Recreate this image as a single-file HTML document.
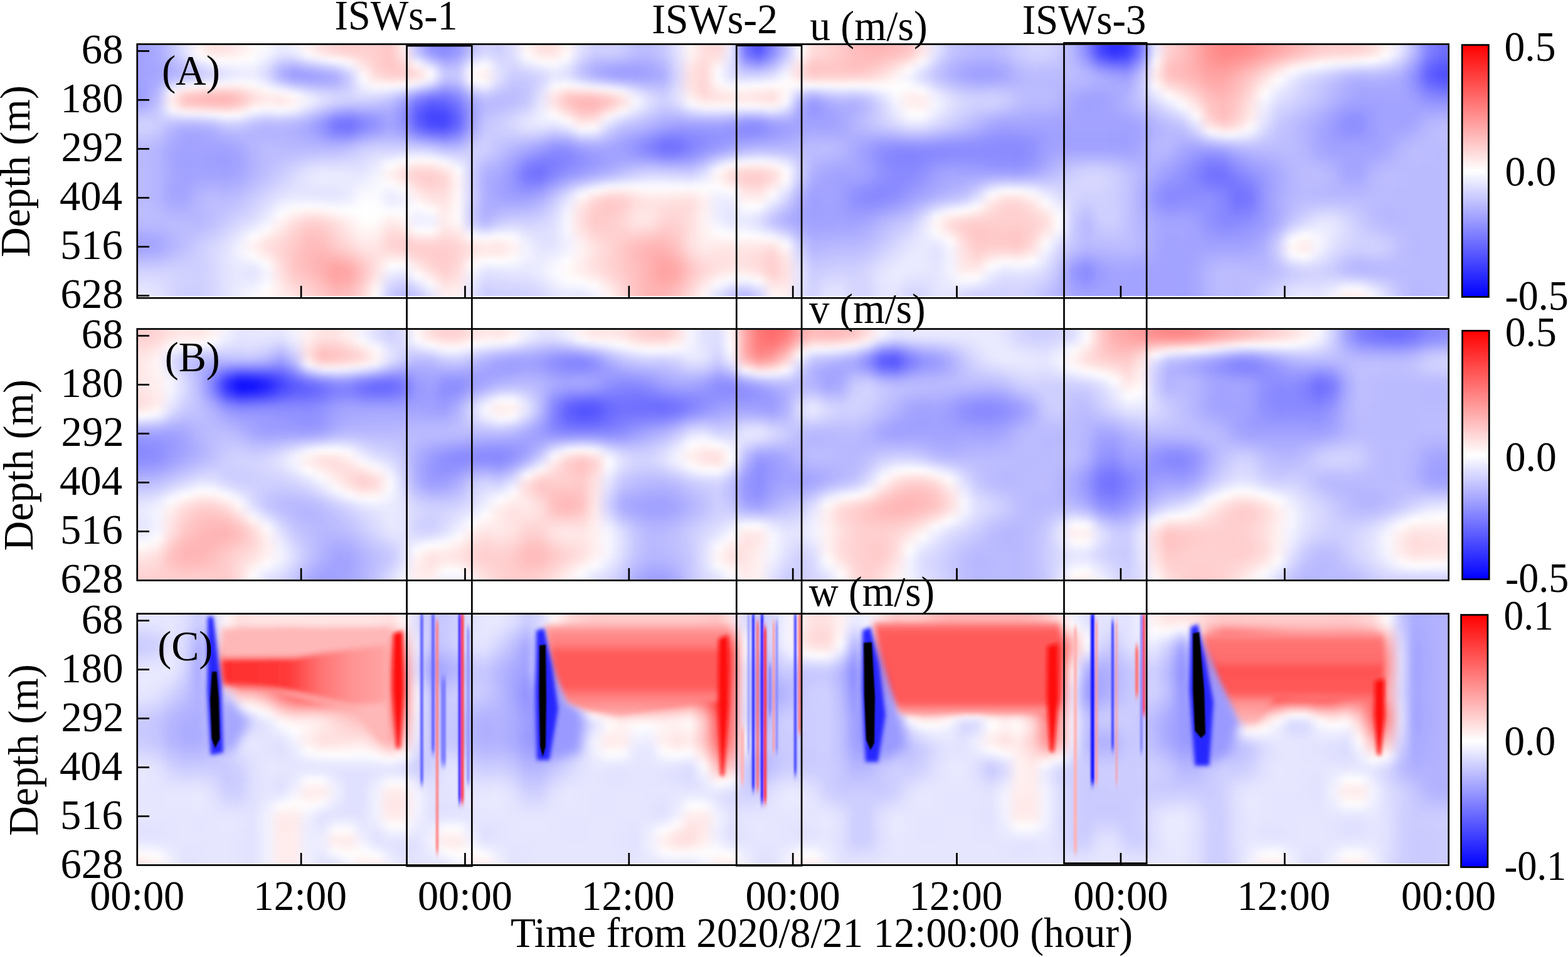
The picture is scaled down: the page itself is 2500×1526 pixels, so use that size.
<!DOCTYPE html><html><head><meta charset="utf-8"><title>ISWs u v w</title><style>html,body{margin:0;padding:0;background:#fff;}#c{position:relative;width:2500px;height:1526px;overflow:hidden}.hp{position:absolute;overflow:hidden}.hb{position:absolute}.hb div{position:absolute;left:0;width:100%;height:9px}svg{position:absolute;left:0;top:0;display:block}</style></head><body><div id="c"><div class="hp" style="left:220.10px;top:71.80px;width:2088.20px;height:399.80px"><div class="hb" style="left:-13.35px;top:-12.00px;width:2114.90px;height:423.80px;filter:blur(4px)"><div style="top:0px;background:linear-gradient(90deg,#a3a3ff 1px,#a3a3ff 23px,#ababff 45px,#c3c3ff 66px,#e2e2ff 88px,#fff5f5 110px,#ffe2e2 132px,#ffe4e4 154px,#ffecec 175px,#fff9f9 197px,#f8f8ff 219px,#e9e9ff 241px,#efefff 262px,#fff3f3 284px,#ffe0e0 306px,#ffd4d4 328px,#ffcece 350px,#ffd0d0 371px,#ffcdcd 393px,#ffc6c6 415px,#ffecec 437px,#c1c1ff 458px,#9393ff 480px,#8989ff 502px,#99f 524px,#c3c3ff 546px,#d4d4ff 567px,#ceceff 589px,#dfdfff 611px,#fff6f6 633px,#ffe1e1 655px,#ffe1e1 676px,#fff6f6 698px,#dfdfff 720px,#cdcdff 742px,#d1d1ff 763px,#ccf 785px,#bdbdff 807px,#bcbcff 829px,#c7c7ff 851px,#e1e1ff 872px,#fff5f5 894px,#ffdede 916px,#ffd8d8 938px,#ededff 959px,#7575ff 981px,#5252ff 1003px,#8686ff 1025px,#c0c0ff 1047px,#fff 1068px,#ffdbdb 1090px,#ffd4d4 1112px,#ffcaca 1134px,#ffbdbd 1155px,#ffb6b6 1177px,#ffb6b6 1199px,#fbb 1221px,#ffc5c5 1243px,#ffe4e4 1264px,#e5e5ff 1286px,#c6c6ff 1308px,#bdbdff 1330px,#b8b8ff 1351px,#b8b8ff 1373px,#bfbfff 1395px,#ccf 1417px,#d4d4ff 1439px,#d5d5ff 1460px,#cacaff 1482px,#b4b4ff 1504px,#88f 1526px,#4747ff 1547px,#2d2dff 1569px,#3c3cff 1591px,#7b7bff 1613px,#ececff 1635px,#ffd1d1 1656px,#ffc1c1 1678px,#ffacac 1700px,#ff9292 1722px,#ff8686 1744px,#ff8787 1765px,#ff8e8e 1787px,#ff9b9b 1809px,#ffa7a7 1831px,#ffb3b3 1852px,#ffbfbf 1874px,#fcc 1896px,#ffd1d1 1918px,#ffcfcf 1940px,#ffd3d3 1961px,#ffdede 1983px,#fff5f5 2005px,#e5e5ff 2027px,#b9b9ff 2048px,#8282ff 2070px,#7070ff 2092px,#7070ff 2114px)"></div><div style="top:8px;background:linear-gradient(90deg,#a3a3ff 1px,#a3a3ff 23px,#ababff 45px,#c3c3ff 66px,#e2e2ff 88px,#fff5f5 110px,#ffe2e2 132px,#ffe4e4 154px,#ffecec 175px,#fff9f9 197px,#f8f8ff 219px,#e9e9ff 241px,#efefff 262px,#fff3f3 284px,#ffe0e0 306px,#ffd4d4 328px,#ffcece 350px,#ffd0d0 371px,#ffcdcd 393px,#ffc6c6 415px,#ffecec 437px,#c1c1ff 458px,#9393ff 480px,#8989ff 502px,#99f 524px,#c3c3ff 546px,#d4d4ff 567px,#ceceff 589px,#dfdfff 611px,#fff6f6 633px,#ffe1e1 655px,#ffe1e1 676px,#fff6f6 698px,#dfdfff 720px,#cdcdff 742px,#d1d1ff 763px,#ccf 785px,#bdbdff 807px,#bcbcff 829px,#c7c7ff 851px,#e1e1ff 872px,#fff5f5 894px,#ffdede 916px,#ffd8d8 938px,#ededff 959px,#7575ff 981px,#5252ff 1003px,#8686ff 1025px,#c0c0ff 1047px,#fff 1068px,#ffdbdb 1090px,#ffd4d4 1112px,#ffcaca 1134px,#ffbdbd 1155px,#ffb6b6 1177px,#ffb6b6 1199px,#fbb 1221px,#ffc5c5 1243px,#ffe4e4 1264px,#e5e5ff 1286px,#c6c6ff 1308px,#bdbdff 1330px,#b8b8ff 1351px,#b8b8ff 1373px,#bfbfff 1395px,#ccf 1417px,#d4d4ff 1439px,#d5d5ff 1460px,#cacaff 1482px,#b4b4ff 1504px,#88f 1526px,#4747ff 1547px,#2d2dff 1569px,#3c3cff 1591px,#7b7bff 1613px,#ececff 1635px,#ffd1d1 1656px,#ffc1c1 1678px,#ffacac 1700px,#ff9292 1722px,#ff8686 1744px,#ff8787 1765px,#ff8e8e 1787px,#ff9b9b 1809px,#ffa7a7 1831px,#ffb3b3 1852px,#ffbfbf 1874px,#fcc 1896px,#ffd1d1 1918px,#ffcfcf 1940px,#ffd3d3 1961px,#ffdede 1983px,#fff5f5 2005px,#e5e5ff 2027px,#b9b9ff 2048px,#8282ff 2070px,#7070ff 2092px,#7070ff 2114px)"></div><div style="top:16px;background:linear-gradient(90deg,#a3a3ff 1px,#a3a3ff 23px,#ababff 45px,#c3c3ff 66px,#e2e2ff 88px,#fff5f5 110px,#ffe2e2 132px,#ffe4e4 154px,#ffecec 175px,#fff9f9 197px,#f8f8ff 219px,#e9e9ff 241px,#efefff 262px,#fff3f3 284px,#ffe0e0 306px,#ffd4d4 328px,#ffcece 350px,#ffd0d0 371px,#ffcdcd 393px,#ffc6c6 415px,#ffecec 437px,#c1c1ff 458px,#9393ff 480px,#8989ff 502px,#99f 524px,#c3c3ff 546px,#d4d4ff 567px,#ceceff 589px,#dfdfff 611px,#fff6f6 633px,#ffe1e1 655px,#ffe1e1 676px,#fff6f6 698px,#dfdfff 720px,#cdcdff 742px,#d1d1ff 763px,#ccf 785px,#bdbdff 807px,#bcbcff 829px,#c7c7ff 851px,#e1e1ff 872px,#fff5f5 894px,#ffdede 916px,#ffd8d8 938px,#ededff 959px,#7575ff 981px,#5252ff 1003px,#8686ff 1025px,#c0c0ff 1047px,#fff 1068px,#ffdbdb 1090px,#ffd4d4 1112px,#ffcaca 1134px,#ffbdbd 1155px,#ffb6b6 1177px,#ffb6b6 1199px,#fbb 1221px,#ffc5c5 1243px,#ffe4e4 1264px,#e5e5ff 1286px,#c6c6ff 1308px,#bdbdff 1330px,#b8b8ff 1351px,#b8b8ff 1373px,#bfbfff 1395px,#ccf 1417px,#d4d4ff 1439px,#d5d5ff 1460px,#cacaff 1482px,#b4b4ff 1504px,#88f 1526px,#4747ff 1547px,#2d2dff 1569px,#3c3cff 1591px,#7b7bff 1613px,#ececff 1635px,#ffd1d1 1656px,#ffc1c1 1678px,#ffacac 1700px,#ff9292 1722px,#ff8686 1744px,#ff8787 1765px,#ff8e8e 1787px,#ff9b9b 1809px,#ffa7a7 1831px,#ffb3b3 1852px,#ffbfbf 1874px,#fcc 1896px,#ffd1d1 1918px,#ffcfcf 1940px,#ffd3d3 1961px,#ffdede 1983px,#fff5f5 2005px,#e5e5ff 2027px,#b9b9ff 2048px,#8282ff 2070px,#7070ff 2092px,#7070ff 2114px)"></div><div style="top:24px;background:linear-gradient(90deg,#a3a3ff 1px,#a3a3ff 23px,#aaf 45px,#c0c0ff 66px,#ddf 88px,#fffdfd 110px,#ffebeb 132px,#ffecec 154px,#fff1f1 175px,#fffcfc 197px,#f3f3ff 219px,#e1e1ff 241px,#e4e4ff 262px,#fdfdff 284px,#fee 306px,#ffe3e3 328px,#ffdada 350px,#ffd4d4 371px,#ffcece 393px,#ffc6c6 415px,#ffe7e7 437px,#ceceff 458px,#a2a2ff 480px,#9191ff 502px,#9f9fff 524px,#ccf 546px,#dcdcff 567px,#d1d1ff 589px,#ddf 611px,#fffcfc 633px,#ffe9e9 655px,#ffe8e8 676px,#fffbfb 698px,#dbdbff 720px,#c8c8ff 742px,#cacaff 763px,#c5c5ff 785px,#b9b9ff 807px,#b8b8ff 829px,#c4c4ff 851px,#dfdfff 872px,#fff3f3 894px,#fdd 916px,#ffdede 938px,#eaeaff 959px,#7f7fff 981px,#6161ff 1003px,#9090ff 1025px,#c6c6ff 1047px,#fffafa 1068px,#ffd8d8 1090px,#ffd2d2 1112px,#ffc9c9 1134px,#ffbebe 1155px,#ffb9b9 1177px,#fbb 1199px,#ffc1c1 1221px,#ffcdcd 1243px,#ffecec 1264px,#e1e1ff 1286px,#c3c3ff 1308px,#babaff 1330px,#b5b5ff 1351px,#b5b5ff 1373px,#bcbcff 1395px,#cacaff 1417px,#d1d1ff 1439px,#d2d2ff 1460px,#c9c9ff 1482px,#b6b6ff 1504px,#8e8eff 1526px,#5252ff 1547px,#3a3aff 1569px,#4646ff 1591px,#8383ff 1613px,#f1f1ff 1635px,#ffcfcf 1656px,#ffc0c0 1678px,#ffacac 1700px,#ff9494 1722px,#ff8989 1744px,#ff8c8c 1765px,#ff9494 1787px,#ffa2a2 1809px,#ffb0b0 1831px,#ffbdbd 1852px,#ffcaca 1874px,#ffd6d6 1896px,#ffdcdc 1918px,#ffdcdc 1940px,#ffe0e0 1961px,#ffeaea 1983px,#fffefe 2005px,#dfdfff 2027px,#b4b4ff 2048px,#7e7eff 2070px,#6c6cff 2092px,#6c6cff 2114px)"></div><div style="top:32px;background:linear-gradient(90deg,#a3a3ff 1px,#a3a3ff 23px,#a9a9ff 45px,#babaff 66px,#d1d1ff 88px,#efefff 110px,#fffefe 132px,#fffbfb 154px,#fffcfc 175px,#fbfbff 197px,#ebebff 219px,#d2d2ff 241px,#cfcfff 262px,#e3e3ff 284px,#f3f3ff 306px,#fff 328px,#fff0f0 350px,#ffdcdc 371px,#ffcece 393px,#ffc5c5 415px,#fdd 437px,#e9e9ff 458px,#bebeff 480px,#a1a1ff 502px,#acacff 524px,#ddf 546px,#ececff 567px,#d6d6ff 589px,#d9d9ff 611px,#f5f5ff 633px,#fff9f9 655px,#fff6f6 676px,#f7f7ff 698px,#d1d1ff 720px,#bebeff 742px,#bdbdff 763px,#b8b8ff 785px,#b0b0ff 807px,#b2b2ff 829px,#bdbdff 851px,#dcdcff 872px,#fee 894px,#ffdbdb 916px,#ffe8e8 938px,#e5e5ff 959px,#9191ff 981px,#7b7bff 1003px,#a1a1ff 1025px,#d2d2ff 1047px,#ffefef 1068px,#ffcfcf 1090px,#ffcdcd 1112px,#ffc7c7 1134px,#ffbebe 1155px,#ffbcbc 1177px,#ffc1c1 1199px,#ffcdcd 1221px,#fdd 1243px,#fffbfb 1264px,#d8d8ff 1286px,#bdbdff 1308px,#b3b3ff 1330px,#aeaeff 1351px,#aeaeff 1373px,#b5b5ff 1395px,#c4c4ff 1417px,#ccf 1439px,#ccf 1460px,#c5c5ff 1482px,#b8b8ff 1504px,#99f 1526px,#6868ff 1547px,#5353ff 1569px,#5a5aff 1591px,#9292ff 1613px,#fbfbff 1635px,#ffc9c9 1656px,#ffbdbd 1678px,#ffacac 1700px,#ff9797 1722px,#ff8f8f 1744px,#ff9494 1765px,#ff9f9f 1787px,#ffafaf 1809px,#ffbfbf 1831px,#ffd0d0 1852px,#ffdede 1874px,#ffeaea 1896px,#fff1f1 1918px,#fff4f4 1940px,#fff9f9 1961px,#fff 1983px,#eef 2005px,#d3d3ff 2027px,#ababff 2048px,#7575ff 2070px,#6464ff 2092px,#6464ff 2114px)"></div><div style="top:40px;background:linear-gradient(90deg,#a3a3ff 1px,#a3a3ff 23px,#a7a7ff 45px,#b4b4ff 66px,#c5c5ff 88px,#dcdcff 110px,#ebebff 132px,#f3f3ff 154px,#f5f5ff 175px,#f4f4ff 197px,#e2e2ff 219px,#c1c1ff 241px,#b7b7ff 262px,#c6c6ff 284px,#d3d3ff 306px,#dfdfff 328px,#f6f6ff 350px,#ffe6e6 371px,#ffd0d0 393px,#ffc5c5 415px,#ffd3d3 437px,#fff8f8 458px,#dedeff 480px,#b3b3ff 502px,#babaff 524px,#f1f1ff 546px,#fdfdff 567px,#dcdcff 589px,#d5d5ff 611px,#e6e6ff 633px,#f2f2ff 655px,#f9f9ff 676px,#ebebff 698px,#c7c7ff 720px,#b3b3ff 742px,#aeaeff 763px,#aaf 785px,#a6a6ff 807px,#aaf 829px,#b5b5ff 851px,#d9d9ff 872px,#ffe8e8 894px,#ffd8d8 916px,#fff4f4 938px,#e0e0ff 959px,#a7a7ff 981px,#99f 1003px,#b6b6ff 1025px,#e1e1ff 1047px,#ffe4e4 1068px,#ffc7c7 1090px,#ffc8c8 1112px,#ffc5c5 1134px,#ffbfbf 1155px,#ffc1c1 1177px,#ffcaca 1199px,#ffdada 1221px,#fff0f0 1243px,#f2f2ff 1264px,#ceceff 1286px,#b7b7ff 1308px,#acacff 1330px,#a7a7ff 1351px,#a7a7ff 1373px,#afafff 1395px,#bebeff 1417px,#c6c6ff 1439px,#c5c5ff 1460px,#c1c1ff 1482px,#babaff 1504px,#a5a5ff 1526px,#8181ff 1547px,#7070ff 1569px,#7171ff 1591px,#a3a3ff 1613px,#fff9f9 1635px,#ffc3c3 1656px,#ffbaba 1678px,#ffacac 1700px,#ff9b9b 1722px,#ff9696 1744px,#ff9e9e 1765px,#ffabab 1787px,#ffbebe 1809px,#ffd1d1 1831px,#ffe6e6 1852px,#fff5f5 1874px,#fdfdff 1896px,#f4f4ff 1918px,#eef 1940px,#e9e9ff 1961px,#e6e6ff 1983px,#dadaff 2005px,#c5c5ff 2027px,#a0a0ff 2048px,#6c6cff 2070px,#5b5bff 2092px,#5b5bff 2114px)"></div><div style="top:48px;background:linear-gradient(90deg,#a3a3ff 1px,#a3a3ff 23px,#a6a6ff 45px,#b0b0ff 66px,#bdbdff 88px,#ceceff 110px,#dcdcff 132px,#e6e6ff 154px,#ededff 175px,#eef 197px,#dbdbff 219px,#b4b4ff 241px,#a4a4ff 262px,#adadff 284px,#b7b7ff 306px,#c2c2ff 328px,#dfdfff 350px,#fff1f1 371px,#ffd4d4 393px,#ffc8c8 415px,#ffcdcd 437px,#ffe2e2 458px,#f7f7ff 480px,#c2c2ff 502px,#c5c5ff 524px,#fffdfd 546px,#fff4f4 567px,#e1e1ff 589px,#d0d0ff 611px,#d8d8ff 633px,#e2e2ff 655px,#ededff 676px,#e2e2ff 698px,#c2c2ff 720px,#adadff 742px,#a4a4ff 763px,#a0a0ff 785px,#a0a0ff 807px,#a5a5ff 829px,#b0b0ff 851px,#d6d6ff 872px,#ffe4e4 894px,#ffd6d6 916px,#fffefe 938px,#ddf 959px,#bebeff 981px,#b8b8ff 1003px,#cacaff 1025px,#eef 1047px,#fdd 1068px,#ffc4c4 1090px,#ffc7c7 1112px,#ffc7c7 1134px,#ffc3c3 1155px,#ffc8c8 1177px,#ffd4d4 1199px,#ffe7e7 1221px,#fefeff 1243px,#e3e3ff 1264px,#c6c6ff 1286px,#b3b3ff 1308px,#a7a7ff 1330px,#a2a2ff 1351px,#a2a2ff 1373px,#a9a9ff 1395px,#b9b9ff 1417px,#c0c0ff 1439px,#bfbfff 1460px,#bebeff 1482px,#bcbcff 1504px,#afafff 1526px,#9898ff 1547px,#8a8aff 1569px,#8787ff 1591px,#b3b3ff 1613px,#fff1f1 1635px,#ffc0c0 1656px,#ffb9b9 1678px,#ffaeae 1700px,#ff9f9f 1722px,#ff9d9d 1744px,#ffa7a7 1765px,#ffb8b8 1787px,#ffcdcd 1809px,#ffe4e4 1831px,#fffbfb 1852px,#f2f2ff 1874px,#e8e8ff 1896px,#ddf 1918px,#d3d3ff 1940px,#ceceff 1961px,#ceceff 1983px,#c7c7ff 2005px,#b8b8ff 2027px,#9797ff 2048px,#6565ff 2070px,#5454ff 2092px,#5454ff 2114px)"></div><div style="top:56px;background:linear-gradient(90deg,#a3a3ff 1px,#a3a3ff 23px,#a7a7ff 45px,#b3b3ff 66px,#bfbfff 88px,#cbcbff 110px,#d7d7ff 132px,#e4e4ff 154px,#ebebff 175px,#ededff 197px,#dadaff 219px,#b1b1ff 241px,#9e9eff 262px,#a0a0ff 284px,#a6a6ff 306px,#b0b0ff 328px,#cfcfff 350px,#fffbfb 371px,#ffdbdb 393px,#ffd0d0 415px,#ffd0d0 437px,#ffdbdb 458px,#fffefe 480px,#c6c6ff 502px,#c8c8ff 524px,#fff7f7 546px,#ffefef 567px,#e1e1ff 589px,#ccf 611px,#ceceff 633px,#d7d7ff 655px,#e7e7ff 676px,#e1e1ff 698px,#c5c5ff 720px,#b1b1ff 742px,#a6a6ff 763px,#a0a0ff 785px,#a1a1ff 807px,#a5a5ff 829px,#adadff 851px,#d5d5ff 872px,#ffe2e2 894px,#ffd6d6 916px,#fbfbff 938px,#dedeff 959px,#d1d1ff 981px,#d1d1ff 1003px,#ddf 1025px,#f7f7ff 1047px,#fdd 1068px,#ffcaca 1090px,#ffcece 1112px,#ffcfcf 1134px,#ffcdcd 1155px,#ffd3d3 1177px,#ffdfdf 1199px,#fff1f1 1221px,#f4f4ff 1243px,#dcdcff 1264px,#c4c4ff 1286px,#b2b2ff 1308px,#a7a7ff 1330px,#a1a1ff 1351px,#a1a1ff 1373px,#a8a8ff 1395px,#b6b6ff 1417px,#bcbcff 1439px,#bbf 1460px,#bbf 1482px,#bcbcff 1504px,#b5b5ff 1526px,#a7a7ff 1547px,#9d9dff 1569px,#9898ff 1591px,#bebeff 1613px,#fee 1635px,#ffc2c2 1656px,#fbb 1678px,#ffb1b1 1700px,#ffa3a3 1722px,#ffa3a3 1744px,#ffb0b0 1765px,#ffc2c2 1787px,#ffdada 1809px,#fff3f3 1831px,#f3f3ff 1852px,#e2e2ff 1874px,#d7d7ff 1896px,#ccf 1918px,#bfbfff 1940px,#babaff 1961px,#bcbcff 1983px,#b8b8ff 2005px,#aeaeff 2027px,#9191ff 2048px,#6262ff 2070px,#5252ff 2092px,#5252ff 2114px)"></div><div style="top:64px;background:linear-gradient(90deg,#a3a3ff 1px,#a3a3ff 23px,#aaf 45px,#c1c1ff 66px,#d1d1ff 88px,#dbdbff 110px,#e5e5ff 132px,#f1f1ff 154px,#f6f6ff 175px,#f5f5ff 197px,#e2e2ff 219px,#bebeff 241px,#aaf 262px,#a6a6ff 284px,#a8a8ff 306px,#aeaeff 328px,#cacaff 350px,#fafaff 371px,#ffe8e8 393px,#ffe0e0 415px,#ffe2e2 437px,#ffeded 458px,#f2f2ff 480px,#bdbdff 502px,#c1c1ff 524px,#fefeff 546px,#fff7f7 567px,#ddf 589px,#c8c8ff 611px,#c9c9ff 633px,#d4d4ff 655px,#ebebff 676px,#ececff 698px,#d7d7ff 720px,#c6c6ff 742px,#babaff 763px,#b1b1ff 785px,#acacff 807px,#acacff 829px,#b1b1ff 851px,#d6d6ff 872px,#ffe2e2 894px,#ffd5d5 916px,#fefeff 938px,#e7e7ff 959px,#e4e4ff 981px,#e7e7ff 1003px,#eef 1025px,#fefeff 1047px,#ffeaea 1068px,#ffdfdf 1090px,#ffe0e0 1112px,#ffe0e0 1134px,#ffe1e1 1155px,#ffe4e4 1177px,#ffebeb 1199px,#fff8f8 1221px,#f5f5ff 1243px,#e0e0ff 1264px,#c9c9ff 1286px,#b8b8ff 1308px,#acacff 1330px,#a7a7ff 1351px,#a7a7ff 1373px,#acacff 1395px,#b6b6ff 1417px,#babaff 1439px,#b9b9ff 1460px,#b9b9ff 1482px,#b9b9ff 1504px,#b5b5ff 1526px,#adadff 1547px,#a7a7ff 1569px,#a3a3ff 1591px,#c4c4ff 1613px,#fff2f2 1635px,#ffcbcb 1656px,#ffc2c2 1678px,#ffb7b7 1700px,#ffa8a8 1722px,#ffa8a8 1744px,#ffb5b5 1765px,#ffcaca 1787px,#ffe5e5 1809px,#fffefe 1831px,#e9e9ff 1852px,#d8d8ff 1874px,#ceceff 1896px,#c2c2ff 1918px,#b4b4ff 1940px,#afafff 1961px,#b2b2ff 1983px,#afafff 2005px,#a9a9ff 2027px,#9090ff 2048px,#66f 2070px,#5858ff 2092px,#5858ff 2114px)"></div><div style="top:72px;background:linear-gradient(90deg,#a1a1ff 1px,#a1a1ff 23px,#afafff 45px,#d9d9ff 66px,#f2f2ff 88px,#fafaff 110px,#fffbfb 132px,#fff3f3 154px,#fff3f3 175px,#fffbfb 197px,#f2f2ff 219px,#d8d8ff 241px,#c5c5ff 262px,#babaff 284px,#b6b6ff 306px,#b8b8ff 328px,#ccf 350px,#f1f1ff 371px,#fff9f9 393px,#fff7f7 415px,#fff 437px,#eef 458px,#d2d2ff 480px,#aaf 502px,#b2b2ff 524px,#eaeaff 546px,#f5f5ff 567px,#d3d3ff 589px,#c3c3ff 611px,#c5c5ff 633px,#d7d7ff 655px,#f8f8ff 676px,#fffcfc 698px,#f5f5ff 720px,#e9e9ff 742px,#dedeff 763px,#d0d0ff 785px,#c2c2ff 807px,#babaff 829px,#babaff 851px,#dadaff 872px,#ffe3e3 894px,#ffd4d4 916px,#fff6f6 938px,#f7f7ff 959px,#f9f9ff 981px,#fcfcff 1003px,#fffcfc 1025px,#fffbfb 1047px,#fdfdff 1068px,#fdfdff 1090px,#fffbfb 1112px,#fffafa 1134px,#fffcfc 1155px,#fffcfc 1177px,#fffbfb 1199px,#fffcfc 1221px,#fcfcff 1243px,#ededff 1264px,#d5d5ff 1286px,#c3c3ff 1308px,#b7b7ff 1330px,#b2b2ff 1351px,#b4b4ff 1373px,#b6b6ff 1395px,#b9b9ff 1417px,#babaff 1439px,#babaff 1460px,#b8b8ff 1482px,#b5b5ff 1504px,#b1b1ff 1526px,#acacff 1547px,#aaf 1569px,#aaf 1591px,#c7c7ff 1613px,#fffdfd 1635px,#ffd9d9 1656px,#ffcdcd 1678px,#ffbebe 1700px,#ffaeae 1722px,#ffacac 1744px,#ffbaba 1765px,#ffd0d0 1787px,#ffefef 1809px,#f6f6ff 1831px,#e2e2ff 1852px,#d3d3ff 1874px,#c8c8ff 1896px,#bcbcff 1918px,#afafff 1940px,#a9a9ff 1961px,#ababff 1983px,#aaf 2005px,#a6a6ff 2027px,#9393ff 2048px,#7070ff 2070px,#6464ff 2092px,#6464ff 2114px)"></div><div style="top:80px;background:linear-gradient(90deg,#a0a0ff 1px,#a0a0ff 23px,#b5b5ff 45px,#f3f3ff 66px,#ffe9e9 88px,#ffe0e0 110px,#ffdada 132px,#ffd5d5 154px,#ffdada 175px,#ffebeb 197px,#fffafa 219px,#f6f6ff 241px,#e6e6ff 262px,#d4d4ff 284px,#cacaff 306px,#c7c7ff 328px,#d1d1ff 350px,#e8e8ff 371px,#f1f1ff 393px,#ededff 415px,#dedeff 437px,#c3c3ff 458px,#a9a9ff 480px,#9191ff 502px,#9f9fff 524px,#d1d1ff 546px,#dfdfff 567px,#c9c9ff 589px,#bfbfff 611px,#c4c4ff 633px,#dcdcff 655px,#fff6f6 676px,#ffe2e2 698px,#ffe7e7 720px,#fee 742px,#fff8f8 763px,#f4f4ff 785px,#dadaff 807px,#cacaff 829px,#c4c4ff 851px,#dedeff 872px,#ffe6e6 894px,#ffd5d5 916px,#ffebeb 938px,#fff5f5 959px,#fff3f3 981px,#ffefef 1003px,#ffeaea 1025px,#fff9f9 1047px,#e3e3ff 1068px,#d8d8ff 1090px,#e3e3ff 1112px,#e7e7ff 1134px,#e4e4ff 1155px,#e8e8ff 1177px,#f4f4ff 1199px,#fefeff 1221px,#fff8f8 1243px,#fdfdff 1264px,#e3e3ff 1286px,#cfcfff 1308px,#c4c4ff 1330px,#bfbfff 1351px,#c2c2ff 1373px,#c1c1ff 1395px,#bcbcff 1417px,#bbf 1439px,#bbf 1460px,#b8b8ff 1482px,#b0b0ff 1504px,#ababff 1526px,#a8a8ff 1547px,#a9a9ff 1569px,#aeaeff 1591px,#c7c7ff 1613px,#f4f4ff 1635px,#ffebeb 1656px,#ffd9d9 1678px,#ffc7c7 1700px,#ffb3b3 1722px,#ffb0b0 1744px,#ffbebe 1765px,#ffd5d5 1787px,#fff8f8 1809px,#ededff 1831px,#dedeff 1852px,#d0d0ff 1874px,#c6c6ff 1896px,#b9b9ff 1918px,#acacff 1940px,#a6a6ff 1961px,#a7a7ff 1983px,#a7a7ff 2005px,#a6a6ff 2027px,#9797ff 2048px,#7b7bff 2070px,#7272ff 2092px,#7272ff 2114px)"></div><div style="top:88px;background:linear-gradient(90deg,#a0a0ff 1px,#a0a0ff 23px,#babaff 45px,#fff7f7 66px,#fcc 88px,#ffc4c4 110px,#ffbfbf 132px,#ffbdbd 154px,#ffc8c8 175px,#ffe0e0 197px,#ffeded 219px,#fff0f0 241px,#fffdfd 262px,#eaeaff 284px,#dadaff 306px,#d3d3ff 328px,#d4d4ff 350px,#dedeff 371px,#dedeff 393px,#d5d5ff 415px,#bfbfff 437px,#9a9aff 458px,#8383ff 480px,#7a7aff 502px,#8c8cff 524px,#babaff 546px,#cbcbff 567px,#bfbfff 589px,#bdbdff 611px,#c4c4ff 633px,#e2e2ff 655px,#ffe9e9 676px,#ffcdcd 698px,#ffc9c9 720px,#fcc 742px,#ffd6d6 763px,#ffeded 785px,#eef 807px,#d7d7ff 829px,#ccf 851px,#e0e0ff 872px,#ffeded 894px,#ffd9d9 916px,#ffe4e4 938px,#ffe8e8 959px,#ffe8e8 981px,#ffe5e5 1003px,#ffdfdf 1025px,#fffafa 1047px,#cacaff 1068px,#b5b5ff 1090px,#c6c6ff 1112px,#cdcdff 1134px,#c9c9ff 1155px,#d1d1ff 1177px,#e6e6ff 1199px,#fafaff 1221px,#ffefef 1243px,#fff3f3 1264px,#eef 1286px,#dadaff 1308px,#cfcfff 1330px,#cbcbff 1351px,#cdcdff 1373px,#c9c9ff 1395px,#bfbfff 1417px,#babaff 1439px,#bcbcff 1460px,#b7b7ff 1482px,#ababff 1504px,#a5a5ff 1526px,#a3a3ff 1547px,#a8a8ff 1569px,#b1b1ff 1591px,#c6c6ff 1613px,#e7e7ff 1635px,#fffcfc 1656px,#ffe7e7 1678px,#ffd0d0 1700px,#ffbaba 1722px,#ffb4b4 1744px,#ffc1c1 1765px,#ffdbdb 1787px,#fefeff 1809px,#e6e6ff 1831px,#dadaff 1852px,#cfcfff 1874px,#c3c3ff 1896px,#b7b7ff 1918px,#ababff 1940px,#a4a4ff 1961px,#a5a5ff 1983px,#a5a5ff 2005px,#a5a5ff 2027px,#9b9bff 2048px,#8787ff 2070px,#8080ff 2092px,#8080ff 2114px)"></div><div style="top:96px;background:linear-gradient(90deg,#a3a3ff 1px,#a3a3ff 23px,#bfbfff 45px,#fee 66px,#ffc2c2 88px,#ffbaba 110px,#ffb6b6 132px,#ffb5b5 154px,#ffc2c2 175px,#ffdede 197px,#ffeaea 219px,#ffe5e5 241px,#fff0f0 262px,#f3f3ff 284px,#e0e0ff 306px,#d4d4ff 328px,#d0d0ff 350px,#d2d2ff 371px,#cdcdff 393px,#c3c3ff 415px,#a9a9ff 437px,#7e7eff 458px,#6868ff 480px,#6969ff 502px,#7f7fff 524px,#ababff 546px,#bebeff 567px,#babaff 589px,#bdbdff 611px,#c6c6ff 633px,#e5e5ff 655px,#ffe4e4 676px,#ffc4c4 698px,#ffb9b9 720px,#ffbaba 742px,#ffc6c6 763px,#ffdfdf 785px,#f7f7ff 807px,#ddf 829px,#cfcfff 851px,#ddf 872px,#fff7f7 894px,#ffe3e3 916px,#ffe6e6 938px,#ffe8e8 959px,#ffe8e8 981px,#ffe5e5 1003px,#ffe0e0 1025px,#fefeff 1047px,#b8b8ff 1068px,#9f9fff 1090px,#b2b2ff 1112px,#babaff 1134px,#b7b7ff 1155px,#c2c2ff 1177px,#dbdbff 1199px,#f6f6ff 1221px,#ffeded 1243px,#ffeded 1264px,#f4f4ff 1286px,#e0e0ff 1308px,#d5d5ff 1330px,#d0d0ff 1351px,#d2d2ff 1373px,#ccf 1395px,#bfbfff 1417px,#b9b9ff 1439px,#bbf 1460px,#b5b5ff 1482px,#a8a8ff 1504px,#a1a1ff 1526px,#a1a1ff 1547px,#a7a7ff 1569px,#b2b2ff 1591px,#c4c4ff 1613px,#dcdcff 1635px,#f3f3ff 1656px,#fff4f4 1678px,#ffdbdb 1700px,#ffc0c0 1722px,#ffb9b9 1744px,#ffc6c6 1765px,#ffe0e0 1787px,#f7f7ff 1809px,#dfdfff 1831px,#d5d5ff 1852px,#cbcbff 1874px,#c0c0ff 1896px,#b4b4ff 1918px,#a7a7ff 1940px,#a1a1ff 1961px,#a3a3ff 1983px,#a4a4ff 2005px,#a5a5ff 2027px,#9f9fff 2048px,#9191ff 2070px,#8d8dff 2092px,#8d8dff 2114px)"></div><div style="top:104px;background:linear-gradient(90deg,#ababff 1px,#ababff 23px,#c3c3ff 45px,#fff5f5 66px,#ffcfcf 88px,#ffc9c9 110px,#ffc5c5 132px,#ffc2c2 154px,#ffcece 175px,#ffebeb 197px,#fff5f5 219px,#fee 241px,#fff8f8 262px,#ececff 284px,#d7d7ff 306px,#c7c7ff 328px,#bfbfff 350px,#c1c1ff 371px,#bebeff 393px,#b7b7ff 415px,#9c9cff 437px,#6d6dff 458px,#5858ff 480px,#5c5cff 502px,#7575ff 524px,#a3a3ff 546px,#babaff 567px,#bbf 589px,#c1c1ff 611px,#cbcbff 633px,#e8e8ff 655px,#ffe8e8 676px,#ffc8c8 698px,#ffb7b7 720px,#ffb8b8 742px,#ffcaca 763px,#ffe5e5 785px,#f4f4ff 807px,#dbdbff 829px,#ccf 851px,#d5d5ff 872px,#f6f6ff 894px,#fff7f7 916px,#fff7f7 938px,#fff8f8 959px,#fffafa 981px,#fff8f8 1003px,#fff1f1 1025px,#f0f0ff 1047px,#aeaeff 1068px,#9696ff 1090px,#a7a7ff 1112px,#b0b0ff 1134px,#afafff 1155px,#bcbcff 1177px,#d5d5ff 1199px,#f1f1ff 1221px,#fff0f0 1243px,#ffefef 1264px,#f4f4ff 1286px,#e1e1ff 1308px,#d5d5ff 1330px,#cfcfff 1351px,#cfcfff 1373px,#c8c8ff 1395px,#bbf 1417px,#b6b6ff 1439px,#b7b7ff 1460px,#b2b2ff 1482px,#a6a6ff 1504px,#a0a0ff 1526px,#a1a1ff 1547px,#a7a7ff 1569px,#b1b1ff 1591px,#c0c0ff 1613px,#d2d2ff 1635px,#e6e6ff 1656px,#fcfcff 1678px,#ffe6e6 1700px,#ffc5c5 1722px,#fbb 1744px,#ffc8c8 1765px,#ffe4e4 1787px,#f1f1ff 1809px,#d9d9ff 1831px,#d0d0ff 1852px,#c6c6ff 1874px,#bbf 1896px,#aeaeff 1918px,#a1a1ff 1940px,#9d9dff 1961px,#a0a0ff 1983px,#a2a2ff 2005px,#a3a3ff 2027px,#a1a1ff 2048px,#9a9aff 2070px,#9898ff 2092px,#9898ff 2114px)"></div><div style="top:112px;background:linear-gradient(90deg,#b7b7ff 1px,#b7b7ff 23px,#c7c7ff 45px,#f7f7ff 66px,#ffeded 88px,#ffe9e9 110px,#ffe3e3 132px,#fdd 154px,#ffe7e7 175px,#fdfdff 197px,#f4f4ff 219px,#fafaff 241px,#f2f2ff 262px,#dbdbff 284px,#c5c5ff 306px,#afafff 328px,#a6a6ff 350px,#acacff 371px,#aeaeff 393px,#aeaeff 415px,#9595ff 437px,#6262ff 458px,#4c4cff 480px,#5050ff 502px,#6c6cff 524px,#9f9fff 546px,#bbf 567px,#c0c0ff 589px,#c8c8ff 611px,#d4d4ff 633px,#ebebff 655px,#fff1f1 676px,#ffd5d5 698px,#ffbfbf 720px,#ffc1c1 742px,#ffdbdb 763px,#fff7f7 785px,#e9e9ff 807px,#d3d3ff 829px,#c4c4ff 851px,#c8c8ff 872px,#dfdfff 894px,#ebebff 916px,#ececff 938px,#eaeaff 959px,#e3e3ff 981px,#e5e5ff 1003px,#eef 1025px,#dadaff 1047px,#a8a8ff 1068px,#9595ff 1090px,#a2a2ff 1112px,#aaf 1134px,#aeaeff 1155px,#bcbcff 1177px,#d3d3ff 1199px,#ececff 1221px,#fff8f8 1243px,#fff6f6 1264px,#f0f0ff 1286px,#dedeff 1308px,#d2d2ff 1330px,#cacaff 1351px,#c6c6ff 1373px,#bfbfff 1395px,#b5b5ff 1417px,#b1b1ff 1439px,#b2b2ff 1460px,#aeaeff 1482px,#a5a5ff 1504px,#a0a0ff 1526px,#a1a1ff 1547px,#a6a6ff 1569px,#adadff 1591px,#b9b9ff 1613px,#c8c8ff 1635px,#d9d9ff 1656px,#ededff 1678px,#fff2f2 1700px,#ffc8c8 1722px,#fbb 1744px,#ffcaca 1765px,#ffe7e7 1787px,#ededff 1809px,#d3d3ff 1831px,#cbcbff 1852px,#c1c1ff 1874px,#b5b5ff 1896px,#a9a9ff 1918px,#9b9bff 1940px,#9898ff 1961px,#9f9fff 1983px,#a2a2ff 2005px,#a2a2ff 2027px,#a2a2ff 2048px,#a3a3ff 2070px,#a3a3ff 2092px,#a3a3ff 2114px)"></div><div style="top:120px;background:linear-gradient(90deg,#c3c3ff 1px,#c3c3ff 23px,#cacaff 45px,#e1e1ff 66px,#ededff 88px,#efefff 110px,#f6f6ff 132px,#fffefe 154px,#fafaff 175px,#e4e4ff 197px,#dbdbff 219px,#e0e0ff 241px,#d9d9ff 262px,#c7c7ff 284px,#b0b0ff 306px,#9595ff 328px,#8d8dff 350px,#9797ff 371px,#a0a0ff 393px,#a8a8ff 415px,#9191ff 437px,#5d5dff 458px,#4545ff 480px,#4848ff 502px,#66f 524px,#9f9fff 546px,#bfbfff 567px,#c6c6ff 589px,#d0d0ff 611px,#dedeff 633px,#eef 655px,#fffefe 676px,#ffe7e7 698px,#ffcdcd 720px,#ffd1d1 742px,#fff4f4 763px,#eef 785px,#d9d9ff 807px,#c8c8ff 829px,#babaff 851px,#babaff 872px,#c7c7ff 894px,#ceceff 916px,#ceceff 938px,#c9c9ff 959px,#bebeff 981px,#bfbfff 1003px,#cbcbff 1025px,#c2c2ff 1047px,#a5a5ff 1068px,#99f 1090px,#a0a0ff 1112px,#a8a8ff 1134px,#b1b1ff 1155px,#bfbfff 1177px,#d2d2ff 1199px,#e7e7ff 1221px,#fdfdff 1243px,#fdfdff 1264px,#e9e9ff 1286px,#d9d9ff 1308px,#cdcdff 1330px,#c3c3ff 1351px,#babaff 1373px,#b4b4ff 1395px,#afafff 1417px,#acacff 1439px,#acacff 1460px,#a9a9ff 1482px,#a4a4ff 1504px,#a2a2ff 1526px,#a2a2ff 1547px,#a4a4ff 1569px,#a8a8ff 1591px,#b1b1ff 1613px,#bfbfff 1635px,#ceceff 1656px,#dedeff 1678px,#fff 1700px,#ffcdcd 1722px,#ffbdbd 1744px,#ffcdcd 1765px,#ffeaea 1787px,#e9e9ff 1809px,#cfcfff 1831px,#c6c6ff 1852px,#bbf 1874px,#b0b0ff 1896px,#a3a3ff 1918px,#9595ff 1940px,#9393ff 1961px,#9e9eff 1983px,#a3a3ff 2005px,#a1a1ff 2027px,#a4a4ff 2048px,#ababff 2070px,#adadff 2092px,#adadff 2114px)"></div><div style="top:128px;background:linear-gradient(90deg,#cdcdff 1px,#cdcdff 23px,#ccf 45px,#cbcbff 66px,#cbcbff 88px,#ccf 110px,#d3d3ff 132px,#e1e1ff 154px,#dfdfff 175px,#ccf 197px,#c5c5ff 219px,#c8c8ff 241px,#c2c2ff 262px,#b4b4ff 284px,#9e9eff 306px,#8080ff 328px,#7979ff 350px,#8989ff 371px,#9797ff 393px,#a5a5ff 415px,#9292ff 437px,#5e5eff 458px,#4545ff 480px,#4545ff 502px,#6464ff 524px,#a1a1ff 546px,#c3c3ff 567px,#cbcbff 589px,#d6d6ff 611px,#e4e4ff 633px,#ededff 655px,#f1f1ff 676px,#fffbfb 698px,#ffdede 720px,#ffe3e3 742px,#f2f2ff 763px,#d7d7ff 785px,#c9c9ff 807px,#bcbcff 829px,#b0b0ff 851px,#acacff 872px,#b1b1ff 894px,#b3b3ff 916px,#b4b4ff 938px,#adadff 959px,#9e9eff 981px,#9e9eff 1003px,#adadff 1025px,#afafff 1047px,#a4a4ff 1068px,#9f9fff 1090px,#a1a1ff 1112px,#a7a7ff 1134px,#b3b3ff 1155px,#c1c1ff 1177px,#d0d0ff 1199px,#e0e0ff 1221px,#f1f1ff 1243px,#f1f1ff 1264px,#e0e0ff 1286px,#d2d2ff 1308px,#c6c6ff 1330px,#babaff 1351px,#afafff 1373px,#a9a9ff 1395px,#a8a8ff 1417px,#a7a7ff 1439px,#a6a6ff 1460px,#a5a5ff 1482px,#a4a4ff 1504px,#a3a3ff 1526px,#a3a3ff 1547px,#a3a3ff 1569px,#a4a4ff 1591px,#ababff 1613px,#b8b8ff 1635px,#c4c4ff 1656px,#d0d0ff 1678px,#f1f1ff 1700px,#ffd6d6 1722px,#ffc2c2 1744px,#ffd3d3 1765px,#fff0f0 1787px,#e5e5ff 1809px,#cbcbff 1831px,#c1c1ff 1852px,#b7b7ff 1874px,#acacff 1896px,#9f9fff 1918px,#9090ff 1940px,#9090ff 1961px,#9e9eff 1983px,#a4a4ff 2005px,#a1a1ff 2027px,#a6a6ff 2048px,#b1b1ff 2070px,#b5b5ff 2092px,#b5b5ff 2114px)"></div><div style="top:136px;background:linear-gradient(90deg,#d1d1ff 1px,#d1d1ff 23px,#ccf 45px,#bdbdff 66px,#b5b5ff 88px,#b5b5ff 110px,#bcbcff 132px,#cbcbff 154px,#cbcbff 175px,#bebeff 197px,#b8b8ff 219px,#babaff 241px,#b5b5ff 262px,#ababff 284px,#9696ff 306px,#7878ff 328px,#7272ff 350px,#8484ff 371px,#9595ff 393px,#a5a5ff 415px,#9595ff 437px,#6565ff 458px,#4c4cff 480px,#4b4bff 502px,#6868ff 524px,#a4a4ff 546px,#c6c6ff 567px,#cdcdff 589px,#d7d7ff 611px,#e3e3ff 633px,#e7e7ff 655px,#e3e3ff 676px,#f0f0ff 698px,#ffefef 720px,#fff5f5 742px,#dfdfff 763px,#c6c6ff 785px,#bdbdff 807px,#b2b2ff 829px,#a6a6ff 851px,#a0a0ff 872px,#a0a0ff 894px,#a1a1ff 916px,#a3a3ff 938px,#9c9cff 959px,#8e8eff 981px,#8e8eff 1003px,#9c9cff 1025px,#a4a4ff 1047px,#a4a4ff 1068px,#a3a3ff 1090px,#a2a2ff 1112px,#a7a7ff 1134px,#b4b4ff 1155px,#bfbfff 1177px,#cacaff 1199px,#d6d6ff 1221px,#e3e3ff 1243px,#e3e3ff 1264px,#d6d6ff 1286px,#cacaff 1308px,#bfbfff 1330px,#b3b3ff 1351px,#a6a6ff 1373px,#a0a0ff 1395px,#a2a2ff 1417px,#a2a2ff 1439px,#a3a3ff 1460px,#a3a3ff 1482px,#a3a3ff 1504px,#a3a3ff 1526px,#a3a3ff 1547px,#a3a3ff 1569px,#a1a1ff 1591px,#a7a7ff 1613px,#b3b3ff 1635px,#bdbdff 1656px,#c5c5ff 1678px,#e4e4ff 1700px,#ffe4e4 1722px,#ffd0d0 1744px,#ffdede 1765px,#fff9f9 1787px,#dfdfff 1809px,#c7c7ff 1831px,#bebeff 1852px,#b4b4ff 1874px,#a9a9ff 1896px,#9c9cff 1918px,#8f8fff 1940px,#8f8fff 1961px,#9e9eff 1983px,#a4a4ff 2005px,#a2a2ff 2027px,#a8a8ff 2048px,#b6b6ff 2070px,#bbf 2092px,#bbf 2114px)"></div><div style="top:144px;background:linear-gradient(90deg,#d0d0ff 1px,#d0d0ff 23px,#c9c9ff 45px,#b5b5ff 66px,#aaf 88px,#aaf 110px,#b0b0ff 132px,#bdbdff 154px,#bfbfff 175px,#b7b7ff 197px,#b3b3ff 219px,#b4b4ff 241px,#b1b1ff 262px,#a8a8ff 284px,#9797ff 306px,#7d7dff 328px,#7979ff 350px,#8c8cff 371px,#9c9cff 393px,#aaf 415px,#9d9dff 437px,#7575ff 458px,#5f5fff 480px,#5b5bff 502px,#7575ff 524px,#ababff 546px,#c8c8ff 567px,#cdcdff 589px,#d3d3ff 611px,#dcdcff 633px,#dbdbff 655px,#d1d1ff 676px,#dbdbff 698px,#f8f8ff 720px,#f4f4ff 742px,#d0d0ff 763px,#b9b9ff 785px,#b1b1ff 807px,#a6a6ff 829px,#9898ff 851px,#9292ff 872px,#9494ff 894px,#9696ff 916px,#99f 938px,#9595ff 959px,#8b8bff 981px,#8c8cff 1003px,#9898ff 1025px,#a1a1ff 1047px,#a6a6ff 1068px,#a8a8ff 1090px,#a6a6ff 1112px,#a9a9ff 1134px,#b2b2ff 1155px,#b9b9ff 1177px,#bfbfff 1199px,#c7c7ff 1221px,#d1d1ff 1243px,#d1d1ff 1264px,#c7c7ff 1286px,#bdbdff 1308px,#b4b4ff 1330px,#aaf 1351px,#9f9fff 1373px,#9a9aff 1395px,#9c9cff 1417px,#9e9eff 1439px,#a0a0ff 1460px,#a2a2ff 1482px,#a2a2ff 1504px,#a2a2ff 1526px,#a2a2ff 1547px,#a1a1ff 1569px,#a0a0ff 1591px,#a5a5ff 1613px,#b2b2ff 1635px,#babaff 1656px,#bcbcff 1678px,#d5d5ff 1700px,#fffafa 1722px,#ffe8e8 1744px,#fff1f1 1765px,#f8f8ff 1787px,#d8d8ff 1809px,#c4c4ff 1831px,#bdbdff 1852px,#b3b3ff 1874px,#a7a7ff 1896px,#9b9bff 1918px,#9191ff 1940px,#9292ff 1961px,#9e9eff 1983px,#a5a5ff 2005px,#a6a6ff 2027px,#acacff 2048px,#b9b9ff 2070px,#bdbdff 2092px,#bdbdff 2114px)"></div><div style="top:152px;background:linear-gradient(90deg,#cacaff 1px,#cacaff 23px,#c3c3ff 45px,#afafff 66px,#a5a5ff 88px,#a5a5ff 110px,#aaf 132px,#b2b2ff 154px,#b6b6ff 175px,#b5b5ff 197px,#b4b4ff 219px,#b4b4ff 241px,#b1b1ff 262px,#ababff 284px,#9e9eff 306px,#8b8bff 328px,#8a8aff 350px,#9d9dff 371px,#aaf 393px,#b3b3ff 415px,#a9a9ff 437px,#8d8dff 458px,#7b7bff 480px,#7474ff 502px,#8787ff 524px,#b5b5ff 546px,#ccf 567px,#cbcbff 589px,#ccf 611px,#cfcfff 633px,#cacaff 655px,#bdbdff 676px,#c3c3ff 698px,#dcdcff 720px,#dcdcff 742px,#c1c1ff 763px,#afafff 785px,#a5a5ff 807px,#9898ff 829px,#8989ff 851px,#8484ff 872px,#8b8bff 894px,#9090ff 916px,#9494ff 938px,#9494ff 959px,#9090ff 981px,#9393ff 1003px,#9c9cff 1025px,#a4a4ff 1047px,#ababff 1068px,#aeaeff 1090px,#adadff 1112px,#adadff 1134px,#afafff 1155px,#b0b0ff 1177px,#b1b1ff 1199px,#b4b4ff 1221px,#bcbcff 1243px,#bcbcff 1264px,#b4b4ff 1286px,#adadff 1308px,#a7a7ff 1330px,#a0a0ff 1351px,#9797ff 1373px,#9494ff 1395px,#9595ff 1417px,#99f 1439px,#9e9eff 1460px,#a1a1ff 1482px,#a1a1ff 1504px,#a1a1ff 1526px,#a1a1ff 1547px,#a0a0ff 1569px,#9f9fff 1591px,#a5a5ff 1613px,#b3b3ff 1635px,#b9b9ff 1656px,#b6b6ff 1678px,#c6c6ff 1700px,#e8e8ff 1722px,#f7f7ff 1744px,#f4f4ff 1765px,#e7e7ff 1787px,#d0d0ff 1809px,#c2c2ff 1831px,#bcbcff 1852px,#b3b3ff 1874px,#a6a6ff 1896px,#9c9cff 1918px,#9595ff 1940px,#9696ff 1961px,#9e9eff 1983px,#a5a5ff 2005px,#aaf 2027px,#b1b1ff 2048px,#babaff 2070px,#bdbdff 2092px,#bdbdff 2114px)"></div><div style="top:160px;background:linear-gradient(90deg,#c3c3ff 1px,#c3c3ff 23px,#bdbdff 45px,#acacff 66px,#a3a3ff 88px,#a4a4ff 110px,#a6a6ff 132px,#ababff 154px,#b0b0ff 175px,#b5b5ff 197px,#b7b7ff 219px,#b6b6ff 241px,#b3b3ff 262px,#b0b0ff 284px,#a8a8ff 306px,#9d9dff 328px,#a0a0ff 350px,#b1b1ff 371px,#bbf 393px,#bebeff 415px,#b8b8ff 437px,#a8a8ff 458px,#9b9bff 480px,#9090ff 502px,#9c9cff 524px,#c0c0ff 546px,#ceceff 567px,#c7c7ff 589px,#c3c3ff 611px,#c0c0ff 633px,#b8b8ff 655px,#a9a9ff 676px,#acacff 698px,#c0c0ff 720px,#c3c3ff 742px,#b4b4ff 763px,#a6a6ff 785px,#9a9aff 807px,#8c8cff 829px,#7b7bff 851px,#7979ff 872px,#8585ff 894px,#8d8dff 916px,#9494ff 938px,#9898ff 959px,#9c9cff 981px,#a0a0ff 1003px,#a5a5ff 1025px,#ababff 1047px,#b1b1ff 1068px,#b4b4ff 1090px,#b4b4ff 1112px,#b2b2ff 1134px,#adadff 1155px,#a8a8ff 1177px,#a2a2ff 1199px,#a2a2ff 1221px,#a6a6ff 1243px,#a6a6ff 1264px,#a2a2ff 1286px,#9d9dff 1308px,#9a9aff 1330px,#9696ff 1351px,#9191ff 1373px,#8f8fff 1395px,#8f8fff 1417px,#9494ff 1439px,#9d9dff 1460px,#a2a2ff 1482px,#a0a0ff 1504px,#a0a0ff 1526px,#a0a0ff 1547px,#9f9fff 1569px,#9f9fff 1591px,#a6a6ff 1613px,#b6b6ff 1635px,#b9b9ff 1656px,#b1b1ff 1678px,#b6b6ff 1700px,#cacaff 1722px,#d6d6ff 1744px,#dadaff 1765px,#d6d6ff 1787px,#c8c8ff 1809px,#bfbfff 1831px,#bcbcff 1852px,#b4b4ff 1874px,#a6a6ff 1896px,#9e9eff 1918px,#9b9bff 1940px,#9c9cff 1961px,#9f9fff 1983px,#a5a5ff 2005px,#afafff 2027px,#b6b6ff 2048px,#bbf 2070px,#bcbcff 2092px,#bcbcff 2114px)"></div><div style="top:168px;background:linear-gradient(90deg,#bdbdff 1px,#bdbdff 23px,#b8b8ff 45px,#a9a9ff 66px,#a3a3ff 88px,#a4a4ff 110px,#a4a4ff 132px,#a5a5ff 154px,#ababff 175px,#b6b6ff 197px,#babaff 219px,#b9b9ff 241px,#b7b7ff 262px,#b6b6ff 284px,#b3b3ff 306px,#afafff 328px,#b4b4ff 350px,#c3c3ff 371px,#cacaff 393px,#cacaff 415px,#c7c7ff 437px,#c3c3ff 458px,#babaff 480px,#acacff 502px,#b1b1ff 524px,#c9c9ff 546px,#cfcfff 567px,#c4c4ff 589px,#babaff 611px,#b2b2ff 633px,#a6a6ff 655px,#9898ff 676px,#9898ff 698px,#a9a9ff 720px,#afafff 742px,#aaf 763px,#a1a1ff 785px,#9494ff 807px,#8585ff 829px,#7373ff 851px,#7373ff 872px,#8383ff 894px,#8f8fff 916px,#9898ff 938px,#a1a1ff 959px,#ababff 981px,#b0b0ff 1003px,#b1b1ff 1025px,#b3b3ff 1047px,#b7b7ff 1068px,#b9b9ff 1090px,#babaff 1112px,#b5b5ff 1134px,#ababff 1155px,#a0a0ff 1177px,#9696ff 1199px,#9292ff 1221px,#9494ff 1243px,#9595ff 1264px,#9393ff 1286px,#9191ff 1308px,#9090ff 1330px,#8f8fff 1351px,#8d8dff 1373px,#8c8cff 1395px,#8c8cff 1417px,#9191ff 1439px,#9e9eff 1460px,#a3a3ff 1482px,#a1a1ff 1504px,#a1a1ff 1526px,#a1a1ff 1547px,#a0a0ff 1569px,#a0a0ff 1591px,#a7a7ff 1613px,#b7b7ff 1635px,#b9b9ff 1656px,#acacff 1678px,#a9a9ff 1700px,#b0b0ff 1722px,#b8b8ff 1744px,#c3c3ff 1765px,#c5c5ff 1787px,#c0c0ff 1809px,#bdbdff 1831px,#bcbcff 1852px,#b5b5ff 1874px,#a7a7ff 1896px,#a0a0ff 1918px,#a0a0ff 1940px,#a0a0ff 1961px,#a0a0ff 1983px,#a6a6ff 2005px,#b3b3ff 2027px,#babaff 2048px,#bbf 2070px,#bbf 2092px,#bbf 2114px)"></div><div style="top:176px;background:linear-gradient(90deg,#babaff 1px,#babaff 23px,#b5b5ff 45px,#a7a7ff 66px,#a1a1ff 88px,#a2a2ff 110px,#a2a2ff 132px,#a0a0ff 154px,#a7a7ff 175px,#b5b5ff 197px,#bcbcff 219px,#bbf 241px,#bbf 262px,#bcbcff 284px,#bcbcff 306px,#bcbcff 328px,#c2c2ff 350px,#cfcfff 371px,#d5d5ff 393px,#d5d5ff 415px,#d6d6ff 437px,#d9d9ff 458px,#d3d3ff 480px,#c4c4ff 502px,#c3c3ff 524px,#cfcfff 546px,#ceceff 567px,#c0c0ff 589px,#b2b2ff 611px,#a5a5ff 633px,#99f 655px,#8c8cff 676px,#8d8dff 698px,#9b9bff 720px,#a2a2ff 742px,#a4a4ff 763px,#9f9fff 785px,#9494ff 807px,#8686ff 829px,#7575ff 851px,#7575ff 872px,#8686ff 894px,#9595ff 916px,#a1a1ff 938px,#aeaeff 959px,#bbf 981px,#c1c1ff 1003px,#bfbfff 1025px,#bdbdff 1047px,#bcbcff 1068px,#bbf 1090px,#bcbcff 1112px,#b6b6ff 1134px,#a9a9ff 1155px,#9c9cff 1177px,#8f8fff 1199px,#8989ff 1221px,#8989ff 1243px,#8a8aff 1264px,#8b8bff 1286px,#8b8bff 1308px,#8c8cff 1330px,#8c8cff 1351px,#8c8cff 1373px,#8c8cff 1395px,#8b8bff 1417px,#9191ff 1439px,#9f9fff 1460px,#a6a6ff 1482px,#a5a5ff 1504px,#a5a5ff 1526px,#a5a5ff 1547px,#a4a4ff 1569px,#a3a3ff 1591px,#a9a9ff 1613px,#b7b7ff 1635px,#b6b6ff 1656px,#a7a7ff 1678px,#9e9eff 1700px,#9c9cff 1722px,#a2a2ff 1744px,#b1b1ff 1765px,#b8b8ff 1787px,#b9b9ff 1809px,#babaff 1831px,#bbf 1852px,#b6b6ff 1874px,#a9a9ff 1896px,#a2a2ff 1918px,#a3a3ff 1940px,#a3a3ff 1961px,#a2a2ff 1983px,#a9a9ff 2005px,#b6b6ff 2027px,#bcbcff 2048px,#bbf 2070px,#babaff 2092px,#babaff 2114px)"></div><div style="top:184px;background:linear-gradient(90deg,#b9b9ff 1px,#b9b9ff 23px,#b4b4ff 45px,#a6a6ff 66px,#a0a0ff 88px,#a1a1ff 110px,#a0a0ff 132px,#9e9eff 154px,#a4a4ff 175px,#b4b4ff 197px,#bcbcff 219px,#bebeff 241px,#c0c0ff 262px,#c4c4ff 284px,#c7c7ff 306px,#c8c8ff 328px,#cdcdff 350px,#d6d6ff 371px,#dedeff 393px,#e2e2ff 415px,#e8e8ff 437px,#efefff 458px,#ebebff 480px,#dcdcff 502px,#d3d3ff 524px,#d1d1ff 546px,#c9c9ff 567px,#bbf 589px,#ababff 611px,#99f 633px,#8c8cff 655px,#8484ff 676px,#8787ff 698px,#9393ff 720px,#9c9cff 742px,#a1a1ff 763px,#a1a1ff 785px,#9b9bff 807px,#9090ff 829px,#8383ff 851px,#8383ff 872px,#9090ff 894px,#a1a1ff 916px,#b5b5ff 938px,#c6c6ff 959px,#d4d4ff 981px,#d9d9ff 1003px,#d5d5ff 1025px,#cdcdff 1047px,#c1c1ff 1068px,#babaff 1090px,#b9b9ff 1112px,#b3b3ff 1134px,#a8a8ff 1155px,#9b9bff 1177px,#8c8cff 1199px,#8585ff 1221px,#8484ff 1243px,#8686ff 1264px,#8a8aff 1286px,#8c8cff 1308px,#8d8dff 1330px,#8d8dff 1351px,#8d8dff 1373px,#8c8cff 1395px,#8b8bff 1417px,#9292ff 1439px,#a1a1ff 1460px,#aaf 1482px,#adadff 1504px,#aeaeff 1526px,#aeaeff 1547px,#acacff 1569px,#a8a8ff 1591px,#ababff 1613px,#b5b5ff 1635px,#b1b1ff 1656px,#a2a2ff 1678px,#9696ff 1700px,#8d8dff 1722px,#9292ff 1744px,#a3a3ff 1765px,#aeaeff 1787px,#b2b2ff 1809px,#b6b6ff 1831px,#babaff 1852px,#b7b7ff 1874px,#acacff 1896px,#a6a6ff 1918px,#a4a4ff 1940px,#a4a4ff 1961px,#a6a6ff 1983px,#adadff 2005px,#b8b8ff 2027px,#bdbdff 2048px,#bbf 2070px,#babaff 2092px,#babaff 2114px)"></div><div style="top:192px;background:linear-gradient(90deg,#b9b9ff 1px,#b9b9ff 23px,#b4b4ff 45px,#a6a6ff 66px,#a0a0ff 88px,#a0a0ff 110px,#9f9fff 132px,#9d9dff 154px,#a4a4ff 175px,#b3b3ff 197px,#bcbcff 219px,#c1c1ff 241px,#c7c7ff 262px,#ceceff 284px,#d2d2ff 306px,#d3d3ff 328px,#d6d6ff 350px,#dbdbff 371px,#e4e4ff 393px,#f1f1ff 415px,#fcfcff 437px,#fff9f9 458px,#fffbfb 480px,#f4f4ff 502px,#e3e3ff 524px,#d0d0ff 546px,#c1c1ff 567px,#b5b5ff 589px,#a4a4ff 611px,#8c8cff 633px,#8080ff 655px,#8080ff 676px,#8585ff 698px,#9090ff 720px,#99f 742px,#a1a1ff 763px,#a6a6ff 785px,#a6a6ff 807px,#a2a2ff 829px,#9898ff 851px,#9797ff 872px,#9f9fff 894px,#b2b2ff 916px,#cfcfff 938px,#e5e5ff 959px,#f1f1ff 981px,#f5f5ff 1003px,#efefff 1025px,#e0e0ff 1047px,#c7c7ff 1068px,#b8b8ff 1090px,#b3b3ff 1112px,#aeaeff 1134px,#a8a8ff 1155px,#9d9dff 1177px,#8d8dff 1199px,#8585ff 1221px,#8484ff 1243px,#8787ff 1264px,#8e8eff 1286px,#9292ff 1308px,#9292ff 1330px,#9191ff 1351px,#8f8fff 1373px,#8e8eff 1395px,#8d8dff 1417px,#9494ff 1439px,#a4a4ff 1460px,#b0b0ff 1482px,#b6b6ff 1504px,#babaff 1526px,#babaff 1547px,#b6b6ff 1569px,#b0b0ff 1591px,#aeaeff 1613px,#b2b2ff 1635px,#acacff 1656px,#9d9dff 1678px,#8f8fff 1700px,#8282ff 1722px,#8585ff 1744px,#99f 1765px,#a5a5ff 1787px,#ababff 1809px,#b2b2ff 1831px,#b9b9ff 1852px,#b9b9ff 1874px,#b1b1ff 1896px,#ababff 1918px,#a4a4ff 1940px,#a4a4ff 1961px,#ababff 1983px,#b1b1ff 2005px,#b9b9ff 2027px,#bcbcff 2048px,#bbf 2070px,#babaff 2092px,#babaff 2114px)"></div><div style="top:200px;background:linear-gradient(90deg,#b9b9ff 1px,#b9b9ff 23px,#b5b5ff 45px,#a7a7ff 66px,#a0a0ff 88px,#a1a1ff 110px,#a0a0ff 132px,#9e9eff 154px,#a4a4ff 175px,#b2b2ff 197px,#bdbdff 219px,#c5c5ff 241px,#ceceff 262px,#d8d8ff 284px,#ddf 306px,#ddf 328px,#dedeff 350px,#dfdfff 371px,#eaeaff 393px,#fff 415px,#ffefef 437px,#ffe5e5 458px,#ffe7e7 480px,#fff4f4 502px,#f2f2ff 524px,#cfcfff 546px,#b9b9ff 567px,#b0b0ff 589px,#9d9dff 611px,#8181ff 633px,#77f 655px,#7f7fff 676px,#88f 698px,#9292ff 720px,#9b9bff 742px,#a5a5ff 763px,#aeaeff 785px,#b5b5ff 807px,#b6b6ff 829px,#b0b0ff 851px,#aeaeff 872px,#b1b1ff 894px,#c5c5ff 916px,#eaeaff 938px,#fffbfb 959px,#fff0f0 981px,#fee 1003px,#fff5f5 1025px,#f2f2ff 1047px,#cbcbff 1068px,#b4b4ff 1090px,#adadff 1112px,#a9a9ff 1134px,#a7a7ff 1155px,#9e9eff 1177px,#8f8fff 1199px,#8787ff 1221px,#8686ff 1243px,#8b8bff 1264px,#9595ff 1286px,#9a9aff 1308px,#99f 1330px,#9797ff 1351px,#9494ff 1373px,#9292ff 1395px,#9191ff 1417px,#99f 1439px,#a9a9ff 1460px,#b6b6ff 1482px,#c1c1ff 1504px,#c6c6ff 1526px,#c6c6ff 1547px,#c1c1ff 1569px,#b8b8ff 1591px,#b1b1ff 1613px,#afafff 1635px,#a6a6ff 1656px,#9898ff 1678px,#8989ff 1700px,#7a7aff 1722px,#7c7cff 1744px,#9090ff 1765px,#9d9dff 1787px,#a5a5ff 1809px,#aeaeff 1831px,#b8b8ff 1852px,#babaff 1874px,#b7b7ff 1896px,#afafff 1918px,#a4a4ff 1940px,#a4a4ff 1961px,#afafff 1983px,#b6b6ff 2005px,#babaff 2027px,#bbf 2048px,#babaff 2070px,#babaff 2092px,#babaff 2114px)"></div><div style="top:208px;background:linear-gradient(90deg,#babaff 1px,#babaff 23px,#b5b5ff 45px,#a8a8ff 66px,#a1a1ff 88px,#a2a2ff 110px,#a1a1ff 132px,#a0a0ff 154px,#a6a6ff 175px,#b3b3ff 197px,#bfbfff 219px,#c9c9ff 241px,#d4d4ff 262px,#e1e1ff 284px,#e6e6ff 306px,#e5e5ff 328px,#e4e4ff 350px,#e2e2ff 371px,#eef 393px,#fff5f5 415px,#ffe2e2 437px,#ffd7d7 458px,#ffd7d7 480px,#ffe3e3 502px,#fefeff 524px,#ceceff 546px,#b3b3ff 567px,#ababff 589px,#9898ff 611px,#7a7aff 633px,#7272ff 655px,#8181ff 676px,#8e8eff 698px,#9898ff 720px,#a3a3ff 742px,#adadff 763px,#b9b9ff 785px,#c5c5ff 807px,#c9c9ff 829px,#c7c7ff 851px,#c5c5ff 872px,#c3c3ff 894px,#d6d6ff 916px,#fffefe 938px,#ffe4e4 959px,#ffd9d9 981px,#ffd8d8 1003px,#ffe2e2 1025px,#fff 1047px,#ceceff 1068px,#b1b1ff 1090px,#a8a8ff 1112px,#a4a4ff 1134px,#a6a6ff 1155px,#9f9fff 1177px,#9191ff 1199px,#8989ff 1221px,#8989ff 1243px,#8f8fff 1264px,#9c9cff 1286px,#a1a1ff 1308px,#a0a0ff 1330px,#9e9eff 1351px,#9d9dff 1373px,#9b9bff 1395px,#9a9aff 1417px,#a1a1ff 1439px,#afafff 1460px,#bdbdff 1482px,#c9c9ff 1504px,#d0d0ff 1526px,#d0d0ff 1547px,#cacaff 1569px,#bebeff 1591px,#b4b4ff 1613px,#ababff 1635px,#a0a0ff 1656px,#9494ff 1678px,#8686ff 1700px,#7575ff 1722px,#7676ff 1744px,#88f 1765px,#9696ff 1787px,#a0a0ff 1809px,#ababff 1831px,#b6b6ff 1852px,#bcbcff 1874px,#bbf 1896px,#b3b3ff 1918px,#a5a5ff 1940px,#a5a5ff 1961px,#b3b3ff 1983px,#babaff 2005px,#babaff 2027px,#babaff 2048px,#babaff 2070px,#babaff 2092px,#babaff 2114px)"></div><div style="top:216px;background:linear-gradient(90deg,#babaff 1px,#babaff 23px,#b5b5ff 45px,#a8a8ff 66px,#a2a2ff 88px,#a4a4ff 110px,#a4a4ff 132px,#a3a3ff 154px,#a8a8ff 175px,#b5b5ff 197px,#c1c1ff 219px,#cdcdff 241px,#d9d9ff 262px,#e5e5ff 284px,#ebebff 306px,#eaeaff 328px,#e9e9ff 350px,#e7e7ff 371px,#f3f3ff 393px,#fff2f2 415px,#ffdfdf 437px,#ffd0d0 458px,#ffcece 480px,#ffd8d8 502px,#fff9f9 524px,#ceceff 546px,#afafff 567px,#a8a8ff 589px,#9696ff 611px,#7878ff 633px,#7373ff 655px,#8787ff 676px,#9797ff 698px,#a3a3ff 720px,#b0b0ff 742px,#bbf 763px,#c7c7ff 785px,#d3d3ff 807px,#d9d9ff 829px,#d9d9ff 851px,#d7d7ff 872px,#d3d3ff 894px,#e4e4ff 916px,#fff5f5 938px,#ffdcdc 959px,#ffcfcf 981px,#ffcece 1003px,#ffdada 1025px,#fffbfb 1047px,#cdcdff 1068px,#aeaeff 1090px,#a5a5ff 1112px,#a1a1ff 1134px,#a3a3ff 1155px,#9d9dff 1177px,#9090ff 1199px,#8a8aff 1221px,#8b8bff 1243px,#9292ff 1264px,#a0a0ff 1286px,#a7a7ff 1308px,#a6a6ff 1330px,#a7a7ff 1351px,#a9a9ff 1373px,#aaf 1395px,#a9a9ff 1417px,#aeaeff 1439px,#b8b8ff 1460px,#c3c3ff 1482px,#cfcfff 1504px,#d5d5ff 1526px,#d5d5ff 1547px,#cfcfff 1569px,#c2c2ff 1591px,#b5b5ff 1613px,#a7a7ff 1635px,#9b9bff 1656px,#9191ff 1678px,#8484ff 1700px,#7373ff 1722px,#7272ff 1744px,#8181ff 1765px,#8f8fff 1787px,#9c9cff 1809px,#a9a9ff 1831px,#b6b6ff 1852px,#bcbcff 1874px,#bdbdff 1896px,#b6b6ff 1918px,#a7a7ff 1940px,#a7a7ff 1961px,#b6b6ff 1983px,#bcbcff 2005px,#bbf 2027px,#babaff 2048px,#babaff 2070px,#babaff 2092px,#babaff 2114px)"></div><div style="top:224px;background:linear-gradient(90deg,#babaff 1px,#babaff 23px,#b5b5ff 45px,#a7a7ff 66px,#a2a2ff 88px,#a7a7ff 110px,#a9a9ff 132px,#a7a7ff 154px,#acacff 175px,#b9b9ff 197px,#c5c5ff 219px,#d1d1ff 241px,#dcdcff 262px,#e6e6ff 284px,#ebebff 306px,#eaeaff 328px,#eaeaff 350px,#ececff 371px,#f5f5ff 393px,#fff8f8 415px,#ffe6e6 437px,#ffd3d3 458px,#ffcdcd 480px,#ffd5d5 502px,#fff6f6 524px,#ceceff 546px,#adadff 567px,#a6a6ff 589px,#9595ff 611px,#7d7dff 633px,#7c7cff 655px,#9292ff 676px,#a6a6ff 698px,#b7b7ff 720px,#c6c6ff 742px,#d3d3ff 763px,#ddf 785px,#e5e5ff 807px,#e9e9ff 829px,#e9e9ff 851px,#e8e8ff 872px,#e5e5ff 894px,#f0f0ff 916px,#fff6f6 938px,#ffe1e1 959px,#ffcfcf 981px,#ffcece 1003px,#fdd 1025px,#fefeff 1047px,#c8c8ff 1068px,#aaf 1090px,#a3a3ff 1112px,#a0a0ff 1134px,#9f9fff 1155px,#99f 1177px,#8e8eff 1199px,#8a8aff 1221px,#8d8dff 1243px,#9696ff 1264px,#a3a3ff 1286px,#aaf 1308px,#acacff 1330px,#b2b2ff 1351px,#bdbdff 1373px,#c2c2ff 1395px,#c1c1ff 1417px,#c2c2ff 1439px,#c4c4ff 1460px,#c9c9ff 1482px,#d2d2ff 1504px,#d7d7ff 1526px,#d7d7ff 1547px,#d0d0ff 1569px,#c3c3ff 1591px,#b4b4ff 1613px,#a2a2ff 1635px,#9696ff 1656px,#8e8eff 1678px,#8484ff 1700px,#77f 1722px,#7474ff 1744px,#7b7bff 1765px,#88f 1787px,#9a9aff 1809px,#a9a9ff 1831px,#b5b5ff 1852px,#bcbcff 1874px,#bcbcff 1896px,#b6b6ff 1918px,#ababff 1940px,#ababff 1961px,#b8b8ff 1983px,#bdbdff 2005px,#bbf 2027px,#babaff 2048px,#babaff 2070px,#babaff 2092px,#babaff 2114px)"></div><div style="top:232px;background:linear-gradient(90deg,#babaff 1px,#babaff 23px,#b5b5ff 45px,#a6a6ff 66px,#a3a3ff 88px,#acacff 110px,#afafff 132px,#acacff 154px,#b1b1ff 175px,#bebeff 197px,#cacaff 219px,#d6d6ff 241px,#dfdfff 262px,#e5e5ff 284px,#e7e7ff 306px,#e7e7ff 328px,#eaeaff 350px,#f1f1ff 371px,#f7f7ff 393px,#fcfcff 415px,#fff3f3 437px,#ffdada 458px,#ffd1d1 480px,#ffd7d7 502px,#fff6f6 524px,#ceceff 546px,#adadff 567px,#a4a4ff 589px,#9797ff 611px,#8686ff 633px,#8989ff 655px,#a1a1ff 676px,#b9b9ff 698px,#d1d1ff 720px,#e3e3ff 742px,#f1f1ff 763px,#f7f7ff 785px,#f8f8ff 807px,#f8f8ff 829px,#f8f8ff 851px,#f8f8ff 872px,#f7f7ff 894px,#fafaff 916px,#fffdfd 938px,#fee 959px,#ffd6d6 981px,#ffd4d4 1003px,#ffe7e7 1025px,#f4f4ff 1047px,#c1c1ff 1068px,#a6a6ff 1090px,#a3a3ff 1112px,#9f9fff 1134px,#99f 1155px,#9393ff 1177px,#8b8bff 1199px,#8a8aff 1221px,#9191ff 1243px,#9a9aff 1264px,#a5a5ff 1286px,#adadff 1308px,#b1b1ff 1330px,#bebeff 1351px,#d5d5ff 1373px,#dfdfff 1395px,#dedeff 1417px,#dadaff 1439px,#d2d2ff 1460px,#d0d0ff 1482px,#d4d4ff 1504px,#d6d6ff 1526px,#d6d6ff 1547px,#d0d0ff 1569px,#c3c3ff 1591px,#b2b2ff 1613px,#9d9dff 1635px,#9090ff 1656px,#8c8cff 1678px,#8686ff 1700px,#7e7eff 1722px,#7979ff 1744px,#77f 1765px,#8181ff 1787px,#9898ff 1809px,#a9a9ff 1831px,#b5b5ff 1852px,#bbf 1874px,#babaff 1896px,#b6b6ff 1918px,#afafff 1940px,#afafff 1961px,#b8b8ff 1983px,#bcbcff 2005px,#bbf 2027px,#babaff 2048px,#babaff 2070px,#babaff 2092px,#babaff 2114px)"></div><div style="top:240px;background:linear-gradient(90deg,#babaff 1px,#babaff 23px,#b5b5ff 45px,#a5a5ff 66px,#a4a4ff 88px,#b0b0ff 110px,#b5b5ff 132px,#b2b2ff 154px,#b7b7ff 175px,#c3c3ff 197px,#d0d0ff 219px,#dbdbff 241px,#e2e2ff 262px,#e4e4ff 284px,#e5e5ff 306px,#e4e4ff 328px,#eaeaff 350px,#f6f6ff 371px,#f9f9ff 393px,#f1f1ff 415px,#fcfcff 437px,#ffe5e5 458px,#ffd8d8 480px,#ffdbdb 502px,#fff8f8 524px,#cfcfff 546px,#aeaeff 567px,#a3a3ff 589px,#99f 611px,#9090ff 633px,#9898ff 655px,#b0b0ff 676px,#ccf 698px,#ebebff 720px,#fffdfd 742px,#fff0f0 763px,#ffeded 785px,#fff4f4 807px,#fff8f8 829px,#fff8f8 851px,#fff7f7 872px,#fff6f6 894px,#fffbfb 916px,#f8f8ff 938px,#fffefe 959px,#ffe1e1 981px,#ffdede 1003px,#fff5f5 1025px,#e7e7ff 1047px,#b9b9ff 1068px,#a2a2ff 1090px,#a3a3ff 1112px,#9f9fff 1134px,#9494ff 1155px,#8d8dff 1177px,#8989ff 1199px,#8b8bff 1221px,#9595ff 1243px,#9f9fff 1264px,#a9a9ff 1286px,#b2b2ff 1308px,#b8b8ff 1330px,#ccf 1351px,#ededff 1373px,#fdfdff 1395px,#fcfcff 1417px,#f2f2ff 1439px,#e0e0ff 1460px,#d6d6ff 1482px,#d5d5ff 1504px,#d4d4ff 1526px,#d4d4ff 1547px,#cfcfff 1569px,#c3c3ff 1591px,#b1b1ff 1613px,#9898ff 1635px,#8c8cff 1656px,#8a8aff 1678px,#8989ff 1700px,#8686ff 1722px,#7f7fff 1744px,#7474ff 1765px,#7c7cff 1787px,#9797ff 1809px,#aaf 1831px,#b5b5ff 1852px,#babaff 1874px,#b9b9ff 1896px,#b6b6ff 1918px,#b3b3ff 1940px,#b4b4ff 1961px,#b9b9ff 1983px,#bbf 2005px,#babaff 2027px,#babaff 2048px,#babaff 2070px,#babaff 2092px,#babaff 2114px)"></div><div style="top:248px;background:linear-gradient(90deg,#babaff 1px,#babaff 23px,#b5b5ff 45px,#a6a6ff 66px,#a5a5ff 88px,#b4b4ff 110px,#babaff 132px,#b7b7ff 154px,#bcbcff 175px,#c9c9ff 197px,#d5d5ff 219px,#e1e1ff 241px,#e7e7ff 262px,#e6e6ff 284px,#e5e5ff 306px,#e5e5ff 328px,#ececff 350px,#fafaff 371px,#fafaff 393px,#ebebff 415px,#f2f2ff 437px,#fee 458px,#ffdfdf 480px,#ffdfdf 502px,#fffafa 524px,#cfcfff 546px,#afafff 567px,#a4a4ff 589px,#9e9eff 611px,#9b9bff 633px,#a6a6ff 655px,#bebeff 676px,#dcdcff 698px,#fffdfd 720px,#ffe5e5 742px,#ffd9d9 763px,#ffd9d9 785px,#ffe6e6 807px,#ffeded 829px,#ffecec 851px,#ffebeb 872px,#ffe9e9 894px,#fff4f4 916px,#f0f0ff 938px,#f3f3ff 959px,#ffebeb 981px,#ffe8e8 1003px,#fcfcff 1025px,#dbdbff 1047px,#b2b2ff 1068px,#a0a0ff 1090px,#a3a3ff 1112px,#9f9fff 1134px,#9191ff 1155px,#8a8aff 1177px,#8989ff 1199px,#8e8eff 1221px,#9a9aff 1243px,#a5a5ff 1264px,#b0b0ff 1286px,#babaff 1308px,#c2c2ff 1330px,#dadaff 1351px,#fffcfc 1373px,#ffe9e9 1395px,#ffeaea 1417px,#fff7f7 1439px,#eef 1460px,#ddf 1482px,#d5d5ff 1504px,#d1d1ff 1526px,#d3d3ff 1547px,#ceceff 1569px,#c2c2ff 1591px,#afafff 1613px,#9595ff 1635px,#8989ff 1656px,#8b8bff 1678px,#8c8cff 1700px,#8c8cff 1722px,#8484ff 1744px,#7272ff 1765px,#7979ff 1787px,#9797ff 1809px,#ababff 1831px,#b6b6ff 1852px,#bbf 1874px,#b9b9ff 1896px,#b8b8ff 1918px,#b8b8ff 1940px,#b8b8ff 1961px,#babaff 1983px,#babaff 2005px,#babaff 2027px,#babaff 2048px,#babaff 2070px,#babaff 2092px,#babaff 2114px)"></div><div style="top:256px;background:linear-gradient(90deg,#babaff 1px,#babaff 23px,#b5b5ff 45px,#a8a8ff 66px,#a8a8ff 88px,#b6b6ff 110px,#bcbcff 132px,#bbf 154px,#c1c1ff 175px,#cdcdff 197px,#dadaff 219px,#e8e8ff 241px,#eef 262px,#eef 284px,#ececff 306px,#eaeaff 328px,#f0f0ff 350px,#fdfdff 371px,#fcfcff 393px,#ececff 415px,#f0f0ff 437px,#fff5f5 458px,#ffe6e6 480px,#ffe1e1 502px,#fffafa 524px,#ceceff 546px,#afafff 567px,#a8a8ff 589px,#a4a4ff 611px,#a5a5ff 633px,#b0b0ff 655px,#c8c8ff 676px,#e7e7ff 698px,#fff0f0 720px,#ffd7d7 742px,#fcc 763px,#ffcfcf 785px,#ffdfdf 807px,#ffe6e6 829px,#ffe4e4 851px,#ffe2e2 872px,#ffe0e0 894px,#fff0f0 916px,#ededff 938px,#ececff 959px,#fff3f3 981px,#fff1f1 1003px,#f1f1ff 1025px,#d2d2ff 1047px,#aeaeff 1068px,#9e9eff 1090px,#a3a3ff 1112px,#9f9fff 1134px,#9191ff 1155px,#8b8bff 1177px,#8d8dff 1199px,#9494ff 1221px,#a1a1ff 1243px,#aeaeff 1264px,#bcbcff 1286px,#c7c7ff 1308px,#d1d1ff 1330px,#e9e9ff 1351px,#fee 1373px,#ffdbdb 1395px,#ffdcdc 1417px,#ffeaea 1439px,#fafaff 1460px,#e4e4ff 1482px,#d4d4ff 1504px,#ceceff 1526px,#d2d2ff 1547px,#ceceff 1569px,#c2c2ff 1591px,#afafff 1613px,#9696ff 1635px,#8a8aff 1656px,#8d8dff 1678px,#8f8fff 1700px,#9090ff 1722px,#8686ff 1744px,#7373ff 1765px,#7979ff 1787px,#9696ff 1809px,#acacff 1831px,#b8b8ff 1852px,#bebeff 1874px,#bebeff 1896px,#bebeff 1918px,#bdbdff 1940px,#bcbcff 1961px,#bbf 1983px,#babaff 2005px,#babaff 2027px,#babaff 2048px,#babaff 2070px,#babaff 2092px,#babaff 2114px)"></div><div style="top:264px;background:linear-gradient(90deg,#bbf 1px,#bbf 23px,#b7b7ff 45px,#acacff 66px,#acacff 88px,#b7b7ff 110px,#bdbdff 132px,#bfbfff 154px,#c6c6ff 175px,#d1d1ff 197px,#dfdfff 219px,#f0f0ff 241px,#f9f9ff 262px,#fbfbff 284px,#f9f9ff 306px,#f5f5ff 328px,#f6f6ff 350px,#fefeff 371px,#fdfdff 393px,#f3f3ff 415px,#f3f3ff 437px,#fffefe 458px,#fff2f2 480px,#ffe5e5 502px,#fffafa 524px,#cbcbff 546px,#aeaeff 567px,#adadff 589px,#adadff 611px,#afafff 633px,#babaff 655px,#cfcfff 676px,#eef 698px,#ffe7e7 720px,#ffcfcf 742px,#ffc7c7 763px,#fcc 785px,#ffdede 807px,#ffe4e4 829px,#ffdede 851px,#ffdcdc 872px,#fdd 894px,#ffefef 916px,#ececff 938px,#e7e7ff 959px,#fffdfd 981px,#fffefe 1003px,#e3e3ff 1025px,#c7c7ff 1047px,#aaf 1068px,#9e9eff 1090px,#a2a2ff 1112px,#9f9fff 1134px,#9393ff 1155px,#9090ff 1177px,#9494ff 1199px,#9d9dff 1221px,#a9a9ff 1243px,#babaff 1264px,#ceceff 1286px,#ddf 1308px,#e7e7ff 1330px,#fbfbff 1351px,#ffe3e3 1373px,#ffd4d4 1395px,#ffd4d4 1417px,#ffe0e0 1439px,#fff8f8 1460px,#ededff 1482px,#d3d3ff 1504px,#c9c9ff 1526px,#d1d1ff 1547px,#cfcfff 1569px,#c2c2ff 1591px,#b0b0ff 1613px,#99f 1635px,#8f8fff 1656px,#9292ff 1678px,#9292ff 1700px,#9090ff 1722px,#8787ff 1744px,#77f 1765px,#7c7cff 1787px,#9797ff 1809px,#ababff 1831px,#b9b9ff 1852px,#c2c2ff 1874px,#c6c6ff 1896px,#c7c7ff 1918px,#c4c4ff 1940px,#c0c0ff 1961px,#bbf 1983px,#b9b9ff 2005px,#babaff 2027px,#babaff 2048px,#babaff 2070px,#babaff 2092px,#babaff 2114px)"></div><div style="top:272px;background:linear-gradient(90deg,#bcbcff 1px,#bcbcff 23px,#b9b9ff 45px,#b1b1ff 66px,#b0b0ff 88px,#b7b7ff 110px,#bdbdff 132px,#c2c2ff 154px,#cacaff 175px,#d5d5ff 197px,#e4e4ff 219px,#f9f9ff 241px,#fff8f8 262px,#fff3f3 284px,#fff4f4 306px,#fffcfc 328px,#fefeff 350px,#fff 371px,#fefeff 393px,#fdfdff 415px,#fbfbff 437px,#f7f7ff 458px,#fffefe 480px,#ffe8e8 502px,#fffbfb 524px,#c8c8ff 546px,#aeaeff 567px,#b4b4ff 589px,#b8b8ff 611px,#b9b9ff 633px,#c3c3ff 655px,#d5d5ff 676px,#f3f3ff 698px,#ffe2e2 720px,#ffcbcb 742px,#ffc7c7 763px,#ffcfcf 785px,#ffe1e1 807px,#ffe5e5 829px,#ffdbdb 851px,#ffd8d8 872px,#fdd 894px,#fff0f0 916px,#ececff 938px,#e4e4ff 959px,#f7f7ff 981px,#f2f2ff 1003px,#d5d5ff 1025px,#bcbcff 1047px,#a7a7ff 1068px,#9e9eff 1090px,#a1a1ff 1112px,#9f9fff 1134px,#9797ff 1155px,#9797ff 1177px,#9e9eff 1199px,#a8a8ff 1221px,#b3b3ff 1243px,#c7c7ff 1264px,#e4e4ff 1286px,#f7f7ff 1308px,#fff 1330px,#fff0f0 1351px,#ffdbdb 1373px,#ffd1d1 1395px,#ffd1d1 1417px,#ffdada 1439px,#ffecec 1460px,#f6f6ff 1482px,#d0d0ff 1504px,#c4c4ff 1526px,#d0d0ff 1547px,#cfcfff 1569px,#c2c2ff 1591px,#b1b1ff 1613px,#9d9dff 1635px,#9595ff 1656px,#9898ff 1678px,#9696ff 1700px,#9090ff 1722px,#8787ff 1744px,#7c7cff 1765px,#8282ff 1787px,#9797ff 1809px,#aaf 1831px,#bbf 1852px,#c8c8ff 1874px,#d1d1ff 1896px,#d2d2ff 1918px,#cbcbff 1940px,#c4c4ff 1961px,#bbf 1983px,#b8b8ff 2005px,#b9b9ff 2027px,#babaff 2048px,#babaff 2070px,#babaff 2092px,#babaff 2114px)"></div><div style="top:280px;background:linear-gradient(90deg,#bcbcff 1px,#bcbcff 23px,#babaff 45px,#b6b6ff 66px,#b5b5ff 88px,#b7b7ff 110px,#bdbdff 132px,#c6c6ff 154px,#cfcfff 175px,#d9d9ff 197px,#eaeaff 219px,#fffdfd 241px,#ffecec 262px,#ffe3e3 284px,#ffe4e4 306px,#ffefef 328px,#fff8f8 350px,#fff 371px,#fffefe 393px,#fff6f6 415px,#fffbfb 437px,#f0f0ff 458px,#f5f5ff 480px,#ffebeb 502px,#fffbfb 524px,#c7c7ff 546px,#afafff 567px,#bcbcff 589px,#c3c3ff 611px,#c4c4ff 633px,#cbcbff 655px,#dadaff 676px,#f6f6ff 698px,#ffdfdf 720px,#ffcaca 742px,#ffcaca 763px,#ffd3d3 785px,#ffe5e5 807px,#ffe7e7 829px,#ffd9d9 851px,#ffd6d6 872px,#ffdede 894px,#fff2f2 916px,#ededff 938px,#e3e3ff 959px,#efefff 981px,#e6e6ff 1003px,#c9c9ff 1025px,#b3b3ff 1047px,#a5a5ff 1068px,#9f9fff 1090px,#a1a1ff 1112px,#a0a0ff 1134px,#9c9cff 1155px,#9e9eff 1177px,#a9a9ff 1199px,#b3b3ff 1221px,#bdbdff 1243px,#d4d4ff 1264px,#f8f8ff 1286px,#fff0f0 1308px,#ffe8e8 1330px,#ffdfdf 1351px,#ffd5d5 1373px,#ffd0d0 1395px,#ffd0d0 1417px,#ffd6d6 1439px,#ffe2e2 1460px,#fefeff 1482px,#ceceff 1504px,#bebeff 1526px,#cfcfff 1547px,#d0d0ff 1569px,#c2c2ff 1591px,#b3b3ff 1613px,#a3a3ff 1635px,#9c9cff 1656px,#9f9fff 1678px,#9a9aff 1700px,#9090ff 1722px,#88f 1744px,#8383ff 1765px,#88f 1787px,#99f 1809px,#ababff 1831px,#bebeff 1852px,#cfcfff 1874px,#dbdbff 1896px,#dcdcff 1918px,#d2d2ff 1940px,#c7c7ff 1961px,#bcbcff 1983px,#b7b7ff 2005px,#b9b9ff 2027px,#babaff 2048px,#babaff 2070px,#babaff 2092px,#babaff 2114px)"></div><div style="top:288px;background:linear-gradient(90deg,#bbf 1px,#bbf 23px,#babaff 45px,#babaff 66px,#b9b9ff 88px,#b8b8ff 110px,#bebeff 132px,#cacaff 154px,#d5d5ff 175px,#dfdfff 197px,#f0f0ff 219px,#fff4f4 241px,#ffe2e2 262px,#ffd5d5 284px,#ffd6d6 306px,#ffe3e3 328px,#fff1f1 350px,#fffdfd 371px,#fffcfc 393px,#ffecec 415px,#fff3f3 437px,#eef 458px,#f0f0ff 480px,#ffecec 502px,#fff9f9 524px,#cacaff 546px,#b5b5ff 567px,#c7c7ff 589px,#cfcfff 611px,#cdcdff 633px,#d2d2ff 655px,#ddf 676px,#f7f7ff 698px,#ffdede 720px,#ffcaca 742px,#fcc 763px,#ffd5d5 785px,#ffe5e5 807px,#ffe5e5 829px,#ffd5d5 851px,#ffd3d3 872px,#ffdfdf 894px,#fff3f3 916px,#f0f0ff 938px,#e5e5ff 959px,#eaeaff 981px,#e0e0ff 1003px,#c4c4ff 1025px,#b1b1ff 1047px,#a6a6ff 1068px,#a1a1ff 1090px,#a2a2ff 1112px,#a2a2ff 1134px,#a0a0ff 1155px,#a5a5ff 1177px,#b2b2ff 1199px,#bcbcff 1221px,#c6c6ff 1243px,#dedeff 1264px,#fff9f9 1286px,#ffe0e0 1308px,#ffd7d7 1330px,#ffd2d2 1351px,#ffd1d1 1373px,#ffd0d0 1395px,#ffcfcf 1417px,#ffd3d3 1439px,#fdd 1460px,#fffdfd 1482px,#cbcbff 1504px,#babaff 1526px,#cdcdff 1547px,#cfcfff 1569px,#c1c1ff 1591px,#b4b4ff 1613px,#a7a7ff 1635px,#a1a1ff 1656px,#a3a3ff 1678px,#9e9eff 1700px,#9090ff 1722px,#8989ff 1744px,#88f 1765px,#8e8eff 1787px,#9b9bff 1809px,#adadff 1831px,#c4c4ff 1852px,#d7d7ff 1874px,#e4e4ff 1896px,#e4e4ff 1918px,#d7d7ff 1940px,#cacaff 1961px,#bebeff 1983px,#b8b8ff 2005px,#b9b9ff 2027px,#babaff 2048px,#babaff 2070px,#babaff 2092px,#babaff 2114px)"></div><div style="top:296px;background:linear-gradient(90deg,#b8b8ff 1px,#b8b8ff 23px,#b8b8ff 45px,#babaff 66px,#bbf 88px,#babaff 110px,#c1c1ff 132px,#ceceff 154px,#dadaff 175px,#e6e6ff 197px,#f8f8ff 219px,#ffeded 241px,#ffdada 262px,#fcc 284px,#ffcdcd 306px,#ffdcdc 328px,#ffebeb 350px,#fffafa 371px,#fff8f8 393px,#ffe5e5 415px,#ffebeb 437px,#f4f4ff 458px,#f4f4ff 480px,#ffe9e9 502px,#fff4f4 524px,#d4d4ff 546px,#c2c2ff 567px,#d4d4ff 589px,#dbdbff 611px,#d6d6ff 633px,#d8d8ff 655px,#e0e0ff 676px,#f8f8ff 698px,#ffdfdf 720px,#fcc 742px,#ffcdcd 763px,#ffd4d4 785px,#ffe1e1 807px,#ffdfdf 829px,#ffd0d0 851px,#ffd0d0 872px,#ffdfdf 894px,#fff2f2 916px,#f5f5ff 938px,#eaeaff 959px,#ededff 981px,#e2e2ff 1003px,#cbcbff 1025px,#b8b8ff 1047px,#aaf 1068px,#a3a3ff 1090px,#a4a4ff 1112px,#a5a5ff 1134px,#a4a4ff 1155px,#ababff 1177px,#b8b8ff 1199px,#c3c3ff 1221px,#cdcdff 1243px,#e4e4ff 1264px,#fff6f6 1286px,#fdd 1308px,#ffcfcf 1330px,#ffcaca 1351px,#ffcdcd 1373px,#ffcece 1395px,#fcc 1417px,#ffd2d2 1439px,#fdd 1460px,#fffefe 1482px,#cacaff 1504px,#b8b8ff 1526px,#cacaff 1547px,#cdcdff 1569px,#c1c1ff 1591px,#b4b4ff 1613px,#a8a8ff 1635px,#a3a3ff 1656px,#a5a5ff 1678px,#a0a0ff 1700px,#9393ff 1722px,#8c8cff 1744px,#8d8dff 1765px,#9393ff 1787px,#9d9dff 1809px,#b1b1ff 1831px,#ceceff 1852px,#e1e1ff 1874px,#eaeaff 1896px,#e7e7ff 1918px,#d9d9ff 1940px,#ccf 1961px,#c1c1ff 1983px,#bbf 2005px,#babaff 2027px,#babaff 2048px,#babaff 2070px,#babaff 2092px,#babaff 2114px)"></div><div style="top:304px;background:linear-gradient(90deg,#b1b1ff 1px,#b1b1ff 23px,#b3b3ff 45px,#b9b9ff 66px,#bcbcff 88px,#bebeff 110px,#c6c6ff 132px,#d3d3ff 154px,#e1e1ff 175px,#f1f1ff 197px,#fffbfb 219px,#ffe6e6 241px,#ffd4d4 262px,#ffc6c6 284px,#ffc7c7 306px,#ffd7d7 328px,#ffe7e7 350px,#fff6f6 371px,#fff3f3 393px,#ffdede 415px,#ffe1e1 437px,#fffcfc 458px,#fffdfd 480px,#ffe3e3 502px,#ffecec 524px,#e6e6ff 546px,#d8d8ff 567px,#e7e7ff 589px,#e9e9ff 611px,#dedeff 633px,#dcdcff 655px,#e1e1ff 676px,#f7f7ff 698px,#ffe3e3 720px,#ffd0d0 742px,#ffcfcf 763px,#ffd2d2 785px,#ffd8d8 807px,#ffd5d5 829px,#ffc9c9 851px,#ffcdcd 872px,#ffdfdf 894px,#fff1f1 916px,#fcfcff 938px,#f4f4ff 959px,#f5f5ff 981px,#ededff 1003px,#dcdcff 1025px,#c8c8ff 1047px,#b1b1ff 1068px,#a6a6ff 1090px,#a8a8ff 1112px,#a9a9ff 1134px,#a9a9ff 1155px,#b0b0ff 1177px,#bdbdff 1199px,#c9c9ff 1221px,#d4d4ff 1243px,#e7e7ff 1264px,#fffcfc 1286px,#ffe3e3 1308px,#ffcfcf 1330px,#ffc6c6 1351px,#ffcaca 1373px,#ffcbcb 1395px,#ffc9c9 1417px,#ffd1d1 1439px,#ffe4e4 1460px,#f9f9ff 1482px,#c9c9ff 1504px,#b8b8ff 1526px,#c7c7ff 1547px,#c9c9ff 1569px,#c0c0ff 1591px,#b5b5ff 1613px,#a9a9ff 1635px,#a4a4ff 1656px,#a6a6ff 1678px,#a1a1ff 1700px,#9696ff 1722px,#9191ff 1744px,#9292ff 1765px,#9898ff 1787px,#a1a1ff 1809px,#b9b9ff 1831px,#dedeff 1852px,#f0f0ff 1874px,#efefff 1896px,#e8e8ff 1918px,#dadaff 1940px,#cfcfff 1961px,#c6c6ff 1983px,#bfbfff 2005px,#bbf 2027px,#babaff 2048px,#babaff 2070px,#babaff 2092px,#babaff 2114px)"></div><div style="top:312px;background:linear-gradient(90deg,#aaf 1px,#aaf 23px,#adadff 45px,#b6b6ff 66px,#bdbdff 88px,#c3c3ff 110px,#ccf 132px,#d8d8ff 154px,#e8e8ff 175px,#fdfdff 197px,#ffefef 219px,#ffdfdf 241px,#ffd0d0 262px,#ffc1c1 284px,#ffc2c2 306px,#ffd3d3 328px,#ffe3e3 350px,#fff1f1 371px,#fee 393px,#ffd8d8 415px,#ffd7d7 437px,#ffebeb 458px,#ffecec 480px,#ffdcdc 502px,#ffe3e3 524px,#fbfbff 546px,#f1f1ff 567px,#fcfcff 589px,#f9f9ff 611px,#e6e6ff 633px,#dfdfff 655px,#e2e2ff 676px,#f4f4ff 698px,#ffe8e8 720px,#ffd5d5 742px,#ffd1d1 763px,#ffcfcf 785px,#ffcece 807px,#ffcaca 829px,#ffc3c3 851px,#ffcaca 872px,#ffe0e0 894px,#fff0f0 916px,#fff9f9 938px,#fffdfd 959px,#fffdfd 981px,#fcfcff 1003px,#f2f2ff 1025px,#dcdcff 1047px,#babaff 1068px,#aaf 1090px,#adadff 1112px,#aeaeff 1134px,#aeaeff 1155px,#b4b4ff 1177px,#c1c1ff 1199px,#ceceff 1221px,#dadaff 1243px,#e8e8ff 1264px,#f8f8ff 1286px,#fff0f0 1308px,#ffd3d3 1330px,#ffc6c6 1351px,#ffc9c9 1373px,#ffc9c9 1395px,#ffc6c6 1417px,#ffd3d3 1439px,#fee 1460px,#efefff 1482px,#c8c8ff 1504px,#b9b9ff 1526px,#c3c3ff 1547px,#c5c5ff 1569px,#c0c0ff 1591px,#b6b6ff 1613px,#a9a9ff 1635px,#a3a3ff 1656px,#a5a5ff 1678px,#a2a2ff 1700px,#9a9aff 1722px,#9696ff 1744px,#9797ff 1765px,#9c9cff 1787px,#a6a6ff 1809px,#c2c2ff 1831px,#f0f0ff 1852px,#fffefe 1874px,#f3f3ff 1896px,#e6e6ff 1918px,#d9d9ff 1940px,#d0d0ff 1961px,#cbcbff 1983px,#c5c5ff 2005px,#bdbdff 2027px,#b9b9ff 2048px,#babaff 2070px,#babaff 2092px,#babaff 2114px)"></div><div style="top:320px;background:linear-gradient(90deg,#a5a5ff 1px,#a5a5ff 23px,#a8a8ff 45px,#b4b4ff 66px,#bebeff 88px,#c7c7ff 110px,#d2d2ff 132px,#ddf 154px,#eef 175px,#fff7f7 197px,#ffe5e5 219px,#ffd9d9 241px,#fcc 262px,#ffbebe 284px,#ffbfbf 306px,#ffcfcf 328px,#ffdede 350px,#ffecec 371px,#ffe9e9 393px,#ffd5d5 415px,#ffd0d0 437px,#ffdada 458px,#ffdcdc 480px,#ffd4d4 502px,#ffdbdb 524px,#fff0f0 546px,#fff7f7 567px,#fff0f0 589px,#fff9f9 611px,#ededff 633px,#e1e1ff 655px,#e2e2ff 676px,#f1f1ff 698px,#fee 720px,#ffdbdb 742px,#ffd4d4 763px,#fcc 785px,#ffc5c5 807px,#ffbfbf 829px,#ffbcbc 851px,#ffc7c7 872px,#ffe0e0 894px,#fee 916px,#fff0f0 938px,#fff1f1 959px,#fff1f1 981px,#fff2f2 1003px,#fff5f5 1025px,#f1f1ff 1047px,#c3c3ff 1068px,#afafff 1090px,#b2b2ff 1112px,#b4b4ff 1134px,#b3b3ff 1155px,#b9b9ff 1177px,#c5c5ff 1199px,#d2d2ff 1221px,#dfdfff 1243px,#e8e8ff 1264px,#ededff 1286px,#fffdfd 1308px,#ffd9d9 1330px,#ffc8c8 1351px,#ffcaca 1373px,#ffc9c9 1395px,#ffc6c6 1417px,#ffd6d6 1439px,#fff9f9 1460px,#e4e4ff 1482px,#c6c6ff 1504px,#babaff 1526px,#bfbfff 1547px,#c0c0ff 1569px,#bebeff 1591px,#b7b7ff 1613px,#a8a8ff 1635px,#a2a2ff 1656px,#a4a4ff 1678px,#a2a2ff 1700px,#9e9eff 1722px,#9c9cff 1744px,#9c9cff 1765px,#a0a0ff 1787px,#ababff 1809px,#cacaff 1831px,#fff 1852px,#fff0f0 1874px,#f6f6ff 1896px,#e4e4ff 1918px,#d8d8ff 1940px,#d1d1ff 1961px,#d0d0ff 1983px,#cacaff 2005px,#bebeff 2027px,#b9b9ff 2048px,#babaff 2070px,#babaff 2092px,#babaff 2114px)"></div><div style="top:328px;background:linear-gradient(90deg,#a3a3ff 1px,#a3a3ff 23px,#a7a7ff 45px,#b3b3ff 66px,#bfbfff 88px,#cbcbff 110px,#d6d6ff 132px,#e0e0ff 154px,#f2f2ff 175px,#fff2f2 197px,#ffe0e0 219px,#ffd6d6 241px,#ffcaca 262px,#ffbcbc 284px,#ffbcbc 306px,#ffcaca 328px,#ffd8d8 350px,#ffe6e6 371px,#ffe5e5 393px,#ffd5d5 415px,#ffcece 437px,#ffd0d0 458px,#ffd1d1 480px,#ffcfcf 502px,#ffd5d5 524px,#ffe4e4 546px,#ffe9e9 567px,#ffe6e6 589px,#fff2f2 611px,#f1f1ff 633px,#e3e3ff 655px,#e3e3ff 676px,#f1f1ff 698px,#fff2f2 720px,#ffe0e0 742px,#ffd5d5 763px,#ffcaca 785px,#ffbebe 807px,#ffb7b7 829px,#ffb6b6 851px,#ffc3c3 872px,#ffdfdf 894px,#ffebeb 916px,#ffeaea 938px,#ffe9e9 959px,#ffe9e9 981px,#ffe7e7 1003px,#ffe3e3 1025px,#fffdfd 1047px,#ccf 1068px,#b3b3ff 1090px,#b7b7ff 1112px,#b9b9ff 1134px,#b8b8ff 1155px,#bdbdff 1177px,#cacaff 1199px,#d7d7ff 1221px,#e3e3ff 1243px,#e8e8ff 1264px,#e5e5ff 1286px,#f7f7ff 1308px,#ffdede 1330px,#ffcbcb 1351px,#ffcdcd 1373px,#ffcdcd 1395px,#ffcaca 1417px,#ffdcdc 1439px,#fbfbff 1460px,#dbdbff 1482px,#c3c3ff 1504px,#b8b8ff 1526px,#babaff 1547px,#bcbcff 1569px,#bcbcff 1591px,#b6b6ff 1613px,#a8a8ff 1635px,#a2a2ff 1656px,#a3a3ff 1678px,#a3a3ff 1700px,#a2a2ff 1722px,#a2a2ff 1744px,#a1a1ff 1765px,#a5a5ff 1787px,#aeaeff 1809px,#cfcfff 1831px,#fff7f7 1852px,#ffeaea 1874px,#f6f6ff 1896px,#e1e1ff 1918px,#d5d5ff 1940px,#d0d0ff 1961px,#d2d2ff 1983px,#ccf 2005px,#bfbfff 2027px,#b9b9ff 2048px,#babaff 2070px,#babaff 2092px,#babaff 2114px)"></div><div style="top:336px;background:linear-gradient(90deg,#a7a7ff 1px,#a7a7ff 23px,#ababff 45px,#b7b7ff 66px,#c2c2ff 88px,#cdcdff 110px,#d8d8ff 132px,#e2e2ff 154px,#f3f3ff 175px,#fff5f5 197px,#ffe2e2 219px,#ffd5d5 241px,#ffc7c7 262px,#ffbaba 284px,#ffb8b8 306px,#ffc3c3 328px,#ffd0d0 350px,#ffdfdf 371px,#ffe3e3 393px,#ffdada 415px,#ffd4d4 437px,#ffcfcf 458px,#ffcdcd 480px,#fcc 502px,#ffd4d4 524px,#ffe2e2 546px,#ffe8e8 567px,#ffe6e6 589px,#fff2f2 611px,#f2f2ff 633px,#e6e6ff 655px,#e7e7ff 676px,#f3f3ff 698px,#fff3f3 720px,#ffe1e1 742px,#ffd6d6 763px,#ffc9c9 785px,#fbb 807px,#ffb3b3 829px,#ffb1b1 851px,#ffbebe 872px,#ffdbdb 894px,#ffe8e8 916px,#ffe5e5 938px,#ffe4e4 959px,#ffe4e4 981px,#ffe1e1 1003px,#ffd9d9 1025px,#fff3f3 1047px,#d2d2ff 1068px,#b7b7ff 1090px,#bcbcff 1112px,#bdbdff 1134px,#bdbdff 1155px,#c2c2ff 1177px,#cfcfff 1199px,#dbdbff 1221px,#e6e6ff 1243px,#e9e9ff 1264px,#e2e2ff 1286px,#f4f4ff 1308px,#ffe0e0 1330px,#ffcece 1351px,#ffd5d5 1373px,#ffd7d7 1395px,#ffd3d3 1417px,#ffe5e5 1439px,#f4f4ff 1460px,#d5d5ff 1482px,#bcbcff 1504px,#b2b2ff 1526px,#b5b5ff 1547px,#b7b7ff 1569px,#b9b9ff 1591px,#b3b3ff 1613px,#a7a7ff 1635px,#a2a2ff 1656px,#a2a2ff 1678px,#a4a4ff 1700px,#a6a6ff 1722px,#a7a7ff 1744px,#a6a6ff 1765px,#a9a9ff 1787px,#b1b1ff 1809px,#cfcfff 1831px,#fffafa 1852px,#fee 1874px,#f2f2ff 1896px,#ddf 1918px,#d1d1ff 1940px,#cdcdff 1961px,#d0d0ff 1983px,#cbcbff 2005px,#bebeff 2027px,#b9b9ff 2048px,#babaff 2070px,#babaff 2092px,#babaff 2114px)"></div><div style="top:344px;background:linear-gradient(90deg,#b0b0ff 1px,#b0b0ff 23px,#b3b3ff 45px,#bdbdff 66px,#c6c6ff 88px,#ceceff 110px,#d8d8ff 132px,#e3e3ff 154px,#f1f1ff 175px,#fffdfd 197px,#ffebeb 219px,#ffd6d6 241px,#ffc6c6 262px,#ffb9b9 284px,#ffb5b5 306px,#ffb9b9 328px,#ffc4c4 350px,#ffd6d6 371px,#ffe1e1 393px,#ffe5e5 415px,#ffe1e1 437px,#ffd4d4 458px,#ffcdcd 480px,#ffcbcb 502px,#ffd4d4 524px,#ffe8e8 546px,#fff1f1 567px,#ffefef 589px,#fff8f8 611px,#f1f1ff 633px,#e9e9ff 655px,#ececff 676px,#f8f8ff 698px,#fff1f1 720px,#ffe0e0 742px,#ffd5d5 763px,#ffc8c8 785px,#ffbaba 807px,#ffb1b1 829px,#ffabab 851px,#ffb7b7 872px,#ffd4d4 894px,#ffe3e3 916px,#ffe2e2 938px,#ffe1e1 959px,#ffe1e1 981px,#ffdcdc 1003px,#ffd3d3 1025px,#ffebeb 1047px,#d8d8ff 1068px,#bcbcff 1090px,#c0c0ff 1112px,#c2c2ff 1134px,#c2c2ff 1155px,#c8c8ff 1177px,#d5d5ff 1199px,#e0e0ff 1221px,#e8e8ff 1243px,#e9e9ff 1264px,#e1e1ff 1286px,#f3f3ff 1308px,#ffe2e2 1330px,#ffd4d4 1351px,#ffe2e2 1373px,#ffe7e7 1395px,#ffe3e3 1417px,#fff1f1 1439px,#ededff 1460px,#cfcfff 1482px,#b2b2ff 1504px,#a7a7ff 1526px,#aeaeff 1547px,#b2b2ff 1569px,#b3b3ff 1591px,#afafff 1613px,#a6a6ff 1635px,#a2a2ff 1656px,#a2a2ff 1678px,#a5a5ff 1700px,#ababff 1722px,#adadff 1744px,#acacff 1765px,#aeaeff 1787px,#b3b3ff 1809px,#cbcbff 1831px,#f7f7ff 1852px,#fffdfd 1874px,#eaeaff 1896px,#d7d7ff 1918px,#cacaff 1940px,#c5c5ff 1961px,#c9c9ff 1983px,#c6c6ff 2005px,#bdbdff 2027px,#b9b9ff 2048px,#babaff 2070px,#babaff 2092px,#babaff 2114px)"></div><div style="top:352px;background:linear-gradient(90deg,#bcbcff 1px,#bcbcff 23px,#bebeff 45px,#c5c5ff 66px,#cacaff 88px,#cfcfff 110px,#d7d7ff 132px,#e4e4ff 154px,#ededff 175px,#f5f5ff 197px,#fff7f7 219px,#ffd9d9 241px,#ffc5c5 262px,#ffbaba 284px,#ffb2b2 306px,#ffafaf 328px,#ffb8b8 350px,#ffcdcd 371px,#ffe0e0 393px,#fff2f2 415px,#fff1f1 437px,#fdd 458px,#ffd0d0 480px,#ffcbcb 502px,#ffd6d6 524px,#fff3f3 546px,#fefeff 567px,#fffdfd 589px,#fbfbff 611px,#eef 633px,#ebebff 655px,#f2f2ff 676px,#fefeff 698px,#fee 720px,#ffdfdf 742px,#ffd4d4 763px,#ffc8c8 785px,#ffbcbc 807px,#ffb0b0 829px,#ffa7a7 851px,#ffb0b0 872px,#ffcdcd 894px,#fdd 916px,#ffe0e0 938px,#ffe1e1 959px,#ffe0e0 981px,#ffdada 1003px,#ffcfcf 1025px,#ffe6e6 1047px,#ddf 1068px,#c2c2ff 1090px,#c5c5ff 1112px,#c7c7ff 1134px,#c7c7ff 1155px,#cdcdff 1177px,#dadaff 1199px,#e4e4ff 1221px,#eaeaff 1243px,#e9e9ff 1264px,#e3e3ff 1286px,#f3f3ff 1308px,#ffe4e4 1330px,#ffdbdb 1351px,#fff0f0 1373px,#fff9f9 1395px,#fff5f5 1417px,#fff 1439px,#e7e7ff 1460px,#cacaff 1482px,#a8a8ff 1504px,#9c9cff 1526px,#a7a7ff 1547px,#adadff 1569px,#adadff 1591px,#ababff 1613px,#a5a5ff 1635px,#a2a2ff 1656px,#a2a2ff 1678px,#a6a6ff 1700px,#afafff 1722px,#b3b3ff 1744px,#b2b2ff 1765px,#b2b2ff 1787px,#b4b4ff 1809px,#c6c6ff 1831px,#e6e6ff 1852px,#efefff 1874px,#e1e1ff 1896px,#d2d2ff 1918px,#c2c2ff 1940px,#bcbcff 1961px,#c0c0ff 1983px,#c0c0ff 2005px,#bcbcff 2027px,#babaff 2048px,#babaff 2070px,#babaff 2092px,#babaff 2114px)"></div><div style="top:360px;background:linear-gradient(90deg,#c7c7ff 1px,#c7c7ff 23px,#c8c8ff 45px,#ccf 66px,#ceceff 88px,#cfcfff 110px,#d6d6ff 132px,#e3e3ff 154px,#eaeaff 175px,#eaeaff 197px,#fcfcff 219px,#fdd 241px,#ffc5c5 262px,#fbb 284px,#ffb1b1 306px,#ffa7a7 328px,#ffaeae 350px,#ffc5c5 371px,#ffe1e1 393px,#fefeff 415px,#fcfcff 437px,#ffe8e8 458px,#ffd6d6 480px,#fcc 502px,#ffd9d9 524px,#fffefe 546px,#efefff 567px,#f2f2ff 589px,#f1f1ff 611px,#ebebff 633px,#ececff 655px,#f7f7ff 676px,#fffbfb 698px,#ffecec 720px,#ffdfdf 742px,#ffd4d4 763px,#ffc9c9 785px,#ffbdbd 807px,#ffb1b1 829px,#ffa3a3 851px,#ffabab 872px,#ffc7c7 894px,#ffd9d9 916px,#ffe0e0 938px,#ffe3e3 959px,#ffe2e2 981px,#ffdbdb 1003px,#ffcdcd 1025px,#ffe3e3 1047px,#e1e1ff 1068px,#c7c7ff 1090px,#cacaff 1112px,#ccf 1134px,#ccf 1155px,#d2d2ff 1177px,#e0e0ff 1199px,#e7e7ff 1221px,#eaeaff 1243px,#e9e9ff 1264px,#e4e4ff 1286px,#f3f3ff 1308px,#ffe7e7 1330px,#ffe3e3 1351px,#fff 1373px,#f3f3ff 1395px,#f7f7ff 1417px,#f1f1ff 1439px,#e1e1ff 1460px,#c5c5ff 1482px,#9e9eff 1504px,#9292ff 1526px,#a1a1ff 1547px,#a8a8ff 1569px,#a8a8ff 1591px,#a6a6ff 1613px,#a4a4ff 1635px,#a2a2ff 1656px,#a2a2ff 1678px,#a7a7ff 1700px,#b3b3ff 1722px,#b8b8ff 1744px,#b7b7ff 1765px,#b6b6ff 1787px,#b6b6ff 1809px,#c1c1ff 1831px,#d6d6ff 1852px,#dedeff 1874px,#d8d8ff 1896px,#cdcdff 1918px,#bdbdff 1940px,#b7b7ff 1961px,#babaff 1983px,#bbf 2005px,#bbf 2027px,#babaff 2048px,#babaff 2070px,#babaff 2092px,#babaff 2114px)"></div><div style="top:368px;background:linear-gradient(90deg,#d1d1ff 1px,#d1d1ff 23px,#d1d1ff 45px,#d1d1ff 66px,#d0d0ff 88px,#cfcfff 110px,#d6d6ff 132px,#e3e3ff 154px,#e8e8ff 175px,#e4e4ff 197px,#f6f6ff 219px,#ffe0e0 241px,#ffc7c7 262px,#ffbdbd 284px,#ffb1b1 306px,#ffa2a2 328px,#ffa8a8 350px,#ffc1c1 371px,#ffe2e2 393px,#f3f3ff 415px,#ededff 437px,#fff3f3 458px,#fdd 480px,#ffcfcf 502px,#ffdcdc 524px,#f7f7ff 546px,#e4e4ff 567px,#e7e7ff 589px,#e8e8ff 611px,#e7e7ff 633px,#ececff 655px,#f9f9ff 676px,#fff9f9 698px,#ffeded 720px,#ffe1e1 742px,#ffd6d6 763px,#ffcaca 785px,#ffbebe 807px,#ffb1b1 829px,#ffa2a2 851px,#ffa9a9 872px,#ffc4c4 894px,#ffd8d8 916px,#ffe3e3 938px,#ffe9e9 959px,#ffe9e9 981px,#ffe0e0 1003px,#ffcece 1025px,#ffe1e1 1047px,#e4e4ff 1068px,#cacaff 1090px,#cfcfff 1112px,#d0d0ff 1134px,#cfcfff 1155px,#d6d6ff 1177px,#e3e3ff 1199px,#eaeaff 1221px,#e9e9ff 1243px,#e7e7ff 1264px,#e5e5ff 1286px,#f3f3ff 1308px,#ffeded 1330px,#ffeded 1351px,#f3f3ff 1373px,#e6e6ff 1395px,#e9e9ff 1417px,#e6e6ff 1439px,#dbdbff 1460px,#c1c1ff 1482px,#9898ff 1504px,#8c8cff 1526px,#9d9dff 1547px,#a5a5ff 1569px,#a4a4ff 1591px,#a3a3ff 1613px,#a3a3ff 1635px,#a3a3ff 1656px,#a2a2ff 1678px,#a8a8ff 1700px,#b5b5ff 1722px,#bcbcff 1744px,#bbf 1765px,#b9b9ff 1787px,#b8b8ff 1809px,#bfbfff 1831px,#cdcdff 1852px,#d4d4ff 1874px,#d3d3ff 1896px,#ccf 1918px,#bebeff 1940px,#b8b8ff 1961px,#b9b9ff 1983px,#babaff 2005px,#babaff 2027px,#babaff 2048px,#babaff 2070px,#babaff 2092px,#babaff 2114px)"></div><div style="top:376px;background:linear-gradient(90deg,#d7d7ff 1px,#d7d7ff 23px,#d6d6ff 45px,#d4d4ff 66px,#d1d1ff 88px,#d0d0ff 110px,#d6d6ff 132px,#e3e3ff 154px,#e8e8ff 175px,#e4e4ff 197px,#f5f5ff 219px,#ffe2e2 241px,#ffcbcb 262px,#ffc1c1 284px,#ffb4b4 306px,#ffa3a3 328px,#ffa8a8 350px,#ffc2c2 371px,#ffe6e6 393px,#e9e9ff 415px,#e0e0ff 437px,#fefeff 458px,#ffe8e8 480px,#ffd4d4 502px,#ffe0e0 524px,#f1f1ff 546px,#ddf 567px,#e0e0ff 589px,#e2e2ff 611px,#e2e2ff 633px,#eaeaff 655px,#f7f7ff 676px,#fffcfc 698px,#fff3f3 720px,#ffe8e8 742px,#ffdada 763px,#ffcdcd 785px,#ffbfbf 807px,#ffb1b1 829px,#ffa3a3 851px,#faa 872px,#ffc6c6 894px,#ffdcdc 916px,#ffecec 938px,#fff5f5 959px,#fff7f7 981px,#ffecec 1003px,#ffd3d3 1025px,#ffe2e2 1047px,#e5e5ff 1068px,#cdcdff 1090px,#d3d3ff 1112px,#d5d5ff 1134px,#d2d2ff 1155px,#d7d7ff 1177px,#e5e5ff 1199px,#eaeaff 1221px,#e6e6ff 1243px,#e4e4ff 1264px,#e5e5ff 1286px,#f0f0ff 1308px,#fff7f7 1330px,#fff9f9 1351px,#eaeaff 1373px,#dedeff 1395px,#e1e1ff 1417px,#dedeff 1439px,#d5d5ff 1460px,#bebeff 1482px,#9898ff 1504px,#8c8cff 1526px,#9c9cff 1547px,#a3a3ff 1569px,#a2a2ff 1591px,#a2a2ff 1613px,#a3a3ff 1635px,#a3a3ff 1656px,#a2a2ff 1678px,#a8a8ff 1700px,#b7b7ff 1722px,#bdbdff 1744px,#bcbcff 1765px,#bcbcff 1787px,#bcbcff 1809px,#c1c1ff 1831px,#ccf 1852px,#d2d2ff 1874px,#d4d4ff 1896px,#d1d1ff 1918px,#c9c9ff 1940px,#c4c4ff 1961px,#c1c1ff 1983px,#bebeff 2005px,#bbf 2027px,#babaff 2048px,#babaff 2070px,#babaff 2092px,#babaff 2114px)"></div><div style="top:384px;background:linear-gradient(90deg,#ddf 1px,#ddf 23px,#dbdbff 45px,#d5d5ff 66px,#d1d1ff 88px,#d0d0ff 110px,#d6d6ff 132px,#e3e3ff 154px,#e9e9ff 175px,#e9e9ff 197px,#f8f8ff 219px,#ffe6e6 241px,#ffd1d1 262px,#ffc7c7 284px,#ffb9b9 306px,#ffa8a8 328px,#ffacac 350px,#ffc7c7 371px,#ffeded 393px,#dfdfff 415px,#d3d3ff 437px,#eef 458px,#fff6f6 480px,#ffdbdb 502px,#ffe5e5 524px,#ececff 546px,#d7d7ff 567px,#dadaff 589px,#dcdcff 611px,#ddf 633px,#e4e4ff 655px,#f2f2ff 676px,#fcfcff 698px,#fffdfd 720px,#fff2f2 742px,#ffe1e1 763px,#ffd0d0 785px,#ffc0c0 807px,#ffb2b2 829px,#ffa7a7 851px,#ffb0b0 872px,#ffcaca 894px,#ffe3e3 916px,#fff9f9 938px,#f7f7ff 959px,#f2f2ff 981px,#fffefe 1003px,#ffdcdc 1025px,#ffe5e5 1047px,#e4e4ff 1068px,#cfcfff 1090px,#d8d8ff 1112px,#dadaff 1134px,#d3d3ff 1155px,#d7d7ff 1177px,#e6e6ff 1199px,#e9e9ff 1221px,#e2e2ff 1243px,#e0e0ff 1264px,#e5e5ff 1286px,#ededff 1308px,#fafaff 1330px,#f6f6ff 1351px,#e2e2ff 1373px,#d9d9ff 1395px,#dbdbff 1417px,#d8d8ff 1439px,#cfcfff 1460px,#babaff 1482px,#9b9bff 1504px,#9191ff 1526px,#9d9dff 1547px,#a3a3ff 1569px,#a2a2ff 1591px,#a2a2ff 1613px,#a3a3ff 1635px,#a3a3ff 1656px,#a2a2ff 1678px,#a8a8ff 1700px,#b7b7ff 1722px,#bdbdff 1744px,#bcbcff 1765px,#bdbdff 1787px,#c0c0ff 1809px,#c7c7ff 1831px,#d1d1ff 1852px,#d6d6ff 1874px,#d7d7ff 1896px,#d9d9ff 1918px,#dbdbff 1940px,#d8d8ff 1961px,#ceceff 1983px,#c5c5ff 2005px,#bdbdff 2027px,#b9b9ff 2048px,#babaff 2070px,#babaff 2092px,#babaff 2114px)"></div><div style="top:392px;background:linear-gradient(90deg,#e2e2ff 1px,#e2e2ff 23px,#dfdfff 45px,#d5d5ff 66px,#d0d0ff 88px,#cfcfff 110px,#d5d5ff 132px,#e3e3ff 154px,#ebebff 175px,#efefff 197px,#fdfdff 219px,#ffe9e9 241px,#ffd8d8 262px,#ffcdcd 284px,#ffbfbf 306px,#ffafaf 328px,#ffb3b3 350px,#ffcdcd 371px,#fff4f4 393px,#d6d6ff 415px,#c8c8ff 437px,#ddf 458px,#f9f9ff 480px,#ffe4e4 502px,#ffeaea 524px,#e7e7ff 546px,#d2d2ff 567px,#d6d6ff 589px,#d7d7ff 611px,#d8d8ff 633px,#dfdfff 655px,#ececff 676px,#f4f4ff 698px,#f6f6ff 720px,#fffdfd 742px,#ffe9e9 763px,#ffd5d5 785px,#ffc0c0 807px,#ffb3b3 829px,#ffadad 851px,#ffb6b6 872px,#ffd0d0 894px,#ffebeb 916px,#f6f6ff 938px,#e3e3ff 959px,#dadaff 981px,#ebebff 1003px,#ffe6e6 1025px,#ffe9e9 1047px,#e3e3ff 1068px,#d0d0ff 1090px,#ddf 1112px,#dedeff 1134px,#d4d4ff 1155px,#d6d6ff 1177px,#e5e5ff 1199px,#e7e7ff 1221px,#dcdcff 1243px,#dcdcff 1264px,#e5e5ff 1286px,#eaeaff 1308px,#ebebff 1330px,#e6e6ff 1351px,#dadaff 1373px,#d5d5ff 1395px,#d7d7ff 1417px,#d3d3ff 1439px,#c9c9ff 1460px,#b8b8ff 1482px,#a0a0ff 1504px,#9797ff 1526px,#9f9fff 1547px,#a3a3ff 1569px,#a2a2ff 1591px,#a2a2ff 1613px,#a3a3ff 1635px,#a3a3ff 1656px,#a2a2ff 1678px,#a8a8ff 1700px,#b6b6ff 1722px,#bdbdff 1744px,#bbf 1765px,#bdbdff 1787px,#c4c4ff 1809px,#cdcdff 1831px,#d8d8ff 1852px,#ddf 1874px,#ddf 1896px,#e3e3ff 1918px,#f1f1ff 1940px,#efefff 1961px,#dedeff 1983px,#ceceff 2005px,#bfbfff 2027px,#b8b8ff 2048px,#babaff 2070px,#babaff 2092px,#babaff 2114px)"></div><div style="top:400px;background:linear-gradient(90deg,#e5e5ff 1px,#e5e5ff 23px,#e1e1ff 45px,#d6d6ff 66px,#cfcfff 88px,#cfcfff 110px,#d5d5ff 132px,#e2e2ff 154px,#ededff 175px,#f5f5ff 197px,#fffcfc 219px,#ffecec 241px,#ffdede 262px,#ffd2d2 284px,#ffc5c5 306px,#ffb5b5 328px,#ffbaba 350px,#ffd3d3 371px,#fffafa 393px,#cfcfff 415px,#bebeff 437px,#cfcfff 458px,#ebebff 480px,#ffebeb 502px,#fee 524px,#e3e3ff 546px,#cfcfff 567px,#d2d2ff 589px,#d3d3ff 611px,#d3d3ff 633px,#d9d9ff 655px,#e7e7ff 676px,#ededff 698px,#ececff 720px,#f7f7ff 742px,#fff0f0 763px,#ffd8d8 785px,#ffc1c1 807px,#ffb4b4 829px,#ffb1b1 851px,#ffbdbd 872px,#ffd6d6 894px,#fff3f3 916px,#e8e8ff 938px,#d1d1ff 959px,#c4c4ff 981px,#d9d9ff 1003px,#fff0f0 1025px,#ffeded 1047px,#e1e1ff 1068px,#d1d1ff 1090px,#e1e1ff 1112px,#e2e2ff 1134px,#d4d4ff 1155px,#d5d5ff 1177px,#e5e5ff 1199px,#e6e6ff 1221px,#d8d8ff 1243px,#d7d7ff 1264px,#e5e5ff 1286px,#e7e7ff 1308px,#dfdfff 1330px,#d8d8ff 1351px,#d5d5ff 1373px,#d3d3ff 1395px,#d5d5ff 1417px,#d0d0ff 1439px,#c4c4ff 1460px,#b5b5ff 1482px,#a4a4ff 1504px,#9e9eff 1526px,#a1a1ff 1547px,#a3a3ff 1569px,#a3a3ff 1591px,#a3a3ff 1613px,#a3a3ff 1635px,#a3a3ff 1656px,#a2a2ff 1678px,#a8a8ff 1700px,#b6b6ff 1722px,#bcbcff 1744px,#babaff 1765px,#bebeff 1787px,#c8c8ff 1809px,#d4d4ff 1831px,#e0e0ff 1852px,#e4e4ff 1874px,#e2e2ff 1896px,#ededff 1918px,#fffafa 1940px,#fffafa 1961px,#ededff 1983px,#d6d6ff 2005px,#c1c1ff 2027px,#b7b7ff 2048px,#b9b9ff 2070px,#babaff 2092px,#babaff 2114px)"></div><div style="top:408px;background:linear-gradient(90deg,#e8e8ff 1px,#e8e8ff 23px,#e3e3ff 45px,#d6d6ff 66px,#cfcfff 88px,#cfcfff 110px,#d5d5ff 132px,#e2e2ff 154px,#eef 175px,#f9f9ff 197px,#fff9f9 219px,#ffeded 241px,#ffe2e2 262px,#ffd6d6 284px,#ffc9c9 306px,#ffbaba 328px,#ffbebe 350px,#ffd7d7 371px,#fffefe 393px,#cacaff 415px,#b7b7ff 437px,#c5c5ff 458px,#e2e2ff 480px,#fff0f0 502px,#fff1f1 524px,#e1e1ff 546px,#ccf 567px,#cfcfff 589px,#d1d1ff 611px,#cfcfff 633px,#d6d6ff 655px,#e3e3ff 676px,#e9e9ff 698px,#e5e5ff 720px,#f0f0ff 742px,#fff4f4 763px,#ffdbdb 785px,#ffc1c1 807px,#ffb4b4 829px,#ffb4b4 851px,#ffc1c1 872px,#ffd9d9 894px,#fff8f8 916px,#e0e0ff 938px,#c5c5ff 959px,#b7b7ff 981px,#cdcdff 1003px,#fff6f6 1025px,#fff0f0 1047px,#e0e0ff 1068px,#d1d1ff 1090px,#e3e3ff 1112px,#e4e4ff 1134px,#d5d5ff 1155px,#d5d5ff 1177px,#e4e4ff 1199px,#e4e4ff 1221px,#d5d5ff 1243px,#d5d5ff 1264px,#e4e4ff 1286px,#e5e5ff 1308px,#d6d6ff 1330px,#cfcfff 1351px,#d1d1ff 1373px,#d2d2ff 1395px,#d3d3ff 1417px,#cdcdff 1439px,#c0c0ff 1460px,#b4b4ff 1482px,#a7a7ff 1504px,#a2a2ff 1526px,#a3a3ff 1547px,#a3a3ff 1569px,#a3a3ff 1591px,#a3a3ff 1613px,#a3a3ff 1635px,#a3a3ff 1656px,#a2a2ff 1678px,#a8a8ff 1700px,#b5b5ff 1722px,#bbf 1744px,#b9b9ff 1765px,#bebeff 1787px,#cbcbff 1809px,#d7d7ff 1831px,#e4e4ff 1852px,#e9e9ff 1874px,#e5e5ff 1896px,#f3f3ff 1918px,#fee 1940px,#ffeded 1961px,#f6f6ff 1983px,#dbdbff 2005px,#c2c2ff 2027px,#b7b7ff 2048px,#b9b9ff 2070px,#babaff 2092px,#babaff 2114px)"></div><div style="top:416px;background:linear-gradient(90deg,#e8e8ff 1px,#e8e8ff 23px,#e3e3ff 45px,#d6d6ff 66px,#cfcfff 88px,#cfcfff 110px,#d5d5ff 132px,#e2e2ff 154px,#eef 175px,#f9f9ff 197px,#fff9f9 219px,#ffeded 241px,#ffe2e2 262px,#ffd6d6 284px,#ffc9c9 306px,#ffbaba 328px,#ffbebe 350px,#ffd7d7 371px,#fffefe 393px,#cacaff 415px,#b7b7ff 437px,#c5c5ff 458px,#e2e2ff 480px,#fff0f0 502px,#fff1f1 524px,#e1e1ff 546px,#ccf 567px,#cfcfff 589px,#d1d1ff 611px,#cfcfff 633px,#d6d6ff 655px,#e3e3ff 676px,#e9e9ff 698px,#e5e5ff 720px,#f0f0ff 742px,#fff4f4 763px,#ffdbdb 785px,#ffc1c1 807px,#ffb4b4 829px,#ffb4b4 851px,#ffc1c1 872px,#ffd9d9 894px,#fff8f8 916px,#e0e0ff 938px,#c5c5ff 959px,#b7b7ff 981px,#cdcdff 1003px,#fff6f6 1025px,#fff0f0 1047px,#e0e0ff 1068px,#d1d1ff 1090px,#e3e3ff 1112px,#e4e4ff 1134px,#d5d5ff 1155px,#d5d5ff 1177px,#e4e4ff 1199px,#e4e4ff 1221px,#d5d5ff 1243px,#d5d5ff 1264px,#e4e4ff 1286px,#e5e5ff 1308px,#d6d6ff 1330px,#cfcfff 1351px,#d1d1ff 1373px,#d2d2ff 1395px,#d3d3ff 1417px,#cdcdff 1439px,#c0c0ff 1460px,#b4b4ff 1482px,#a7a7ff 1504px,#a2a2ff 1526px,#a3a3ff 1547px,#a3a3ff 1569px,#a3a3ff 1591px,#a3a3ff 1613px,#a3a3ff 1635px,#a3a3ff 1656px,#a2a2ff 1678px,#a8a8ff 1700px,#b5b5ff 1722px,#bbf 1744px,#b9b9ff 1765px,#bebeff 1787px,#cbcbff 1809px,#d7d7ff 1831px,#e4e4ff 1852px,#e9e9ff 1874px,#e5e5ff 1896px,#f3f3ff 1918px,#fee 1940px,#ffeded 1961px,#f6f6ff 1983px,#dbdbff 2005px,#c2c2ff 2027px,#b7b7ff 2048px,#b9b9ff 2070px,#babaff 2092px,#babaff 2114px)"></div></div></div>
<div class="hp" style="left:220.10px;top:525.90px;width:2088.20px;height:398.25px"><div class="hb" style="left:-13.35px;top:-12.00px;width:2114.90px;height:422.25px;filter:blur(4px)"><div style="top:0px;background:linear-gradient(90deg,#ffd0d0 1px,#ffd0d0 23px,#ffd5d5 45px,#ffe3e3 66px,#ffe8e8 88px,#ffe5e5 110px,#fff1f1 132px,#f1f1ff 154px,#e5e5ff 175px,#e7e7ff 197px,#e7e7ff 219px,#e5e5ff 241px,#f1f1ff 262px,#fff1f1 284px,#ffe3e3 306px,#ffe3e3 328px,#fff0f0 350px,#f3f3ff 371px,#dedeff 393px,#d0d0ff 415px,#ddf 437px,#fff8f8 458px,#fdd 480px,#ffd2d2 502px,#ffd3d3 524px,#ffe2e2 546px,#ffe8e8 567px,#ffe5e5 589px,#fff1f1 611px,#f1f1ff 633px,#e4e4ff 655px,#e4e4ff 676px,#f1f1ff 698px,#fff1f1 720px,#ffe5e5 742px,#ffe8e8 763px,#ffe3e3 785px,#ffd5d5 807px,#ffcdcd 829px,#ffcbcb 851px,#ffdede 872px,#f6f6ff 894px,#e0e0ff 916px,#ddf 938px,#fffafa 959px,#ffa8a8 981px,#ff7878 1003px,#ff6b6b 1025px,#ff7b7b 1047px,#ffa9a9 1068px,#ffbdbd 1090px,#ffb9b9 1112px,#ffbcbc 1134px,#ffc6c6 1155px,#ffe0e0 1177px,#f6f6ff 1199px,#e3e3ff 1221px,#e6e6ff 1243px,#e8e8ff 1264px,#e8e8ff 1286px,#e8e8ff 1308px,#e8e8ff 1330px,#e9e9ff 1351px,#eaeaff 1373px,#e3e3ff 1395px,#d6d6ff 1417px,#cfcfff 1439px,#cfcfff 1460px,#d4d4ff 1482px,#ddf 1504px,#fcfcff 1526px,#ffcdcd 1547px,#ffaeae 1569px,#ffa5a5 1591px,#ff9b9b 1613px,#ff8e8e 1635px,#f88 1656px,#f88 1678px,#ff8e8e 1700px,#ff9b9b 1722px,#ffa7a7 1744px,#ffb3b3 1765px,#ffbebe 1787px,#ffcaca 1809px,#ffd5d5 1831px,#ffe0e0 1852px,#fff0f0 1874px,#f7f7ff 1896px,#d3d3ff 1918px,#a0a0ff 1940px,#8080ff 1961px,#7474ff 1983px,#6e6eff 2005px,#6e6eff 2027px,#7676ff 2048px,#8787ff 2070px,#8c8cff 2092px,#8c8cff 2114px)"></div><div style="top:8px;background:linear-gradient(90deg,#ffd0d0 1px,#ffd0d0 23px,#ffd5d5 45px,#ffe3e3 66px,#ffe8e8 88px,#ffe5e5 110px,#fff1f1 132px,#f1f1ff 154px,#e5e5ff 175px,#e7e7ff 197px,#e7e7ff 219px,#e5e5ff 241px,#f1f1ff 262px,#fff1f1 284px,#ffe3e3 306px,#ffe3e3 328px,#fff0f0 350px,#f3f3ff 371px,#dedeff 393px,#d0d0ff 415px,#ddf 437px,#fff8f8 458px,#fdd 480px,#ffd2d2 502px,#ffd3d3 524px,#ffe2e2 546px,#ffe8e8 567px,#ffe5e5 589px,#fff1f1 611px,#f1f1ff 633px,#e4e4ff 655px,#e4e4ff 676px,#f1f1ff 698px,#fff1f1 720px,#ffe5e5 742px,#ffe8e8 763px,#ffe3e3 785px,#ffd5d5 807px,#ffcdcd 829px,#ffcbcb 851px,#ffdede 872px,#f6f6ff 894px,#e0e0ff 916px,#ddf 938px,#fffafa 959px,#ffa8a8 981px,#ff7878 1003px,#ff6b6b 1025px,#ff7b7b 1047px,#ffa9a9 1068px,#ffbdbd 1090px,#ffb9b9 1112px,#ffbcbc 1134px,#ffc6c6 1155px,#ffe0e0 1177px,#f6f6ff 1199px,#e3e3ff 1221px,#e6e6ff 1243px,#e8e8ff 1264px,#e8e8ff 1286px,#e8e8ff 1308px,#e8e8ff 1330px,#e9e9ff 1351px,#eaeaff 1373px,#e3e3ff 1395px,#d6d6ff 1417px,#cfcfff 1439px,#cfcfff 1460px,#d4d4ff 1482px,#ddf 1504px,#fcfcff 1526px,#ffcdcd 1547px,#ffaeae 1569px,#ffa5a5 1591px,#ff9b9b 1613px,#ff8e8e 1635px,#f88 1656px,#f88 1678px,#ff8e8e 1700px,#ff9b9b 1722px,#ffa7a7 1744px,#ffb3b3 1765px,#ffbebe 1787px,#ffcaca 1809px,#ffd5d5 1831px,#ffe0e0 1852px,#fff0f0 1874px,#f7f7ff 1896px,#d3d3ff 1918px,#a0a0ff 1940px,#8080ff 1961px,#7474ff 1983px,#6e6eff 2005px,#6e6eff 2027px,#7676ff 2048px,#8787ff 2070px,#8c8cff 2092px,#8c8cff 2114px)"></div><div style="top:16px;background:linear-gradient(90deg,#ffd0d0 1px,#ffd0d0 23px,#ffd5d5 45px,#ffe3e3 66px,#ffe8e8 88px,#ffe5e5 110px,#fff1f1 132px,#f1f1ff 154px,#e5e5ff 175px,#e7e7ff 197px,#e7e7ff 219px,#e5e5ff 241px,#f1f1ff 262px,#fff1f1 284px,#ffe3e3 306px,#ffe3e3 328px,#fff0f0 350px,#f3f3ff 371px,#dedeff 393px,#d0d0ff 415px,#ddf 437px,#fff8f8 458px,#fdd 480px,#ffd2d2 502px,#ffd3d3 524px,#ffe2e2 546px,#ffe8e8 567px,#ffe5e5 589px,#fff1f1 611px,#f1f1ff 633px,#e4e4ff 655px,#e4e4ff 676px,#f1f1ff 698px,#fff1f1 720px,#ffe5e5 742px,#ffe8e8 763px,#ffe3e3 785px,#ffd5d5 807px,#ffcdcd 829px,#ffcbcb 851px,#ffdede 872px,#f6f6ff 894px,#e0e0ff 916px,#ddf 938px,#fffafa 959px,#ffa8a8 981px,#ff7878 1003px,#ff6b6b 1025px,#ff7b7b 1047px,#ffa9a9 1068px,#ffbdbd 1090px,#ffb9b9 1112px,#ffbcbc 1134px,#ffc6c6 1155px,#ffe0e0 1177px,#f6f6ff 1199px,#e3e3ff 1221px,#e6e6ff 1243px,#e8e8ff 1264px,#e8e8ff 1286px,#e8e8ff 1308px,#e8e8ff 1330px,#e9e9ff 1351px,#eaeaff 1373px,#e3e3ff 1395px,#d6d6ff 1417px,#cfcfff 1439px,#cfcfff 1460px,#d4d4ff 1482px,#ddf 1504px,#fcfcff 1526px,#ffcdcd 1547px,#ffaeae 1569px,#ffa5a5 1591px,#ff9b9b 1613px,#ff8e8e 1635px,#f88 1656px,#f88 1678px,#ff8e8e 1700px,#ff9b9b 1722px,#ffa7a7 1744px,#ffb3b3 1765px,#ffbebe 1787px,#ffcaca 1809px,#ffd5d5 1831px,#ffe0e0 1852px,#fff0f0 1874px,#f7f7ff 1896px,#d3d3ff 1918px,#a0a0ff 1940px,#8080ff 1961px,#7474ff 1983px,#6e6eff 2005px,#6e6eff 2027px,#7676ff 2048px,#8787ff 2070px,#8c8cff 2092px,#8c8cff 2114px)"></div><div style="top:24px;background:linear-gradient(90deg,#ffd3d3 1px,#ffd3d3 23px,#ffd9d9 45px,#ffeaea 66px,#fff2f2 88px,#fff0f0 110px,#fffbfb 132px,#ececff 154px,#e2e2ff 175px,#e4e4ff 197px,#e2e2ff 219px,#ddf 241px,#ececff 262px,#fee 284px,#fdd 306px,#ffdede 328px,#ffebeb 350px,#fbfbff 371px,#e5e5ff 393px,#d3d3ff 415px,#dbdbff 437px,#fdfdff 458px,#ffe9e9 480px,#ffdcdc 502px,#ffdede 524px,#ffeded 546px,#fff4f4 567px,#fff3f3 589px,#fffefe 611px,#e8e8ff 633px,#dbdbff 655px,#d9d9ff 676px,#e4e4ff 698px,#fcfcff 720px,#fff5f5 742px,#fff4f4 763px,#ffeded 785px,#ffdfdf 807px,#ffd8d8 829px,#ffd6d6 851px,#ffe7e7 872px,#f5f5ff 894px,#e1e1ff 916px,#dbdbff 938px,#fffcfc 959px,#ffa9a9 981px,#ff7a7a 1003px,#ff7171 1025px,#ff8585 1047px,#ffb5b5 1068px,#fcc 1090px,#ffc9c9 1112px,#ffcdcd 1134px,#ffd8d8 1155px,#fff2f2 1177px,#e2e2ff 1199px,#d1d1ff 1221px,#d9d9ff 1243px,#ddf 1264px,#dedeff 1286px,#e1e1ff 1308px,#e4e4ff 1330px,#e7e7ff 1351px,#eaeaff 1373px,#e5e5ff 1395px,#d8d8ff 1417px,#d2d2ff 1439px,#d2d2ff 1460px,#d8d8ff 1482px,#e3e3ff 1504px,#fffdfd 1526px,#ffcdcd 1547px,#ffb1b1 1569px,#ffa9a9 1591px,#ffa3a3 1613px,#ff9f9f 1635px,#ff9d9d 1656px,#ff9e9e 1678px,#ffa5a5 1700px,#ffb2b2 1722px,#ffbebe 1744px,#ffcaca 1765px,#ffd4d4 1787px,#fdd 1809px,#ffe5e5 1831px,#ffecec 1852px,#fffafa 1874px,#f1f1ff 1896px,#d0d0ff 1918px,#a3a3ff 1940px,#8787ff 1961px,#7c7cff 1983px,#77f 2005px,#77f 2027px,#7f7fff 2048px,#8f8fff 2070px,#9595ff 2092px,#9595ff 2114px)"></div><div style="top:32px;background:linear-gradient(90deg,#ffd8d8 1px,#ffd8d8 23px,#ffe0e0 45px,#fff8f8 66px,#fafaff 88px,#fafaff 110px,#f2f2ff 132px,#e4e4ff 154px,#dedeff 175px,#dfdfff 197px,#dbdbff 219px,#d0d0ff 241px,#e4e4ff 262px,#ffe8e8 284px,#ffd1d1 306px,#ffd3d3 328px,#ffdfdf 350px,#fff4f4 371px,#f3f3ff 393px,#dbdbff 415px,#d9d9ff 437px,#eef 458px,#fffefe 480px,#fff0f0 502px,#fff0f0 524px,#fefeff 546px,#f5f5ff 567px,#f1f1ff 589px,#e7e7ff 611px,#d6d6ff 633px,#cbcbff 655px,#c6c6ff 676px,#cdcdff 698px,#dedeff 720px,#ebebff 742px,#f4f4ff 763px,#fff 785px,#fff1f1 807px,#ffebeb 829px,#ffebeb 851px,#fff5f5 872px,#f3f3ff 894px,#e3e3ff 916px,#dadaff 938px,#fffefe 959px,#ffa8a8 981px,#ff7c7c 1003px,#ff7979 1025px,#ff9494 1047px,#fcc 1068px,#ffe7e7 1090px,#ffe6e6 1112px,#ffecec 1134px,#fff7f7 1155px,#eaeaff 1177px,#bdbdff 1199px,#afafff 1221px,#bfbfff 1243px,#c9c9ff 1264px,#cdcdff 1286px,#d3d3ff 1308px,#ddf 1330px,#e5e5ff 1351px,#eaeaff 1373px,#e7e7ff 1395px,#ddf 1417px,#d8d8ff 1439px,#d7d7ff 1460px,#dfdfff 1482px,#f0f0ff 1504px,#fff3f3 1526px,#fcc 1547px,#ffb6b6 1569px,#ffb0b0 1591px,#ffb3b3 1613px,#ffbdbd 1635px,#ffc3c3 1656px,#ffc7c7 1678px,#ffcfcf 1700px,#ffdbdb 1722px,#ffe8e8 1744px,#fff5f5 1765px,#fffcfc 1787px,#fffefe 1809px,#fefeff 1831px,#fcfcff 1852px,#f4f4ff 1874px,#e6e6ff 1896px,#cdcdff 1918px,#aaf 1940px,#9494ff 1961px,#8c8cff 1983px,#88f 2005px,#8787ff 2027px,#8f8fff 2048px,#9f9fff 2070px,#a5a5ff 2092px,#a5a5ff 2114px)"></div><div style="top:40px;background:linear-gradient(90deg,#ffdede 1px,#ffdede 23px,#ffe9e9 45px,#f7f7ff 66px,#e6e6ff 88px,#e2e2ff 110px,#dedeff 132px,#d9d9ff 154px,#d8d8ff 175px,#d9d9ff 197px,#d1d1ff 219px,#c1c1ff 241px,#d9d9ff 262px,#ffe3e3 284px,#ffc4c4 306px,#ffc9c9 328px,#ffd3d3 350px,#ffe4e4 371px,#fffcfc 393px,#e2e2ff 415px,#d5d5ff 437px,#dcdcff 458px,#e7e7ff 480px,#f8f8ff 502px,#f8f8ff 524px,#e8e8ff 546px,#dcdcff 567px,#d4d4ff 589px,#cbcbff 611px,#c2c2ff 633px,#b9b9ff 655px,#b1b1ff 676px,#b2b2ff 698px,#bcbcff 720px,#c9c9ff 742px,#dbdbff 763px,#eaeaff 785px,#f7f7ff 807px,#fdfdff 829px,#fbfbff 851px,#f7f7ff 872px,#f0f0ff 894px,#e6e6ff 916px,#d7d7ff 938px,#fcfcff 959px,#ffa9a9 981px,#ff7f7f 1003px,#ff8585 1025px,#ffa7a7 1047px,#ffe6e6 1068px,#f8f8ff 1090px,#f6f6ff 1112px,#efefff 1134px,#e3e3ff 1155px,#c4c4ff 1177px,#9494ff 1199px,#8989ff 1221px,#a3a3ff 1243px,#b3b3ff 1264px,#b9b9ff 1286px,#c4c4ff 1308px,#d5d5ff 1330px,#e1e1ff 1351px,#eaeaff 1373px,#eaeaff 1395px,#e3e3ff 1417px,#dfdfff 1439px,#ddf 1460px,#e7e7ff 1482px,#fdfdff 1504px,#ffe8e8 1526px,#fcc 1547px,#ffbcbc 1569px,#ffb8b8 1591px,#ffc4c4 1613px,#ffdfdf 1635px,#fff0f0 1656px,#fff6f6 1678px,#fffefe 1700px,#f4f4ff 1722px,#e7e7ff 1744px,#d9d9ff 1765px,#d5d5ff 1787px,#dadaff 1809px,#dfdfff 1831px,#e3e3ff 1852px,#e0e0ff 1874px,#d8d8ff 1896px,#c8c8ff 1918px,#b1b1ff 1940px,#a2a2ff 1961px,#9e9eff 1983px,#9b9bff 2005px,#9a9aff 2027px,#a2a2ff 2048px,#b2b2ff 2070px,#b7b7ff 2092px,#b7b7ff 2114px)"></div><div style="top:48px;background:linear-gradient(90deg,#ffe4e4 1px,#ffe4e4 23px,#fff0f0 45px,#e9e9ff 66px,#d3d3ff 88px,#cdcdff 110px,#cacaff 132px,#ccf 154px,#cdcdff 175px,#ceceff 197px,#c4c4ff 219px,#b0b0ff 241px,#cdcdff 262px,#ffe2e2 284px,#ffbebe 306px,#ffc4c4 328px,#ffcdcd 350px,#ffdada 371px,#fff3f3 393px,#e5e5ff 415px,#d0d0ff 437px,#cacaff 458px,#d0d0ff 480px,#e1e1ff 502px,#e2e2ff 524px,#d3d3ff 546px,#c5c5ff 567px,#b9b9ff 589px,#b2b2ff 611px,#b0b0ff 633px,#a9a9ff 655px,#9d9dff 676px,#99f 698px,#9d9dff 720px,#ababff 742px,#c2c2ff 763px,#d5d5ff 785px,#e1e1ff 807px,#e6e6ff 829px,#e4e4ff 851px,#e6e6ff 872px,#ececff 894px,#e6e6ff 916px,#d3d3ff 938px,#f7f7ff 959px,#ffaeae 981px,#ff8787 1003px,#ff9494 1025px,#ffbcbc 1047px,#fff 1068px,#dbdbff 1090px,#d6d6ff 1112px,#ceceff 1134px,#c2c2ff 1155px,#a3a3ff 1177px,#7171ff 1199px,#6969ff 1221px,#8b8bff 1243px,#9f9fff 1264px,#a7a7ff 1286px,#b7b7ff 1308px,#cdcdff 1330px,#dedeff 1351px,#e8e8ff 1373px,#ebebff 1395px,#e7e7ff 1417px,#e4e4ff 1439px,#e2e2ff 1460px,#eef 1482px,#fff6f6 1504px,#ffe0e0 1526px,#ffcece 1547px,#ffc3c3 1569px,#ffc1c1 1591px,#ffd5d5 1613px,#fefeff 1635px,#e5e5ff 1656px,#ddf 1678px,#d4d4ff 1700px,#c8c8ff 1722px,#bbf 1744px,#adadff 1765px,#ababff 1787px,#b6b6ff 1809px,#c1c1ff 1831px,#cacaff 1852px,#cdcdff 1874px,#cacaff 1896px,#c2c2ff 1918px,#b7b7ff 1940px,#b0b0ff 1961px,#aeaeff 1983px,#adadff 2005px,#acacff 2027px,#b3b3ff 2048px,#c2c2ff 2070px,#c7c7ff 2092px,#c7c7ff 2114px)"></div><div style="top:56px;background:linear-gradient(90deg,#ffe7e7 1px,#ffe7e7 23px,#fff5f5 45px,#e1e1ff 66px,#c8c8ff 88px,#bebeff 110px,#b9b9ff 132px,#bbf 154px,#bcbcff 175px,#bdbdff 197px,#b3b3ff 219px,#9f9fff 241px,#bfbfff 262px,#ffecec 284px,#ffc5c5 306px,#ffcaca 328px,#ffd3d3 350px,#fdd 371px,#fff6f6 393px,#e1e1ff 415px,#c8c8ff 437px,#bcbcff 458px,#bebeff 480px,#ceceff 502px,#cfcfff 524px,#c2c2ff 546px,#b4b4ff 567px,#a8a8ff 589px,#a3a3ff 611px,#a5a5ff 633px,#9f9fff 655px,#9191ff 676px,#8a8aff 698px,#8989ff 720px,#9696ff 742px,#b0b0ff 763px,#c3c3ff 785px,#ceceff 807px,#d3d3ff 829px,#d1d1ff 851px,#d7d7ff 872px,#e5e5ff 894px,#e2e2ff 916px,#cdcdff 938px,#ededff 959px,#fbb 981px,#ff9898 1003px,#ffa7a7 1025px,#ffd0d0 1047px,#ebebff 1068px,#c6c6ff 1090px,#bfbfff 1112px,#b7b7ff 1134px,#aeaeff 1155px,#9090ff 1177px,#5f5fff 1199px,#5858ff 1221px,#7d7dff 1243px,#9494ff 1264px,#9d9dff 1286px,#aeaeff 1308px,#c7c7ff 1330px,#d9d9ff 1351px,#e5e5ff 1373px,#eaeaff 1395px,#e9e9ff 1417px,#e7e7ff 1439px,#e5e5ff 1460px,#f1f1ff 1482px,#fff3f3 1504px,#ffdfdf 1526px,#ffd3d3 1547px,#fcc 1569px,#ffc9c9 1591px,#ffe2e2 1613px,#e6e6ff 1635px,#c7c7ff 1656px,#bfbfff 1678px,#b5b5ff 1700px,#aaf 1722px,#9d9dff 1744px,#9090ff 1765px,#9090ff 1787px,#9d9dff 1809px,#aaf 1831px,#b7b7ff 1852px,#bcbcff 1874px,#bbf 1896px,#bbf 1918px,#babaff 1940px,#babaff 1961px,#babaff 1983px,#b9b9ff 2005px,#b8b8ff 2027px,#bebeff 2048px,#ccf 2070px,#d1d1ff 2092px,#d1d1ff 2114px)"></div><div style="top:64px;background:linear-gradient(90deg,#ffe9e9 1px,#ffe9e9 23px,#fff6f6 45px,#e1e1ff 66px,#c6c6ff 88px,#b7b7ff 110px,#ababff 132px,#a1a1ff 154px,#9d9dff 175px,#9e9eff 197px,#9898ff 219px,#8b8bff 241px,#ababff 262px,#f8f8ff 284px,#ffe0e0 306px,#ffe3e3 328px,#ffeaea 350px,#fff5f5 371px,#f2f2ff 393px,#cfcfff 415px,#babaff 437px,#b2b2ff 458px,#b3b3ff 480px,#bebeff 502px,#bfbfff 524px,#b5b5ff 546px,#ababff 567px,#a1a1ff 589px,#9e9eff 611px,#a2a2ff 633px,#9d9dff 655px,#9090ff 676px,#88f 698px,#8585ff 720px,#8f8fff 742px,#a5a5ff 763px,#b5b5ff 785px,#bebeff 807px,#c3c3ff 829px,#c3c3ff 851px,#cbcbff 872px,#dbdbff 894px,#d8d8ff 916px,#c2c2ff 938px,#ddf 959px,#ffd6d6 981px,#ffb7b7 1003px,#ffc3c3 1025px,#ffe7e7 1047px,#dcdcff 1068px,#babaff 1090px,#b1b1ff 1112px,#ababff 1134px,#a8a8ff 1155px,#9090ff 1177px,#6363ff 1199px,#5d5dff 1221px,#8080ff 1243px,#9595ff 1264px,#9d9dff 1286px,#acacff 1308px,#c3c3ff 1330px,#d4d4ff 1351px,#dedeff 1373px,#e4e4ff 1395px,#e6e6ff 1417px,#e6e6ff 1439px,#e3e3ff 1460px,#eef 1482px,#fff8f8 1504px,#ffe8e8 1526px,#ffdfdf 1547px,#ffd7d7 1569px,#ffcfcf 1591px,#ffe9e9 1613px,#d9d9ff 1635px,#b8b8ff 1656px,#b2b2ff 1678px,#a9a9ff 1700px,#9d9dff 1722px,#9191ff 1744px,#8686ff 1765px,#8686ff 1787px,#9191ff 1809px,#9d9dff 1831px,#aaf 1852px,#aeaeff 1874px,#acacff 1896px,#afafff 1918px,#b9b9ff 1940px,#bfbfff 1961px,#bfbfff 1983px,#bebeff 2005px,#bebeff 2027px,#c3c3ff 2048px,#ceceff 2070px,#d2d2ff 2092px,#d2d2ff 2114px)"></div><div style="top:72px;background:linear-gradient(90deg,#ffe9e9 1px,#ffe9e9 23px,#fff5f5 45px,#e6e6ff 66px,#cacaff 88px,#b5b5ff 110px,#9c9cff 132px,#7f7fff 154px,#7171ff 175px,#7373ff 197px,#7474ff 219px,#7474ff 241px,#9393ff 262px,#d1d1ff 284px,#f1f1ff 306px,#f4f4ff 328px,#efefff 350px,#e1e1ff 371px,#ceceff 393px,#b3b3ff 415px,#a7a7ff 437px,#a9a9ff 458px,#acacff 480px,#afafff 502px,#aeaeff 524px,#aaf 546px,#a5a5ff 567px,#a0a0ff 589px,#a0a0ff 611px,#a6a6ff 633px,#a2a2ff 655px,#9595ff 676px,#8e8eff 698px,#8d8dff 720px,#9393ff 742px,#9e9eff 763px,#a8a8ff 785px,#afafff 807px,#b4b4ff 829px,#b9b9ff 851px,#c1c1ff 872px,#cdcdff 894px,#c9c9ff 916px,#b4b4ff 938px,#c6c6ff 959px,#fffcfc 981px,#ffe2e2 1003px,#ffe8e8 1025px,#fdfdff 1047px,#cfcfff 1068px,#b3b3ff 1090px,#a8a8ff 1112px,#a6a6ff 1134px,#adadff 1155px,#9e9eff 1177px,#7878ff 1199px,#7272ff 1221px,#8d8dff 1243px,#9d9dff 1264px,#a3a3ff 1286px,#afafff 1308px,#c2c2ff 1330px,#ceceff 1351px,#d6d6ff 1373px,#dcdcff 1395px,#e2e2ff 1417px,#e3e3ff 1439px,#e0e0ff 1460px,#e7e7ff 1482px,#f9f9ff 1504px,#fff8f8 1526px,#ffefef 1547px,#ffe4e4 1569px,#ffd6d6 1591px,#fee 1613px,#d2d2ff 1635px,#b2b2ff 1656px,#afafff 1678px,#a7a7ff 1700px,#9b9bff 1722px,#9191ff 1744px,#8989ff 1765px,#88f 1787px,#8d8dff 1809px,#9595ff 1831px,#9f9fff 1852px,#a1a1ff 1874px,#99f 1896px,#a0a0ff 1918px,#b6b6ff 1940px,#c0c0ff 1961px,#c0c0ff 1983px,#bfbfff 2005px,#bfbfff 2027px,#c2c2ff 2048px,#cbcbff 2070px,#cdcdff 2092px,#cdcdff 2114px)"></div><div style="top:80px;background:linear-gradient(90deg,#ffe9e9 1px,#ffe9e9 23px,#fff3f3 45px,#ededff 66px,#d1d1ff 88px,#b6b6ff 110px,#8f8fff 132px,#5c5cff 154px,#4343ff 175px,#4646ff 197px,#4f4fff 219px,#5d5dff 241px,#7a7aff 262px,#a5a5ff 284px,#bfbfff 306px,#c8c8ff 328px,#c4c4ff 350px,#b4b4ff 371px,#a4a4ff 393px,#9494ff 415px,#9393ff 437px,#a3a3ff 458px,#a7a7ff 480px,#a2a2ff 502px,#a0a0ff 524px,#a1a1ff 546px,#a3a3ff 567px,#a4a4ff 589px,#a8a8ff 611px,#adadff 633px,#a9a9ff 655px,#9e9eff 676px,#99f 698px,#9a9aff 720px,#9a9aff 742px,#9a9aff 763px,#9c9cff 785px,#a1a1ff 807px,#a7a7ff 829px,#b0b0ff 851px,#b7b7ff 872px,#bebeff 894px,#b8b8ff 916px,#a4a4ff 938px,#afafff 959px,#d8d8ff 981px,#eef 1003px,#f0f0ff 1025px,#e3e3ff 1047px,#c6c6ff 1068px,#b1b1ff 1090px,#a4a4ff 1112px,#a6a6ff 1134px,#b7b7ff 1155px,#b2b2ff 1177px,#9595ff 1199px,#8f8fff 1221px,#a0a0ff 1243px,#aaf 1264px,#adadff 1286px,#b5b5ff 1308px,#c0c0ff 1330px,#c8c8ff 1351px,#ccf 1373px,#d2d2ff 1395px,#dbdbff 1417px,#dedeff 1439px,#dadaff 1460px,#dedeff 1482px,#e9e9ff 1504px,#f3f3ff 1526px,#fdfdff 1547px,#fff2f2 1569px,#ffdcdc 1591px,#fff0f0 1613px,#cfcfff 1635px,#b1b1ff 1656px,#b2b2ff 1678px,#acacff 1700px,#a0a0ff 1722px,#9797ff 1744px,#9393ff 1765px,#9090ff 1787px,#8e8eff 1809px,#9191ff 1831px,#9898ff 1852px,#9595ff 1874px,#8787ff 1896px,#9191ff 1918px,#b1b1ff 1940px,#c0c0ff 1961px,#bfbfff 1983px,#bebeff 2005px,#bdbdff 2027px,#bfbfff 2048px,#c4c4ff 2070px,#c6c6ff 2092px,#c6c6ff 2114px)"></div><div style="top:88px;background:linear-gradient(90deg,#ffe8e8 1px,#ffe8e8 23px,#fff0f0 45px,#f4f4ff 66px,#d7d7ff 88px,#b9b9ff 110px,#8686ff 132px,#4040ff 154px,#1f1fff 175px,#22f 197px,#3131ff 219px,#4c4cff 241px,#66f 262px,#7f7fff 284px,#9393ff 306px,#a0a0ff 328px,#9e9eff 350px,#8c8cff 371px,#8080ff 393px,#7979ff 415px,#8383ff 437px,#9e9eff 458px,#a4a4ff 480px,#9797ff 502px,#9494ff 524px,#9d9dff 546px,#a5a5ff 567px,#acacff 589px,#b2b2ff 611px,#b5b5ff 633px,#b1b1ff 655px,#a6a6ff 676px,#a1a1ff 698px,#a3a3ff 720px,#a0a0ff 742px,#9696ff 763px,#9292ff 785px,#9494ff 807px,#9b9bff 829px,#a7a7ff 851px,#aeaeff 872px,#b0b0ff 894px,#a8a8ff 916px,#9797ff 938px,#9a9aff 959px,#b3b3ff 981px,#c4c4ff 1003px,#cdcdff 1025px,#ccf 1047px,#bfbfff 1068px,#b2b2ff 1090px,#a3a3ff 1112px,#a9a9ff 1134px,#c2c2ff 1155px,#c5c5ff 1177px,#b0b0ff 1199px,#a9a9ff 1221px,#b1b1ff 1243px,#b5b5ff 1264px,#b6b6ff 1286px,#b9b9ff 1308px,#bebeff 1330px,#c1c1ff 1351px,#c2c2ff 1373px,#c8c8ff 1395px,#d4d4ff 1417px,#d8d8ff 1439px,#d5d5ff 1460px,#d6d6ff 1482px,#dadaff 1504px,#e1e1ff 1526px,#ececff 1547px,#fff 1569px,#ffe3e3 1591px,#fff3f3 1613px,#cfcfff 1635px,#b3b3ff 1656px,#b7b7ff 1678px,#b3b3ff 1700px,#a5a5ff 1722px,#9f9fff 1744px,#9e9eff 1765px,#9a9aff 1787px,#9090ff 1809px,#8e8eff 1831px,#9292ff 1852px,#8b8bff 1874px,#7979ff 1896px,#8484ff 1918px,#adadff 1940px,#c0c0ff 1961px,#bdbdff 1983px,#bbf 2005px,#bbf 2027px,#bcbcff 2048px,#bebeff 2070px,#bebeff 2092px,#bebeff 2114px)"></div><div style="top:96px;background:linear-gradient(90deg,#ffe8e8 1px,#ffe8e8 23px,#ffefef 45px,#f6f6ff 66px,#dadaff 88px,#babaff 110px,#8282ff 132px,#3434ff 154px,#0e0eff 175px,#1212ff 197px,#2424ff 219px,#4545ff 241px,#5b5bff 262px,#6969ff 284px,#77f 306px,#88f 328px,#88f 350px,#7676ff 371px,#6c6cff 393px,#6c6cff 415px,#7b7bff 437px,#9a9aff 458px,#a1a1ff 480px,#9090ff 502px,#8f8fff 524px,#9d9dff 546px,#aaf 567px,#b7b7ff 589px,#bdbdff 611px,#bdbdff 633px,#b6b6ff 655px,#a8a8ff 676px,#a2a2ff 698px,#a4a4ff 720px,#9e9eff 742px,#9090ff 763px,#8989ff 785px,#8989ff 807px,#9090ff 829px,#9e9eff 851px,#a5a5ff 872px,#a5a5ff 894px,#9d9dff 916px,#8f8fff 938px,#8e8eff 959px,#9b9bff 981px,#a8a8ff 1003px,#b5b5ff 1025px,#bbf 1047px,#bcbcff 1068px,#b5b5ff 1090px,#a5a5ff 1112px,#acacff 1134px,#c9c9ff 1155px,#d0d0ff 1177px,#c1c1ff 1199px,#b9b9ff 1221px,#babaff 1243px,#babaff 1264px,#babaff 1286px,#babaff 1308px,#babaff 1330px,#b9b9ff 1351px,#b8b8ff 1373px,#bebeff 1395px,#ccf 1417px,#d2d2ff 1439px,#d1d1ff 1460px,#d0d0ff 1482px,#cfcfff 1504px,#d4d4ff 1526px,#dfdfff 1547px,#f5f5ff 1569px,#ffebeb 1591px,#fff7f7 1613px,#ceceff 1635px,#b4b4ff 1656px,#babaff 1678px,#b5b5ff 1700px,#a8a8ff 1722px,#a2a2ff 1744px,#a4a4ff 1765px,#9f9fff 1787px,#9191ff 1809px,#8b8bff 1831px,#8d8dff 1852px,#8484ff 1874px,#7070ff 1896px,#7d7dff 1918px,#aaf 1940px,#bfbfff 1961px,#bcbcff 1983px,#babaff 2005px,#babaff 2027px,#babaff 2048px,#babaff 2070px,#babaff 2092px,#babaff 2114px)"></div><div style="top:104px;background:linear-gradient(90deg,#ffe5e5 1px,#ffe5e5 23px,#fee 45px,#f5f5ff 66px,#d9d9ff 88px,#bbf 110px,#8686ff 132px,#3b3bff 154px,#1717ff 175px,#1b1bff 197px,#2c2cff 219px,#4b4bff 241px,#5d5dff 262px,#6464ff 284px,#7070ff 306px,#8181ff 328px,#8282ff 350px,#7373ff 371px,#6c6cff 393px,#6d6dff 415px,#7c7cff 437px,#99f 458px,#9f9fff 480px,#8e8eff 502px,#9090ff 524px,#a5a5ff 546px,#b7b7ff 567px,#c9c9ff 589px,#ceceff 611px,#c6c6ff 633px,#b8b8ff 655px,#a3a3ff 676px,#9898ff 698px,#9797ff 720px,#9292ff 742px,#8787ff 763px,#8282ff 785px,#8080ff 807px,#8686ff 829px,#9292ff 851px,#9898ff 872px,#9a9aff 894px,#9696ff 916px,#8d8dff 938px,#8b8bff 959px,#9191ff 981px,#9a9aff 1003px,#a6a6ff 1025px,#b2b2ff 1047px,#bfbfff 1068px,#bdbdff 1090px,#acacff 1112px,#b1b1ff 1134px,#cdcdff 1155px,#d4d4ff 1177px,#c7c7ff 1199px,#bfbfff 1221px,#bbf 1243px,#b9b9ff 1264px,#b8b8ff 1286px,#b6b6ff 1308px,#b2b2ff 1330px,#afafff 1351px,#adadff 1373px,#b3b3ff 1395px,#c2c2ff 1417px,#cbcbff 1439px,#cfcfff 1460px,#cfcfff 1482px,#c9c9ff 1504px,#ccf 1526px,#d8d8ff 1547px,#ededff 1569px,#fff3f3 1591px,#fffdfd 1613px,#cfcfff 1635px,#b7b7ff 1656px,#babaff 1678px,#b5b5ff 1700px,#a7a7ff 1722px,#a2a2ff 1744px,#a6a6ff 1765px,#a0a0ff 1787px,#9090ff 1809px,#8989ff 1831px,#8a8aff 1852px,#8282ff 1874px,#6f6fff 1896px,#7d7dff 1918px,#aaf 1940px,#bfbfff 1961px,#bcbcff 1983px,#babaff 2005px,#babaff 2027px,#babaff 2048px,#b9b9ff 2070px,#b9b9ff 2092px,#b9b9ff 2114px)"></div><div style="top:112px;background:linear-gradient(90deg,#ffe2e2 1px,#ffe2e2 23px,#ffecec 45px,#f2f2ff 66px,#d6d6ff 88px,#bdbdff 110px,#9090ff 132px,#5050ff 154px,#3232ff 175px,#3636ff 197px,#44f 219px,#5a5aff 241px,#6767ff 262px,#6a6aff 284px,#7474ff 306px,#8585ff 328px,#8787ff 350px,#7c7cff 371px,#77f 393px,#7979ff 415px,#8585ff 437px,#9a9aff 458px,#9e9eff 480px,#9090ff 502px,#9797ff 524px,#b3b3ff 546px,#ccf 567px,#e2e2ff 589px,#e4e4ff 611px,#d3d3ff 633px,#babaff 655px,#9a9aff 676px,#88f 698px,#8383ff 720px,#7f7fff 742px,#7d7dff 763px,#7b7bff 785px,#7979ff 807px,#7c7cff 829px,#8484ff 851px,#8a8aff 872px,#8f8fff 894px,#9090ff 916px,#8f8fff 938px,#8f8fff 959px,#9090ff 981px,#9696ff 1003px,#9e9eff 1025px,#afafff 1047px,#c7c7ff 1068px,#cbcbff 1090px,#b9b9ff 1112px,#bbf 1134px,#d0d0ff 1155px,#d4d4ff 1177px,#c8c8ff 1199px,#bebeff 1221px,#b7b7ff 1243px,#b3b3ff 1264px,#b3b3ff 1286px,#b0b0ff 1308px,#a8a8ff 1330px,#a3a3ff 1351px,#a1a1ff 1373px,#a7a7ff 1395px,#b5b5ff 1417px,#c2c2ff 1439px,#ceceff 1460px,#cfcfff 1482px,#c4c4ff 1504px,#c6c6ff 1526px,#d4d4ff 1547px,#e8e8ff 1569px,#fffdfd 1591px,#fafaff 1613px,#d2d2ff 1635px,#bdbdff 1656px,#bcbcff 1678px,#b5b5ff 1700px,#a7a7ff 1722px,#a2a2ff 1744px,#a6a6ff 1765px,#9f9fff 1787px,#8f8fff 1809px,#88f 1831px,#8989ff 1852px,#8282ff 1874px,#7474ff 1896px,#8282ff 1918px,#acacff 1940px,#bfbfff 1961px,#bcbcff 1983px,#babaff 2005px,#babaff 2027px,#babaff 2048px,#b9b9ff 2070px,#b9b9ff 2092px,#b9b9ff 2114px)"></div><div style="top:120px;background:linear-gradient(90deg,#ffdfdf 1px,#ffdfdf 23px,#ffebeb 45px,#eef 66px,#d2d2ff 88px,#bfbfff 110px,#9d9dff 132px,#6b6bff 154px,#55f 175px,#5959ff 197px,#6161ff 219px,#6f6fff 241px,#7676ff 262px,#77f 284px,#7f7fff 306px,#8e8eff 328px,#9393ff 350px,#8b8bff 371px,#8989ff 393px,#8a8aff 415px,#9191ff 437px,#9d9dff 458px,#9f9fff 480px,#9595ff 502px,#a1a1ff 524px,#c4c4ff 546px,#e1e1ff 567px,#fbfbff 589px,#fafaff 611px,#dedeff 633px,#bbf 655px,#9090ff 676px,#7676ff 698px,#6c6cff 720px,#6b6bff 742px,#7373ff 763px,#7676ff 785px,#7373ff 807px,#7474ff 829px,#77f 851px,#7e7eff 872px,#8686ff 894px,#8e8eff 916px,#9393ff 938px,#9696ff 959px,#9595ff 981px,#9797ff 1003px,#9b9bff 1025px,#afafff 1047px,#d1d1ff 1068px,#d9d9ff 1090px,#c7c7ff 1112px,#c5c5ff 1134px,#d2d2ff 1155px,#d2d2ff 1177px,#c6c6ff 1199px,#bbf 1221px,#b0b0ff 1243px,#acacff 1264px,#adadff 1286px,#a8a8ff 1308px,#9d9dff 1330px,#9797ff 1351px,#9696ff 1373px,#9c9cff 1395px,#a9a9ff 1417px,#b9b9ff 1439px,#cdcdff 1460px,#d0d0ff 1482px,#c2c2ff 1504px,#c2c2ff 1526px,#d1d1ff 1547px,#e3e3ff 1569px,#f7f7ff 1591px,#f3f3ff 1613px,#d6d6ff 1635px,#c4c4ff 1656px,#bebeff 1678px,#b4b4ff 1700px,#a6a6ff 1722px,#a1a1ff 1744px,#a5a5ff 1765px,#9f9fff 1787px,#8f8fff 1809px,#88f 1831px,#8989ff 1852px,#8585ff 1874px,#7c7cff 1896px,#8989ff 1918px,#aeaeff 1940px,#bebeff 1961px,#bcbcff 1983px,#babaff 2005px,#babaff 2027px,#babaff 2048px,#b9b9ff 2070px,#b9b9ff 2092px,#b9b9ff 2114px)"></div><div style="top:128px;background:linear-gradient(90deg,#ffe1e1 1px,#ffe1e1 23px,#fee 45px,#e7e7ff 66px,#cdcdff 88px,#c0c0ff 110px,#a9a9ff 132px,#8686ff 154px,#7676ff 175px,#7979ff 197px,#7d7dff 219px,#8282ff 241px,#8484ff 262px,#8484ff 284px,#8b8bff 306px,#99f 328px,#9e9eff 350px,#9b9bff 371px,#9a9aff 393px,#9a9aff 415px,#9c9cff 437px,#a0a0ff 458px,#a0a0ff 480px,#9a9aff 502px,#ababff 524px,#d1d1ff 546px,#f2f2ff 567px,#fff0f0 589px,#fff4f4 611px,#e6e6ff 633px,#bbf 655px,#88f 676px,#6868ff 698px,#5b5bff 720px,#5c5cff 742px,#6c6cff 763px,#7373ff 785px,#7171ff 807px,#6f6fff 829px,#6f6fff 851px,#7676ff 872px,#8383ff 894px,#8f8fff 916px,#9a9aff 938px,#9e9eff 959px,#9d9dff 981px,#9d9dff 1003px,#9c9cff 1025px,#b0b0ff 1047px,#d9d9ff 1068px,#e5e5ff 1090px,#d3d3ff 1112px,#cdcdff 1134px,#d3d3ff 1155px,#cfcfff 1177px,#c3c3ff 1199px,#b7b7ff 1221px,#aaf 1243px,#a5a5ff 1264px,#a7a7ff 1286px,#a2a2ff 1308px,#9595ff 1330px,#8e8eff 1351px,#8e8eff 1373px,#9494ff 1395px,#9f9fff 1417px,#b2b2ff 1439px,#cbcbff 1460px,#d0d0ff 1482px,#c0c0ff 1504px,#bfbfff 1526px,#ceceff 1547px,#dedeff 1569px,#ededff 1591px,#ececff 1613px,#d8d8ff 1635px,#c9c9ff 1656px,#bfbfff 1678px,#b4b4ff 1700px,#a6a6ff 1722px,#a1a1ff 1744px,#a4a4ff 1765px,#9f9fff 1787px,#9090ff 1809px,#8989ff 1831px,#8a8aff 1852px,#88f 1874px,#8484ff 1896px,#9191ff 1918px,#b0b0ff 1940px,#bebeff 1961px,#bbf 1983px,#babaff 2005px,#babaff 2027px,#babaff 2048px,#babaff 2070px,#babaff 2092px,#babaff 2114px)"></div><div style="top:136px;background:linear-gradient(90deg,#ffeaea 1px,#ffeaea 23px,#fff8f8 45px,#dfdfff 66px,#c8c8ff 88px,#c0c0ff 110px,#b0b0ff 132px,#9898ff 154px,#8c8cff 175px,#8e8eff 197px,#8f8fff 219px,#8e8eff 241px,#8d8dff 262px,#8c8cff 284px,#9292ff 306px,#9f9fff 328px,#a6a6ff 350px,#a5a5ff 371px,#a5a5ff 393px,#a5a5ff 415px,#a4a4ff 437px,#a4a4ff 458px,#a2a2ff 480px,#9f9fff 502px,#b1b1ff 524px,#d7d7ff 546px,#f8f8ff 567px,#ffebeb 589px,#fff1f1 611px,#e6e6ff 633px,#b9b9ff 655px,#8484ff 676px,#6262ff 698px,#5454ff 720px,#5656ff 742px,#6969ff 763px,#7272ff 785px,#7171ff 807px,#7070ff 829px,#6f6fff 851px,#7676ff 872px,#8686ff 894px,#9595ff 916px,#a1a1ff 938px,#a6a6ff 959px,#a5a5ff 981px,#a3a3ff 1003px,#9f9fff 1025px,#b2b2ff 1047px,#dcdcff 1068px,#e8e8ff 1090px,#d8d8ff 1112px,#d0d0ff 1134px,#d2d2ff 1155px,#ccf 1177px,#c0c0ff 1199px,#b3b3ff 1221px,#a7a7ff 1243px,#a2a2ff 1264px,#a4a4ff 1286px,#9e9eff 1308px,#9191ff 1330px,#8a8aff 1351px,#8a8aff 1373px,#8f8fff 1395px,#9b9bff 1417px,#aeaeff 1439px,#c9c9ff 1460px,#cfcfff 1482px,#bebeff 1504px,#bcbcff 1526px,#c9c9ff 1547px,#d6d6ff 1569px,#e4e4ff 1591px,#e4e4ff 1613px,#d7d7ff 1635px,#cbcbff 1656px,#c0c0ff 1678px,#b4b4ff 1700px,#a8a8ff 1722px,#a3a3ff 1744px,#a4a4ff 1765px,#9f9fff 1787px,#9191ff 1809px,#8b8bff 1831px,#8c8cff 1852px,#8c8cff 1874px,#8a8aff 1896px,#9696ff 1918px,#b1b1ff 1940px,#bdbdff 1961px,#bbf 1983px,#babaff 2005px,#babaff 2027px,#babaff 2048px,#babaff 2070px,#babaff 2092px,#babaff 2114px)"></div><div style="top:144px;background:linear-gradient(90deg,#fffefe 1px,#fffefe 23px,#f5f5ff 45px,#d3d3ff 66px,#c1c1ff 88px,#bfbfff 110px,#b5b5ff 132px,#a3a3ff 154px,#9a9aff 175px,#9898ff 197px,#9797ff 219px,#9494ff 241px,#9292ff 262px,#8f8fff 284px,#9595ff 306px,#a2a2ff 328px,#a9a9ff 350px,#aaf 371px,#ababff 393px,#ababff 415px,#aaf 437px,#a9a9ff 458px,#a7a7ff 480px,#a6a6ff 502px,#b6b6ff 524px,#d6d6ff 546px,#f2f2ff 567px,#fff4f4 589px,#fffbfb 611px,#dedeff 633px,#b3b3ff 655px,#8282ff 676px,#6363ff 698px,#5656ff 720px,#5959ff 742px,#6b6bff 763px,#7575ff 785px,#77f 807px,#7878ff 829px,#77f 851px,#8181ff 872px,#9494ff 894px,#a1a1ff 916px,#a9a9ff 938px,#afafff 959px,#b2b2ff 981px,#b0b0ff 1003px,#a9a9ff 1025px,#b7b7ff 1047px,#d8d8ff 1068px,#e2e2ff 1090px,#d5d5ff 1112px,#ceceff 1134px,#ceceff 1155px,#c8c8ff 1177px,#bbf 1199px,#afafff 1221px,#a4a4ff 1243px,#a0a0ff 1264px,#a2a2ff 1286px,#9d9dff 1308px,#9191ff 1330px,#8b8bff 1351px,#8b8bff 1373px,#9191ff 1395px,#9d9dff 1417px,#afafff 1439px,#c6c6ff 1460px,#cbcbff 1482px,#bdbdff 1504px,#babaff 1526px,#c2c2ff 1547px,#cdcdff 1569px,#d9d9ff 1591px,#dcdcff 1613px,#d4d4ff 1635px,#cbcbff 1656px,#c0c0ff 1678px,#b6b6ff 1700px,#acacff 1722px,#a6a6ff 1744px,#a4a4ff 1765px,#9e9eff 1787px,#9494ff 1809px,#8f8fff 1831px,#9090ff 1852px,#9090ff 1874px,#8f8fff 1896px,#9a9aff 1918px,#b2b2ff 1940px,#bdbdff 1961px,#bbf 1983px,#babaff 2005px,#babaff 2027px,#babaff 2048px,#bbf 2070px,#bbf 2092px,#bbf 2114px)"></div><div style="top:152px;background:linear-gradient(90deg,#e5e5ff 1px,#e5e5ff 23px,#ddf 45px,#c4c4ff 66px,#b9b9ff 88px,#bcbcff 110px,#b8b8ff 132px,#acacff 154px,#a3a3ff 175px,#9e9eff 197px,#9a9aff 219px,#9898ff 241px,#9595ff 262px,#9191ff 284px,#9696ff 306px,#a4a4ff 328px,#acacff 350px,#aeaeff 371px,#afafff 393px,#afafff 415px,#afafff 437px,#afafff 458px,#aeaeff 480px,#aeaeff 502px,#b9b9ff 524px,#d1d1ff 546px,#e5e5ff 567px,#f6f6ff 589px,#efefff 611px,#cfcfff 633px,#aaf 655px,#8181ff 676px,#6767ff 698px,#5e5eff 720px,#6161ff 742px,#6f6fff 763px,#7a7aff 785px,#8080ff 807px,#8484ff 829px,#8787ff 851px,#9393ff 872px,#a9a9ff 894px,#b4b4ff 916px,#b4b4ff 938px,#b9b9ff 959px,#c3c3ff 981px,#c3c3ff 1003px,#b9b9ff 1025px,#bebeff 1047px,#d1d1ff 1068px,#d7d7ff 1090px,#ceceff 1112px,#c9c9ff 1134px,#c9c9ff 1155px,#c2c2ff 1177px,#b4b4ff 1199px,#a9a9ff 1221px,#a1a1ff 1243px,#9f9fff 1264px,#a1a1ff 1286px,#9e9eff 1308px,#9595ff 1330px,#9090ff 1351px,#9090ff 1373px,#9696ff 1395px,#a3a3ff 1417px,#b2b2ff 1439px,#c3c3ff 1460px,#c6c6ff 1482px,#bcbcff 1504px,#b8b8ff 1526px,#babaff 1547px,#c1c1ff 1569px,#ceceff 1591px,#d2d2ff 1613px,#ceceff 1635px,#c8c8ff 1656px,#c1c1ff 1678px,#b9b9ff 1700px,#b1b1ff 1722px,#aaf 1744px,#a4a4ff 1765px,#9d9dff 1787px,#9797ff 1809px,#9494ff 1831px,#9595ff 1852px,#9494ff 1874px,#9393ff 1896px,#9d9dff 1918px,#b2b2ff 1940px,#bcbcff 1961px,#bbf 1983px,#babaff 2005px,#babaff 2027px,#babaff 2048px,#bbf 2070px,#bbf 2092px,#bbf 2114px)"></div><div style="top:160px;background:linear-gradient(90deg,#c8c8ff 1px,#c8c8ff 23px,#c3c3ff 45px,#b5b5ff 66px,#b1b1ff 88px,#b9b9ff 110px,#babaff 132px,#b3b3ff 154px,#aaf 175px,#a1a1ff 197px,#9b9bff 219px,#9a9aff 241px,#9797ff 262px,#9494ff 284px,#99f 306px,#a8a8ff 328px,#b0b0ff 350px,#b1b1ff 371px,#b2b2ff 393px,#b3b3ff 415px,#b4b4ff 437px,#b4b4ff 458px,#b5b5ff 480px,#b5b5ff 502px,#bcbcff 524px,#c9c9ff 546px,#d4d4ff 567px,#dedeff 589px,#d7d7ff 611px,#bebeff 633px,#a2a2ff 655px,#8383ff 676px,#7171ff 698px,#6b6bff 720px,#6d6dff 742px,#77f 763px,#8080ff 785px,#8a8aff 807px,#9292ff 829px,#9898ff 851px,#a8a8ff 872px,#c0c0ff 894px,#c8c8ff 916px,#c0c0ff 938px,#c4c4ff 959px,#d4d4ff 981px,#d6d6ff 1003px,#c9c9ff 1025px,#c5c5ff 1047px,#c9c9ff 1068px,#c9c9ff 1090px,#c5c5ff 1112px,#c3c3ff 1134px,#c3c3ff 1155px,#bcbcff 1177px,#adadff 1199px,#a3a3ff 1221px,#a0a0ff 1243px,#9f9fff 1264px,#a1a1ff 1286px,#9f9fff 1308px,#9a9aff 1330px,#9898ff 1351px,#9797ff 1373px,#9d9dff 1395px,#ababff 1417px,#b6b6ff 1439px,#bfbfff 1460px,#c1c1ff 1482px,#bcbcff 1504px,#b7b7ff 1526px,#b2b2ff 1547px,#b6b6ff 1569px,#c4c4ff 1591px,#c9c9ff 1613px,#c7c7ff 1635px,#c4c4ff 1656px,#c0c0ff 1678px,#bbf 1700px,#b6b6ff 1722px,#afafff 1744px,#a4a4ff 1765px,#9d9dff 1787px,#9b9bff 1809px,#9a9aff 1831px,#9a9aff 1852px,#9a9aff 1874px,#9898ff 1896px,#a0a0ff 1918px,#b2b2ff 1940px,#bbf 1961px,#bbf 1983px,#babaff 2005px,#babaff 2027px,#babaff 2048px,#bcbcff 2070px,#bcbcff 2092px,#bcbcff 2114px)"></div><div style="top:168px;background:linear-gradient(90deg,#afafff 1px,#afafff 23px,#adadff 45px,#a8a8ff 66px,#ababff 88px,#b7b7ff 110px,#bbf 132px,#b9b9ff 154px,#b1b1ff 175px,#a4a4ff 197px,#9e9eff 219px,#9e9eff 241px,#9d9dff 262px,#9a9aff 284px,#a0a0ff 306px,#aeaeff 328px,#b6b6ff 350px,#b6b6ff 371px,#b6b6ff 393px,#b7b7ff 415px,#b8b8ff 437px,#b9b9ff 458px,#b9b9ff 480px,#babaff 502px,#bcbcff 524px,#c0c0ff 546px,#c4c4ff 567px,#c8c8ff 589px,#c1c1ff 611px,#b0b0ff 633px,#9d9dff 655px,#8989ff 676px,#7e7eff 698px,#7d7dff 720px,#7e7eff 742px,#8282ff 763px,#8989ff 785px,#9696ff 807px,#a1a1ff 829px,#aaf 851px,#bbf 872px,#d6d6ff 894px,#dbdbff 916px,#ccf 938px,#ceceff 959px,#e1e1ff 981px,#e3e3ff 1003px,#d5d5ff 1025px,#cacaff 1047px,#c2c2ff 1068px,#bdbdff 1090px,#bdbdff 1112px,#bdbdff 1134px,#bebeff 1155px,#b7b7ff 1177px,#a8a8ff 1199px,#a1a1ff 1221px,#a0a0ff 1243px,#a1a1ff 1264px,#a2a2ff 1286px,#a1a1ff 1308px,#a0a0ff 1330px,#9f9fff 1351px,#9e9eff 1373px,#a4a4ff 1395px,#b2b2ff 1417px,#babaff 1439px,#bcbcff 1460px,#bdbdff 1482px,#bcbcff 1504px,#b6b6ff 1526px,#aaf 1547px,#acacff 1569px,#babaff 1591px,#c1c1ff 1613px,#c0c0ff 1635px,#bebeff 1656px,#bdbdff 1678px,#bcbcff 1700px,#babaff 1722px,#b3b3ff 1744px,#a6a6ff 1765px,#9f9fff 1787px,#9f9fff 1809px,#a0a0ff 1831px,#a0a0ff 1852px,#9f9fff 1874px,#9d9dff 1896px,#a4a4ff 1918px,#b4b4ff 1940px,#bbf 1961px,#bbf 1983px,#babaff 2005px,#babaff 2027px,#babaff 2048px,#bbf 2070px,#bbf 2092px,#bbf 2114px)"></div><div style="top:176px;background:linear-gradient(90deg,#9f9fff 1px,#9f9fff 23px,#9f9fff 45px,#9f9fff 66px,#a7a7ff 88px,#b5b5ff 110px,#bdbdff 132px,#bebeff 154px,#b8b8ff 175px,#aaf 197px,#a4a4ff 219px,#a6a6ff 241px,#a7a7ff 262px,#a7a7ff 284px,#adadff 306px,#babaff 328px,#c0c0ff 350px,#bdbdff 371px,#bcbcff 393px,#bcbcff 415px,#bbf 437px,#babaff 458px,#babaff 480px,#b9b9ff 502px,#b8b8ff 524px,#b7b7ff 546px,#b7b7ff 567px,#b7b7ff 589px,#b2b2ff 611px,#a7a7ff 633px,#9e9eff 655px,#9595ff 676px,#9292ff 698px,#9494ff 720px,#9393ff 742px,#9090ff 763px,#9494ff 785px,#a0a0ff 807px,#acacff 829px,#b7b7ff 851px,#cacaff 872px,#e5e5ff 894px,#ebebff 916px,#dadaff 938px,#d8d8ff 959px,#e5e5ff 981px,#e5e5ff 1003px,#d7d7ff 1025px,#cacaff 1047px,#bdbdff 1068px,#b7b7ff 1090px,#b9b9ff 1112px,#babaff 1134px,#bbf 1155px,#b5b5ff 1177px,#a8a8ff 1199px,#a3a3ff 1221px,#a4a4ff 1243px,#a5a5ff 1264px,#a4a4ff 1286px,#a4a4ff 1308px,#a5a5ff 1330px,#a4a4ff 1351px,#a3a3ff 1373px,#a9a9ff 1395px,#b6b6ff 1417px,#bcbcff 1439px,#babaff 1460px,#babaff 1482px,#bcbcff 1504px,#b5b5ff 1526px,#a5a5ff 1547px,#a4a4ff 1569px,#b3b3ff 1591px,#b9b9ff 1613px,#b8b8ff 1635px,#b8b8ff 1656px,#b8b8ff 1678px,#b9b9ff 1700px,#bcbcff 1722px,#b7b7ff 1744px,#a9a9ff 1765px,#a3a3ff 1787px,#a4a4ff 1809px,#a5a5ff 1831px,#a5a5ff 1852px,#a4a4ff 1874px,#a4a4ff 1896px,#aaf 1918px,#b7b7ff 1940px,#bcbcff 1961px,#bbf 1983px,#babaff 2005px,#babaff 2027px,#babaff 2048px,#b9b9ff 2070px,#b9b9ff 2092px,#b9b9ff 2114px)"></div><div style="top:184px;background:linear-gradient(90deg,#9494ff 1px,#9494ff 23px,#9696ff 45px,#9b9bff 66px,#a4a4ff 88px,#b3b3ff 110px,#bdbdff 132px,#c3c3ff 154px,#bfbfff 175px,#b3b3ff 197px,#afafff 219px,#b3b3ff 241px,#b7b7ff 262px,#bdbdff 284px,#c5c5ff 306px,#cfcfff 328px,#cfcfff 350px,#c8c8ff 371px,#c3c3ff 393px,#c2c2ff 415px,#bebeff 437px,#b9b9ff 458px,#b5b5ff 480px,#b2b2ff 502px,#afafff 524px,#acacff 546px,#aaf 567px,#a8a8ff 589px,#a6a6ff 611px,#a2a2ff 633px,#a4a4ff 655px,#aaf 676px,#b0b0ff 698px,#b5b5ff 720px,#b2b2ff 742px,#a6a6ff 763px,#a5a5ff 785px,#adadff 807px,#b7b7ff 829px,#c3c3ff 851px,#d7d7ff 872px,#f3f3ff 894px,#fafaff 916px,#ececff 938px,#e3e3ff 959px,#e1e1ff 981px,#dadaff 1003px,#cfcfff 1025px,#c5c5ff 1047px,#bbf 1068px,#b6b6ff 1090px,#b8b8ff 1112px,#b9b9ff 1134px,#b9b9ff 1155px,#b5b5ff 1177px,#adadff 1199px,#a9a9ff 1221px,#ababff 1243px,#aaf 1264px,#a7a7ff 1286px,#a6a6ff 1308px,#a9a9ff 1330px,#a9a9ff 1351px,#a9a9ff 1373px,#aeaeff 1395px,#b8b8ff 1417px,#bcbcff 1439px,#b9b9ff 1460px,#b9b9ff 1482px,#bcbcff 1504px,#b4b4ff 1526px,#a0a0ff 1547px,#9e9eff 1569px,#adadff 1591px,#b3b3ff 1613px,#afafff 1635px,#adadff 1656px,#aeaeff 1678px,#b2b2ff 1700px,#babaff 1722px,#b9b9ff 1744px,#b0b0ff 1765px,#ababff 1787px,#aaf 1809px,#a9a9ff 1831px,#a9a9ff 1852px,#aaf 1874px,#adadff 1896px,#b4b4ff 1918px,#bdbdff 1940px,#c0c0ff 1961px,#bcbcff 1983px,#babaff 2005px,#babaff 2027px,#b9b9ff 2048px,#b6b6ff 2070px,#b5b5ff 2092px,#b5b5ff 2114px)"></div><div style="top:192px;background:linear-gradient(90deg,#8e8eff 1px,#8e8eff 23px,#9191ff 45px,#99f 66px,#a3a3ff 88px,#b1b1ff 110px,#bdbdff 132px,#c6c6ff 154px,#c6c6ff 175px,#bdbdff 197px,#bbf 219px,#c2c2ff 241px,#ccf 262px,#d9d9ff 284px,#e2e2ff 306px,#e8e8ff 328px,#e3e3ff 350px,#d3d3ff 371px,#cacaff 393px,#c8c8ff 415px,#c1c1ff 437px,#b6b6ff 458px,#adadff 480px,#a7a7ff 502px,#a2a2ff 524px,#9f9fff 546px,#9c9cff 567px,#9a9aff 589px,#9b9bff 611px,#9f9fff 633px,#adadff 655px,#c5c5ff 676px,#d4d4ff 698px,#ddf 720px,#d6d6ff 742px,#c2c2ff 763px,#b8b8ff 785px,#babaff 807px,#c2c2ff 829px,#cfcfff 851px,#e3e3ff 872px,#fffefe 894px,#fff5f5 916px,#fffefe 938px,#efefff 959px,#d7d7ff 981px,#c8c8ff 1003px,#c1c1ff 1025px,#bcbcff 1047px,#b9b9ff 1068px,#b8b8ff 1090px,#b9b9ff 1112px,#b8b8ff 1134px,#b8b8ff 1155px,#b6b6ff 1177px,#b4b4ff 1199px,#b3b3ff 1221px,#b4b4ff 1243px,#b1b1ff 1264px,#aaf 1286px,#a9a9ff 1308px,#adadff 1330px,#afafff 1351px,#afafff 1373px,#b2b2ff 1395px,#b9b9ff 1417px,#bcbcff 1439px,#b9b9ff 1460px,#babaff 1482px,#bdbdff 1504px,#b4b4ff 1526px,#9d9dff 1547px,#99f 1569px,#a9a9ff 1591px,#adadff 1613px,#a5a5ff 1635px,#a1a1ff 1656px,#a1a1ff 1678px,#a8a8ff 1700px,#b6b6ff 1722px,#bcbcff 1744px,#b9b9ff 1765px,#b5b5ff 1787px,#b0b0ff 1809px,#adadff 1831px,#adadff 1852px,#b1b1ff 1874px,#b8b8ff 1896px,#bfbfff 1918px,#c5c5ff 1940px,#c5c5ff 1961px,#bdbdff 1983px,#babaff 2005px,#bbf 2027px,#b8b8ff 2048px,#b2b2ff 2070px,#afafff 2092px,#afafff 2114px)"></div><div style="top:200px;background:linear-gradient(90deg,#8b8bff 1px,#8b8bff 23px,#8f8fff 45px,#99f 66px,#a4a4ff 88px,#b1b1ff 110px,#bdbdff 132px,#c9c9ff 154px,#ccf 175px,#c6c6ff 197px,#c7c7ff 219px,#d1d1ff 241px,#e0e0ff 262px,#f4f4ff 284px,#fff 306px,#fffefe 328px,#f6f6ff 350px,#e0e0ff 371px,#d2d2ff 393px,#ceceff 415px,#c3c3ff 437px,#b2b2ff 458px,#a5a5ff 480px,#9c9cff 502px,#9696ff 524px,#9393ff 546px,#9191ff 567px,#8f8fff 589px,#9494ff 611px,#a0a0ff 633px,#b9b9ff 655px,#e0e0ff 676px,#f9f9ff 698px,#fffafa 720px,#fafaff 742px,#dcdcff 763px,#cbcbff 785px,#c7c7ff 807px,#cbcbff 829px,#d8d8ff 851px,#ededff 872px,#fff5f5 894px,#ffe9e9 916px,#ffecec 938px,#f9f9ff 959px,#cbcbff 981px,#b3b3ff 1003px,#b1b1ff 1025px,#b3b3ff 1047px,#b8b8ff 1068px,#bbf 1090px,#babaff 1112px,#b9b9ff 1134px,#b8b8ff 1155px,#b9b9ff 1177px,#bdbdff 1199px,#bfbfff 1221px,#bfbfff 1243px,#babaff 1264px,#b0b0ff 1286px,#adadff 1308px,#b1b1ff 1330px,#b3b3ff 1351px,#b4b4ff 1373px,#b6b6ff 1395px,#babaff 1417px,#bbf 1439px,#babaff 1460px,#bbf 1482px,#bebeff 1504px,#b3b3ff 1526px,#9a9aff 1547px,#9595ff 1569px,#a6a6ff 1591px,#a7a7ff 1613px,#9b9bff 1635px,#9595ff 1656px,#9494ff 1678px,#9e9eff 1700px,#b2b2ff 1722px,#bebeff 1744px,#c3c3ff 1765px,#c0c0ff 1787px,#b6b6ff 1809px,#b1b1ff 1831px,#b1b1ff 1852px,#b7b7ff 1874px,#c2c2ff 1896px,#cacaff 1918px,#cdcdff 1940px,#c9c9ff 1961px,#bebeff 1983px,#b9b9ff 2005px,#bbf 2027px,#b7b7ff 2048px,#adadff 2070px,#aaf 2092px,#aaf 2114px)"></div><div style="top:208px;background:linear-gradient(90deg,#8b8bff 1px,#8b8bff 23px,#8f8fff 45px,#9b9bff 66px,#a7a7ff 88px,#b2b2ff 110px,#bfbfff 132px,#ccf 154px,#d0d0ff 175px,#cdcdff 197px,#d1d1ff 219px,#dcdcff 241px,#efefff 262px,#fff6f6 284px,#ffeaea 306px,#ffeaea 328px,#fff7f7 350px,#ececff 371px,#dcdcff 393px,#d4d4ff 415px,#c5c5ff 437px,#afafff 458px,#9e9eff 480px,#9292ff 502px,#8d8dff 524px,#8c8cff 546px,#8b8bff 567px,#8989ff 589px,#9292ff 611px,#a5a5ff 633px,#c7c7ff 655px,#f9f9ff 676px,#ffe6e6 698px,#ffdada 720px,#ffe7e7 742px,#f1f1ff 763px,#d9d9ff 785px,#d0d0ff 807px,#d1d1ff 829px,#dedeff 851px,#f2f2ff 872px,#fff0f0 894px,#ffe2e2 916px,#ffe0e0 938px,#fff 959px,#c0c0ff 981px,#a1a1ff 1003px,#a4a4ff 1025px,#ababff 1047px,#b7b7ff 1068px,#bcbcff 1090px,#bbf 1112px,#b9b9ff 1134px,#b8b8ff 1155px,#bdbdff 1177px,#c7c7ff 1199px,#ccf 1221px,#ccf 1243px,#c5c5ff 1264px,#b8b8ff 1286px,#b3b3ff 1308px,#b6b6ff 1330px,#b8b8ff 1351px,#b8b8ff 1373px,#b9b9ff 1395px,#babaff 1417px,#babaff 1439px,#babaff 1460px,#bbf 1482px,#bebeff 1504px,#b2b2ff 1526px,#9696ff 1547px,#9191ff 1569px,#a2a2ff 1591px,#a3a3ff 1613px,#9494ff 1635px,#8c8cff 1656px,#8b8bff 1678px,#9797ff 1700px,#afafff 1722px,#c1c1ff 1744px,#cbcbff 1765px,#cacaff 1787px,#bcbcff 1809px,#b6b6ff 1831px,#b5b5ff 1852px,#bcbcff 1874px,#cacaff 1896px,#d1d1ff 1918px,#d2d2ff 1940px,#ccf 1961px,#bfbfff 1983px,#b9b9ff 2005px,#bbf 2027px,#b6b6ff 2048px,#a9a9ff 2070px,#a5a5ff 2092px,#a5a5ff 2114px)"></div><div style="top:216px;background:linear-gradient(90deg,#8e8eff 1px,#8e8eff 23px,#9292ff 45px,#9f9fff 66px,#ababff 88px,#b7b7ff 110px,#c2c2ff 132px,#ceceff 154px,#d3d3ff 175px,#d2d2ff 197px,#d6d6ff 219px,#e2e2ff 241px,#f4f4ff 262px,#ffefef 284px,#ffe1e1 306px,#ffe0e0 328px,#ffecec 350px,#f9f9ff 371px,#e7e7ff 393px,#dbdbff 415px,#c8c8ff 437px,#adadff 458px,#9a9aff 480px,#8f8fff 502px,#8b8bff 524px,#8d8dff 546px,#8d8dff 567px,#8b8bff 589px,#9797ff 611px,#b1b1ff 633px,#d7d7ff 655px,#fff4f4 676px,#ffd4d4 698px,#ffc7c7 720px,#ffd7d7 742px,#fcfcff 763px,#e0e0ff 785px,#d3d3ff 807px,#d3d3ff 829px,#dfdfff 851px,#f2f2ff 872px,#fff2f2 894px,#ffe4e4 916px,#ffe0e0 938px,#fdfdff 959px,#b7b7ff 981px,#9797ff 1003px,#9d9dff 1025px,#a6a6ff 1047px,#b4b4ff 1068px,#babaff 1090px,#babaff 1112px,#b9b9ff 1134px,#b9b9ff 1155px,#c1c1ff 1177px,#d1d1ff 1199px,#d9d9ff 1221px,#dadaff 1243px,#d4d4ff 1264px,#c5c5ff 1286px,#bebeff 1308px,#bdbdff 1330px,#bcbcff 1351px,#bbf 1373px,#bbf 1395px,#babaff 1417px,#babaff 1439px,#babaff 1460px,#bbf 1482px,#bcbcff 1504px,#afafff 1526px,#9292ff 1547px,#8c8cff 1569px,#9d9dff 1591px,#9e9eff 1613px,#9191ff 1635px,#8989ff 1656px,#88f 1678px,#9595ff 1700px,#b0b0ff 1722px,#c4c4ff 1744px,#d2d2ff 1765px,#d1d1ff 1787px,#c1c1ff 1809px,#babaff 1831px,#babaff 1852px,#c1c1ff 1874px,#cdcdff 1896px,#d3d3ff 1918px,#d3d3ff 1940px,#ccf 1961px,#bfbfff 1983px,#b9b9ff 2005px,#bbf 2027px,#b5b5ff 2048px,#a7a7ff 2070px,#a2a2ff 2092px,#a2a2ff 2114px)"></div><div style="top:224px;background:linear-gradient(90deg,#9595ff 1px,#9595ff 23px,#99f 45px,#a6a6ff 66px,#b3b3ff 88px,#bfbfff 110px,#c8c8ff 132px,#ceceff 154px,#d2d2ff 175px,#d3d3ff 197px,#d8d8ff 219px,#e1e1ff 241px,#f2f2ff 262px,#fff3f3 284px,#ffe3e3 306px,#ffdede 328px,#ffe3e3 350px,#fff5f5 371px,#f7f7ff 393px,#e4e4ff 415px,#cbcbff 437px,#acacff 458px,#9898ff 480px,#8f8fff 502px,#8f8fff 524px,#9797ff 546px,#99f 567px,#9494ff 589px,#a4a4ff 611px,#c7c7ff 633px,#eef 655px,#ffe7e7 676px,#ffcdcd 698px,#ffc1c1 720px,#ffd2d2 742px,#fcfcff 763px,#dedeff 785px,#d2d2ff 807px,#d0d0ff 829px,#d9d9ff 851px,#eaeaff 872px,#fffdfd 894px,#ffefef 916px,#ffebeb 938px,#f3f3ff 959px,#aeaeff 981px,#9191ff 1003px,#9a9aff 1025px,#a4a4ff 1047px,#afafff 1068px,#b5b5ff 1090px,#b6b6ff 1112px,#b8b8ff 1134px,#b9b9ff 1155px,#c5c5ff 1177px,#dcdcff 1199px,#e9e9ff 1221px,#ededff 1243px,#e7e7ff 1264px,#d9d9ff 1286px,#cdcdff 1308px,#c4c4ff 1330px,#bfbfff 1351px,#bcbcff 1373px,#bbf 1395px,#babaff 1417px,#babaff 1439px,#bbf 1460px,#babaff 1482px,#b8b8ff 1504px,#a9a9ff 1526px,#8b8bff 1547px,#8484ff 1569px,#9696ff 1591px,#9a9aff 1613px,#9191ff 1635px,#8b8bff 1656px,#8989ff 1678px,#9696ff 1700px,#b2b2ff 1722px,#c7c7ff 1744px,#d6d6ff 1765px,#d5d5ff 1787px,#c5c5ff 1809px,#bebeff 1831px,#bfbfff 1852px,#c4c4ff 1874px,#cbcbff 1896px,#cfcfff 1918px,#cfcfff 1940px,#c9c9ff 1961px,#bebeff 1983px,#b9b9ff 2005px,#bbf 2027px,#b4b4ff 2048px,#a5a5ff 2070px,#9f9fff 2092px,#9f9fff 2114px)"></div><div style="top:232px;background:linear-gradient(90deg,#9f9fff 1px,#9f9fff 23px,#a3a3ff 45px,#b0b0ff 66px,#bcbcff 88px,#c9c9ff 110px,#cfcfff 132px,#ceceff 154px,#cfcfff 175px,#d2d2ff 197px,#d6d6ff 219px,#ddf 241px,#ebebff 262px,#fffefe 284px,#ffeded 306px,#ffe0e0 328px,#fdd 350px,#ffe4e4 371px,#fff6f6 393px,#ededff 415px,#ceceff 437px,#ababff 458px,#9797ff 480px,#9191ff 502px,#9696ff 524px,#a6a6ff 546px,#aaf 567px,#a3a3ff 589px,#b6b6ff 611px,#e4e4ff 633px,#fff7f7 655px,#ffdede 676px,#fcc 698px,#ffc2c2 720px,#ffd6d6 742px,#f7f7ff 763px,#d8d8ff 785px,#ccf 807px,#cacaff 829px,#d0d0ff 851px,#ddf 872px,#f1f1ff 894px,#fdfdff 916px,#fffefe 938px,#e3e3ff 959px,#a6a6ff 981px,#8d8dff 1003px,#99f 1025px,#a2a2ff 1047px,#a9a9ff 1068px,#aeaeff 1090px,#b2b2ff 1112px,#b6b6ff 1134px,#babaff 1155px,#cbcbff 1177px,#e9e9ff 1199px,#fbfbff 1221px,#fffdfd 1243px,#fefeff 1264px,#f0f0ff 1286px,#e0e0ff 1308px,#cdcdff 1330px,#c1c1ff 1351px,#bcbcff 1373px,#b9b9ff 1395px,#babaff 1417px,#babaff 1439px,#bbf 1460px,#b9b9ff 1482px,#b3b3ff 1504px,#a1a1ff 1526px,#8383ff 1547px,#7d7dff 1569px,#8f8fff 1591px,#9696ff 1613px,#9393ff 1635px,#9090ff 1656px,#8d8dff 1678px,#9a9aff 1700px,#b6b6ff 1722px,#cbcbff 1744px,#d9d9ff 1765px,#d8d8ff 1787px,#c8c8ff 1809px,#c2c2ff 1831px,#c4c4ff 1852px,#c6c6ff 1874px,#c7c7ff 1896px,#c7c7ff 1918px,#c8c8ff 1940px,#c4c4ff 1961px,#bdbdff 1983px,#babaff 2005px,#bbf 2027px,#b3b3ff 2048px,#a3a3ff 2070px,#9d9dff 2092px,#9d9dff 2114px)"></div><div style="top:240px;background:linear-gradient(90deg,#ababff 1px,#ababff 23px,#afafff 45px,#bbf 66px,#c7c7ff 88px,#d4d4ff 110px,#d7d7ff 132px,#cfcfff 154px,#cdcdff 175px,#d0d0ff 197px,#d4d4ff 219px,#d7d7ff 241px,#e1e1ff 262px,#f2f2ff 284px,#fffafa 306px,#ffe7e7 328px,#ffdbdb 350px,#ffd7d7 371px,#ffe6e6 393px,#f5f5ff 415px,#d1d1ff 437px,#acacff 458px,#9898ff 480px,#9696ff 502px,#a0a0ff 524px,#b6b6ff 546px,#bdbdff 567px,#b5b5ff 589px,#cbcbff 611px,#fff 633px,#ffe0e0 655px,#ffd7d7 676px,#ffcece 698px,#ffc6c6 720px,#ffdcdc 742px,#efefff 763px,#d0d0ff 785px,#c5c5ff 807px,#c2c2ff 829px,#c5c5ff 851px,#cfcfff 872px,#e0e0ff 894px,#e9e9ff 916px,#ebebff 938px,#d2d2ff 959px,#9e9eff 981px,#8c8cff 1003px,#9a9aff 1025px,#a2a2ff 1047px,#a4a4ff 1068px,#a8a8ff 1090px,#b0b0ff 1112px,#b6b6ff 1134px,#bdbdff 1155px,#d2d2ff 1177px,#f5f5ff 1199px,#fff2f2 1221px,#ffe8e8 1243px,#ffeaea 1264px,#fff7f7 1286px,#f3f3ff 1308px,#d6d6ff 1330px,#c3c3ff 1351px,#bbf 1373px,#b8b8ff 1395px,#babaff 1417px,#bbf 1439px,#bcbcff 1460px,#b7b7ff 1482px,#afafff 1504px,#9b9bff 1526px,#7c7cff 1547px,#7676ff 1569px,#88f 1591px,#9393ff 1613px,#9898ff 1635px,#9898ff 1656px,#9494ff 1678px,#a0a0ff 1700px,#bbf 1722px,#cfcfff 1744px,#dcdcff 1765px,#dbdbff 1787px,#ccf 1809px,#c6c6ff 1831px,#cacaff 1852px,#c8c8ff 1874px,#c2c2ff 1896px,#bfbfff 1918px,#c1c1ff 1940px,#bfbfff 1961px,#bcbcff 1983px,#babaff 2005px,#bbf 2027px,#b3b3ff 2048px,#a3a3ff 2070px,#9d9dff 2092px,#9d9dff 2114px)"></div><div style="top:248px;background:linear-gradient(90deg,#b6b6ff 1px,#b6b6ff 23px,#babaff 45px,#c6c6ff 66px,#d3d3ff 88px,#e0e0ff 110px,#e0e0ff 132px,#d3d3ff 154px,#ceceff 175px,#d0d0ff 197px,#d1d1ff 219px,#d1d1ff 241px,#d8d8ff 262px,#e4e4ff 284px,#f7f7ff 306px,#ffefef 328px,#ffdcdc 350px,#ffcfcf 371px,#ffdcdc 393px,#fafaff 415px,#d4d4ff 437px,#aeaeff 458px,#9b9bff 480px,#9c9cff 502px,#a9a9ff 524px,#c3c3ff 546px,#cdcdff 567px,#c5c5ff 589px,#dedeff 611px,#ffe9e9 633px,#ffcece 655px,#ffd0d0 676px,#ffcfcf 698px,#ffc9c9 720px,#ffe1e1 742px,#e8e8ff 763px,#c8c8ff 785px,#bfbfff 807px,#babaff 829px,#bbf 851px,#c3c3ff 872px,#d1d1ff 894px,#d9d9ff 916px,#dbdbff 938px,#c6c6ff 959px,#9a9aff 981px,#8c8cff 1003px,#9c9cff 1025px,#a3a3ff 1047px,#a2a2ff 1068px,#a6a6ff 1090px,#b1b1ff 1112px,#bbf 1134px,#c4c4ff 1155px,#dbdbff 1177px,#fffcfc 1199px,#ffe3e3 1221px,#ffd7d7 1243px,#ffd7d7 1264px,#ffe3e3 1286px,#fffcfc 1308px,#ddf 1330px,#c6c6ff 1351px,#bcbcff 1373px,#b8b8ff 1395px,#b9b9ff 1417px,#bbf 1439px,#bcbcff 1460px,#b7b7ff 1482px,#acacff 1504px,#9797ff 1526px,#7878ff 1547px,#7272ff 1569px,#8484ff 1591px,#9393ff 1613px,#9d9dff 1635px,#a0a0ff 1656px,#9d9dff 1678px,#a8a8ff 1700px,#c2c2ff 1722px,#d6d6ff 1744px,#e2e2ff 1765px,#e1e1ff 1787px,#d3d3ff 1809px,#cdcdff 1831px,#d0d0ff 1852px,#cbcbff 1874px,#bfbfff 1896px,#b9b9ff 1918px,#bbf 1940px,#bbf 1961px,#babaff 1983px,#babaff 2005px,#bbf 2027px,#b4b4ff 2048px,#a6a6ff 2070px,#a1a1ff 2092px,#a1a1ff 2114px)"></div><div style="top:256px;background:linear-gradient(90deg,#c0c0ff 1px,#c0c0ff 23px,#c4c4ff 45px,#d2d2ff 66px,#dfdfff 88px,#ededff 110px,#ececff 132px,#dcdcff 154px,#d3d3ff 175px,#d1d1ff 197px,#cfcfff 219px,#cdcdff 241px,#d1d1ff 262px,#dbdbff 284px,#ededff 306px,#fff8f8 328px,#ffe3e3 350px,#ffd2d2 371px,#ffdcdc 393px,#fcfcff 415px,#d7d7ff 437px,#b3b3ff 458px,#a1a1ff 480px,#a3a3ff 502px,#b1b1ff 524px,#ccf 546px,#d8d8ff 567px,#d4d4ff 589px,#ececff 611px,#ffdede 633px,#ffc7c7 655px,#ffcbcb 676px,#ffcbcb 698px,#ffc9c9 720px,#ffe3e3 742px,#e3e3ff 763px,#c3c3ff 785px,#babaff 807px,#b5b5ff 829px,#b4b4ff 851px,#babaff 872px,#c7c7ff 894px,#cfcfff 916px,#d3d3ff 938px,#c0c0ff 959px,#9898ff 981px,#8d8dff 1003px,#9e9eff 1025px,#a6a6ff 1047px,#a4a4ff 1068px,#ababff 1090px,#babaff 1112px,#c7c7ff 1134px,#d0d0ff 1155px,#e8e8ff 1177px,#ffefef 1199px,#ffd7d7 1221px,#ffcbcb 1243px,#ffcbcb 1264px,#ffd7d7 1286px,#fff1f1 1308px,#e4e4ff 1330px,#cacaff 1351px,#bfbfff 1373px,#babaff 1395px,#babaff 1417px,#bbf 1439px,#bcbcff 1460px,#b7b7ff 1482px,#acacff 1504px,#9797ff 1526px,#7878ff 1547px,#7272ff 1569px,#8484ff 1591px,#9494ff 1613px,#a2a2ff 1635px,#a8a8ff 1656px,#a6a6ff 1678px,#b2b2ff 1700px,#ccf 1722px,#e0e0ff 1744px,#ededff 1765px,#ececff 1787px,#ddf 1809px,#d6d6ff 1831px,#d6d6ff 1852px,#cfcfff 1874px,#c0c0ff 1896px,#b9b9ff 1918px,#b9b9ff 1940px,#b9b9ff 1961px,#babaff 1983px,#bbf 2005px,#bdbdff 2027px,#b8b8ff 2048px,#acacff 2070px,#a8a8ff 2092px,#a8a8ff 2114px)"></div><div style="top:264px;background:linear-gradient(90deg,#cbcbff 1px,#cbcbff 23px,#d0d0ff 45px,#e0e0ff 66px,#efefff 88px,#fcfcff 110px,#fbfbff 132px,#ebebff 154px,#ddf 175px,#d3d3ff 197px,#ccf 219px,#c8c8ff 241px,#cacaff 262px,#d1d1ff 284px,#e1e1ff 306px,#f9f9ff 328px,#fff0f0 350px,#ffdfdf 371px,#ffe6e6 393px,#f9f9ff 415px,#dadaff 437px,#bbf 458px,#ababff 480px,#adadff 502px,#b9b9ff 524px,#d2d2ff 546px,#dfdfff 567px,#e3e3ff 589px,#f9f9ff 611px,#fdd 633px,#ffc8c8 655px,#ffc6c6 676px,#ffc5c5 698px,#ffc6c6 720px,#ffe4e4 742px,#dedeff 763px,#bcbcff 785px,#b3b3ff 807px,#afafff 829px,#aeaeff 851px,#b3b3ff 872px,#c0c0ff 894px,#c9c9ff 916px,#cfcfff 938px,#bebeff 959px,#9898ff 981px,#8e8eff 1003px,#a1a1ff 1025px,#aaf 1047px,#ababff 1068px,#b5b5ff 1090px,#cbcbff 1112px,#dbdbff 1134px,#e5e5ff 1155px,#fbfbff 1177px,#ffe1e1 1199px,#fcc 1221px,#ffc2c2 1243px,#ffc2c2 1264px,#ffcdcd 1286px,#ffe8e8 1308px,#ebebff 1330px,#d0d0ff 1351px,#c5c5ff 1373px,#bebeff 1395px,#bbf 1417px,#babaff 1439px,#bbf 1460px,#b6b6ff 1482px,#acacff 1504px,#99f 1526px,#7b7bff 1547px,#7575ff 1569px,#8686ff 1591px,#9898ff 1613px,#a8a8ff 1635px,#b1b1ff 1656px,#b2b2ff 1678px,#c0c0ff 1700px,#dadaff 1722px,#eef 1744px,#fcfcff 1765px,#fbfbff 1787px,#ededff 1809px,#e3e3ff 1831px,#ddf 1852px,#d3d3ff 1874px,#c5c5ff 1896px,#bcbcff 1918px,#b8b8ff 1940px,#b7b7ff 1961px,#b8b8ff 1983px,#babaff 2005px,#bebeff 2027px,#bdbdff 2048px,#b7b7ff 2070px,#b5b5ff 2092px,#b5b5ff 2114px)"></div><div style="top:272px;background:linear-gradient(90deg,#d5d5ff 1px,#d5d5ff 23px,#dcdcff 45px,#efefff 66px,#fff 88px,#fff1f1 110px,#fff2f2 132px,#fcfcff 154px,#eaeaff 175px,#d4d4ff 197px,#c7c7ff 219px,#c2c2ff 241px,#c3c3ff 262px,#c8c8ff 284px,#d5d5ff 306px,#e9e9ff 328px,#fcfcff 350px,#fff2f2 371px,#fff4f4 393px,#f5f5ff 415px,#dedeff 437px,#c4c4ff 458px,#b8b8ff 480px,#b8b8ff 502px,#c2c2ff 524px,#d5d5ff 546px,#e5e5ff 567px,#f2f2ff 589px,#fff9f9 611px,#ffe1e1 633px,#ffcfcf 655px,#ffc2c2 676px,#ffbebe 698px,#ffc3c3 720px,#ffe6e6 742px,#d8d8ff 763px,#b4b4ff 785px,#adadff 807px,#a9a9ff 829px,#a8a8ff 851px,#aeaeff 872px,#babaff 894px,#c5c5ff 916px,#ceceff 938px,#c0c0ff 959px,#9a9aff 981px,#9191ff 1003px,#a4a4ff 1025px,#b0b0ff 1047px,#b3b3ff 1068px,#c3c3ff 1090px,#e0e0ff 1112px,#f3f3ff 1134px,#fdfdff 1155px,#ffefef 1177px,#ffd3d3 1199px,#ffc2c2 1221px,#fbb 1243px,#ffbdbd 1264px,#ffc7c7 1286px,#ffe2e2 1308px,#f1f1ff 1330px,#d6d6ff 1351px,#ccf 1373px,#c3c3ff 1395px,#bcbcff 1417px,#b9b9ff 1439px,#babaff 1460px,#b6b6ff 1482px,#afafff 1504px,#9d9dff 1526px,#8080ff 1547px,#7a7aff 1569px,#8b8bff 1591px,#9d9dff 1613px,#b0b0ff 1635px,#bbf 1656px,#bfbfff 1678px,#cfcfff 1700px,#ebebff 1722px,#fff 1744px,#fff1f1 1765px,#fff2f2 1787px,#fff 1809px,#f1f1ff 1831px,#e5e5ff 1852px,#d8d8ff 1874px,#cbcbff 1896px,#c0c0ff 1918px,#babaff 1940px,#b6b6ff 1961px,#b6b6ff 1983px,#b9b9ff 2005px,#bfbfff 2027px,#c3c3ff 2048px,#c5c5ff 2070px,#c5c5ff 2092px,#c5c5ff 2114px)"></div><div style="top:280px;background:linear-gradient(90deg,#dfdfff 1px,#dfdfff 23px,#e7e7ff 45px,#fdfdff 66px,#ffefef 88px,#ffe2e2 110px,#ffe2e2 132px,#fff0f0 154px,#f7f7ff 175px,#d8d8ff 197px,#c5c5ff 219px,#bebeff 241px,#bcbcff 262px,#bfbfff 284px,#c9c9ff 306px,#dadaff 328px,#eaeaff 350px,#f8f8ff 371px,#fafaff 393px,#efefff 415px,#e1e1ff 437px,#cdcdff 458px,#c4c4ff 480px,#c3c3ff 502px,#cbcbff 524px,#d9d9ff 546px,#ebebff 567px,#fffefe 589px,#ffefef 611px,#ffe7e7 633px,#ffd7d7 655px,#ffc0c0 676px,#ffb9b9 698px,#ffc1c1 720px,#ffe7e7 742px,#d4d4ff 763px,#afafff 785px,#a8a8ff 807px,#a4a4ff 829px,#a3a3ff 851px,#aaf 872px,#b6b6ff 894px,#c2c2ff 916px,#cfcfff 938px,#c3c3ff 959px,#9f9fff 981px,#9797ff 1003px,#a9a9ff 1025px,#b6b6ff 1047px,#bdbdff 1068px,#d2d2ff 1090px,#f4f4ff 1112px,#fff4f4 1134px,#ffeaea 1155px,#ffdbdb 1177px,#ffc7c7 1199px,#fbb 1221px,#ffb7b7 1243px,#ffbaba 1264px,#ffc4c4 1286px,#ffdede 1308px,#f6f6ff 1330px,#dcdcff 1351px,#d2d2ff 1373px,#c8c8ff 1395px,#bebeff 1417px,#b9b9ff 1439px,#b9b9ff 1460px,#b7b7ff 1482px,#b3b3ff 1504px,#a3a3ff 1526px,#88f 1547px,#8282ff 1569px,#9191ff 1591px,#a3a3ff 1613px,#b8b8ff 1635px,#c6c6ff 1656px,#ceceff 1678px,#dfdfff 1700px,#fbfbff 1722px,#ffefef 1744px,#ffe1e1 1765px,#ffe1e1 1787px,#fee 1809px,#fff 1831px,#ececff 1852px,#ddf 1874px,#d1d1ff 1896px,#c6c6ff 1918px,#bbf 1940px,#b6b6ff 1961px,#b5b5ff 1983px,#babaff 2005px,#c3c3ff 2027px,#cbcbff 2048px,#d3d3ff 2070px,#d6d6ff 2092px,#d6d6ff 2114px)"></div><div style="top:288px;background:linear-gradient(90deg,#e6e6ff 1px,#e6e6ff 23px,#efefff 45px,#fff5f5 66px,#ffe2e2 88px,#ffd5d5 110px,#ffd5d5 132px,#ffe1e1 154px,#fffafa 175px,#dedeff 197px,#c6c6ff 219px,#bdbdff 241px,#b9b9ff 262px,#b9b9ff 284px,#c0c0ff 306px,#ceceff 328px,#dbdbff 350px,#e7e7ff 371px,#ededff 393px,#ebebff 415px,#e3e3ff 437px,#d4d4ff 458px,#cdcdff 480px,#cdcdff 502px,#d2d2ff 524px,#dedeff 546px,#f1f1ff 567px,#fff3f3 589px,#ffe7e7 611px,#ffeaea 633px,#fdd 655px,#ffc0c0 676px,#ffb7b7 698px,#ffc1c1 720px,#ffe8e8 742px,#d2d2ff 763px,#adadff 785px,#a5a5ff 807px,#a1a1ff 829px,#a1a1ff 851px,#a7a7ff 872px,#b4b4ff 894px,#c1c1ff 916px,#d0d0ff 938px,#c7c7ff 959px,#a8a8ff 981px,#a0a0ff 1003px,#b0b0ff 1025px,#bdbdff 1047px,#c6c6ff 1068px,#dedeff 1090px,#fffafa 1112px,#ffe2e2 1134px,#ffd8d8 1155px,#ffcdcd 1177px,#ffbebe 1199px,#ffb7b7 1221px,#ffb6b6 1243px,#fbb 1264px,#ffc5c5 1286px,#ffdede 1308px,#f7f7ff 1330px,#dfdfff 1351px,#d5d5ff 1373px,#cbcbff 1395px,#bebeff 1417px,#b8b8ff 1439px,#b9b9ff 1460px,#babaff 1482px,#bbf 1504px,#adadff 1526px,#9191ff 1547px,#8a8aff 1569px,#9898ff 1591px,#ababff 1613px,#c3c3ff 1635px,#d4d4ff 1656px,#ddf 1678px,#eef 1700px,#fff5f5 1722px,#ffe2e2 1744px,#ffd5d5 1765px,#ffd5d5 1787px,#ffe2e2 1809px,#fff4f4 1831px,#f1f1ff 1852px,#e0e0ff 1874px,#d5d5ff 1896px,#cacaff 1918px,#bebeff 1940px,#b7b7ff 1961px,#b7b7ff 1983px,#bdbdff 2005px,#c8c8ff 2027px,#d4d4ff 2048px,#e0e0ff 2070px,#e4e4ff 2092px,#e4e4ff 2114px)"></div><div style="top:296px;background:linear-gradient(90deg,#eaeaff 1px,#eaeaff 23px,#f4f4ff 45px,#fee 66px,#ffd9d9 88px,#fcc 110px,#ffcbcb 132px,#ffd5d5 154px,#fee 175px,#e8e8ff 197px,#cdcdff 219px,#bfbfff 241px,#b8b8ff 262px,#b6b6ff 284px,#bbf 306px,#c6c6ff 328px,#d1d1ff 350px,#dedeff 371px,#e6e6ff 393px,#e9e9ff 415px,#e4e4ff 437px,#d7d7ff 458px,#d1d1ff 480px,#d3d3ff 502px,#d9d9ff 524px,#e6e6ff 546px,#f8f8ff 567px,#ffecec 589px,#ffe2e2 611px,#ffe8e8 633px,#ffdede 655px,#ffc3c3 676px,#fbb 698px,#ffc5c5 720px,#ffeaea 742px,#d5d5ff 763px,#b1b1ff 785px,#a7a7ff 807px,#a2a2ff 829px,#a2a2ff 851px,#a8a8ff 872px,#b5b5ff 894px,#c2c2ff 916px,#d1d1ff 938px,#cdcdff 959px,#b6b6ff 981px,#b0b0ff 1003px,#babaff 1025px,#c4c4ff 1047px,#cdcdff 1068px,#e5e5ff 1090px,#fff2f2 1112px,#ffd9d9 1134px,#ffd0d0 1155px,#ffc6c6 1177px,#ffbcbc 1199px,#ffb7b7 1221px,#ffb9b9 1243px,#ffc0c0 1264px,#fcc 1286px,#ffe4e4 1308px,#f5f5ff 1330px,#dedeff 1351px,#d5d5ff 1373px,#cacaff 1395px,#bebeff 1417px,#b9b9ff 1439px,#bbf 1460px,#bfbfff 1482px,#c7c7ff 1504px,#bbf 1526px,#9d9dff 1547px,#9494ff 1569px,#a0a0ff 1591px,#b4b4ff 1613px,#d1d1ff 1635px,#e4e4ff 1656px,#ececff 1678px,#fcfcff 1700px,#ffebeb 1722px,#ffdada 1744px,#ffcece 1765px,#ffcfcf 1787px,#ffdbdb 1809px,#ffefef 1831px,#f4f4ff 1852px,#e2e2ff 1874px,#d8d8ff 1896px,#ccf 1918px,#c0c0ff 1940px,#bbf 1961px,#bcbcff 1983px,#c4c4ff 2005px,#d2d2ff 2027px,#e0e0ff 2048px,#ececff 2070px,#f0f0ff 2092px,#f0f0ff 2114px)"></div><div style="top:304px;background:linear-gradient(90deg,#eaeaff 1px,#eaeaff 23px,#f4f4ff 45px,#ffe9e9 66px,#ffd3d3 88px,#ffc6c6 110px,#ffc3c3 132px,#ffcaca 154px,#ffe1e1 175px,#f7f7ff 197px,#dadaff 219px,#c6c6ff 241px,#babaff 262px,#b6b6ff 284px,#b9b9ff 306px,#c1c1ff 328px,#cbcbff 350px,#d7d7ff 371px,#e1e1ff 393px,#e9e9ff 415px,#e5e5ff 437px,#d6d6ff 458px,#d1d1ff 480px,#d6d6ff 502px,#e0e0ff 524px,#efefff 546px,#fffdfd 567px,#ffeaea 589px,#ffe1e1 611px,#ffe4e4 633px,#fdd 655px,#ffcbcb 676px,#ffc6c6 698px,#ffcdcd 720px,#ffebeb 742px,#dcdcff 763px,#babaff 785px,#adadff 807px,#a6a6ff 829px,#a6a6ff 851px,#adadff 872px,#b9b9ff 894px,#c6c6ff 916px,#d3d3ff 938px,#d5d5ff 959px,#ccf 981px,#c8c8ff 1003px,#c8c8ff 1025px,#cdcdff 1047px,#d4d4ff 1068px,#eaeaff 1090px,#ffefef 1112px,#ffd8d8 1134px,#ffcdcd 1155px,#ffc5c5 1177px,#ffbebe 1199px,#ffbcbc 1221px,#ffc0c0 1243px,#ffc9c9 1264px,#ffd9d9 1286px,#fff0f0 1308px,#f0f0ff 1330px,#dbdbff 1351px,#d0d0ff 1373px,#c6c6ff 1395px,#bdbdff 1417px,#babaff 1439px,#bebeff 1460px,#c8c8ff 1482px,#dadaff 1504px,#d1d1ff 1526px,#afafff 1547px,#a2a2ff 1569px,#ababff 1591px,#c1c1ff 1613px,#e4e4ff 1635px,#f9f9ff 1656px,#fff 1678px,#fff4f4 1700px,#ffe2e2 1722px,#ffd5d5 1744px,#fcc 1765px,#ffcdcd 1787px,#ffdada 1809px,#ffeded 1831px,#f6f6ff 1852px,#e3e3ff 1874px,#d9d9ff 1896px,#ceceff 1918px,#c4c4ff 1940px,#c1c1ff 1961px,#c4c4ff 1983px,#cfcfff 2005px,#e1e1ff 2027px,#efefff 2048px,#f9f9ff 2070px,#fcfcff 2092px,#fcfcff 2114px)"></div><div style="top:312px;background:linear-gradient(90deg,#e7e7ff 1px,#e7e7ff 23px,#f4f4ff 45px,#ffe6e6 66px,#ffcece 88px,#ffc2c2 110px,#ffbdbd 132px,#ffc1c1 154px,#ffd3d3 175px,#fff5f5 197px,#eaeaff 219px,#ceceff 241px,#bebeff 262px,#b8b8ff 284px,#b8b8ff 306px,#bebeff 328px,#c7c7ff 350px,#d3d3ff 371px,#dedeff 393px,#e9e9ff 415px,#e5e5ff 437px,#d4d4ff 458px,#cfcfff 480px,#d7d7ff 502px,#e5e5ff 524px,#f9f9ff 546px,#fff5f5 567px,#ffeaea 589px,#ffe2e2 611px,#ffdfdf 633px,#ffdada 655px,#ffd5d5 676px,#ffd3d3 698px,#ffd6d6 720px,#ffeded 742px,#e5e5ff 763px,#c6c6ff 785px,#b4b4ff 807px,#acacff 829px,#acacff 851px,#b3b3ff 872px,#c0c0ff 894px,#ccf 916px,#d6d6ff 938px,#dfdfff 959px,#e5e5ff 981px,#e3e3ff 1003px,#d8d8ff 1025px,#d6d6ff 1047px,#dbdbff 1068px,#eef 1090px,#ffefef 1112px,#ffdada 1134px,#ffcfcf 1155px,#ffc7c7 1177px,#ffc4c4 1199px,#ffc4c4 1221px,#ffcaca 1243px,#ffd6d6 1264px,#ffeaea 1286px,#fefeff 1308px,#e7e7ff 1330px,#d6d6ff 1351px,#cacaff 1373px,#c1c1ff 1395px,#bbf 1417px,#bbf 1439px,#c1c1ff 1460px,#d2d2ff 1482px,#efefff 1504px,#e9e9ff 1526px,#c2c2ff 1547px,#b1b1ff 1569px,#b6b6ff 1591px,#ceceff 1613px,#f9f9ff 1635px,#ffefef 1656px,#ffecec 1678px,#ffe6e6 1700px,#ffdbdb 1722px,#ffd2d2 1744px,#fcc 1765px,#ffcfcf 1787px,#ffdbdb 1809px,#fee 1831px,#f6f6ff 1852px,#e3e3ff 1874px,#d8d8ff 1896px,#cfcfff 1918px,#c8c8ff 1940px,#c8c8ff 1961px,#cfcfff 1983px,#dcdcff 2005px,#f2f2ff 2027px,#fff 2048px,#fff9f9 2070px,#fff8f8 2092px,#fff8f8 2114px)"></div><div style="top:320px;background:linear-gradient(90deg,#e6e6ff 1px,#e6e6ff 23px,#f3f3ff 45px,#ffe4e4 66px,#ffcbcb 88px,#ffbfbf 110px,#ffb9b9 132px,#ffbaba 154px,#ffc8c8 175px,#ffe6e6 197px,#f9f9ff 219px,#d7d7ff 241px,#c2c2ff 262px,#bbf 284px,#b8b8ff 306px,#bcbcff 328px,#c3c3ff 350px,#d0d0ff 371px,#dcdcff 393px,#e8e8ff 415px,#e5e5ff 437px,#d2d2ff 458px,#ceceff 480px,#dadaff 502px,#ebebff 524px,#fffbfb 546px,#ffeded 567px,#ffeaea 589px,#ffe3e3 611px,#ffd9d9 633px,#ffd7d7 655px,#fdd 676px,#ffdfdf 698px,#ffdede 720px,#ffefef 742px,#eef 763px,#d2d2ff 785px,#bcbcff 807px,#b2b2ff 829px,#b3b3ff 851px,#b9b9ff 872px,#c6c6ff 894px,#d1d1ff 916px,#dbdbff 938px,#e9e9ff 959px,#fdfdff 981px,#fcfcff 1003px,#e7e7ff 1025px,#ddf 1047px,#e1e1ff 1068px,#f0f0ff 1090px,#fff1f1 1112px,#fdd 1134px,#ffd2d2 1155px,#ffcbcb 1177px,#ffcaca 1199px,#ffcdcd 1221px,#ffd4d4 1243px,#ffe4e4 1264px,#fffcfc 1286px,#efefff 1308px,#dfdfff 1330px,#d1d1ff 1351px,#c4c4ff 1373px,#bcbcff 1395px,#b9b9ff 1417px,#bcbcff 1439px,#c5c5ff 1460px,#dcdcff 1482px,#fffdfd 1504px,#fff 1526px,#d3d3ff 1547px,#bfbfff 1569px,#c0c0ff 1591px,#dadaff 1613px,#fff2f2 1635px,#ffdada 1656px,#ffdcdc 1678px,#ffdada 1700px,#ffd5d5 1722px,#ffd1d1 1744px,#ffcece 1765px,#ffd2d2 1787px,#ffdede 1809px,#fff0f0 1831px,#f5f5ff 1852px,#e2e2ff 1874px,#d7d7ff 1896px,#d0d0ff 1918px,#ccf 1940px,#cfcfff 1961px,#d8d8ff 1983px,#e9e9ff 2005px,#fffdfd 2027px,#fff0f0 2048px,#ffefef 2070px,#ffefef 2092px,#ffefef 2114px)"></div><div style="top:328px;background:linear-gradient(90deg,#e7e7ff 1px,#e7e7ff 23px,#f5f5ff 45px,#ffe1e1 66px,#ffc7c7 88px,#ffbcbc 110px,#ffb6b6 132px,#ffb5b5 154px,#ffc1c1 175px,#ffdada 197px,#fffafa 219px,#dfdfff 241px,#c7c7ff 262px,#bdbdff 284px,#b8b8ff 306px,#b9b9ff 328px,#bfbfff 350px,#ccf 371px,#d9d9ff 393px,#e6e6ff 415px,#e5e5ff 437px,#d4d4ff 458px,#d2d2ff 480px,#dedeff 502px,#f2f2ff 524px,#fff2f2 546px,#ffe6e6 567px,#ffe9e9 589px,#ffe3e3 611px,#ffd4d4 633px,#ffd4d4 655px,#ffe2e2 676px,#ffe7e7 698px,#ffe4e4 720px,#fff0f0 742px,#f4f4ff 763px,#dbdbff 785px,#c2c2ff 807px,#b6b6ff 829px,#b7b7ff 851px,#bebeff 872px,#cacaff 894px,#d6d6ff 916px,#e0e0ff 938px,#f3f3ff 959px,#ffefef 981px,#fff0f0 1003px,#f1f1ff 1025px,#e3e3ff 1047px,#e4e4ff 1068px,#f1f1ff 1090px,#fff3f3 1112px,#ffdfdf 1134px,#ffd4d4 1155px,#ffcece 1177px,#ffcece 1199px,#ffd3d3 1221px,#ffdede 1243px,#fff0f0 1264px,#f4f4ff 1286px,#e2e2ff 1308px,#d7d7ff 1330px,#ccf 1351px,#bfbfff 1373px,#b8b8ff 1395px,#b8b8ff 1417px,#bdbdff 1439px,#c7c7ff 1460px,#e2e2ff 1482px,#fff1f1 1504px,#fff2f2 1526px,#dfdfff 1547px,#c9c9ff 1569px,#c8c8ff 1591px,#e3e3ff 1613px,#ffe5e5 1635px,#ffcbcb 1656px,#ffcfcf 1678px,#ffd1d1 1700px,#ffd1d1 1722px,#ffd0d0 1744px,#ffcece 1765px,#ffd4d4 1787px,#ffdfdf 1809px,#fff2f2 1831px,#f3f3ff 1852px,#e1e1ff 1874px,#d5d5ff 1896px,#cfcfff 1918px,#cfcfff 1940px,#d4d4ff 1961px,#dfdfff 1983px,#f2f2ff 2005px,#fff2f2 2027px,#ffe6e6 2048px,#ffe7e7 2070px,#ffe8e8 2092px,#ffe8e8 2114px)"></div><div style="top:336px;background:linear-gradient(90deg,#ededff 1px,#ededff 23px,#fbfbff 45px,#ffdbdb 66px,#ffc2c2 88px,#ffb9b9 110px,#ffb5b5 132px,#ffb5b5 154px,#ffc0c0 175px,#ffd6d6 197px,#fff3f3 219px,#e5e5ff 241px,#cbcbff 262px,#bfbfff 284px,#b7b7ff 306px,#b5b5ff 328px,#babaff 350px,#c6c6ff 371px,#d4d4ff 393px,#e1e1ff 415px,#e4e4ff 437px,#dbdbff 458px,#dcdcff 480px,#e8e8ff 502px,#fafaff 524px,#ffeaea 546px,#ffe0e0 567px,#ffe5e5 589px,#ffdfdf 611px,#ffcfcf 633px,#ffcfcf 655px,#ffe1e1 676px,#ffe8e8 698px,#ffe6e6 720px,#fff0f0 742px,#f7f7ff 763px,#dedeff 785px,#c4c4ff 807px,#b8b8ff 829px,#b9b9ff 851px,#c0c0ff 872px,#ccf 894px,#d9d9ff 916px,#e7e7ff 938px,#fcfcff 959px,#ffe6e6 981px,#ffe8e8 1003px,#f7f7ff 1025px,#e5e5ff 1047px,#e3e3ff 1068px,#f0f0ff 1090px,#fff3f3 1112px,#ffdfdf 1134px,#ffd4d4 1155px,#ffcece 1177px,#ffcece 1199px,#ffd6d6 1221px,#ffe7e7 1243px,#fffbfb 1264px,#ebebff 1286px,#dadaff 1308px,#d1d1ff 1330px,#c7c7ff 1351px,#bcbcff 1373px,#b7b7ff 1395px,#b8b8ff 1417px,#bebeff 1439px,#c9c9ff 1460px,#e3e3ff 1482px,#fff1f1 1504px,#fff1f1 1526px,#e4e4ff 1547px,#ceceff 1569px,#ccf 1591px,#e7e7ff 1613px,#ffdede 1635px,#ffc4c4 1656px,#ffc9c9 1678px,#ffcdcd 1700px,#ffcece 1722px,#ffcfcf 1744px,#ffcece 1765px,#ffd3d3 1787px,#ffdfdf 1809px,#fff2f2 1831px,#f1f1ff 1852px,#ddf 1874px,#d2d2ff 1896px,#cdcdff 1918px,#d0d0ff 1940px,#d7d7ff 1961px,#e3e3ff 1983px,#f7f7ff 2005px,#ffecec 2027px,#ffe0e0 2048px,#ffe3e3 2070px,#ffe4e4 2092px,#ffe4e4 2114px)"></div><div style="top:344px;background:linear-gradient(90deg,#f7f7ff 1px,#f7f7ff 23px,#fffafa 45px,#ffd4d4 66px,#ffbdbd 88px,#ffb7b7 110px,#ffb5b5 132px,#ffb9b9 154px,#ffc3c3 175px,#ffd5d5 197px,#fff0f0 219px,#ebebff 241px,#d1d1ff 262px,#c1c1ff 284px,#b6b6ff 306px,#b0b0ff 328px,#b4b4ff 350px,#c1c1ff 371px,#ceceff 393px,#dadaff 415px,#e2e2ff 437px,#e6e6ff 458px,#ededff 480px,#f5f5ff 502px,#fff9f9 524px,#ffe2e2 546px,#ffdada 567px,#ffdfdf 589px,#ffdada 611px,#ffc9c9 633px,#ffc9c9 655px,#ffdbdb 676px,#ffe4e4 698px,#ffe4e4 720px,#ffefef 742px,#f8f8ff 763px,#e0e0ff 785px,#c6c6ff 807px,#b9b9ff 829px,#babaff 851px,#c0c0ff 872px,#cbcbff 894px,#dcdcff 916px,#f1f1ff 938px,#fff7f7 959px,#ffe2e2 981px,#ffe7e7 1003px,#f8f8ff 1025px,#e5e5ff 1047px,#dfdfff 1068px,#ececff 1090px,#fff2f2 1112px,#fdd 1134px,#ffd3d3 1155px,#ffcece 1177px,#ffcdcd 1199px,#ffd8d8 1221px,#fff0f0 1243px,#f8f8ff 1264px,#e4e4ff 1286px,#d5d5ff 1308px,#ccf 1330px,#c3c3ff 1351px,#bbf 1373px,#b7b7ff 1395px,#b8b8ff 1417px,#bebeff 1439px,#cacaff 1460px,#e1e1ff 1482px,#fffafa 1504px,#fffafa 1526px,#e1e1ff 1547px,#cfcfff 1569px,#ccf 1591px,#e8e8ff 1613px,#ffdcdc 1635px,#ffc2c2 1656px,#ffc8c8 1678px,#fcc 1700px,#ffcece 1722px,#ffcece 1744px,#ffcdcd 1765px,#ffd2d2 1787px,#fdd 1809px,#fff2f2 1831px,#eef 1852px,#d8d8ff 1874px,#ccf 1896px,#c9c9ff 1918px,#cfcfff 1940px,#d8d8ff 1961px,#e4e4ff 1983px,#f8f8ff 2005px,#ffe9e9 2027px,#ffdcdc 2048px,#ffe0e0 2070px,#ffe1e1 2092px,#ffe1e1 2114px)"></div><div style="top:352px;background:linear-gradient(90deg,#fffcfc 1px,#fffcfc 23px,#fff0f0 45px,#fcc 66px,#ffb9b9 88px,#ffb5b5 110px,#ffb7b7 132px,#ffbfbf 154px,#ffcaca 175px,#ffd7d7 197px,#fee 219px,#f0f0ff 241px,#d6d6ff 262px,#c3c3ff 284px,#b5b5ff 306px,#acacff 328px,#aeaeff 350px,#bcbcff 371px,#c8c8ff 393px,#d2d2ff 415px,#e1e1ff 437px,#f3f3ff 458px,#fff 480px,#fffafa 502px,#fee 524px,#ffdbdb 546px,#ffd5d5 567px,#ffdada 589px,#ffd4d4 611px,#ffc3c3 633px,#ffc3c3 655px,#ffd3d3 676px,#fdd 698px,#ffe1e1 720px,#fee 742px,#f8f8ff 763px,#dfdfff 785px,#c5c5ff 807px,#b9b9ff 829px,#babaff 851px,#c0c0ff 872px,#cacaff 894px,#dedeff 916px,#fcfcff 938px,#ffeded 959px,#ffe1e1 981px,#ffeaea 1003px,#f7f7ff 1025px,#e4e4ff 1047px,#d9d9ff 1068px,#e6e6ff 1090px,#fff3f3 1112px,#ffdcdc 1134px,#ffd3d3 1155px,#ffcdcd 1177px,#ffcbcb 1199px,#ffdada 1221px,#fff8f8 1243px,#eef 1264px,#dedeff 1286px,#d0d0ff 1308px,#c6c6ff 1330px,#bfbfff 1351px,#babaff 1373px,#b8b8ff 1395px,#b8b8ff 1417px,#bebeff 1439px,#cacaff 1460px,#ddf 1482px,#f7f7ff 1504px,#f7f7ff 1526px,#dcdcff 1547px,#ceceff 1569px,#ccf 1591px,#e7e7ff 1613px,#fdd 1635px,#ffc3c3 1656px,#ffc9c9 1678px,#ffcdcd 1700px,#ffcece 1722px,#ffcece 1744px,#ffcdcd 1765px,#ffd1d1 1787px,#ffdbdb 1809px,#fff2f2 1831px,#eaeaff 1852px,#d2d2ff 1874px,#c6c6ff 1896px,#c4c4ff 1918px,#ceceff 1940px,#d9d9ff 1961px,#e4e4ff 1983px,#f8f8ff 2005px,#ffe9e9 2027px,#ffdcdc 2048px,#ffdfdf 2070px,#ffe0e0 2092px,#ffe0e0 2114px)"></div><div style="top:360px;background:linear-gradient(90deg,#fff1f1 1px,#fff1f1 23px,#ffe6e6 45px,#ffc6c6 66px,#ffb5b5 88px,#ffb5b5 110px,#ffbaba 132px,#ffc5c5 154px,#ffd0d0 175px,#ffdbdb 197px,#ffefef 219px,#f3f3ff 241px,#dadaff 262px,#c5c5ff 284px,#b4b4ff 306px,#a8a8ff 328px,#a9a9ff 350px,#b7b7ff 371px,#c2c2ff 393px,#ccf 415px,#e0e0ff 437px,#fffefe 458px,#fee 480px,#fee 502px,#ffe6e6 524px,#ffd7d7 546px,#ffd1d1 567px,#ffd5d5 589px,#ffcece 611px,#ffbebe 633px,#ffbdbd 655px,#fcc 676px,#ffd8d8 698px,#ffdfdf 720px,#ffefef 742px,#f7f7ff 763px,#dedeff 785px,#c4c4ff 807px,#b8b8ff 829px,#b9b9ff 851px,#bfbfff 872px,#c9c9ff 894px,#e0e0ff 916px,#fff9f9 938px,#ffe5e5 959px,#ffe2e2 981px,#fee 1003px,#f5f5ff 1025px,#e1e1ff 1047px,#d4d4ff 1068px,#e1e1ff 1090px,#fff4f4 1112px,#ffdcdc 1134px,#ffd3d3 1155px,#ffcdcd 1177px,#ffcaca 1199px,#ffdbdb 1221px,#fefeff 1243px,#e5e5ff 1264px,#d9d9ff 1286px,#cdcdff 1308px,#c2c2ff 1330px,#bbf 1351px,#babaff 1373px,#b9b9ff 1395px,#b8b8ff 1417px,#bebeff 1439px,#cbcbff 1460px,#dadaff 1482px,#ebebff 1504px,#eaeaff 1526px,#d7d7ff 1547px,#cdcdff 1569px,#cacaff 1591px,#e5e5ff 1613px,#ffe0e0 1635px,#ffc7c7 1656px,#fcc 1678px,#ffcfcf 1700px,#ffd0d0 1722px,#ffcfcf 1744px,#ffcdcd 1765px,#ffd1d1 1787px,#ffdbdb 1809px,#fff3f3 1831px,#e5e5ff 1852px,#ccf 1874px,#c0c0ff 1896px,#c0c0ff 1918px,#cdcdff 1940px,#d8d8ff 1961px,#e3e3ff 1983px,#f6f6ff 2005px,#ffebeb 2027px,#ffdede 2048px,#ffe1e1 2070px,#ffe2e2 2092px,#ffe2e2 2114px)"></div><div style="top:368px;background:linear-gradient(90deg,#ffe8e8 1px,#ffe8e8 23px,#ffdede 45px,#ffc2c2 66px,#ffb5b5 88px,#ffb6b6 110px,#ffbdbd 132px,#ffcaca 154px,#ffd5d5 175px,#ffe0e0 197px,#fff1f1 219px,#f4f4ff 241px,#dcdcff 262px,#c4c4ff 284px,#b2b2ff 306px,#a5a5ff 328px,#a6a6ff 350px,#b3b3ff 371px,#bfbfff 393px,#c8c8ff 415px,#e1e1ff 437px,#fff5f5 458px,#ffe4e4 480px,#ffe8e8 502px,#ffe3e3 524px,#ffd5d5 546px,#ffcfcf 567px,#ffd1d1 589px,#ffcbcb 611px,#ffbcbc 633px,#fbb 655px,#ffc9c9 676px,#ffd5d5 698px,#ffe0e0 720px,#fff1f1 742px,#f4f4ff 763px,#dcdcff 785px,#c2c2ff 807px,#b7b7ff 829px,#b8b8ff 851px,#bdbdff 872px,#c8c8ff 894px,#e1e1ff 916px,#fff5f5 938px,#ffe2e2 959px,#ffe3e3 981px,#fff0f0 1003px,#f3f3ff 1025px,#dfdfff 1047px,#d0d0ff 1068px,#ddf 1090px,#fff8f8 1112px,#ffdede 1134px,#ffd3d3 1155px,#ffcdcd 1177px,#ffcbcb 1199px,#ffdede 1221px,#f8f8ff 1243px,#dfdfff 1264px,#d6d6ff 1286px,#cbcbff 1308px,#bebeff 1330px,#b9b9ff 1351px,#babaff 1373px,#babaff 1395px,#b9b9ff 1417px,#bebeff 1439px,#cbcbff 1460px,#d8d8ff 1482px,#e6e6ff 1504px,#e5e5ff 1526px,#d6d6ff 1547px,#cdcdff 1569px,#cacaff 1591px,#e4e4ff 1613px,#ffe3e3 1635px,#ffc9c9 1656px,#ffcece 1678px,#ffd0d0 1700px,#ffd0d0 1722px,#ffd0d0 1744px,#ffcece 1765px,#ffd3d3 1787px,#ffdede 1809px,#fff6f6 1831px,#e0e0ff 1852px,#c7c7ff 1874px,#bcbcff 1896px,#bdbdff 1918px,#cacaff 1940px,#d6d6ff 1961px,#e1e1ff 1983px,#f3f3ff 2005px,#fff0f0 2027px,#ffe4e4 2048px,#ffe6e6 2070px,#ffe7e7 2092px,#ffe7e7 2114px)"></div><div style="top:376px;background:linear-gradient(90deg,#ffe1e1 1px,#ffe1e1 23px,#ffd9d9 45px,#ffc2c2 66px,#ffb8b8 88px,#ffb9b9 110px,#ffc0c0 132px,#ffcbcb 154px,#ffd8d8 175px,#ffe6e6 197px,#fff8f8 219px,#f1f1ff 241px,#dadaff 262px,#c1c1ff 284px,#afafff 306px,#a3a3ff 328px,#a4a4ff 350px,#b2b2ff 371px,#bebeff 393px,#c9c9ff 415px,#e4e4ff 437px,#fff1f1 458px,#ffe0e0 480px,#ffeaea 502px,#ffe7e7 524px,#ffd8d8 546px,#ffd0d0 567px,#ffd0d0 589px,#ffcaca 611px,#ffbdbd 633px,#ffbdbd 655px,#ffcbcb 676px,#ffd8d8 698px,#ffe6e6 720px,#fff8f8 742px,#f0f0ff 763px,#d8d8ff 785px,#bfbfff 807px,#b3b3ff 829px,#b4b4ff 851px,#bbf 872px,#c7c7ff 894px,#e0e0ff 916px,#fff8f8 938px,#ffe5e5 959px,#ffe3e3 981px,#fff1f1 1003px,#f0f0ff 1025px,#dbdbff 1047px,#ceceff 1068px,#dadaff 1090px,#fffefe 1112px,#ffe4e4 1134px,#ffd4d4 1155px,#ffcdcd 1177px,#ffcdcd 1199px,#ffe1e1 1221px,#f5f5ff 1243px,#dcdcff 1264px,#d4d4ff 1286px,#c9c9ff 1308px,#bdbdff 1330px,#b7b7ff 1351px,#b9b9ff 1373px,#babaff 1395px,#b9b9ff 1417px,#bebeff 1439px,#cbcbff 1460px,#d9d9ff 1482px,#e9e9ff 1504px,#e9e9ff 1526px,#dadaff 1547px,#d0d0ff 1569px,#cbcbff 1591px,#e3e3ff 1613px,#ffe6e6 1635px,#ffcdcd 1656px,#ffcfcf 1678px,#ffd0d0 1700px,#ffd0d0 1722px,#ffd0d0 1744px,#ffd1d1 1765px,#ffd8d8 1787px,#ffe4e4 1809px,#fffdfd 1831px,#dbdbff 1852px,#c3c3ff 1874px,#babaff 1896px,#bbf 1918px,#c7c7ff 1940px,#d3d3ff 1961px,#dedeff 1983px,#eef 2005px,#fff9f9 2027px,#ffefef 2048px,#fff1f1 2070px,#fff2f2 2092px,#fff2f2 2114px)"></div><div style="top:384px;background:linear-gradient(90deg,#ffdbdb 1px,#ffdbdb 23px,#ffd6d6 45px,#ffc5c5 66px,#ffbebe 88px,#ffbfbf 110px,#ffc4c4 132px,#fcc 154px,#ffdada 175px,#ffefef 197px,#fcfcff 219px,#ebebff 241px,#d5d5ff 262px,#bbf 284px,#aaf 306px,#a2a2ff 328px,#a4a4ff 350px,#b1b1ff 371px,#bfbfff 393px,#cdcdff 415px,#e8e8ff 437px,#fee 458px,#ffe2e2 480px,#fff2f2 502px,#fff1f1 524px,#ffdede 546px,#ffd4d4 567px,#ffd0d0 589px,#ffcaca 611px,#ffc1c1 633px,#ffc3c3 655px,#ffd0d0 676px,#ffdfdf 698px,#fff0f0 720px,#fcfcff 742px,#e9e9ff 763px,#d3d3ff 785px,#babaff 807px,#aeaeff 829px,#aeaeff 851px,#b7b7ff 872px,#c7c7ff 894px,#dedeff 916px,#fdfdff 938px,#fee 959px,#ffe5e5 981px,#fff1f1 1003px,#ececff 1025px,#d7d7ff 1047px,#ceceff 1068px,#d8d8ff 1090px,#f7f7ff 1112px,#ffeded 1134px,#ffd7d7 1155px,#ffcdcd 1177px,#ffd2d2 1199px,#ffe6e6 1221px,#f3f3ff 1243px,#dcdcff 1264px,#d4d4ff 1286px,#c9c9ff 1308px,#bdbdff 1330px,#b7b7ff 1351px,#b9b9ff 1373px,#babaff 1395px,#b9b9ff 1417px,#bebeff 1439px,#cacaff 1460px,#dbdbff 1482px,#f1f1ff 1504px,#f3f3ff 1526px,#e1e1ff 1547px,#d4d4ff 1569px,#ccf 1591px,#e1e1ff 1613px,#ffebeb 1635px,#ffd1d1 1656px,#ffd0d0 1678px,#ffcfcf 1700px,#ffcfcf 1722px,#ffd1d1 1744px,#ffd5d5 1765px,#ffdfdf 1787px,#fee 1809px,#f6f6ff 1831px,#d4d4ff 1852px,#bfbfff 1874px,#b9b9ff 1896px,#babaff 1918px,#c3c3ff 1940px,#ceceff 1961px,#d9d9ff 1983px,#e7e7ff 2005px,#f7f7ff 2027px,#fefeff 2048px,#fdfdff 2070px,#fcfcff 2092px,#fcfcff 2114px)"></div><div style="top:392px;background:linear-gradient(90deg,#ffd7d7 1px,#ffd7d7 23px,#ffd3d3 45px,#ffcaca 66px,#ffc5c5 88px,#ffc6c6 110px,#ffc8c8 132px,#fcc 154px,#ffdcdc 175px,#fff8f8 197px,#f0f0ff 219px,#e3e3ff 241px,#cfcfff 262px,#b5b5ff 284px,#a6a6ff 306px,#a1a1ff 328px,#a5a5ff 350px,#b2b2ff 371px,#c1c1ff 393px,#d3d3ff 415px,#eef 437px,#ffeded 458px,#ffe7e7 480px,#fffefe 502px,#fffefe 524px,#ffe7e7 546px,#ffd8d8 567px,#ffd2d2 589px,#fcc 611px,#ffc6c6 633px,#ffcaca 655px,#ffd6d6 676px,#ffe7e7 698px,#fffbfb 720px,#f1f1ff 742px,#e2e2ff 763px,#ceceff 785px,#b4b4ff 807px,#a8a8ff 829px,#a8a8ff 851px,#b2b2ff 872px,#c7c7ff 894px,#dcdcff 916px,#f2f2ff 938px,#fff9f9 959px,#ffe8e8 981px,#fff2f2 1003px,#e7e7ff 1025px,#d2d2ff 1047px,#ceceff 1068px,#d6d6ff 1090px,#ededff 1112px,#fff7f7 1134px,#ffd9d9 1155px,#ffcece 1177px,#ffd7d7 1199px,#ffebeb 1221px,#f3f3ff 1243px,#dedeff 1264px,#d5d5ff 1286px,#cacaff 1308px,#bdbdff 1330px,#b8b8ff 1351px,#b9b9ff 1373px,#babaff 1395px,#b9b9ff 1417px,#bebeff 1439px,#c9c9ff 1460px,#dedeff 1482px,#fcfcff 1504px,#fffefe 1526px,#e9e9ff 1547px,#d8d8ff 1569px,#ceceff 1591px,#e0e0ff 1613px,#fff0f0 1635px,#ffd6d6 1656px,#ffd1d1 1678px,#ffcfcf 1700px,#ffcfcf 1722px,#ffd2d2 1744px,#ffd9d9 1765px,#ffe6e6 1787px,#fffafa 1809px,#ebebff 1831px,#cdcdff 1852px,#bcbcff 1874px,#b9b9ff 1896px,#babaff 1918px,#bfbfff 1940px,#c8c8ff 1961px,#d4d4ff 1983px,#dfdfff 2005px,#e8e8ff 2027px,#ececff 2048px,#ebebff 2070px,#ebebff 2092px,#ebebff 2114px)"></div><div style="top:400px;background:linear-gradient(90deg,#ffd3d3 1px,#ffd3d3 23px,#ffd1d1 45px,#ffcece 66px,#fcc 88px,#fcc 110px,#fcc 132px,#ffcbcb 154px,#fdd 175px,#fdfdff 197px,#e6e6ff 219px,#dcdcff 241px,#cacaff 262px,#afafff 284px,#a2a2ff 306px,#a1a1ff 328px,#a6a6ff 350px,#b2b2ff 371px,#c3c3ff 393px,#d9d9ff 415px,#f3f3ff 437px,#ffeded 458px,#ffecec 480px,#f6f6ff 502px,#f5f5ff 524px,#ffefef 546px,#fdd 567px,#ffd3d3 589px,#ffcdcd 611px,#ffcbcb 633px,#ffd0d0 655px,#ffdcdc 676px,#fee 698px,#f9f9ff 720px,#e7e7ff 742px,#dcdcff 763px,#c9c9ff 785px,#afafff 807px,#a2a2ff 829px,#a2a2ff 851px,#aeaeff 872px,#c6c6ff 894px,#d9d9ff 916px,#e7e7ff 938px,#fbfbff 959px,#ffeaea 981px,#fff2f2 1003px,#e3e3ff 1025px,#ceceff 1047px,#ceceff 1068px,#d5d5ff 1090px,#e4e4ff 1112px,#fefeff 1134px,#ffdbdb 1155px,#ffcfcf 1177px,#ffdbdb 1199px,#ffefef 1221px,#f3f3ff 1243px,#e0e0ff 1264px,#d6d6ff 1286px,#cbcbff 1308px,#bebeff 1330px,#b8b8ff 1351px,#babaff 1373px,#babaff 1395px,#b9b9ff 1417px,#bdbdff 1439px,#c8c8ff 1460px,#e0e0ff 1482px,#fff8f8 1504px,#fff3f3 1526px,#f0f0ff 1547px,#dcdcff 1569px,#cfcfff 1591px,#dedeff 1613px,#fff5f5 1635px,#ffdbdb 1656px,#ffd2d2 1678px,#ffcece 1700px,#ffcece 1722px,#ffd3d3 1744px,#fdd 1765px,#ffeded 1787px,#fafaff 1809px,#e2e2ff 1831px,#c6c6ff 1852px,#b9b9ff 1874px,#b9b9ff 1896px,#babaff 1918px,#bbf 1940px,#c2c2ff 1961px,#cfcfff 1983px,#d7d7ff 2005px,#dadaff 2027px,#dbdbff 2048px,#dbdbff 2070px,#dbdbff 2092px,#dbdbff 2114px)"></div><div style="top:408px;background:linear-gradient(90deg,#ffd0d0 1px,#ffd0d0 23px,#ffd0d0 45px,#ffd0d0 66px,#ffd0d0 88px,#ffd0d0 110px,#ffcece 132px,#ffcbcb 154px,#ffdede 175px,#f8f8ff 197px,#e0e0ff 219px,#d7d7ff 241px,#c6c6ff 262px,#acacff 284px,#9f9fff 306px,#a1a1ff 328px,#a7a7ff 350px,#b2b2ff 371px,#c4c4ff 393px,#dcdcff 415px,#f6f6ff 437px,#ffeded 458px,#ffefef 480px,#efefff 502px,#eef 524px,#fff4f4 546px,#ffe0e0 567px,#ffd4d4 589px,#ffcece 611px,#ffcece 633px,#ffd4d4 655px,#ffe0e0 676px,#fff2f2 698px,#f3f3ff 720px,#e1e1ff 742px,#d8d8ff 763px,#c6c6ff 785px,#acacff 807px,#9f9fff 829px,#9f9fff 851px,#acacff 872px,#c6c6ff 894px,#d8d8ff 916px,#e1e1ff 938px,#f5f5ff 959px,#ffecec 981px,#fff2f2 1003px,#e0e0ff 1025px,#ccf 1047px,#ceceff 1068px,#d4d4ff 1090px,#dedeff 1112px,#f8f8ff 1134px,#ffdcdc 1155px,#ffcfcf 1177px,#ffdede 1199px,#fff2f2 1221px,#f3f3ff 1243px,#e1e1ff 1264px,#d6d6ff 1286px,#cbcbff 1308px,#bebeff 1330px,#b9b9ff 1351px,#babaff 1373px,#babaff 1395px,#b9b9ff 1417px,#bdbdff 1439px,#c8c8ff 1460px,#e2e2ff 1482px,#fff2f2 1504px,#ffecec 1526px,#f5f5ff 1547px,#dedeff 1569px,#d0d0ff 1591px,#ddf 1613px,#fff8f8 1635px,#ffdede 1656px,#ffd3d3 1678px,#ffcece 1700px,#ffcece 1722px,#ffd4d4 1744px,#ffe0e0 1765px,#fff2f2 1787px,#f4f4ff 1809px,#dbdbff 1831px,#c2c2ff 1852px,#b7b7ff 1874px,#b9b9ff 1896px,#babaff 1918px,#b9b9ff 1940px,#bfbfff 1961px,#ccf 1983px,#d3d3ff 2005px,#d2d2ff 2027px,#d1d1ff 2048px,#d1d1ff 2070px,#d1d1ff 2092px,#d1d1ff 2114px)"></div><div style="top:416px;background:linear-gradient(90deg,#ffd0d0 1px,#ffd0d0 23px,#ffd0d0 45px,#ffd0d0 66px,#ffd0d0 88px,#ffd0d0 110px,#ffcece 132px,#ffcbcb 154px,#ffdede 175px,#f8f8ff 197px,#e0e0ff 219px,#d7d7ff 241px,#c6c6ff 262px,#acacff 284px,#9f9fff 306px,#a1a1ff 328px,#a7a7ff 350px,#b2b2ff 371px,#c4c4ff 393px,#dcdcff 415px,#f6f6ff 437px,#ffeded 458px,#ffefef 480px,#efefff 502px,#eef 524px,#fff4f4 546px,#ffe0e0 567px,#ffd4d4 589px,#ffcece 611px,#ffcece 633px,#ffd4d4 655px,#ffe0e0 676px,#fff2f2 698px,#f3f3ff 720px,#e1e1ff 742px,#d8d8ff 763px,#c6c6ff 785px,#acacff 807px,#9f9fff 829px,#9f9fff 851px,#acacff 872px,#c6c6ff 894px,#d8d8ff 916px,#e1e1ff 938px,#f5f5ff 959px,#ffecec 981px,#fff2f2 1003px,#e0e0ff 1025px,#ccf 1047px,#ceceff 1068px,#d4d4ff 1090px,#dedeff 1112px,#f8f8ff 1134px,#ffdcdc 1155px,#ffcfcf 1177px,#ffdede 1199px,#fff2f2 1221px,#f3f3ff 1243px,#e1e1ff 1264px,#d6d6ff 1286px,#cbcbff 1308px,#bebeff 1330px,#b9b9ff 1351px,#babaff 1373px,#babaff 1395px,#b9b9ff 1417px,#bdbdff 1439px,#c8c8ff 1460px,#e2e2ff 1482px,#fff2f2 1504px,#ffecec 1526px,#f5f5ff 1547px,#dedeff 1569px,#d0d0ff 1591px,#ddf 1613px,#fff8f8 1635px,#ffdede 1656px,#ffd3d3 1678px,#ffcece 1700px,#ffcece 1722px,#ffd4d4 1744px,#ffe0e0 1765px,#fff2f2 1787px,#f4f4ff 1809px,#dbdbff 1831px,#c2c2ff 1852px,#b7b7ff 1874px,#b9b9ff 1896px,#babaff 1918px,#b9b9ff 1940px,#bfbfff 1961px,#ccf 1983px,#d3d3ff 2005px,#d2d2ff 2027px,#d1d1ff 2048px,#d1d1ff 2070px,#d1d1ff 2092px,#d1d1ff 2114px)"></div></div></div>
<div class="hp" style="left:220.10px;top:979.95px;width:2088.20px;height:397.05px"><div class="hb" style="left:-13.35px;top:-12.00px;width:2114.90px;height:421.05px;filter:blur(4px)"><div style="top:0px;background:linear-gradient(90deg,#e6e6ff 1px,#e6e6ff 23px,#e6e6ff 45px,#e7e7ff 66px,#dfdfff 88px,#ccf 110px,#dadaff 132px,#fff6f6 154px,#ffe0e0 175px,#ffe4e4 197px,#ffe6e6 219px,#ffe6e6 241px,#ffe6e6 262px,#ffe6e6 284px,#ffe6e6 306px,#ffe6e6 328px,#ffe6e6 350px,#ffe6e6 371px,#ffe4e4 393px,#ffe0e0 415px,#fff5f5 437px,#dcdcff 458px,#c6c6ff 480px,#c8c8ff 502px,#d1d1ff 524px,#e0e0ff 546px,#e8e8ff 567px,#e8e8ff 589px,#dfdfff 611px,#ccf 633px,#d9d9ff 655px,#fff7f7 676px,#ffdbdb 698px,#ffcfcf 720px,#ffcaca 742px,#ffcbcb 763px,#fcc 785px,#fcc 807px,#fcc 829px,#fcc 851px,#fcc 872px,#fcc 894px,#ffcaca 916px,#ffc5c5 938px,#ffe1e1 959px,#dfdfff 981px,#c9c9ff 1003px,#dadaff 1025px,#f2f2ff 1047px,#ffefef 1068px,#ffe1e1 1090px,#ffe1e1 1112px,#fff2f2 1134px,#eaeaff 1155px,#f1f1ff 1177px,#fdd 1199px,#ffc7c7 1221px,#fcc 1243px,#ffc7c7 1264px,#ffb8b8 1286px,#ffb1b1 1308px,#ffb2b2 1330px,#ffb2b2 1351px,#ffb2b2 1373px,#ffb2b2 1395px,#ffb1b1 1417px,#ffb6b6 1439px,#ffc1c1 1460px,#fdd 1482px,#f4f4ff 1504px,#e0e0ff 1526px,#e4e4ff 1547px,#e4e4ff 1569px,#e2e2ff 1591px,#f0f0ff 1613px,#fff0f0 1635px,#ffe3e3 1656px,#ffe6e6 1678px,#ffe0e0 1700px,#ffd1d1 1722px,#ffcaca 1744px,#ffcbcb 1765px,#fcc 1787px,#fcc 1809px,#fcc 1831px,#fcc 1852px,#fcc 1874px,#fcc 1896px,#ffcbcb 1918px,#ffcaca 1940px,#ffcfcf 1961px,#ffd9d9 1983px,#fffcfc 2005px,#c7c7ff 2027px,#ababff 2048px,#b0b0ff 2070px,#b2b2ff 2092px,#b2b2ff 2114px)"></div><div style="top:8px;background:linear-gradient(90deg,#e6e6ff 1px,#e6e6ff 23px,#e6e6ff 45px,#e7e7ff 66px,#dfdfff 88px,#ccf 110px,#dadaff 132px,#fff6f6 154px,#ffe0e0 175px,#ffe4e4 197px,#ffe6e6 219px,#ffe6e6 241px,#ffe6e6 262px,#ffe6e6 284px,#ffe6e6 306px,#ffe6e6 328px,#ffe6e6 350px,#ffe6e6 371px,#ffe4e4 393px,#ffe0e0 415px,#fff5f5 437px,#dcdcff 458px,#c6c6ff 480px,#c8c8ff 502px,#d1d1ff 524px,#e0e0ff 546px,#e8e8ff 567px,#e8e8ff 589px,#dfdfff 611px,#ccf 633px,#d9d9ff 655px,#fff7f7 676px,#ffdbdb 698px,#ffcfcf 720px,#ffcaca 742px,#ffcbcb 763px,#fcc 785px,#fcc 807px,#fcc 829px,#fcc 851px,#fcc 872px,#fcc 894px,#ffcaca 916px,#ffc5c5 938px,#ffe1e1 959px,#dfdfff 981px,#c9c9ff 1003px,#dadaff 1025px,#f2f2ff 1047px,#ffefef 1068px,#ffe1e1 1090px,#ffe1e1 1112px,#fff2f2 1134px,#eaeaff 1155px,#f1f1ff 1177px,#fdd 1199px,#ffc7c7 1221px,#fcc 1243px,#ffc7c7 1264px,#ffb8b8 1286px,#ffb1b1 1308px,#ffb2b2 1330px,#ffb2b2 1351px,#ffb2b2 1373px,#ffb2b2 1395px,#ffb1b1 1417px,#ffb6b6 1439px,#ffc1c1 1460px,#fdd 1482px,#f4f4ff 1504px,#e0e0ff 1526px,#e4e4ff 1547px,#e4e4ff 1569px,#e2e2ff 1591px,#f0f0ff 1613px,#fff0f0 1635px,#ffe3e3 1656px,#ffe6e6 1678px,#ffe0e0 1700px,#ffd1d1 1722px,#ffcaca 1744px,#ffcbcb 1765px,#fcc 1787px,#fcc 1809px,#fcc 1831px,#fcc 1852px,#fcc 1874px,#fcc 1896px,#ffcbcb 1918px,#ffcaca 1940px,#ffcfcf 1961px,#ffd9d9 1983px,#fffcfc 2005px,#c7c7ff 2027px,#ababff 2048px,#b0b0ff 2070px,#b2b2ff 2092px,#b2b2ff 2114px)"></div><div style="top:16px;background:linear-gradient(90deg,#e6e6ff 1px,#e6e6ff 23px,#e6e6ff 45px,#e7e7ff 66px,#dfdfff 88px,#ccf 110px,#dadaff 132px,#fff6f6 154px,#ffe0e0 175px,#ffe4e4 197px,#ffe6e6 219px,#ffe6e6 241px,#ffe6e6 262px,#ffe6e6 284px,#ffe6e6 306px,#ffe6e6 328px,#ffe6e6 350px,#ffe6e6 371px,#ffe4e4 393px,#ffe0e0 415px,#fff5f5 437px,#dcdcff 458px,#c6c6ff 480px,#c8c8ff 502px,#d1d1ff 524px,#e0e0ff 546px,#e8e8ff 567px,#e8e8ff 589px,#dfdfff 611px,#ccf 633px,#d9d9ff 655px,#fff7f7 676px,#ffdbdb 698px,#ffcfcf 720px,#ffcaca 742px,#ffcbcb 763px,#fcc 785px,#fcc 807px,#fcc 829px,#fcc 851px,#fcc 872px,#fcc 894px,#ffcaca 916px,#ffc5c5 938px,#ffe1e1 959px,#dfdfff 981px,#c9c9ff 1003px,#dadaff 1025px,#f2f2ff 1047px,#ffefef 1068px,#ffe1e1 1090px,#ffe1e1 1112px,#fff2f2 1134px,#eaeaff 1155px,#f1f1ff 1177px,#fdd 1199px,#ffc7c7 1221px,#fcc 1243px,#ffc7c7 1264px,#ffb8b8 1286px,#ffb1b1 1308px,#ffb2b2 1330px,#ffb2b2 1351px,#ffb2b2 1373px,#ffb2b2 1395px,#ffb1b1 1417px,#ffb6b6 1439px,#ffc1c1 1460px,#fdd 1482px,#f4f4ff 1504px,#e0e0ff 1526px,#e4e4ff 1547px,#e4e4ff 1569px,#e2e2ff 1591px,#f0f0ff 1613px,#fff0f0 1635px,#ffe3e3 1656px,#ffe6e6 1678px,#ffe0e0 1700px,#ffd1d1 1722px,#ffcaca 1744px,#ffcbcb 1765px,#fcc 1787px,#fcc 1809px,#fcc 1831px,#fcc 1852px,#fcc 1874px,#fcc 1896px,#ffcbcb 1918px,#ffcaca 1940px,#ffcfcf 1961px,#ffd9d9 1983px,#fffcfc 2005px,#c7c7ff 2027px,#ababff 2048px,#b0b0ff 2070px,#b2b2ff 2092px,#b2b2ff 2114px)"></div><div style="top:24px;background:linear-gradient(90deg,#e2e2ff 1px,#e2e2ff 23px,#e4e4ff 45px,#e7e7ff 66px,#dedeff 88px,#c9c9ff 110px,#d9d9ff 132px,#fff0f0 154px,#ffd8d8 175px,#ffdcdc 197px,#fdd 219px,#ffdbdb 241px,#ffdbdb 262px,#fdd 284px,#ffdede 306px,#fdd 328px,#fdd 350px,#fdd 371px,#ffdbdb 393px,#ffd7d7 415px,#fee 437px,#ddf 458px,#c6c6ff 480px,#c9c9ff 502px,#d2d2ff 524px,#e1e1ff 546px,#e8e8ff 567px,#e6e6ff 589px,#dbdbff 611px,#c8c8ff 633px,#dadaff 655px,#ffeded 676px,#ffcbcb 698px,#ffc1c1 720px,#ffbcbc 742px,#ffbdbd 763px,#ffbebe 785px,#ffbebe 807px,#ffbebe 829px,#ffbebe 851px,#ffbebe 872px,#ffbebe 894px,#ffbaba 916px,#ffb3b3 938px,#ffd3d3 959px,#e3e3ff 981px,#c8c8ff 1003px,#dadaff 1025px,#f2f2ff 1047px,#ffefef 1068px,#ffe0e0 1090px,#ffdfdf 1112px,#fff3f3 1134px,#e4e4ff 1155px,#f0f0ff 1177px,#ffd0d0 1199px,#ffb4b4 1221px,#ffbaba 1243px,#ffb6b6 1264px,#ffa8a8 1286px,#ffa2a2 1308px,#ffa3a3 1330px,#ffa4a4 1351px,#ffa4a4 1373px,#ffa3a3 1395px,#ffa2a2 1417px,#ffa6a6 1439px,#ffb0b0 1460px,#ffcdcd 1482px,#fefeff 1504px,#e4e4ff 1526px,#e2e2ff 1547px,#e2e2ff 1569px,#e2e2ff 1591px,#efefff 1613px,#fff4f4 1635px,#ffebeb 1656px,#fff3f3 1678px,#ffe6e6 1700px,#ffc5c5 1722px,#ffb6b6 1744px,#ffb9b9 1765px,#fbb 1787px,#ffbdbd 1809px,#ffbfbf 1831px,#ffc0c0 1852px,#ffc1c1 1874px,#ffc1c1 1896px,#ffc0c0 1918px,#ffbfbf 1940px,#ffc3c3 1961px,#ffcdcd 1983px,#fff3f3 2005px,#c9c9ff 2027px,#ababff 2048px,#b0b0ff 2070px,#b2b2ff 2092px,#b2b2ff 2114px)"></div><div style="top:32px;background:linear-gradient(90deg,#dcdcff 1px,#dcdcff 23px,#dfdfff 45px,#e6e6ff 66px,#ddf 88px,#c3c3ff 110px,#d6d6ff 132px,#ffe7e7 154px,#ffcaca 175px,#ffcfcf 197px,#ffcfcf 219px,#ffc8c8 241px,#ffc7c7 262px,#ffcdcd 284px,#ffcfcf 306px,#ffcece 328px,#fcc 350px,#fcc 371px,#ffcaca 393px,#ffc6c6 415px,#ffe2e2 437px,#e1e1ff 458px,#c6c6ff 480px,#c9c9ff 502px,#d2d2ff 524px,#e2e2ff 546px,#e7e7ff 567px,#e2e2ff 589px,#d5d5ff 611px,#c0c0ff 633px,#dbdbff 655px,#ffd9d9 676px,#ffafaf 698px,#ffa5a5 720px,#ffa1a1 742px,#ffa3a3 763px,#ffa3a3 785px,#ffa3a3 807px,#ffa3a3 829px,#ffa3a3 851px,#ffa3a3 872px,#ffa3a3 894px,#ff9d9d 916px,#ff9191 938px,#ffb8b8 959px,#eaeaff 981px,#c6c6ff 1003px,#dadaff 1025px,#f3f3ff 1047px,#ffecec 1068px,#fdd 1090px,#ffdcdc 1112px,#fff4f4 1134px,#dadaff 1155px,#eef 1177px,#ffb8b8 1199px,#ff9090 1221px,#ff9797 1243px,#ff9696 1264px,#ff8c8c 1286px,#ff8787 1308px,#f88 1330px,#ff8989 1351px,#ff8989 1373px,#f88 1395px,#ff8787 1417px,#ff8a8a 1439px,#ff8f8f 1460px,#ffb0b0 1482px,#ffeded 1504px,#ededff 1526px,#e1e1ff 1547px,#ddf 1569px,#e2e2ff 1591px,#eef 1613px,#fffbfb 1635px,#fff9f9 1656px,#f4f4ff 1678px,#fff2f2 1700px,#ffafaf 1722px,#ff9090 1744px,#ff9595 1765px,#ff9a9a 1787px,#ffa0a0 1809px,#ffa6a6 1831px,#ffabab 1852px,#ffaeae 1874px,#ffadad 1896px,#ffacac 1918px,#faa 1940px,#ffadad 1961px,#ffb6b6 1983px,#ffe1e1 2005px,#cdcdff 2027px,#a9a9ff 2048px,#afafff 2070px,#b2b2ff 2092px,#b2b2ff 2114px)"></div><div style="top:40px;background:linear-gradient(90deg,#d5d5ff 1px,#d5d5ff 23px,#d9d9ff 45px,#e5e5ff 66px,#dbdbff 88px,#bdbdff 110px,#d4d4ff 132px,#ffdcdc 154px,#ffb9b9 175px,#ffc0c0 197px,#ffbdbd 219px,#ffb1b1 241px,#ffb0b0 262px,#ffbaba 284px,#ffbebe 306px,#fbb 328px,#ffb9b9 350px,#ffb8b8 371px,#ffb6b6 393px,#ffb3b3 415px,#ffd4d4 437px,#e5e5ff 458px,#c5c5ff 480px,#c9c9ff 502px,#d3d3ff 524px,#e3e3ff 546px,#e7e7ff 567px,#dedeff 589px,#ceceff 611px,#b7b7ff 633px,#dcdcff 655px,#ffc1c1 676px,#ff8d8d 698px,#ff8686 720px,#ff8282 742px,#ff8484 763px,#ff8484 785px,#ff8484 807px,#ff8484 829px,#ff8484 851px,#ff8484 872px,#ff8484 894px,#ff7b7b 916px,#ff6969 938px,#f99 959px,#f3f3ff 981px,#c4c4ff 1003px,#dadaff 1025px,#f4f4ff 1047px,#ffebeb 1068px,#ffdada 1090px,#ffd9d9 1112px,#fff6f6 1134px,#cdcdff 1155px,#eaeaff 1177px,#ff9d9d 1199px,#f66 1221px,#ff7070 1243px,#ff7171 1264px,#ff6b6b 1286px,#ff6868 1308px,#ff6969 1330px,#ff6969 1351px,#ff6969 1373px,#ff6969 1395px,#ff6868 1417px,#ff6868 1439px,#ff6868 1460px,#ff8d8d 1482px,#ffd7d7 1504px,#f6f6ff 1526px,#dedeff 1547px,#d7d7ff 1569px,#e2e2ff 1591px,#ededff 1613px,#fafaff 1635px,#f3f3ff 1656px,#d8d8ff 1678px,#fff 1700px,#ff9696 1722px,#ff6565 1744px,#ff6c6c 1765px,#ff7575 1787px,#ff7f7f 1809px,#ff8989 1831px,#ff9292 1852px,#ff9696 1874px,#ff9696 1896px,#ff9494 1918px,#ff9292 1940px,#ff9494 1961px,#ff9b9b 1983px,#ffcdcd 2005px,#d3d3ff 2027px,#a7a7ff 2048px,#afafff 2070px,#b2b2ff 2092px,#b2b2ff 2114px)"></div><div style="top:48px;background:linear-gradient(90deg,#cfcfff 1px,#cfcfff 23px,#d4d4ff 45px,#e4e4ff 66px,#dadaff 88px,#b6b6ff 110px,#d3d3ff 132px,#ffcfcf 154px,#ffa5a5 175px,#ffadad 197px,#ffa9a9 219px,#ff9a9a 241px,#f99 262px,#ffa7a7 284px,#ffacac 306px,#ffa9a9 328px,#ffa7a7 350px,#ffa6a6 371px,#ffa4a4 393px,#ffa0a0 415px,#ffc5c5 437px,#e9e9ff 458px,#c4c4ff 480px,#c9c9ff 502px,#d3d3ff 524px,#e4e4ff 546px,#e5e5ff 567px,#d9d9ff 589px,#c6c6ff 611px,#aeaeff 633px,#ddf 655px,#ffabab 676px,#ff6c6c 698px,#ff6767 720px,#ff6464 742px,#ff6565 763px,#f66 785px,#f66 807px,#f66 829px,#f66 851px,#f66 872px,#f66 894px,#ff5b5b 916px,#f44 938px,#ff7c7c 959px,#fafaff 981px,#c2c2ff 1003px,#d9d9ff 1025px,#f4f4ff 1047px,#ffebeb 1068px,#ffdada 1090px,#ffd8d8 1112px,#fffafa 1134px,#c0c0ff 1155px,#e7e7ff 1177px,#ff8383 1199px,#ff3e3e 1221px,#ff4a4a 1243px,#ff4e4e 1264px,#ff4c4c 1286px,#ff4b4b 1308px,#ff4b4b 1330px,#ff4b4b 1351px,#ff4b4b 1373px,#ff4b4b 1395px,#ff4b4b 1417px,#ff4848 1439px,#f44 1460px,#ff6d6d 1482px,#ffc5c5 1504px,#fcfcff 1526px,#dbdbff 1547px,#d2d2ff 1569px,#e1e1ff 1591px,#ebebff 1613px,#f2f2ff 1635px,#e3e3ff 1656px,#bebeff 1678px,#f3f3ff 1700px,#ff7e7e 1722px,#ff3d3d 1744px,#ff4646 1765px,#ff5252 1787px,#ff6060 1809px,#ff6c6c 1831px,#ff7979 1852px,#ff7f7f 1874px,#ff7e7e 1896px,#ff7c7c 1918px,#ff7a7a 1940px,#ff7c7c 1961px,#ff8181 1983px,#ffbaba 2005px,#d7d7ff 2027px,#a6a6ff 2048px,#aeaeff 2070px,#b2b2ff 2092px,#b2b2ff 2114px)"></div><div style="top:56px;background:linear-gradient(90deg,#ccf 1px,#ccf 23px,#d2d2ff 45px,#e4e4ff 66px,#d9d9ff 88px,#b1b1ff 110px,#d3d3ff 132px,#ffc0c0 154px,#ff8f8f 175px,#ff9898 197px,#ff9595 219px,#ff8484 241px,#ff8484 262px,#ff9595 284px,#ff9c9c 306px,#ff9b9b 328px,#ff9a9a 350px,#ff9a9a 371px,#ff9696 393px,#ff8f8f 415px,#ffb9b9 437px,#ebebff 458px,#c1c1ff 480px,#c7c7ff 502px,#d2d2ff 524px,#e2e2ff 546px,#e3e3ff 567px,#d4d4ff 589px,#c0c0ff 611px,#a7a7ff 633px,#dfdfff 655px,#ff9898 676px,#ff5252 698px,#ff4e4e 720px,#ff4c4c 742px,#ff4d4d 763px,#ff4e4e 785px,#ff4e4e 807px,#ff4e4e 829px,#ff4e4e 851px,#ff4f4f 872px,#ff5050 894px,#ff4343 916px,#ff2828 938px,#ff6767 959px,#fefeff 981px,#bebeff 1003px,#d7d7ff 1025px,#f2f2ff 1047px,#ffefef 1068px,#ffdfdf 1090px,#fdd 1112px,#fefeff 1134px,#b4b4ff 1155px,#e5e5ff 1177px,#ff6f6f 1199px,#ff2121 1221px,#ff2e2e 1243px,#ff3434 1264px,#ff3434 1286px,#ff3434 1308px,#ff3434 1330px,#ff3434 1351px,#ff3434 1373px,#ff3434 1395px,#ff3434 1417px,#ff3030 1439px,#ff2828 1460px,#ff5757 1482px,#ffbcbc 1504px,#fcfcff 1526px,#d6d6ff 1547px,#ccf 1569px,#dfdfff 1591px,#e9e9ff 1613px,#eaeaff 1635px,#d5d5ff 1656px,#aaf 1678px,#e9e9ff 1700px,#ff6e6e 1722px,#ff2020 1744px,#ff2c2c 1765px,#ff3939 1787px,#ff4747 1809px,#f55 1831px,#ff6363 1852px,#ff6969 1874px,#ff6868 1896px,#ff6767 1918px,#f66 1940px,#ff6868 1961px,#ff6d6d 1983px,#ffacac 2005px,#dbdbff 2027px,#a4a4ff 2048px,#aeaeff 2070px,#b2b2ff 2092px,#b2b2ff 2114px)"></div><div style="top:64px;background:linear-gradient(90deg,#ceceff 1px,#ceceff 23px,#d4d4ff 45px,#e5e5ff 66px,#d8d8ff 88px,#aeaeff 110px,#d7d7ff 132px,#ffabab 154px,#ff7272 175px,#ff7d7d 197px,#ff7c7c 219px,#ff6f6f 241px,#ff7272 262px,#ff8383 284px,#ff8d8d 306px,#ff9090 328px,#ff9292 350px,#ff9494 371px,#ff8f8f 393px,#ff8383 415px,#ffafaf 437px,#ebebff 458px,#bcbcff 480px,#c2c2ff 502px,#ceceff 524px,#dfdfff 546px,#dfdfff 567px,#ceceff 589px,#bbf 611px,#a4a4ff 633px,#e2e2ff 655px,#ff8a8a 676px,#ff3f3f 698px,#ff3c3c 720px,#ff3b3b 742px,#ff3c3c 763px,#ff3d3d 785px,#ff3d3d 807px,#ff3d3d 829px,#ff3c3c 851px,#ff3e3e 872px,#ff4141 894px,#ff3535 916px,#ff1818 938px,#ff5c5c 959px,#fefeff 981px,#babaff 1003px,#d4d4ff 1025px,#ededff 1047px,#fff8f8 1068px,#ffebeb 1090px,#ffe8e8 1112px,#f3f3ff 1134px,#aaf 1155px,#e2e2ff 1177px,#ff6464 1199px,#ff1010 1221px,#ff1f1f 1243px,#ff2626 1264px,#ff2727 1286px,#ff2828 1308px,#ff2828 1330px,#ff2727 1351px,#ff2727 1373px,#ff2828 1395px,#ff2828 1417px,#f22 1439px,#ff1818 1460px,#ff4c4c 1482px,#ffbfbf 1504px,#f4f4ff 1526px,#cfcfff 1547px,#c7c7ff 1569px,#dbdbff 1591px,#e4e4ff 1613px,#e4e4ff 1635px,#ccf 1656px,#9e9eff 1678px,#e2e2ff 1700px,#f66 1722px,#ff1313 1744px,#ff2020 1765px,#ff2d2d 1787px,#ff3737 1809px,#ff4343 1831px,#ff5050 1852px,#ff5656 1874px,#f55 1896px,#ff5454 1918px,#f55 1940px,#ff5959 1961px,#ff6060 1983px,#ffa3a3 2005px,#ddf 2027px,#a3a3ff 2048px,#adadff 2070px,#b2b2ff 2092px,#b2b2ff 2114px)"></div><div style="top:72px;background:linear-gradient(90deg,#d4d4ff 1px,#d4d4ff 23px,#d9d9ff 45px,#e7e7ff 66px,#d7d7ff 88px,#ababff 110px,#dedeff 132px,#ff8e8e 154px,#ff4c4c 175px,#ff5858 197px,#ff5c5c 219px,#ff5858 241px,#ff5f5f 262px,#ff7070 284px,#ff7d7d 306px,#ff8686 328px,#ff8e8e 350px,#ff9393 371px,#ff8c8c 393px,#ff7878 415px,#ffa6a6 437px,#e8e8ff 458px,#b4b4ff 480px,#bbf 502px,#c7c7ff 524px,#d9d9ff 546px,#d9d9ff 567px,#c8c8ff 589px,#b6b6ff 611px,#a2a2ff 633px,#e6e6ff 655px,#ff7b7b 676px,#ff2d2d 698px,#ff2d2d 720px,#ff2e2e 742px,#ff2f2f 763px,#ff2f2f 785px,#ff2f2f 807px,#ff2f2f 829px,#ff2e2e 851px,#ff3131 872px,#ff3737 894px,#ff2c2c 916px,#ff0f0f 938px,#ff5656 959px,#fbfbff 981px,#b3b3ff 1003px,#cfcfff 1025px,#e5e5ff 1047px,#f7f7ff 1068px,#fffdfd 1090px,#fffbfb 1112px,#e3e3ff 1134px,#a1a1ff 1155px,#e0e0ff 1177px,#ff5d5d 1199px,#ff0505 1221px,#ff1616 1243px,#ff1f1f 1264px,#ff2020 1286px,#ff2121 1308px,#ff2020 1330px,#ff2020 1351px,#ff2020 1373px,#ff2020 1395px,#ff2121 1417px,#ff1b1b 1439px,#ff0e0e 1460px,#ff4949 1482px,#ffcbcb 1504px,#e4e4ff 1526px,#c7c7ff 1547px,#c2c2ff 1569px,#d5d5ff 1591px,#dfdfff 1613px,#dedeff 1635px,#c6c6ff 1656px,#9797ff 1678px,#dedeff 1700px,#ff6464 1722px,#ff0e0e 1744px,#ff1e1e 1765px,#ff2828 1787px,#ff2c2c 1809px,#ff3434 1831px,#ff3e3e 1852px,#ff4242 1874px,#ff4141 1896px,#ff4242 1918px,#ff4545 1940px,#ff4c4c 1961px,#ff5757 1983px,#ff9d9d 2005px,#dfdfff 2027px,#a3a3ff 2048px,#adadff 2070px,#b2b2ff 2092px,#b2b2ff 2114px)"></div><div style="top:80px;background:linear-gradient(90deg,#dbdbff 1px,#dbdbff 23px,#dedeff 45px,#e9e9ff 66px,#d7d7ff 88px,#a9a9ff 110px,#e5e5ff 132px,#ff7272 154px,#ff2626 175px,#f33 197px,#ff3d3d 219px,#ff4343 241px,#ff4e4e 262px,#ff5e5e 284px,#ff6e6e 306px,#ff7f7f 328px,#ff8c8c 350px,#ff9595 371px,#ff8b8b 393px,#ff6e6e 415px,#ff9d9d 437px,#e5e5ff 458px,#ababff 480px,#b4b4ff 502px,#c0c0ff 524px,#d2d2ff 546px,#d2d2ff 567px,#c2c2ff 589px,#b1b1ff 611px,#a1a1ff 633px,#eaeaff 655px,#ff7070 676px,#ff2020 698px,#f22 720px,#ff2323 742px,#ff2424 763px,#ff2525 785px,#ff2525 807px,#ff2424 829px,#f22 851px,#ff2727 872px,#ff3131 894px,#ff2828 916px,#ff0b0b 938px,#f55 959px,#f7f7ff 981px,#acacff 1003px,#cacaff 1025px,#ddf 1047px,#e6e6ff 1068px,#ececff 1090px,#eef 1112px,#d2d2ff 1134px,#9898ff 1155px,#dedeff 1177px,#ff5a5a 1199px,#f00 1221px,#ff1313 1243px,#ff1c1c 1264px,#ff1d1d 1286px,#ff1d1d 1308px,#ff1d1d 1330px,#ff1d1d 1351px,#ff1d1d 1373px,#ff1d1d 1395px,#ff1d1d 1417px,#ff1717 1439px,#ff0909 1460px,#ff4b4b 1482px,#ffdbdb 1504px,#d1d1ff 1526px,#bdbdff 1547px,#bdbdff 1569px,#cfcfff 1591px,#d8d8ff 1613px,#d8d8ff 1635px,#c1c1ff 1656px,#9292ff 1678px,#dadaff 1700px,#ff6565 1722px,#ff0f0f 1744px,#f22 1765px,#ff2929 1787px,#ff2525 1809px,#ff2727 1831px,#ff2d2d 1852px,#ff3030 1874px,#ff2f2f 1896px,#ff3131 1918px,#ff3838 1940px,#ff4242 1961px,#ff5050 1983px,#ff9a9a 2005px,#e0e0ff 2027px,#a3a3ff 2048px,#adadff 2070px,#b2b2ff 2092px,#b2b2ff 2114px)"></div><div style="top:88px;background:linear-gradient(90deg,#e1e1ff 1px,#e1e1ff 23px,#e4e4ff 45px,#eaeaff 66px,#d6d6ff 88px,#a8a8ff 110px,#ebebff 132px,#ff5e5e 154px,#ff0b0b 175px,#ff1818 197px,#ff2626 219px,#f33 241px,#ff4040 262px,#ff4e4e 284px,#ff6161 306px,#ff7878 328px,#ff8b8b 350px,#ff9797 371px,#ff8b8b 393px,#f66 415px,#ff9696 437px,#e3e3ff 458px,#a4a4ff 480px,#aeaeff 502px,#bbf 524px,#ccf 546px,#ccf 567px,#bcbcff 589px,#adadff 611px,#a0a0ff 633px,#ececff 655px,#ff6b6b 676px,#ff1919 698px,#ff1b1b 720px,#ff1c1c 742px,#ff1d1d 763px,#ff1e1e 785px,#ff1e1e 807px,#ff1d1d 829px,#ff1b1b 851px,#ff2121 872px,#ff2f2f 894px,#ff2727 916px,#ff0909 938px,#ff5656 959px,#f2f2ff 981px,#a6a6ff 1003px,#c4c4ff 1025px,#d5d5ff 1047px,#d7d7ff 1068px,#d9d9ff 1090px,#dcdcff 1112px,#c4c4ff 1134px,#9191ff 1155px,#dbdbff 1177px,#ff5b5b 1199px,#f00 1221px,#ff1212 1243px,#ff1b1b 1264px,#ff1b1b 1286px,#ff1b1b 1308px,#ff1b1b 1330px,#ff1b1b 1351px,#ff1b1b 1373px,#ff1b1b 1395px,#ff1b1b 1417px,#ff1515 1439px,#ff0707 1460px,#ff4f4f 1482px,#ffebeb 1504px,#bfbfff 1526px,#b5b5ff 1547px,#b9b9ff 1569px,#cacaff 1591px,#d3d3ff 1613px,#d3d3ff 1635px,#bdbdff 1656px,#9090ff 1678px,#d7d7ff 1700px,#ff6b6b 1722px,#ff1616 1744px,#ff2828 1765px,#ff2c2c 1787px,#ff2121 1809px,#ff1d1d 1831px,#ff2020 1852px,#ff2121 1874px,#ff2020 1896px,#ff2525 1918px,#ff2e2e 1940px,#ff3c3c 1961px,#ff4d4d 1983px,#f99 2005px,#e0e0ff 2027px,#a2a2ff 2048px,#adadff 2070px,#b2b2ff 2092px,#b2b2ff 2114px)"></div><div style="top:96px;background:linear-gradient(90deg,#e6e6ff 1px,#e6e6ff 23px,#e7e7ff 45px,#e9e9ff 66px,#d4d4ff 88px,#a7a7ff 110px,#ededff 132px,#ff5959 154px,#ff0404 175px,#f11 197px,#ff1e1e 219px,#ff2c2c 241px,#ff3939 262px,#f44 284px,#ff5858 306px,#ff7474 328px,#ff8989 350px,#f99 371px,#ff8b8b 393px,#ff6161 415px,#ff9191 437px,#e2e2ff 458px,#a2a2ff 480px,#ababff 502px,#b8b8ff 524px,#c9c9ff 546px,#c8c8ff 567px,#b8b8ff 589px,#aaf 611px,#9e9eff 633px,#ebebff 655px,#ff6e6e 676px,#ff1a1a 698px,#ff1818 720px,#ff1818 742px,#ff1919 763px,#ff1919 785px,#ff1919 807px,#ff1919 829px,#ff1818 851px,#ff1f1f 872px,#ff3030 894px,#ff2929 916px,#ff0a0a 938px,#ff5656 959px,#efefff 981px,#a2a2ff 1003px,#bfbfff 1025px,#ceceff 1047px,#ccf 1068px,#cdcdff 1090px,#cfcfff 1112px,#babaff 1134px,#8c8cff 1155px,#d9d9ff 1177px,#ff5e5e 1199px,#ff0202 1221px,#ff1212 1243px,#ff1919 1264px,#ff1919 1286px,#ff1919 1308px,#ff1919 1330px,#ff1919 1351px,#ff1919 1373px,#ff1919 1395px,#ff1919 1417px,#ff1313 1439px,#ff0606 1460px,#ff5252 1482px,#fff8f8 1504px,#b2b2ff 1526px,#afafff 1547px,#b6b6ff 1569px,#c6c6ff 1591px,#cfcfff 1613px,#d0d0ff 1635px,#babaff 1656px,#8e8eff 1678px,#d3d3ff 1700px,#ff7373 1722px,#ff1f1f 1744px,#ff2e2e 1765px,#ff2e2e 1787px,#ff1f1f 1809px,#ff1818 1831px,#ff1919 1852px,#ff1919 1874px,#ff1717 1896px,#ff1d1d 1918px,#ff2a2a 1940px,#ff3a3a 1961px,#ff4c4c 1983px,#ff9898 2005px,#e0e0ff 2027px,#a2a2ff 2048px,#adadff 2070px,#b2b2ff 2092px,#b2b2ff 2114px)"></div><div style="top:104px;background:linear-gradient(90deg,#e8e8ff 1px,#e8e8ff 23px,#e8e8ff 45px,#e6e6ff 66px,#d1d1ff 88px,#a8a8ff 110px,#e9e9ff 132px,#ff6969 154px,#ff1818 175px,#f22 197px,#ff2a2a 219px,#ff3131 241px,#ff3737 262px,#ff3e3e 284px,#ff5151 306px,#ff7070 328px,#ff8787 350px,#ff9898 371px,#ff8a8a 393px,#ff5e5e 415px,#ff8d8d 437px,#e5e5ff 458px,#a4a4ff 480px,#aeaeff 502px,#babaff 524px,#c8c8ff 546px,#c7c7ff 567px,#b7b7ff 589px,#a8a8ff 611px,#9b9bff 633px,#e4e4ff 655px,#ff7c7c 676px,#ff2626 698px,#ff1919 720px,#ff1313 742px,#ff1616 763px,#ff1717 785px,#ff1717 807px,#ff1717 829px,#ff1919 851px,#f22 872px,#ff3434 894px,#ff2d2d 916px,#ff0c0c 938px,#ff5858 959px,#eef 981px,#a0a0ff 1003px,#babaff 1025px,#c7c7ff 1047px,#c7c7ff 1068px,#c8c8ff 1090px,#cacaff 1112px,#b6b6ff 1134px,#8a8aff 1155px,#d6d6ff 1177px,#ff6565 1199px,#ff0707 1221px,#ff0f0f 1243px,#ff1313 1264px,#ff1414 1286px,#ff1414 1308px,#ff1313 1330px,#ff1313 1351px,#ff1414 1373px,#ff1414 1395px,#ff1414 1417px,#ff0f0f 1439px,#ff0505 1460px,#f55 1482px,#fefeff 1504px,#aaf 1526px,#ababff 1547px,#b4b4ff 1569px,#c5c5ff 1591px,#cdcdff 1613px,#cfcfff 1635px,#b9b9ff 1656px,#8d8dff 1678px,#cfcfff 1700px,#ff7f7f 1722px,#ff2b2b 1744px,#f33 1765px,#ff2e2e 1787px,#ff1d1d 1809px,#ff1414 1831px,#ff1414 1852px,#ff1414 1874px,#ff1313 1896px,#ff1b1b 1918px,#ff2c2c 1940px,#ff3d3d 1961px,#ff4f4f 1983px,#ff9b9b 2005px,#dfdfff 2027px,#a3a3ff 2048px,#adadff 2070px,#b2b2ff 2092px,#b2b2ff 2114px)"></div><div style="top:112px;background:linear-gradient(90deg,#e9e9ff 1px,#e9e9ff 23px,#e7e7ff 45px,#e2e2ff 66px,#cdcdff 88px,#a9a9ff 110px,#e2e2ff 132px,#f88 154px,#ff4040 175px,#ff4646 197px,#ff4545 219px,#ff3e3e 241px,#ff3a3a 262px,#ff3a3a 284px,#ff4b4b 306px,#ff6c6c 328px,#ff8585 350px,#ff9797 371px,#ff8989 393px,#ff5d5d 415px,#ff8b8b 437px,#eaeaff 458px,#ababff 480px,#b4b4ff 502px,#bfbfff 524px,#cacaff 546px,#c7c7ff 567px,#b7b7ff 589px,#a7a7ff 611px,#9898ff 633px,#d9d9ff 655px,#ff9393 676px,#ff3b3b 698px,#ff1d1d 720px,#ff1010 742px,#ff1515 763px,#ff1717 785px,#ff1616 807px,#ff1919 829px,#ff1e1e 851px,#ff2a2a 872px,#ff3c3c 894px,#ff3434 916px,#ff1212 938px,#ff5c5c 959px,#eef 981px,#9e9eff 1003px,#b4b4ff 1025px,#c1c1ff 1047px,#c5c5ff 1068px,#c8c8ff 1090px,#cacaff 1112px,#b6b6ff 1134px,#8b8bff 1155px,#d3d3ff 1177px,#ff6f6f 1199px,#ff0f0f 1221px,#ff0c0c 1243px,#ff0b0b 1264px,#ff0d0d 1286px,#ff0d0d 1308px,#ff0b0b 1330px,#ff0b0b 1351px,#ff0d0d 1373px,#ff0d0d 1395px,#ff0c0c 1417px,#ff0a0a 1439px,#ff0606 1460px,#ff5a5a 1482px,#f7f7ff 1504px,#a3a3ff 1526px,#a9a9ff 1547px,#b4b4ff 1569px,#c4c4ff 1591px,#ceceff 1613px,#d0d0ff 1635px,#bbf 1656px,#8f8fff 1678px,#cbcbff 1700px,#ff8f8f 1722px,#ff3c3c 1744px,#ff3a3a 1765px,#ff2f2f 1787px,#ff1d1d 1809px,#ff1414 1831px,#ff1313 1852px,#ff1212 1874px,#ff1212 1896px,#ff1c1c 1918px,#ff3232 1940px,#ff4545 1961px,#ff5757 1983px,#ffa0a0 2005px,#dedeff 2027px,#a3a3ff 2048px,#adadff 2070px,#b2b2ff 2092px,#b2b2ff 2114px)"></div><div style="top:120px;background:linear-gradient(90deg,#e8e8ff 1px,#e8e8ff 23px,#e6e6ff 45px,#ddf 66px,#c9c9ff 88px,#ababff 110px,#d8d8ff 132px,#ffaeae 154px,#ff7272 175px,#ff7272 197px,#ff6767 219px,#ff5050 241px,#ff4141 262px,#ff3b3b 284px,#ff4848 306px,#ff6a6a 328px,#ff8484 350px,#ff9696 371px,#ff8989 393px,#ff5e5e 415px,#ff8a8a 437px,#f0f0ff 458px,#b2b2ff 480px,#bcbcff 502px,#c5c5ff 524px,#ccf 546px,#c8c8ff 567px,#b8b8ff 589px,#a7a7ff 611px,#9494ff 633px,#cdcdff 655px,#ffaeae 676px,#f55 698px,#ff2525 720px,#f11 742px,#ff1818 763px,#ff1b1b 785px,#ff1a1a 807px,#ff1e1e 829px,#ff2828 851px,#ff3535 872px,#ff4747 894px,#ff3e3e 916px,#ff1a1a 938px,#ff6161 959px,#ededff 981px,#9e9eff 1003px,#afafff 1025px,#bcbcff 1047px,#c5c5ff 1068px,#cbcbff 1090px,#ccf 1112px,#b8b8ff 1134px,#8d8dff 1155px,#d0d0ff 1177px,#ff7d7d 1199px,#ff1c1c 1221px,#ff0d0d 1243px,#ff0606 1264px,#ff0909 1286px,#ff0909 1308px,#ff0606 1330px,#ff0606 1351px,#ff0909 1373px,#ff0909 1395px,#ff0808 1417px,#ff0808 1439px,#ff0a0a 1460px,#ff6161 1482px,#f1f1ff 1504px,#a0a0ff 1526px,#a8a8ff 1547px,#b5b5ff 1569px,#c5c5ff 1591px,#ceceff 1613px,#d1d1ff 1635px,#bcbcff 1656px,#9191ff 1678px,#c6c6ff 1700px,#ffa2a2 1722px,#ff5050 1744px,#ff4242 1765px,#ff3232 1787px,#ff2121 1809px,#ff1717 1831px,#ff1616 1852px,#ff1515 1874px,#ff1616 1896px,#f22 1918px,#ff3c3c 1940px,#ff5151 1961px,#ff6060 1983px,#ffa6a6 2005px,#dcdcff 2027px,#a4a4ff 2048px,#aeaeff 2070px,#b2b2ff 2092px,#b2b2ff 2114px)"></div><div style="top:128px;background:linear-gradient(90deg,#e7e7ff 1px,#e7e7ff 23px,#e3e3ff 45px,#d7d7ff 66px,#c5c5ff 88px,#adadff 110px,#cfcfff 132px,#ffd2d2 154px,#ffa2a2 175px,#ff9e9e 197px,#ff8a8a 219px,#ff6565 241px,#ff4d4d 262px,#ff4141 284px,#ff4c4c 306px,#ff6d6d 328px,#ff8686 350px,#ff9797 371px,#ff8a8a 393px,#ff6060 415px,#ff8b8b 437px,#f4f4ff 458px,#babaff 480px,#c3c3ff 502px,#cacaff 524px,#ceceff 546px,#c9c9ff 567px,#b9b9ff 589px,#a7a7ff 611px,#9292ff 633px,#c1c1ff 655px,#ffcbcb 676px,#ff7373 698px,#ff3535 720px,#ff1a1a 742px,#ff2121 763px,#ff2424 785px,#ff2323 807px,#ff2929 829px,#ff3636 851px,#ff4545 872px,#ff5656 894px,#ff4b4b 916px,#ff2323 938px,#ff6565 959px,#ededff 981px,#9e9eff 1003px,#ababff 1025px,#b9b9ff 1047px,#c6c6ff 1068px,#ceceff 1090px,#cfcfff 1112px,#babaff 1134px,#8f8fff 1155px,#ccf 1177px,#ff8e8e 1199px,#ff2f2f 1221px,#ff1414 1243px,#ff0909 1264px,#ff0c0c 1286px,#ff0d0d 1308px,#ff0b0b 1330px,#ff0b0b 1351px,#ff0d0d 1373px,#ff0d0d 1395px,#ff0b0b 1417px,#ff0d0d 1439px,#f11 1460px,#ff6868 1482px,#ededff 1504px,#9e9eff 1526px,#a9a9ff 1547px,#b6b6ff 1569px,#c6c6ff 1591px,#cfcfff 1613px,#d1d1ff 1635px,#bdbdff 1656px,#9494ff 1678px,#c1c1ff 1700px,#ffb7b7 1722px,#ff6767 1744px,#ff4d4d 1765px,#ff3939 1787px,#ff2a2a 1809px,#f22 1831px,#ff2121 1852px,#ff2121 1874px,#ff2020 1896px,#ff2e2e 1918px,#ff4b4b 1940px,#ff5e5e 1961px,#ff6969 1983px,#faa 2005px,#dbdbff 2027px,#a4a4ff 2048px,#aeaeff 2070px,#b2b2ff 2092px,#b2b2ff 2114px)"></div><div style="top:136px;background:linear-gradient(90deg,#e5e5ff 1px,#e5e5ff 23px,#e0e0ff 45px,#d2d2ff 66px,#c1c1ff 88px,#aeaeff 110px,#c9c9ff 132px,#ffecec 154px,#ffc4c4 175px,#ffbfbf 197px,#ffa6a6 219px,#ff7a7a 241px,#ff5d5d 262px,#ff4f4f 284px,#ff5757 306px,#ff7575 328px,#ff8b8b 350px,#f99 371px,#ff8c8c 393px,#ff6363 415px,#ff8c8c 437px,#f7f7ff 458px,#bebeff 480px,#c8c8ff 502px,#cdcdff 524px,#cdcdff 546px,#c7c7ff 567px,#b9b9ff 589px,#a7a7ff 611px,#9191ff 633px,#b7b7ff 655px,#ffe4e4 676px,#ff9191 698px,#ff4e4e 720px,#ff2f2f 742px,#ff3434 763px,#ff3636 785px,#ff3535 807px,#ff3b3b 829px,#ff4949 851px,#ff5858 872px,#ff6969 894px,#ff5a5a 916px,#ff2c2c 938px,#ff6969 959px,#ededff 981px,#9e9eff 1003px,#aaf 1025px,#b8b8ff 1047px,#c7c7ff 1068px,#cfcfff 1090px,#d0d0ff 1112px,#bcbcff 1134px,#9292ff 1155px,#c6c6ff 1177px,#ffa5a5 1199px,#ff4a4a 1221px,#ff2727 1243px,#ff1818 1264px,#ff1b1b 1286px,#ff1e1e 1308px,#ff1e1e 1330px,#ff1e1e 1351px,#ff1e1e 1373px,#ff1d1d 1395px,#ff1c1c 1417px,#ff1c1c 1439px,#ff1d1d 1460px,#ff6f6f 1482px,#ebebff 1504px,#9e9eff 1526px,#ababff 1547px,#b8b8ff 1569px,#c7c7ff 1591px,#cfcfff 1613px,#d0d0ff 1635px,#bdbdff 1656px,#9595ff 1678px,#bcbcff 1700px,#ffcdcd 1722px,#ff8080 1744px,#ff5c5c 1765px,#f44 1787px,#ff3a3a 1809px,#ff3535 1831px,#ff3737 1852px,#ff3636 1874px,#f33 1896px,#ff4040 1918px,#ff5d5d 1940px,#ff6c6c 1961px,#ff6e6e 1983px,#faa 2005px,#dbdbff 2027px,#a4a4ff 2048px,#aeaeff 2070px,#b2b2ff 2092px,#b2b2ff 2114px)"></div><div style="top:144px;background:linear-gradient(90deg,#e1e1ff 1px,#e1e1ff 23px,#dbdbff 45px,#ccf 66px,#bdbdff 88px,#afafff 110px,#c5c5ff 132px,#fffdfd 154px,#fdd 175px,#ffd9d9 197px,#ffbfbf 219px,#ff9292 241px,#ff7676 262px,#ff6a6a 284px,#ff6f6f 306px,#ff8585 328px,#ff9494 350px,#ff9e9e 371px,#ff8f8f 393px,#ff6767 415px,#ff8f8f 437px,#f7f7ff 458px,#c0c0ff 480px,#cacaff 502px,#cdcdff 524px,#cacaff 546px,#c3c3ff 567px,#b8b8ff 589px,#a8a8ff 611px,#9292ff 633px,#afafff 655px,#fff 676px,#ffb7b7 698px,#f77 720px,#ff5757 742px,#ff5656 763px,#ff5656 785px,#ff5454 807px,#ff5a5a 829px,#ff6767 851px,#ff7575 872px,#ff8484 894px,#ff6e6e 916px,#ff3535 938px,#ff6c6c 959px,#ebebff 981px,#9f9fff 1003px,#adadff 1025px,#babaff 1047px,#c8c8ff 1068px,#cfcfff 1090px,#d0d0ff 1112px,#bdbdff 1134px,#9595ff 1155px,#bebeff 1177px,#ffc4c4 1199px,#ff7272 1221px,#ff4b4b 1243px,#ff3939 1264px,#ff3d3d 1286px,#ff4242 1308px,#ff4949 1330px,#ff4949 1351px,#ff4343 1373px,#ff4040 1395px,#ff4040 1417px,#ff3b3b 1439px,#ff3030 1460px,#ff7878 1482px,#ebebff 1504px,#a3a3ff 1526px,#b0b0ff 1547px,#bcbcff 1569px,#c8c8ff 1591px,#cdcdff 1613px,#ccf 1635px,#b9b9ff 1656px,#9696ff 1678px,#b6b6ff 1700px,#ffe7e7 1722px,#ff9e9e 1744px,#ff6f6f 1765px,#ff5656 1787px,#f55 1809px,#ff5858 1831px,#ff5f5f 1852px,#ff5e5e 1874px,#f55 1896px,#ff5e5e 1918px,#ff7878 1940px,#ff7e7e 1961px,#ff6e6e 1983px,#ffa5a5 2005px,#ddf 2027px,#a4a4ff 2048px,#aeaeff 2070px,#b2b2ff 2092px,#b2b2ff 2114px)"></div><div style="top:152px;background:linear-gradient(90deg,#dbdbff 1px,#dbdbff 23px,#d5d5ff 45px,#c6c6ff 66px,#b9b9ff 88px,#afafff 110px,#c2c2ff 132px,#f3f3ff 154px,#fff2f2 175px,#fff0f0 197px,#ffd9d9 219px,#ffaeae 241px,#ff9595 262px,#ff8f8f 284px,#ff9191 306px,#ff9b9b 328px,#ffa2a2 350px,#ffa5a5 371px,#ff9292 393px,#ff6b6b 415px,#ff9292 437px,#f6f6ff 458px,#c0c0ff 480px,#cacaff 502px,#cbcbff 524px,#c5c5ff 546px,#bebeff 567px,#b7b7ff 589px,#a9a9ff 611px,#9595ff 633px,#a8a8ff 655px,#e4e4ff 676px,#ffe2e2 698px,#ffabab 720px,#ff8c8c 742px,#ff8484 763px,#ff7f7f 785px,#ff7e7e 807px,#ff8282 829px,#ff8d8d 851px,#f99 872px,#ffa5a5 894px,#ff8787 916px,#ff4040 938px,#ff6f6f 959px,#eaeaff 981px,#a0a0ff 1003px,#b2b2ff 1025px,#c0c0ff 1047px,#c9c9ff 1068px,#ceceff 1090px,#d0d0ff 1112px,#bebeff 1134px,#9898ff 1155px,#b5b5ff 1177px,#ffeaea 1199px,#ffa5a5 1221px,#ff7b7b 1243px,#ff6767 1264px,#ff6b6b 1286px,#ff7474 1308px,#ff8484 1330px,#ff8585 1351px,#f77 1373px,#ff7171 1395px,#ff7373 1417px,#f66 1439px,#ff4a4a 1460px,#ff8383 1482px,#ededff 1504px,#ababff 1526px,#b8b8ff 1547px,#c2c2ff 1569px,#cacaff 1591px,#ccf 1613px,#c6c6ff 1635px,#b5b5ff 1656px,#9898ff 1678px,#afafff 1700px,#fafaff 1722px,#ffc1c1 1744px,#ff8686 1765px,#ff6d6d 1787px,#ff7878 1809px,#ff8585 1831px,#ff9595 1852px,#ff9494 1874px,#ff8282 1896px,#ff8484 1918px,#ff9a9a 1940px,#ff9292 1961px,#ff6c6c 1983px,#ff9b9b 2005px,#e0e0ff 2027px,#a3a3ff 2048px,#adadff 2070px,#b2b2ff 2092px,#b2b2ff 2114px)"></div><div style="top:160px;background:linear-gradient(90deg,#d4d4ff 1px,#d4d4ff 23px,#cfcfff 45px,#bfbfff 66px,#b5b5ff 88px,#afafff 110px,#c0c0ff 132px,#e8e8ff 154px,#fcfcff 175px,#fbfbff 197px,#fff0f0 219px,#ffc9c9 241px,#ffb6b6 262px,#ffb5b5 284px,#ffb4b4 306px,#ffb3b3 328px,#ffb1b1 350px,#ffacac 371px,#ff9797 393px,#ff7070 415px,#ff9797 437px,#f5f5ff 458px,#c0c0ff 480px,#cacaff 502px,#c9c9ff 524px,#bfbfff 546px,#b8b8ff 567px,#b6b6ff 589px,#ababff 611px,#9898ff 633px,#a2a2ff 655px,#c9c9ff 676px,#f2f2ff 698px,#ffe2e2 720px,#ffc4c4 742px,#ffb4b4 763px,#ffabab 785px,#ffa9a9 807px,#ffadad 829px,#ffb4b4 851px,#ffbdbd 872px,#ffc7c7 894px,#ffa0a0 916px,#ff4a4a 938px,#ff7171 959px,#e8e8ff 981px,#a1a1ff 1003px,#b8b8ff 1025px,#c6c6ff 1047px,#cbcbff 1068px,#ceceff 1090px,#d0d0ff 1112px,#bfbfff 1134px,#9b9bff 1155px,#ababff 1177px,#ededff 1199px,#ffdada 1221px,#ffaeae 1243px,#f99 1264px,#ff9c9c 1286px,#faa 1308px,#ffc3c3 1330px,#ffc4c4 1351px,#ffadad 1373px,#ffa4a4 1395px,#ffa9a9 1417px,#ff9393 1439px,#ff6464 1460px,#ff8d8d 1482px,#efefff 1504px,#b4b4ff 1526px,#c0c0ff 1547px,#c8c8ff 1569px,#ccf 1591px,#cacaff 1613px,#c1c1ff 1635px,#b0b0ff 1656px,#99f 1678px,#a8a8ff 1700px,#ddf 1722px,#ffe3e3 1744px,#ff9e9e 1765px,#ff8787 1787px,#ff9e9e 1809px,#ffb5b5 1831px,#ffcdcd 1852px,#ffcbcb 1874px,#ffb2b2 1896px,#ffadad 1918px,#ffbdbd 1940px,#ffa7a7 1961px,#ff6b6b 1983px,#ff9292 2005px,#e2e2ff 2027px,#a3a3ff 2048px,#adadff 2070px,#b2b2ff 2092px,#b2b2ff 2114px)"></div><div style="top:168px;background:linear-gradient(90deg,#cfcfff 1px,#cfcfff 23px,#c9c9ff 45px,#babaff 66px,#b1b1ff 88px,#aeaeff 110px,#bebeff 132px,#e0e0ff 154px,#efefff 175px,#ebebff 197px,#fafaff 219px,#ffe2e2 241px,#ffd3d3 262px,#ffd6d6 284px,#ffd3d3 306px,#ffc8c8 328px,#ffbebe 350px,#ffb5b5 371px,#ff9d9d 393px,#f77 415px,#ff9c9c 437px,#f3f3ff 458px,#c0c0ff 480px,#cacaff 502px,#c8c8ff 524px,#babaff 546px,#b4b4ff 567px,#b4b4ff 589px,#acacff 611px,#9b9bff 633px,#9e9eff 655px,#b4b4ff 676px,#cfcfff 698px,#eef 720px,#fff4f4 742px,#ffdcdc 763px,#ffd0d0 785px,#ffd0d0 807px,#ffd2d2 829px,#ffd5d5 851px,#ffdbdb 872px,#ffe3e3 894px,#ffb6b6 916px,#ff5454 938px,#ff7474 959px,#e8e8ff 981px,#a4a4ff 1003px,#bebeff 1025px,#cbcbff 1047px,#ccf 1068px,#cdcdff 1090px,#d0d0ff 1112px,#c0c0ff 1134px,#9e9eff 1155px,#a2a2ff 1177px,#ccf 1199px,#f7f7ff 1221px,#ffdbdb 1243px,#ffc6c6 1264px,#ffc9c9 1286px,#ffd9d9 1308px,#fff8f8 1330px,#fff9f9 1351px,#ffdbdb 1373px,#ffd0d0 1395px,#ffd6d6 1417px,#ffbaba 1439px,#ff7c7c 1460px,#ff9797 1482px,#f2f2ff 1504px,#bcbcff 1526px,#c6c6ff 1547px,#ccf 1569px,#cdcdff 1591px,#c8c8ff 1613px,#bcbcff 1635px,#acacff 1656px,#99f 1678px,#a2a2ff 1700px,#c5c5ff 1722px,#fcfcff 1744px,#ffb7b7 1765px,#ffa1a1 1787px,#ffc1c1 1809px,#ffdfdf 1831px,#fffcfc 1852px,#fffbfb 1874px,#ffdcdc 1896px,#ffd1d1 1918px,#ffdcdc 1940px,#ffbaba 1961px,#ff6c6c 1983px,#ff8c8c 2005px,#e4e4ff 2027px,#a2a2ff 2048px,#adadff 2070px,#b2b2ff 2092px,#b2b2ff 2114px)"></div><div style="top:176px;background:linear-gradient(90deg,#cbcbff 1px,#cbcbff 23px,#c6c6ff 45px,#b7b7ff 66px,#afafff 88px,#aeaeff 110px,#bcbcff 132px,#dadaff 154px,#e6e6ff 175px,#e1e1ff 197px,#ededff 219px,#fff5f5 241px,#ffe8e8 262px,#ffeaea 284px,#ffe5e5 306px,#ffd6d6 328px,#ffc9c9 350px,#ffbdbd 371px,#ffa5a5 393px,#ff7f7f 415px,#ffa2a2 437px,#f1f1ff 458px,#c0c0ff 480px,#cacaff 502px,#c7c7ff 524px,#b7b7ff 546px,#b1b1ff 567px,#b3b3ff 589px,#adadff 611px,#9d9dff 633px,#9a9aff 655px,#a6a6ff 676px,#b9b9ff 698px,#d2d2ff 720px,#eef 742px,#fff4f4 763px,#ffe7e7 785px,#ffebeb 807px,#ffecec 829px,#ffeaea 851px,#ffeded 872px,#fff4f4 894px,#ffc3c3 916px,#ff5c5c 938px,#f77 959px,#e9e9ff 981px,#a7a7ff 1003px,#c2c2ff 1025px,#ceceff 1047px,#cdcdff 1068px,#cdcdff 1090px,#d0d0ff 1112px,#c1c1ff 1134px,#a0a0ff 1155px,#9d9dff 1177px,#b6b6ff 1199px,#d8d8ff 1221px,#fffcfc 1243px,#ffe7e7 1264px,#ffe8e8 1286px,#fff8f8 1308px,#e5e5ff 1330px,#e6e6ff 1351px,#fff7f7 1373px,#ffeaea 1395px,#fff1f1 1417px,#ffd2d2 1439px,#ff8b8b 1460px,#ff9e9e 1482px,#f3f3ff 1504px,#c0c0ff 1526px,#c8c8ff 1547px,#ccf 1569px,#ceceff 1591px,#c7c7ff 1613px,#b9b9ff 1635px,#aaf 1656px,#9a9aff 1678px,#9e9eff 1700px,#b4b4ff 1722px,#e5e5ff 1744px,#ffcfcf 1765px,#ffbaba 1787px,#ffdbdb 1809px,#fffbfb 1831px,#e5e5ff 1852px,#e6e6ff 1874px,#fff8f8 1896px,#ffebeb 1918px,#fff3f3 1940px,#ffcbcb 1961px,#ff7272 1983px,#ff8d8d 2005px,#e4e4ff 2027px,#a2a2ff 2048px,#adadff 2070px,#b2b2ff 2092px,#b2b2ff 2114px)"></div><div style="top:184px;background:linear-gradient(90deg,#cacaff 1px,#cacaff 23px,#c4c4ff 45px,#b5b5ff 66px,#adadff 88px,#aeaeff 110px,#bcbcff 132px,#d7d7ff 154px,#e3e3ff 175px,#ddf 197px,#e5e5ff 219px,#fcfcff 241px,#fff6f6 262px,#fff2f2 284px,#ffeaea 306px,#ffdcdc 328px,#ffd0d0 350px,#ffc6c6 371px,#ffaeae 393px,#f88 415px,#ffa8a8 437px,#efefff 458px,#c1c1ff 480px,#c9c9ff 502px,#c6c6ff 524px,#b5b5ff 546px,#afafff 567px,#b3b3ff 589px,#acacff 611px,#9d9dff 633px,#9898ff 655px,#a0a0ff 676px,#b0b0ff 698px,#c8c8ff 720px,#e4e4ff 742px,#fffafa 763px,#fff0f0 785px,#fffbfb 807px,#fffbfb 829px,#fff2f2 851px,#fff1f1 872px,#fff8f8 894px,#ffc8c8 916px,#ff6060 938px,#ff7979 959px,#ececff 981px,#acacff 1003px,#c4c4ff 1025px,#cfcfff 1047px,#cdcdff 1068px,#cdcdff 1090px,#d0d0ff 1112px,#c1c1ff 1134px,#a1a1ff 1155px,#99f 1177px,#ababff 1199px,#c7c7ff 1221px,#ececff 1243px,#fffefe 1264px,#fffcfc 1286px,#f5f5ff 1308px,#d8d8ff 1330px,#dcdcff 1351px,#fff 1373px,#fff1f1 1395px,#fffafa 1417px,#ffdada 1439px,#ff9292 1460px,#ffa2a2 1482px,#f3f3ff 1504px,#c1c1ff 1526px,#c5c5ff 1547px,#c9c9ff 1569px,#cdcdff 1591px,#c7c7ff 1613px,#b7b7ff 1635px,#a8a8ff 1656px,#9a9aff 1678px,#9b9bff 1700px,#acacff 1722px,#d4d4ff 1744px,#ffe8e8 1765px,#ffd5d5 1787px,#fff0f0 1809px,#f4f4ff 1831px,#dadaff 1852px,#dbdbff 1874px,#f6f6ff 1896px,#fffdfd 1918px,#fbfbff 1940px,#ffd9d9 1961px,#ff7f7f 1983px,#ff9595 2005px,#e2e2ff 2027px,#a3a3ff 2048px,#adadff 2070px,#b2b2ff 2092px,#b2b2ff 2114px)"></div><div style="top:192px;background:linear-gradient(90deg,#c9c9ff 1px,#c9c9ff 23px,#c4c4ff 45px,#b4b4ff 66px,#adadff 88px,#adadff 110px,#bbf 132px,#d8d8ff 154px,#e4e4ff 175px,#dfdfff 197px,#e3e3ff 219px,#f1f1ff 241px,#fff 262px,#fff2f2 284px,#ffe7e7 306px,#ffdede 328px,#ffd6d6 350px,#ffd0d0 371px,#ffb9b9 393px,#ff9292 415px,#ffafaf 437px,#eef 458px,#c1c1ff 480px,#c9c9ff 502px,#c5c5ff 524px,#b5b5ff 546px,#aeaeff 567px,#b2b2ff 589px,#acacff 611px,#9c9cff 633px,#9898ff 655px,#a0a0ff 676px,#b0b0ff 698px,#c9c9ff 720px,#e6e6ff 742px,#fff7f7 763px,#fff0f0 785px,#fafaff 807px,#f9f9ff 829px,#fff3f3 851px,#fee 872px,#fff5f5 894px,#ffc7c7 916px,#ff6363 938px,#ff7b7b 959px,#f2f2ff 981px,#b2b2ff 1003px,#c6c6ff 1025px,#ceceff 1047px,#cdcdff 1068px,#cdcdff 1090px,#d0d0ff 1112px,#c1c1ff 1134px,#a0a0ff 1155px,#9898ff 1177px,#a7a7ff 1199px,#bebeff 1221px,#dcdcff 1243px,#efefff 1264px,#f4f4ff 1286px,#ededff 1308px,#d7d7ff 1330px,#dfdfff 1351px,#fffbfb 1373px,#fee 1395px,#fff8f8 1417px,#ffdada 1439px,#ff9393 1460px,#ffa3a3 1482px,#f3f3ff 1504px,#bfbfff 1526px,#bebeff 1547px,#c2c2ff 1569px,#cbcbff 1591px,#c8c8ff 1613px,#b7b7ff 1635px,#a8a8ff 1656px,#9a9aff 1678px,#9a9aff 1700px,#a8a8ff 1722px,#c8c8ff 1744px,#fbfbff 1765px,#fff2f2 1787px,#fdfdff 1809px,#ededff 1831px,#dadaff 1852px,#dadaff 1874px,#eef 1896px,#f5f5ff 1918px,#efefff 1940px,#ffe6e6 1961px,#ff8e8e 1983px,#ffa1a1 2005px,#dfdfff 2027px,#a4a4ff 2048px,#aeaeff 2070px,#b2b2ff 2092px,#b2b2ff 2114px)"></div><div style="top:200px;background:linear-gradient(90deg,#c9c9ff 1px,#c9c9ff 23px,#c4c4ff 45px,#b5b5ff 66px,#adadff 88px,#acacff 110px,#bbf 132px,#dadaff 154px,#e7e7ff 175px,#e3e3ff 197px,#e4e4ff 219px,#eaeaff 241px,#f8f8ff 262px,#fff0f0 284px,#ffe3e3 306px,#ffdfdf 328px,#ffdcdc 350px,#ffdada 371px,#ffc5c5 393px,#ff9e9e 415px,#ffb8b8 437px,#ececff 458px,#c2c2ff 480px,#c9c9ff 502px,#c5c5ff 524px,#b5b5ff 546px,#afafff 567px,#b2b2ff 589px,#ababff 611px,#9b9bff 633px,#9898ff 655px,#a3a3ff 676px,#b5b5ff 698px,#d0d0ff 720px,#ededff 742px,#fff0f0 763px,#ffeded 785px,#f4f4ff 807px,#f3f3ff 829px,#fff1f1 851px,#ffe7e7 872px,#ffefef 894px,#ffc5c5 916px,#ff6767 938px,#ff7d7d 959px,#f6f6ff 981px,#b8b8ff 1003px,#c6c6ff 1025px,#cdcdff 1047px,#ccf 1068px,#cdcdff 1090px,#d0d0ff 1112px,#c1c1ff 1134px,#a0a0ff 1155px,#9898ff 1177px,#a7a7ff 1199px,#bbf 1221px,#d1d1ff 1243px,#e2e2ff 1264px,#ebebff 1286px,#e9e9ff 1308px,#dcdcff 1330px,#e7e7ff 1351px,#fff3f3 1373px,#ffe6e6 1395px,#fff1f1 1417px,#ffd5d5 1439px,#ff9393 1460px,#ffa5a5 1482px,#f2f2ff 1504px,#bdbdff 1526px,#b8b8ff 1547px,#bcbcff 1569px,#cacaff 1591px,#c8c8ff 1613px,#b8b8ff 1635px,#a8a8ff 1656px,#9a9aff 1678px,#9a9aff 1700px,#a8a8ff 1722px,#c0c0ff 1744px,#e2e2ff 1765px,#f1f1ff 1787px,#f0f0ff 1809px,#eaeaff 1831px,#e0e0ff 1852px,#dfdfff 1874px,#eaeaff 1896px,#ececff 1918px,#e7e7ff 1940px,#fff1f1 1961px,#ffa0a0 1983px,#ffb1b1 2005px,#dbdbff 2027px,#a6a6ff 2048px,#aeaeff 2070px,#b2b2ff 2092px,#b2b2ff 2114px)"></div><div style="top:208px;background:linear-gradient(90deg,#cbcbff 1px,#cbcbff 23px,#c5c5ff 45px,#b6b6ff 66px,#aeaeff 88px,#adadff 110px,#bcbcff 132px,#dcdcff 154px,#eaeaff 175px,#e6e6ff 197px,#e4e4ff 219px,#e4e4ff 241px,#f3f3ff 262px,#fee 284px,#ffe0e0 306px,#ffe1e1 328px,#ffe2e2 350px,#ffe3e3 371px,#ffd1d1 393px,#ffabab 415px,#ffc2c2 437px,#e9e9ff 458px,#c3c3ff 480px,#cacaff 502px,#c6c6ff 524px,#b6b6ff 546px,#b0b0ff 567px,#b2b2ff 589px,#acacff 611px,#9b9bff 633px,#9a9aff 655px,#a7a7ff 676px,#bbf 698px,#d6d6ff 720px,#f4f4ff 742px,#ffeaea 763px,#ffecec 785px,#f0f0ff 807px,#efefff 829px,#ffefef 851px,#ffe4e4 872px,#ffecec 894px,#ffc4c4 916px,#ff6c6c 938px,#ff8282 959px,#f9f9ff 981px,#bdbdff 1003px,#c7c7ff 1025px,#ccf 1047px,#ccf 1068px,#cdcdff 1090px,#d0d0ff 1112px,#c1c1ff 1134px,#a1a1ff 1155px,#99f 1177px,#a9a9ff 1199px,#babaff 1221px,#cacaff 1243px,#d8d8ff 1264px,#e5e5ff 1286px,#e8e8ff 1308px,#e1e1ff 1330px,#efefff 1351px,#fee 1373px,#ffe2e2 1395px,#ffebeb 1417px,#ffd2d2 1439px,#ff9898 1460px,#ffacac 1482px,#f0f0ff 1504px,#bbf 1526px,#b3b3ff 1547px,#b7b7ff 1569px,#c8c8ff 1591px,#c9c9ff 1613px,#b9b9ff 1635px,#aaf 1656px,#9a9aff 1678px,#9b9bff 1700px,#aaf 1722px,#bbf 1744px,#ceceff 1765px,#dcdcff 1787px,#e6e6ff 1809px,#e9e9ff 1831px,#e5e5ff 1852px,#e5e5ff 1874px,#e7e7ff 1896px,#e6e6ff 1918px,#e1e1ff 1940px,#fffbfb 1961px,#ffb2b2 1983px,#ffc1c1 2005px,#d6d6ff 2027px,#a7a7ff 2048px,#afafff 2070px,#b2b2ff 2092px,#b2b2ff 2114px)"></div><div style="top:216px;background:linear-gradient(90deg,#cdcdff 1px,#cdcdff 23px,#c8c8ff 45px,#b9b9ff 66px,#b1b1ff 88px,#b0b0ff 110px,#bebeff 132px,#dadaff 154px,#e8e8ff 175px,#e6e6ff 197px,#e4e4ff 219px,#e1e1ff 241px,#eef 262px,#fff3f3 284px,#ffe5e5 306px,#ffe8e8 328px,#ffebeb 350px,#ffeded 371px,#ffdede 393px,#fbb 415px,#ffcfcf 437px,#e5e5ff 458px,#c4c4ff 480px,#ccf 502px,#c8c8ff 524px,#b9b9ff 546px,#b3b3ff 567px,#b5b5ff 589px,#aeaeff 611px,#9e9eff 633px,#9c9cff 655px,#ababff 676px,#bfbfff 698px,#d9d9ff 720px,#f4f4ff 742px,#ffeded 763px,#fff0f0 785px,#ebebff 807px,#eaeaff 829px,#fff4f4 851px,#ffe8e8 872px,#fff0f0 894px,#ffcaca 916px,#ff7676 938px,#ff8a8a 959px,#f7f7ff 981px,#bebeff 1003px,#c7c7ff 1025px,#ccf 1047px,#ccf 1068px,#cdcdff 1090px,#cfcfff 1112px,#c1c1ff 1134px,#a3a3ff 1155px,#9b9bff 1177px,#ababff 1199px,#b9b9ff 1221px,#c3c3ff 1243px,#d0d0ff 1264px,#dfdfff 1286px,#e5e5ff 1308px,#e2e2ff 1330px,#efefff 1351px,#fff3f3 1373px,#ffe7e7 1395px,#ffeaea 1417px,#ffd4d4 1439px,#ffa4a4 1460px,#ffb9b9 1482px,#ededff 1504px,#bcbcff 1526px,#b3b3ff 1547px,#b7b7ff 1569px,#c8c8ff 1591px,#c9c9ff 1613px,#bbf 1635px,#acacff 1656px,#9d9dff 1678px,#9d9dff 1700px,#acacff 1722px,#b8b8ff 1744px,#c2c2ff 1765px,#ceceff 1787px,#dedeff 1809px,#e6e6ff 1831px,#e6e6ff 1852px,#e5e5ff 1874px,#e4e4ff 1896px,#e1e1ff 1918px,#ddf 1940px,#fafaff 1961px,#ffc4c4 1983px,#ffd1d1 2005px,#d2d2ff 2027px,#a8a8ff 2048px,#afafff 2070px,#b2b2ff 2092px,#b2b2ff 2114px)"></div><div style="top:224px;background:linear-gradient(90deg,#d2d2ff 1px,#d2d2ff 23px,#cdcdff 45px,#bdbdff 66px,#b5b5ff 88px,#b5b5ff 110px,#c0c0ff 132px,#d7d7ff 154px,#e3e3ff 175px,#e5e5ff 197px,#e4e4ff 219px,#e0e0ff 241px,#eaeaff 262px,#fffcfc 284px,#fff1f1 306px,#fff3f3 328px,#fff5f5 350px,#fff8f8 371px,#ffecec 393px,#ffd2d2 415px,#ffe2e2 437px,#dfdfff 458px,#c6c6ff 480px,#d0d0ff 502px,#cdcdff 524px,#bebeff 546px,#b7b7ff 567px,#b9b9ff 589px,#b2b2ff 611px,#a2a2ff 633px,#a1a1ff 655px,#afafff 676px,#c2c2ff 698px,#dadaff 720px,#f1f1ff 742px,#fff6f6 763px,#fff9f9 785px,#e8e8ff 807px,#e7e7ff 829px,#fffcfc 851px,#fff2f2 872px,#fffafa 894px,#ffd5d5 916px,#ff8383 938px,#ff9696 959px,#f0f0ff 981px,#babaff 1003px,#c6c6ff 1025px,#ccf 1047px,#cbcbff 1068px,#ccf 1090px,#cfcfff 1112px,#c2c2ff 1134px,#a6a6ff 1155px,#a0a0ff 1177px,#b0b0ff 1199px,#bbf 1221px,#c1c1ff 1243px,#ccf 1264px,#dcdcff 1286px,#e4e4ff 1308px,#e3e3ff 1330px,#ececff 1351px,#fdfdff 1373px,#fff4f4 1395px,#ffecec 1417px,#ffd9d9 1439px,#ffbaba 1460px,#ffcfcf 1482px,#e7e7ff 1504px,#bfbfff 1526px,#b7b7ff 1547px,#babaff 1569px,#c9c9ff 1591px,#cacaff 1613px,#bfbfff 1635px,#b2b2ff 1656px,#a2a2ff 1678px,#a1a1ff 1700px,#b1b1ff 1722px,#babaff 1744px,#bebeff 1765px,#c9c9ff 1787px,#dbdbff 1809px,#e5e5ff 1831px,#e6e6ff 1852px,#e5e5ff 1874px,#e3e3ff 1896px,#dfdfff 1918px,#dbdbff 1940px,#f3f3ff 1961px,#ffd8d8 1983px,#ffe5e5 2005px,#ccf 2027px,#a9a9ff 2048px,#afafff 2070px,#b2b2ff 2092px,#b2b2ff 2114px)"></div><div style="top:232px;background:linear-gradient(90deg,#d9d9ff 1px,#d9d9ff 23px,#d3d3ff 45px,#c3c3ff 66px,#bbf 88px,#bbf 110px,#c3c3ff 132px,#d2d2ff 154px,#ddf 175px,#e4e4ff 197px,#e5e5ff 219px,#e1e1ff 241px,#e7e7ff 262px,#f7f7ff 284px,#fefeff 306px,#fefeff 328px,#fdfdff 350px,#fbfbff 371px,#fffcfc 393px,#ffebeb 415px,#fff9f9 437px,#d9d9ff 458px,#c9c9ff 480px,#d6d6ff 502px,#d4d4ff 524px,#c3c3ff 546px,#bcbcff 567px,#bfbfff 589px,#b8b8ff 611px,#a7a7ff 633px,#a6a6ff 655px,#b5b5ff 676px,#c7c7ff 698px,#dcdcff 720px,#eef 742px,#fdfdff 763px,#fafaff 785px,#e7e7ff 807px,#e6e6ff 829px,#f9f9ff 851px,#fefeff 872px,#f8f8ff 894px,#ffe2e2 916px,#ff9393 938px,#ffa4a4 959px,#e7e7ff 981px,#b5b5ff 1003px,#c4c4ff 1025px,#cbcbff 1047px,#cbcbff 1068px,#ccf 1090px,#ceceff 1112px,#c3c3ff 1134px,#aaf 1155px,#a6a6ff 1177px,#b7b7ff 1199px,#c0c0ff 1221px,#c3c3ff 1243px,#ccf 1264px,#dcdcff 1286px,#e5e5ff 1308px,#e5e5ff 1330px,#e7e7ff 1351px,#ececff 1373px,#fafaff 1395px,#fee 1417px,#ffdede 1439px,#ffd5d5 1460px,#ffebeb 1482px,#dfdfff 1504px,#c3c3ff 1526px,#bdbdff 1547px,#c0c0ff 1569px,#cacaff 1591px,#cbcbff 1613px,#c4c4ff 1635px,#b8b8ff 1656px,#a7a7ff 1678px,#a7a7ff 1700px,#b7b7ff 1722px,#c0c0ff 1744px,#c0c0ff 1765px,#c9c9ff 1787px,#dcdcff 1809px,#e5e5ff 1831px,#e6e6ff 1852px,#e5e5ff 1874px,#e3e3ff 1896px,#e0e0ff 1918px,#dcdcff 1940px,#ececff 1961px,#fee 1983px,#fffafa 2005px,#c6c6ff 2027px,#aaf 2048px,#b0b0ff 2070px,#b2b2ff 2092px,#b2b2ff 2114px)"></div><div style="top:240px;background:linear-gradient(90deg,#dfdfff 1px,#dfdfff 23px,#d9d9ff 45px,#c9c9ff 66px,#c1c1ff 88px,#c2c2ff 110px,#c6c6ff 132px,#ceceff 154px,#d7d7ff 175px,#e2e2ff 197px,#e6e6ff 219px,#e4e4ff 241px,#e6e6ff 262px,#ececff 284px,#f0f0ff 306px,#f1f1ff 328px,#f2f2ff 350px,#f1f1ff 371px,#f4f4ff 393px,#fcfcff 415px,#f1f1ff 437px,#d3d3ff 458px,#ccf 480px,#dcdcff 502px,#dbdbff 524px,#cacaff 546px,#c2c2ff 567px,#c5c5ff 589px,#bebeff 611px,#adadff 633px,#adadff 655px,#bbf 676px,#ccf 698px,#dedeff 720px,#ebebff 742px,#f2f2ff 763px,#f0f0ff 785px,#e6e6ff 807px,#e6e6ff 829px,#efefff 851px,#f1f1ff 872px,#ebebff 894px,#fff0f0 916px,#ffa3a3 938px,#ffb4b4 959px,#ddf 981px,#afafff 1003px,#c2c2ff 1025px,#cbcbff 1047px,#cacaff 1068px,#cbcbff 1090px,#ceceff 1112px,#c5c5ff 1134px,#afafff 1155px,#adadff 1177px,#bebeff 1199px,#c6c6ff 1221px,#c6c6ff 1243px,#ceceff 1264px,#dedeff 1286px,#e6e6ff 1308px,#e6e6ff 1330px,#e3e3ff 1351px,#dbdbff 1373px,#eaeaff 1395px,#fff0f0 1417px,#ffe4e4 1439px,#ffefef 1460px,#f9f9ff 1482px,#d8d8ff 1504px,#c6c6ff 1526px,#c4c4ff 1547px,#c6c6ff 1569px,#cbcbff 1591px,#ccf 1613px,#c9c9ff 1635px,#bfbfff 1656px,#aeaeff 1678px,#aeaeff 1700px,#bfbfff 1722px,#c6c6ff 1744px,#c4c4ff 1765px,#ccf 1787px,#dedeff 1809px,#e6e6ff 1831px,#e6e6ff 1852px,#e5e5ff 1874px,#e5e5ff 1896px,#e2e2ff 1918px,#dfdfff 1940px,#e8e8ff 1961px,#fdfdff 1983px,#f0f0ff 2005px,#c1c1ff 2027px,#acacff 2048px,#b0b0ff 2070px,#b2b2ff 2092px,#b2b2ff 2114px)"></div><div style="top:248px;background:linear-gradient(90deg,#e4e4ff 1px,#e4e4ff 23px,#dfdfff 45px,#cfcfff 66px,#c8c8ff 88px,#c9c9ff 110px,#cacaff 132px,#cbcbff 154px,#d3d3ff 175px,#e1e1ff 197px,#e7e7ff 219px,#e6e6ff 241px,#e5e5ff 262px,#e6e6ff 284px,#e7e7ff 306px,#e8e8ff 328px,#e8e8ff 350px,#e8e8ff 371px,#e9e9ff 393px,#ebebff 415px,#e3e3ff 437px,#cfcfff 458px,#cfcfff 480px,#e0e0ff 502px,#e0e0ff 524px,#cfcfff 546px,#c8c8ff 567px,#cbcbff 589px,#c4c4ff 611px,#b3b3ff 633px,#b3b3ff 655px,#c2c2ff 676px,#d1d1ff 698px,#e0e0ff 720px,#e8e8ff 742px,#e9e9ff 763px,#e8e8ff 785px,#e6e6ff 807px,#e6e6ff 829px,#e8e8ff 851px,#e6e6ff 872px,#e1e1ff 894px,#fffcfc 916px,#ffb5b5 938px,#ffc4c4 959px,#d5d5ff 981px,#adadff 1003px,#c2c2ff 1025px,#cdcdff 1047px,#ccf 1068px,#ccf 1090px,#ceceff 1112px,#c6c6ff 1134px,#b4b4ff 1155px,#b3b3ff 1177px,#c4c4ff 1199px,#ccf 1221px,#c9c9ff 1243px,#d0d0ff 1264px,#e0e0ff 1286px,#e8e8ff 1308px,#e8e8ff 1330px,#dfdfff 1351px,#cfcfff 1373px,#dedeff 1395px,#fff2f2 1417px,#ffe8e8 1439px,#fafaff 1460px,#e3e3ff 1482px,#d2d2ff 1504px,#c9c9ff 1526px,#cacaff 1547px,#cbcbff 1569px,#ccf 1591px,#ccf 1613px,#cdcdff 1635px,#c4c4ff 1656px,#b4b4ff 1678px,#b4b4ff 1700px,#c4c4ff 1722px,#ccf 1744px,#c9c9ff 1765px,#d0d0ff 1787px,#e0e0ff 1809px,#e7e7ff 1831px,#e6e6ff 1852px,#e6e6ff 1874px,#e5e5ff 1896px,#e5e5ff 1918px,#e3e3ff 1940px,#e6e6ff 1961px,#eef 1983px,#e0e0ff 2005px,#bdbdff 2027px,#aeaeff 2048px,#b1b1ff 2070px,#b2b2ff 2092px,#b2b2ff 2114px)"></div><div style="top:256px;background:linear-gradient(90deg,#e7e7ff 1px,#e7e7ff 23px,#e2e2ff 45px,#d4d4ff 66px,#cdcdff 88px,#cfcfff 110px,#cdcdff 132px,#cacaff 154px,#d0d0ff 175px,#e0e0ff 197px,#e7e7ff 219px,#e6e6ff 241px,#e6e6ff 262px,#e7e7ff 284px,#e7e7ff 306px,#e4e4ff 328px,#e3e3ff 350px,#e3e3ff 371px,#e4e4ff 393px,#e6e6ff 415px,#e0e0ff 437px,#d1d1ff 458px,#d2d2ff 480px,#e3e3ff 502px,#e4e4ff 524px,#d4d4ff 546px,#ceceff 567px,#d0d0ff 589px,#c9c9ff 611px,#b9b9ff 633px,#b8b8ff 655px,#c8c8ff 676px,#d5d5ff 698px,#e2e2ff 720px,#e7e7ff 742px,#e4e4ff 763px,#e4e4ff 785px,#e5e5ff 807px,#e5e5ff 829px,#e4e4ff 851px,#e1e1ff 872px,#dcdcff 894px,#f9f9ff 916px,#ffc6c6 938px,#ffd4d4 959px,#d0d0ff 981px,#afafff 1003px,#c5c5ff 1025px,#d0d0ff 1047px,#cfcfff 1068px,#ceceff 1090px,#ceceff 1112px,#c7c7ff 1134px,#b8b8ff 1155px,#b9b9ff 1177px,#c8c8ff 1199px,#ceceff 1221px,#cdcdff 1243px,#d3d3ff 1264px,#e1e1ff 1286px,#e8e8ff 1308px,#e8e8ff 1330px,#dedeff 1351px,#cacaff 1373px,#dadaff 1395px,#fff2f2 1417px,#ffebeb 1439px,#efefff 1460px,#d8d8ff 1482px,#cfcfff 1504px,#cbcbff 1526px,#cdcdff 1547px,#cdcdff 1569px,#ccf 1591px,#cdcdff 1613px,#ceceff 1635px,#c8c8ff 1656px,#b8b8ff 1678px,#b8b8ff 1700px,#c8c8ff 1722px,#ceceff 1744px,#cdcdff 1765px,#d3d3ff 1787px,#e1e1ff 1809px,#e7e7ff 1831px,#e6e6ff 1852px,#e5e5ff 1874px,#e5e5ff 1896px,#e7e7ff 1918px,#e9e9ff 1940px,#e9e9ff 1961px,#e6e6ff 1983px,#d7d7ff 2005px,#bdbdff 2027px,#b1b1ff 2048px,#b2b2ff 2070px,#b2b2ff 2092px,#b2b2ff 2114px)"></div><div style="top:264px;background:linear-gradient(90deg,#e7e7ff 1px,#e7e7ff 23px,#e4e4ff 45px,#d9d9ff 66px,#d4d4ff 88px,#d5d5ff 110px,#d2d2ff 132px,#cacaff 154px,#ceceff 175px,#e0e0ff 197px,#e7e7ff 219px,#e4e4ff 241px,#e7e7ff 262px,#f0f0ff 284px,#efefff 306px,#e5e5ff 328px,#e0e0ff 350px,#e1e1ff 371px,#e4e4ff 393px,#ececff 415px,#e7e7ff 437px,#d7d7ff 458px,#d6d6ff 480px,#e4e4ff 502px,#e5e5ff 524px,#d9d9ff 546px,#d4d4ff 567px,#d6d6ff 589px,#cfcfff 611px,#bebeff 633px,#bebeff 655px,#ceceff 676px,#dadaff 698px,#e3e3ff 720px,#e6e6ff 742px,#e3e3ff 763px,#e2e2ff 785px,#e5e5ff 807px,#e5e5ff 829px,#e3e3ff 851px,#dfdfff 872px,#dbdbff 894px,#f2f2ff 916px,#ffdbdb 938px,#ffe7e7 959px,#ceceff 981px,#b4b4ff 1003px,#cbcbff 1025px,#d5d5ff 1047px,#d4d4ff 1068px,#d2d2ff 1090px,#ceceff 1112px,#c7c7ff 1134px,#bdbdff 1155px,#bebeff 1177px,#c9c9ff 1199px,#cfcfff 1221px,#d1d1ff 1243px,#d7d7ff 1264px,#e2e2ff 1286px,#e7e7ff 1308px,#e8e8ff 1330px,#dfdfff 1351px,#cdcdff 1373px,#dcdcff 1395px,#fff1f1 1417px,#ffecec 1439px,#ebebff 1460px,#d5d5ff 1482px,#ceceff 1504px,#cbcbff 1526px,#cdcdff 1547px,#ceceff 1569px,#ccf 1591px,#cdcdff 1613px,#ceceff 1635px,#c9c9ff 1656px,#bdbdff 1678px,#bdbdff 1700px,#c9c9ff 1722px,#d0d0ff 1744px,#d1d1ff 1765px,#d7d7ff 1787px,#e2e2ff 1809px,#e7e7ff 1831px,#e6e6ff 1852px,#e5e5ff 1874px,#e4e4ff 1896px,#e9e9ff 1918px,#f4f4ff 1940px,#f3f3ff 1961px,#e6e6ff 1983px,#d5d5ff 2005px,#c1c1ff 2027px,#b5b5ff 2048px,#b2b2ff 2070px,#b2b2ff 2092px,#b2b2ff 2114px)"></div><div style="top:272px;background:linear-gradient(90deg,#e7e7ff 1px,#e7e7ff 23px,#e5e5ff 45px,#ddf 66px,#dbdbff 88px,#dcdcff 110px,#d7d7ff 132px,#cacaff 154px,#cdcdff 175px,#dfdfff 197px,#e6e6ff 219px,#e1e1ff 241px,#e9e9ff 262px,#fdfdff 284px,#fdfdff 306px,#e9e9ff 328px,#e0e0ff 350px,#e0e0ff 371px,#e8e8ff 393px,#f8f8ff 415px,#f5f5ff 437px,#e0e0ff 458px,#dadaff 480px,#e4e4ff 502px,#e6e6ff 524px,#dedeff 546px,#dbdbff 567px,#ddf 589px,#d5d5ff 611px,#c3c3ff 633px,#c3c3ff 655px,#d4d4ff 676px,#dfdfff 698px,#e4e4ff 720px,#e6e6ff 742px,#e3e3ff 763px,#e3e3ff 785px,#e5e5ff 807px,#e5e5ff 829px,#e3e3ff 851px,#e0e0ff 872px,#dcdcff 894px,#ebebff 916px,#fff1f1 938px,#fffbfb 959px,#cdcdff 981px,#bdbdff 1003px,#d2d2ff 1025px,#dcdcff 1047px,#dbdbff 1068px,#d7d7ff 1090px,#ceceff 1112px,#c7c7ff 1134px,#c2c2ff 1155px,#c3c3ff 1177px,#c9c9ff 1199px,#cfcfff 1221px,#d6d6ff 1243px,#ddf 1264px,#e3e3ff 1286px,#e7e7ff 1308px,#e7e7ff 1330px,#e1e1ff 1351px,#d4d4ff 1373px,#e3e3ff 1395px,#fff0f0 1417px,#ffecec 1439px,#ededff 1460px,#d6d6ff 1482px,#ceceff 1504px,#cbcbff 1526px,#cdcdff 1547px,#cdcdff 1569px,#ccf 1591px,#ccf 1613px,#cdcdff 1635px,#c9c9ff 1656px,#c1c1ff 1678px,#c1c1ff 1700px,#cacaff 1722px,#d1d1ff 1744px,#d6d6ff 1765px,#ddf 1787px,#e3e3ff 1809px,#e6e6ff 1831px,#e6e6ff 1852px,#e5e5ff 1874px,#e3e3ff 1896px,#ececff 1918px,#fffefe 1940px,#fff 1961px,#eaeaff 1983px,#d7d7ff 2005px,#c7c7ff 2027px,#bbf 2048px,#b3b3ff 2070px,#b1b1ff 2092px,#b1b1ff 2114px)"></div><div style="top:280px;background:linear-gradient(90deg,#e6e6ff 1px,#e6e6ff 23px,#e5e5ff 45px,#e2e2ff 66px,#e1e1ff 88px,#e2e2ff 110px,#dbdbff 132px,#ccf 154px,#ceceff 175px,#e0e0ff 197px,#e6e6ff 219px,#e0e0ff 241px,#ececff 262px,#fff5f5 284px,#fff4f4 306px,#eef 328px,#e0e0ff 350px,#e0e0ff 371px,#ededff 393px,#fff9f9 415px,#fffafa 437px,#e9e9ff 458px,#dedeff 480px,#e4e4ff 502px,#e5e5ff 524px,#e2e2ff 546px,#e1e1ff 567px,#e2e2ff 589px,#dadaff 611px,#c9c9ff 633px,#c9c9ff 655px,#dadaff 676px,#e3e3ff 698px,#e5e5ff 720px,#e6e6ff 742px,#e4e4ff 763px,#e4e4ff 785px,#e5e5ff 807px,#e5e5ff 829px,#e5e5ff 851px,#e3e3ff 872px,#dfdfff 894px,#e7e7ff 916px,#f9f9ff 938px,#f1f1ff 959px,#cdcdff 981px,#c5c5ff 1003px,#d9d9ff 1025px,#e2e2ff 1047px,#e2e2ff 1068px,#dbdbff 1090px,#cfcfff 1112px,#c8c8ff 1134px,#c7c7ff 1155px,#c7c7ff 1177px,#c9c9ff 1199px,#cfcfff 1221px,#dbdbff 1243px,#e2e2ff 1264px,#e5e5ff 1286px,#e6e6ff 1308px,#e6e6ff 1330px,#e3e3ff 1351px,#dbdbff 1373px,#eaeaff 1395px,#fee 1417px,#ffecec 1439px,#f0f0ff 1460px,#dadaff 1482px,#cfcfff 1504px,#cbcbff 1526px,#ccf 1547px,#cdcdff 1569px,#ccf 1591px,#ccf 1613px,#cbcbff 1635px,#c9c9ff 1656px,#c6c6ff 1678px,#c6c6ff 1700px,#cacaff 1722px,#d1d1ff 1744px,#dcdcff 1765px,#e2e2ff 1787px,#e5e5ff 1809px,#e6e6ff 1831px,#e6e6ff 1852px,#e4e4ff 1874px,#e2e2ff 1896px,#efefff 1918px,#fff3f3 1940px,#fff3f3 1961px,#efefff 1983px,#dadaff 2005px,#ccf 2027px,#c0c0ff 2048px,#b4b4ff 2070px,#b1b1ff 2092px,#b1b1ff 2114px)"></div><div style="top:288px;background:linear-gradient(90deg,#e6e6ff 1px,#e6e6ff 23px,#e5e5ff 45px,#e5e5ff 66px,#e5e5ff 88px,#e6e6ff 110px,#dfdfff 132px,#ceceff 154px,#cfcfff 175px,#e0e0ff 197px,#e6e6ff 219px,#e1e1ff 241px,#f0f0ff 262px,#ffeded 284px,#ffeded 306px,#f1f1ff 328px,#e1e1ff 350px,#e1e1ff 371px,#f0f0ff 393px,#fee 415px,#fee 437px,#f0f0ff 458px,#e1e1ff 480px,#e4e4ff 502px,#e5e5ff 524px,#e5e5ff 546px,#e5e5ff 567px,#e6e6ff 589px,#dfdfff 611px,#ceceff 633px,#ceceff 655px,#dfdfff 676px,#e7e7ff 698px,#e6e6ff 720px,#e6e6ff 742px,#e5e5ff 763px,#e5e5ff 785px,#e5e5ff 807px,#e6e6ff 829px,#e6e6ff 851px,#e5e5ff 872px,#e4e4ff 894px,#e6e6ff 916px,#ebebff 938px,#e3e3ff 959px,#cfcfff 981px,#cdcdff 1003px,#dedeff 1025px,#e7e7ff 1047px,#e7e7ff 1068px,#dfdfff 1090px,#d0d0ff 1112px,#c9c9ff 1134px,#cacaff 1155px,#cacaff 1177px,#c9c9ff 1199px,#d0d0ff 1221px,#dfdfff 1243px,#e6e6ff 1264px,#e6e6ff 1286px,#e6e6ff 1308px,#e6e6ff 1330px,#e4e4ff 1351px,#e1e1ff 1373px,#f0f0ff 1395px,#ffeded 1417px,#ffecec 1439px,#f3f3ff 1460px,#dcdcff 1482px,#d0d0ff 1504px,#cacaff 1526px,#cbcbff 1547px,#ccf 1569px,#ccf 1591px,#ccf 1613px,#ccf 1635px,#cbcbff 1656px,#cacaff 1678px,#cacaff 1700px,#cacaff 1722px,#d1d1ff 1744px,#dfdfff 1765px,#e6e6ff 1787px,#e6e6ff 1809px,#e6e6ff 1831px,#e6e6ff 1852px,#e4e4ff 1874px,#e2e2ff 1896px,#f1f1ff 1918px,#ffeded 1940px,#ffecec 1961px,#f3f3ff 1983px,#ddf 2005px,#d1d1ff 2027px,#c4c4ff 2048px,#b6b6ff 2070px,#b2b2ff 2092px,#b2b2ff 2114px)"></div><div style="top:296px;background:linear-gradient(90deg,#e6e6ff 1px,#e6e6ff 23px,#e6e6ff 45px,#e7e7ff 66px,#e7e7ff 88px,#e9e9ff 110px,#e1e1ff 132px,#d2d2ff 154px,#d1d1ff 175px,#e0e0ff 197px,#e7e7ff 219px,#e7e7ff 241px,#f5f5ff 262px,#ffeded 284px,#ffefef 306px,#f0f0ff 328px,#e0e0ff 350px,#e0e0ff 371px,#f2f2ff 393px,#ffeaea 415px,#ffe9e9 437px,#f3f3ff 458px,#e3e3ff 480px,#e4e4ff 502px,#e5e5ff 524px,#e6e6ff 546px,#e7e7ff 567px,#e8e8ff 589px,#e2e2ff 611px,#d3d3ff 633px,#d3d3ff 655px,#e2e2ff 676px,#e8e8ff 698px,#e6e6ff 720px,#e5e5ff 742px,#e5e5ff 763px,#e6e6ff 785px,#e6e6ff 807px,#e5e5ff 829px,#e5e5ff 851px,#e6e6ff 872px,#eaeaff 894px,#e9e9ff 916px,#e4e4ff 938px,#dcdcff 959px,#d1d1ff 981px,#d3d3ff 1003px,#e2e2ff 1025px,#e9e9ff 1047px,#e9e9ff 1068px,#e2e2ff 1090px,#d3d3ff 1112px,#ccf 1134px,#cdcdff 1155px,#cdcdff 1177px,#ccf 1199px,#d3d3ff 1221px,#e2e2ff 1243px,#e8e8ff 1264px,#e6e6ff 1286px,#e5e5ff 1308px,#e5e5ff 1330px,#e5e5ff 1351px,#e3e3ff 1373px,#f2f2ff 1395px,#ffecec 1417px,#ffebeb 1439px,#f3f3ff 1460px,#ddf 1482px,#d0d0ff 1504px,#cacaff 1526px,#cbcbff 1547px,#ccf 1569px,#ccf 1591px,#ccf 1613px,#ceceff 1635px,#cfcfff 1656px,#d0d0ff 1678px,#ceceff 1700px,#cbcbff 1722px,#d1d1ff 1744px,#e1e1ff 1765px,#e8e8ff 1787px,#e6e6ff 1809px,#e5e5ff 1831px,#e5e5ff 1852px,#e4e4ff 1874px,#e2e2ff 1896px,#f1f1ff 1918px,#fee 1940px,#fee 1961px,#f2f2ff 1983px,#dedeff 2005px,#d3d3ff 2027px,#c7c7ff 2048px,#b9b9ff 2070px,#b5b5ff 2092px,#b5b5ff 2114px)"></div><div style="top:304px;background:linear-gradient(90deg,#e6e6ff 1px,#e6e6ff 23px,#e6e6ff 45px,#e7e7ff 66px,#e8e8ff 88px,#e9e9ff 110px,#e3e3ff 132px,#d7d7ff 154px,#d6d6ff 175px,#e0e0ff 197px,#e9e9ff 219px,#f1f1ff 241px,#fcfcff 262px,#fff3f3 284px,#fff8f8 306px,#ececff 328px,#e0e0ff 350px,#e0e0ff 371px,#f2f2ff 393px,#ffe7e7 415px,#ffe7e7 437px,#f4f4ff 458px,#e3e3ff 480px,#e3e3ff 502px,#e4e4ff 524px,#e7e7ff 546px,#e8e8ff 567px,#e9e9ff 589px,#e3e3ff 611px,#d8d8ff 633px,#d8d8ff 655px,#e4e4ff 676px,#e8e8ff 698px,#e6e6ff 720px,#e5e5ff 742px,#e5e5ff 763px,#e6e6ff 785px,#e6e6ff 807px,#e5e5ff 829px,#e3e3ff 851px,#e8e8ff 872px,#f3f3ff 894px,#f2f2ff 916px,#e4e4ff 938px,#dadaff 959px,#d6d6ff 981px,#d9d9ff 1003px,#e4e4ff 1025px,#e9e9ff 1047px,#e9e9ff 1068px,#e4e4ff 1090px,#d8d8ff 1112px,#d1d1ff 1134px,#ceceff 1155px,#ceceff 1177px,#d1d1ff 1199px,#d8d8ff 1221px,#e4e4ff 1243px,#e8e8ff 1264px,#e6e6ff 1286px,#e5e5ff 1308px,#e5e5ff 1330px,#e5e5ff 1351px,#e3e3ff 1373px,#f3f3ff 1395px,#ffeaea 1417px,#ffeaea 1439px,#f3f3ff 1460px,#ddf 1482px,#d0d0ff 1504px,#cacaff 1526px,#cbcbff 1547px,#cbcbff 1569px,#cbcbff 1591px,#ceceff 1613px,#d2d2ff 1635px,#d5d5ff 1656px,#d6d6ff 1678px,#d3d3ff 1700px,#ccf 1722px,#d1d1ff 1744px,#e2e2ff 1765px,#e9e9ff 1787px,#e7e7ff 1809px,#e5e5ff 1831px,#e5e5ff 1852px,#e5e5ff 1874px,#e3e3ff 1896px,#eef 1918px,#fff7f7 1940px,#fff6f6 1961px,#f0f0ff 1983px,#dedeff 2005px,#d3d3ff 2027px,#c8c8ff 2048px,#bebeff 2070px,#babaff 2092px,#babaff 2114px)"></div><div style="top:312px;background:linear-gradient(90deg,#e6e6ff 1px,#e6e6ff 23px,#e6e6ff 45px,#e7e7ff 66px,#e7e7ff 88px,#e8e8ff 110px,#e4e4ff 132px,#dcdcff 154px,#dbdbff 175px,#e1e1ff 197px,#ececff 219px,#fdfdff 241px,#fffafa 262px,#fffcfc 284px,#f9f9ff 306px,#e8e8ff 328px,#dfdfff 350px,#e0e0ff 371px,#f3f3ff 393px,#ffe7e7 415px,#ffe6e6 437px,#f4f4ff 458px,#e2e2ff 480px,#e1e1ff 502px,#e3e3ff 524px,#e6e6ff 546px,#e8e8ff 567px,#e8e8ff 589px,#e4e4ff 611px,#ddf 633px,#ddf 655px,#e4e4ff 676px,#e7e7ff 698px,#e6e6ff 720px,#e5e5ff 742px,#e5e5ff 763px,#e6e6ff 785px,#e6e6ff 807px,#e4e4ff 829px,#e0e0ff 851px,#e9e9ff 872px,#fefeff 894px,#fdfdff 916px,#e8e8ff 938px,#dcdcff 959px,#dbdbff 981px,#dedeff 1003px,#e5e5ff 1025px,#e8e8ff 1047px,#e8e8ff 1068px,#e5e5ff 1090px,#dedeff 1112px,#d6d6ff 1134px,#cfcfff 1155px,#cfcfff 1177px,#d6d6ff 1199px,#dedeff 1221px,#e5e5ff 1243px,#e8e8ff 1264px,#e6e6ff 1286px,#e5e5ff 1308px,#e5e5ff 1330px,#e5e5ff 1351px,#e3e3ff 1373px,#f3f3ff 1395px,#ffe9e9 1417px,#ffe9e9 1439px,#f4f4ff 1460px,#ddf 1482px,#d0d0ff 1504px,#cacaff 1526px,#cacaff 1547px,#cacaff 1569px,#cbcbff 1591px,#cfcfff 1613px,#d7d7ff 1635px,#dcdcff 1656px,#ddf 1678px,#d8d8ff 1700px,#cdcdff 1722px,#d0d0ff 1744px,#e1e1ff 1765px,#e9e9ff 1787px,#e6e6ff 1809px,#e5e5ff 1831px,#e5e5ff 1852px,#e5e5ff 1874px,#e4e4ff 1896px,#ebebff 1918px,#fbfbff 1940px,#fcfcff 1961px,#ededff 1983px,#dfdfff 2005px,#d3d3ff 2027px,#c9c9ff 2048px,#c3c3ff 2070px,#c1c1ff 2092px,#c1c1ff 2114px)"></div><div style="top:320px;background:linear-gradient(90deg,#e6e6ff 1px,#e6e6ff 23px,#e6e6ff 45px,#e6e6ff 66px,#e6e6ff 88px,#e7e7ff 110px,#e5e5ff 132px,#e1e1ff 154px,#e0e0ff 175px,#e1e1ff 197px,#efefff 219px,#fff6f6 241px,#fff2f2 262px,#f9f9ff 284px,#ececff 306px,#e4e4ff 328px,#e0e0ff 350px,#e1e1ff 371px,#f2f2ff 393px,#ffe8e8 415px,#ffe8e8 437px,#f3f3ff 458px,#e1e1ff 480px,#e1e1ff 502px,#e2e2ff 524px,#e5e5ff 546px,#e6e6ff 567px,#e7e7ff 589px,#e5e5ff 611px,#e2e2ff 633px,#e2e2ff 655px,#e5e5ff 676px,#e6e6ff 698px,#e6e6ff 720px,#e5e5ff 742px,#e5e5ff 763px,#e6e6ff 785px,#e6e6ff 807px,#e4e4ff 829px,#e0e0ff 851px,#ececff 872px,#fff6f6 894px,#fff5f5 916px,#ededff 938px,#e0e0ff 959px,#e0e0ff 981px,#e2e2ff 1003px,#e5e5ff 1025px,#e7e7ff 1047px,#e7e7ff 1068px,#e5e5ff 1090px,#e3e3ff 1112px,#dcdcff 1134px,#cfcfff 1155px,#cfcfff 1177px,#dcdcff 1199px,#e3e3ff 1221px,#e5e5ff 1243px,#e6e6ff 1264px,#e6e6ff 1286px,#e5e5ff 1308px,#e5e5ff 1330px,#e4e4ff 1351px,#e2e2ff 1373px,#f2f2ff 1395px,#ffe9e9 1417px,#ffe9e9 1439px,#f4f4ff 1460px,#ddf 1482px,#d0d0ff 1504px,#cacaff 1526px,#cacaff 1547px,#cacaff 1569px,#cacaff 1591px,#d0d0ff 1613px,#dcdcff 1635px,#e2e2ff 1656px,#e3e3ff 1678px,#dcdcff 1700px,#ceceff 1722px,#d0d0ff 1744px,#e0e0ff 1765px,#e8e8ff 1787px,#e6e6ff 1809px,#e5e5ff 1831px,#e5e5ff 1852px,#e5e5ff 1874px,#e5e5ff 1896px,#e8e8ff 1918px,#efefff 1940px,#f0f0ff 1961px,#eaeaff 1983px,#e0e0ff 2005px,#d2d2ff 2027px,#cacaff 2048px,#c7c7ff 2070px,#c7c7ff 2092px,#c7c7ff 2114px)"></div><div style="top:328px;background:linear-gradient(90deg,#e6e6ff 1px,#e6e6ff 23px,#e6e6ff 45px,#e6e6ff 66px,#e6e6ff 88px,#e6e6ff 110px,#e5e5ff 132px,#e5e5ff 154px,#e4e4ff 175px,#e2e2ff 197px,#f1f1ff 219px,#ffeded 241px,#ffeded 262px,#f2f2ff 284px,#e3e3ff 306px,#e4e4ff 328px,#e3e3ff 350px,#e2e2ff 371px,#f1f1ff 393px,#ffebeb 415px,#ffebeb 437px,#f1f1ff 458px,#e2e2ff 480px,#e3e3ff 502px,#e5e5ff 524px,#e5e5ff 546px,#e6e6ff 567px,#e6e6ff 589px,#e5e5ff 611px,#e5e5ff 633px,#e5e5ff 655px,#e5e5ff 676px,#e6e6ff 698px,#e6e6ff 720px,#e5e5ff 742px,#e5e5ff 763px,#e6e6ff 785px,#e6e6ff 807px,#e4e4ff 829px,#e1e1ff 851px,#f0f0ff 872px,#fee 894px,#ffeded 916px,#f1f1ff 938px,#e2e2ff 959px,#e4e4ff 981px,#e5e5ff 1003px,#e5e5ff 1025px,#e6e6ff 1047px,#e6e6ff 1068px,#e6e6ff 1090px,#e7e7ff 1112px,#dfdfff 1134px,#cfcfff 1155px,#cfcfff 1177px,#dfdfff 1199px,#e7e7ff 1221px,#e6e6ff 1243px,#e6e6ff 1264px,#e6e6ff 1286px,#e5e5ff 1308px,#e5e5ff 1330px,#e4e4ff 1351px,#e2e2ff 1373px,#f1f1ff 1395px,#ffebeb 1417px,#ffebeb 1439px,#f3f3ff 1460px,#ddf 1482px,#d0d0ff 1504px,#cacaff 1526px,#cbcbff 1547px,#cbcbff 1569px,#cacaff 1591px,#d1d1ff 1613px,#e0e0ff 1635px,#e7e7ff 1656px,#e7e7ff 1678px,#dfdfff 1700px,#cfcfff 1722px,#cfcfff 1744px,#e0e0ff 1765px,#e7e7ff 1787px,#e6e6ff 1809px,#e5e5ff 1831px,#e5e5ff 1852px,#e5e5ff 1874px,#e5e5ff 1896px,#e6e6ff 1918px,#e7e7ff 1940px,#e7e7ff 1961px,#e8e8ff 1983px,#e0e0ff 2005px,#d1d1ff 2027px,#cacaff 2048px,#cbcbff 2070px,#cbcbff 2092px,#cbcbff 2114px)"></div><div style="top:336px;background:linear-gradient(90deg,#e5e5ff 1px,#e5e5ff 23px,#e5e5ff 45px,#e5e5ff 66px,#e6e6ff 88px,#e5e5ff 110px,#e6e6ff 132px,#e7e7ff 154px,#e5e5ff 175px,#e2e2ff 197px,#f2f2ff 219px,#ffeaea 241px,#ffebeb 262px,#efefff 284px,#e1e1ff 306px,#e9e9ff 328px,#eaeaff 350px,#e3e3ff 371px,#efefff 393px,#fff2f2 415px,#fff2f2 437px,#efefff 458px,#e4e4ff 480px,#eaeaff 502px,#ebebff 524px,#e6e6ff 546px,#e5e5ff 567px,#e5e5ff 589px,#e6e6ff 611px,#e7e7ff 633px,#e7e7ff 655px,#e6e6ff 676px,#e5e5ff 698px,#e5e5ff 720px,#e6e6ff 742px,#e6e6ff 763px,#e5e5ff 785px,#e5e5ff 807px,#e6e6ff 829px,#e7e7ff 851px,#f8f8ff 872px,#ffe8e8 894px,#ffeaea 916px,#f1f1ff 938px,#e2e2ff 959px,#e5e5ff 981px,#e7e7ff 1003px,#e6e6ff 1025px,#e5e5ff 1047px,#e5e5ff 1068px,#e6e6ff 1090px,#e8e8ff 1112px,#e1e1ff 1134px,#cfcfff 1155px,#cfcfff 1177px,#e1e1ff 1199px,#e9e9ff 1221px,#e6e6ff 1243px,#e5e5ff 1264px,#e5e5ff 1286px,#e6e6ff 1308px,#e6e6ff 1330px,#e4e4ff 1351px,#e2e2ff 1373px,#f0f0ff 1395px,#fff1f1 1417px,#fff1f1 1439px,#f2f2ff 1460px,#ddf 1482px,#d0d0ff 1504px,#cbcbff 1526px,#ceceff 1547px,#ceceff 1569px,#cbcbff 1591px,#d1d1ff 1613px,#e1e1ff 1635px,#eaeaff 1656px,#e9e9ff 1678px,#e1e1ff 1700px,#d0d0ff 1722px,#cfcfff 1744px,#e0e0ff 1765px,#e7e7ff 1787px,#e6e6ff 1809px,#e5e5ff 1831px,#e5e5ff 1852px,#e6e6ff 1874px,#e6e6ff 1896px,#e5e5ff 1918px,#e2e2ff 1940px,#e3e3ff 1961px,#e7e7ff 1983px,#e1e1ff 2005px,#d1d1ff 2027px,#cbcbff 2048px,#cdcdff 2070px,#cdcdff 2092px,#cdcdff 2114px)"></div><div style="top:344px;background:linear-gradient(90deg,#e3e3ff 1px,#e3e3ff 23px,#e4e4ff 45px,#e5e5ff 66px,#e6e6ff 88px,#e5e5ff 110px,#e6e6ff 132px,#e7e7ff 154px,#e6e6ff 175px,#e2e2ff 197px,#f2f2ff 219px,#ffe9e9 241px,#ffeaea 262px,#ededff 284px,#e3e3ff 306px,#f4f4ff 328px,#f5f5ff 350px,#e6e6ff 371px,#eaeaff 393px,#fffcfc 415px,#fffbfb 437px,#ececff 458px,#e8e8ff 480px,#f6f6ff 502px,#f6f6ff 524px,#e8e8ff 546px,#e2e2ff 567px,#e4e4ff 589px,#e6e6ff 611px,#e7e7ff 633px,#e7e7ff 655px,#e6e6ff 676px,#e5e5ff 698px,#e5e5ff 720px,#e6e6ff 742px,#e6e6ff 763px,#e5e5ff 785px,#e4e4ff 807px,#e9e9ff 829px,#f2f2ff 851px,#fffbfb 872px,#ffe3e3 894px,#ffe9e9 916px,#f0f0ff 938px,#e0e0ff 959px,#e5e5ff 981px,#e7e7ff 1003px,#e6e6ff 1025px,#e5e5ff 1047px,#e3e3ff 1068px,#e5e5ff 1090px,#e9e9ff 1112px,#e1e1ff 1134px,#cfcfff 1155px,#cfcfff 1177px,#e1e1ff 1199px,#e9e9ff 1221px,#e7e7ff 1243px,#e5e5ff 1264px,#e5e5ff 1286px,#e6e6ff 1308px,#e6e6ff 1330px,#e5e5ff 1351px,#e3e3ff 1373px,#ededff 1395px,#fffbfb 1417px,#fffbfb 1439px,#efefff 1460px,#ddf 1482px,#cfcfff 1504px,#cbcbff 1526px,#d3d3ff 1547px,#d3d3ff 1569px,#cbcbff 1591px,#d0d0ff 1613px,#e1e1ff 1635px,#eaeaff 1656px,#eaeaff 1678px,#e1e1ff 1700px,#d0d0ff 1722px,#cfcfff 1744px,#e0e0ff 1765px,#e7e7ff 1787px,#e4e4ff 1809px,#e4e4ff 1831px,#e5e5ff 1852px,#e6e6ff 1874px,#e6e6ff 1896px,#e4e4ff 1918px,#e0e0ff 1940px,#e1e1ff 1961px,#e6e6ff 1983px,#e1e1ff 2005px,#d1d1ff 2027px,#cbcbff 2048px,#cdcdff 2070px,#ceceff 2092px,#ceceff 2114px)"></div><div style="top:352px;background:linear-gradient(90deg,#e2e2ff 1px,#e2e2ff 23px,#e3e3ff 45px,#e5e5ff 66px,#e6e6ff 88px,#e5e5ff 110px,#e6e6ff 132px,#e7e7ff 154px,#e5e5ff 175px,#e2e2ff 197px,#f2f2ff 219px,#ffeaea 241px,#ffebeb 262px,#ededff 284px,#e7e7ff 306px,#fffdfd 328px,#fffcfc 350px,#e9e9ff 371px,#e5e5ff 393px,#f6f6ff 415px,#f7f7ff 437px,#e8e8ff 458px,#ececff 480px,#fffcfc 502px,#fffcfc 524px,#eaeaff 546px,#e0e0ff 567px,#e4e4ff 589px,#e6e6ff 611px,#e7e7ff 633px,#e7e7ff 655px,#e6e6ff 676px,#e5e5ff 698px,#e5e5ff 720px,#e6e6ff 742px,#e6e6ff 763px,#e5e5ff 785px,#e3e3ff 807px,#ececff 829px,#fff 851px,#fee 872px,#ffdfdf 894px,#ffeaea 916px,#eef 938px,#dfdfff 959px,#e5e5ff 981px,#e7e7ff 1003px,#e6e6ff 1025px,#e5e5ff 1047px,#e2e2ff 1068px,#e3e3ff 1090px,#e8e8ff 1112px,#e1e1ff 1134px,#ceceff 1155px,#ceceff 1177px,#e0e0ff 1199px,#e9e9ff 1221px,#e6e6ff 1243px,#e5e5ff 1264px,#e5e5ff 1286px,#e6e6ff 1308px,#e6e6ff 1330px,#e5e5ff 1351px,#e4e4ff 1373px,#eaeaff 1395px,#f8f8ff 1417px,#f8f8ff 1439px,#ececff 1460px,#dedeff 1482px,#ceceff 1504px,#ccf 1526px,#d8d8ff 1547px,#d8d8ff 1569px,#ccf 1591px,#cfcfff 1613px,#e1e1ff 1635px,#e9e9ff 1656px,#e9e9ff 1678px,#e1e1ff 1700px,#d0d0ff 1722px,#cfcfff 1744px,#e0e0ff 1765px,#e6e6ff 1787px,#e3e3ff 1809px,#e2e2ff 1831px,#e5e5ff 1852px,#e6e6ff 1874px,#e6e6ff 1896px,#e4e4ff 1918px,#e0e0ff 1940px,#e1e1ff 1961px,#e6e6ff 1983px,#e1e1ff 2005px,#d1d1ff 2027px,#cacaff 2048px,#ccf 2070px,#cdcdff 2092px,#cdcdff 2114px)"></div><div style="top:360px;background:linear-gradient(90deg,#e2e2ff 1px,#e2e2ff 23px,#e3e3ff 45px,#e5e5ff 66px,#e6e6ff 88px,#e6e6ff 110px,#e6e6ff 132px,#e6e6ff 154px,#e5e5ff 175px,#e2e2ff 197px,#f1f1ff 219px,#ffebeb 241px,#ffeded 262px,#ededff 284px,#ebebff 306px,#fff2f2 328px,#fff2f2 350px,#ececff 371px,#e1e1ff 393px,#ebebff 415px,#ececff 437px,#e4e4ff 458px,#efefff 480px,#fff1f1 502px,#fff2f2 524px,#ededff 546px,#dfdfff 567px,#e4e4ff 589px,#e6e6ff 611px,#e6e6ff 633px,#e6e6ff 655px,#e6e6ff 676px,#e5e5ff 698px,#e5e5ff 720px,#e6e6ff 742px,#e6e6ff 763px,#e4e4ff 785px,#e2e2ff 807px,#efefff 829px,#fff5f5 851px,#ffe4e4 872px,#ffdede 894px,#ffecec 916px,#eef 938px,#dfdfff 959px,#e4e4ff 981px,#e6e6ff 1003px,#e6e6ff 1025px,#e5e5ff 1047px,#e2e2ff 1068px,#e3e3ff 1090px,#e7e7ff 1112px,#e0e0ff 1134px,#ceceff 1155px,#ceceff 1177px,#e0e0ff 1199px,#e8e8ff 1221px,#e6e6ff 1243px,#e5e5ff 1264px,#e5e5ff 1286px,#e6e6ff 1308px,#e6e6ff 1330px,#e5e5ff 1351px,#e5e5ff 1373px,#e8e8ff 1395px,#ededff 1417px,#eef 1439px,#e9e9ff 1460px,#dfdfff 1482px,#ceceff 1504px,#ceceff 1526px,#ddf 1547px,#ddf 1569px,#ceceff 1591px,#ceceff 1613px,#e0e0ff 1635px,#e9e9ff 1656px,#e8e8ff 1678px,#e0e0ff 1700px,#cfcfff 1722px,#cfcfff 1744px,#e0e0ff 1765px,#e7e7ff 1787px,#e3e3ff 1809px,#e3e3ff 1831px,#e5e5ff 1852px,#e6e6ff 1874px,#e6e6ff 1896px,#e5e5ff 1918px,#e2e2ff 1940px,#e2e2ff 1961px,#e6e6ff 1983px,#e1e1ff 2005px,#d1d1ff 2027px,#cacaff 2048px,#ccf 2070px,#ccf 2092px,#ccf 2114px)"></div><div style="top:368px;background:linear-gradient(90deg,#e5e5ff 1px,#e5e5ff 23px,#e5e5ff 45px,#e5e5ff 66px,#e6e6ff 88px,#e6e6ff 110px,#e6e6ff 132px,#e6e6ff 154px,#e4e4ff 175px,#e2e2ff 197px,#f1f1ff 219px,#ffecec 241px,#ffeded 262px,#ededff 284px,#ededff 306px,#ffeded 328px,#ffecec 350px,#f1f1ff 371px,#e2e2ff 393px,#e5e5ff 415px,#e5e5ff 437px,#e2e2ff 458px,#f1f1ff 480px,#ffecec 502px,#ffecec 524px,#f1f1ff 546px,#e2e2ff 567px,#e4e4ff 589px,#e6e6ff 611px,#e6e6ff 633px,#e6e6ff 655px,#e6e6ff 676px,#e5e5ff 698px,#e5e5ff 720px,#e6e6ff 742px,#e6e6ff 763px,#e4e4ff 785px,#e2e2ff 807px,#f0f0ff 829px,#fff0f0 851px,#ffe1e1 872px,#ffe0e0 894px,#fff0f0 916px,#f0f0ff 938px,#e2e2ff 959px,#e4e4ff 981px,#e6e6ff 1003px,#e6e6ff 1025px,#e5e5ff 1047px,#e5e5ff 1068px,#e6e6ff 1090px,#e7e7ff 1112px,#e0e0ff 1134px,#cfcfff 1155px,#cfcfff 1177px,#e0e0ff 1199px,#e7e7ff 1221px,#e6e6ff 1243px,#e5e5ff 1264px,#e5e5ff 1286px,#e6e6ff 1308px,#e6e6ff 1330px,#e5e5ff 1351px,#e5e5ff 1373px,#e6e6ff 1395px,#e6e6ff 1417px,#e6e6ff 1439px,#e7e7ff 1460px,#e0e0ff 1482px,#cfcfff 1504px,#d0d0ff 1526px,#e1e1ff 1547px,#e1e1ff 1569px,#d0d0ff 1591px,#cfcfff 1613px,#e0e0ff 1635px,#e8e8ff 1656px,#e8e8ff 1678px,#e0e0ff 1700px,#cfcfff 1722px,#cfcfff 1744px,#e0e0ff 1765px,#e7e7ff 1787px,#e6e6ff 1809px,#e5e5ff 1831px,#e5e5ff 1852px,#e6e6ff 1874px,#e6e6ff 1896px,#e5e5ff 1918px,#e5e5ff 1940px,#e6e6ff 1961px,#e7e7ff 1983px,#e0e0ff 2005px,#d1d1ff 2027px,#cacaff 2048px,#cbcbff 2070px,#ccf 2092px,#ccf 2114px)"></div><div style="top:376px;background:linear-gradient(90deg,#ededff 1px,#ededff 23px,#ebebff 45px,#e7e7ff 66px,#e5e5ff 88px,#e5e5ff 110px,#e6e6ff 132px,#e6e6ff 154px,#e4e4ff 175px,#e2e2ff 197px,#f1f1ff 219px,#ffecec 241px,#ffeded 262px,#eef 284px,#ececff 306px,#fff1f1 328px,#fee 350px,#f7f7ff 371px,#e8e8ff 393px,#e3e3ff 415px,#e1e1ff 437px,#e1e1ff 458px,#f0f0ff 480px,#fff0f0 502px,#fee 524px,#f6f6ff 546px,#e8e8ff 567px,#e6e6ff 589px,#e5e5ff 611px,#e5e5ff 633px,#e6e6ff 655px,#e6e6ff 676px,#e6e6ff 698px,#e6e6ff 720px,#e6e6ff 742px,#e6e6ff 763px,#e4e4ff 785px,#e2e2ff 807px,#efefff 829px,#fff3f3 851px,#ffe6e6 872px,#ffe8e8 894px,#fff4f4 916px,#f5f5ff 938px,#e9e9ff 959px,#e6e6ff 981px,#e5e5ff 1003px,#e5e5ff 1025px,#e7e7ff 1047px,#ececff 1068px,#ececff 1090px,#e9e9ff 1112px,#e0e0ff 1134px,#d2d2ff 1155px,#d3d3ff 1177px,#e1e1ff 1199px,#e7e7ff 1221px,#e6e6ff 1243px,#e6e6ff 1264px,#e6e6ff 1286px,#e6e6ff 1308px,#e6e6ff 1330px,#e6e6ff 1351px,#e6e6ff 1373px,#e5e5ff 1395px,#e3e3ff 1417px,#e3e3ff 1439px,#e6e6ff 1460px,#e1e1ff 1482px,#d2d2ff 1504px,#d3d3ff 1526px,#e3e3ff 1547px,#e3e3ff 1569px,#d3d3ff 1591px,#d2d2ff 1613px,#e0e0ff 1635px,#e8e8ff 1656px,#e8e8ff 1678px,#e0e0ff 1700px,#cfcfff 1722px,#cfcfff 1744px,#dfdfff 1765px,#e9e9ff 1787px,#ececff 1809px,#ececff 1831px,#e7e7ff 1852px,#e5e5ff 1874px,#e5e5ff 1896px,#e7e7ff 1918px,#ececff 1940px,#ececff 1961px,#e9e9ff 1983px,#e0e0ff 2005px,#d1d1ff 2027px,#cacaff 2048px,#cbcbff 2070px,#ccf 2092px,#ccf 2114px)"></div><div style="top:384px;background:linear-gradient(90deg,#f8f8ff 1px,#f8f8ff 23px,#f4f4ff 45px,#e9e9ff 66px,#e4e4ff 88px,#e5e5ff 110px,#e6e6ff 132px,#e6e6ff 154px,#e4e4ff 175px,#e2e2ff 197px,#f1f1ff 219px,#ffecec 241px,#ffeded 262px,#efefff 284px,#eaeaff 306px,#fffcfc 328px,#fff5f5 350px,#fefeff 371px,#f2f2ff 393px,#e6e6ff 415px,#e0e0ff 437px,#e2e2ff 458px,#ededff 480px,#fffbfb 502px,#fff5f5 524px,#fefeff 546px,#f3f3ff 567px,#e9e9ff 589px,#e4e4ff 611px,#e5e5ff 633px,#e6e6ff 655px,#e6e6ff 676px,#e6e6ff 698px,#e6e6ff 720px,#e6e6ff 742px,#e6e6ff 763px,#e5e5ff 785px,#e3e3ff 807px,#ededff 829px,#fffcfc 851px,#fff2f2 872px,#fff6f6 894px,#fffbfb 916px,#fcfcff 938px,#f4f4ff 959px,#e9e9ff 981px,#e4e4ff 1003px,#e4e4ff 1025px,#eaeaff 1047px,#f6f6ff 1068px,#f6f6ff 1090px,#ebebff 1112px,#e1e1ff 1134px,#d7d7ff 1155px,#d8d8ff 1177px,#e2e2ff 1199px,#e7e7ff 1221px,#e6e6ff 1243px,#e6e6ff 1264px,#e6e6ff 1286px,#e6e6ff 1308px,#e6e6ff 1330px,#e6e6ff 1351px,#e6e6ff 1373px,#e5e5ff 1395px,#e2e2ff 1417px,#e3e3ff 1439px,#e6e6ff 1460px,#e2e2ff 1482px,#d7d7ff 1504px,#d8d8ff 1526px,#e5e5ff 1547px,#e5e5ff 1569px,#d8d8ff 1591px,#d7d7ff 1613px,#e2e2ff 1635px,#e7e7ff 1656px,#e8e8ff 1678px,#e0e0ff 1700px,#cfcfff 1722px,#cfcfff 1744px,#dedeff 1765px,#ececff 1787px,#f6f6ff 1809px,#f6f6ff 1831px,#eaeaff 1852px,#e4e4ff 1874px,#e4e4ff 1896px,#eaeaff 1918px,#f6f6ff 1940px,#f6f6ff 1961px,#ececff 1983px,#dfdfff 2005px,#d1d1ff 2027px,#cacaff 2048px,#cbcbff 2070px,#ccf 2092px,#ccf 2114px)"></div><div style="top:392px;background:linear-gradient(90deg,#fff9f9 1px,#fff9f9 23px,#fff 45px,#ececff 66px,#e3e3ff 88px,#e5e5ff 110px,#e6e6ff 132px,#e6e6ff 154px,#e4e4ff 175px,#e2e2ff 197px,#f1f1ff 219px,#ffecec 241px,#ffeded 262px,#f0f0ff 284px,#e6e6ff 306px,#f5f5ff 328px,#fffefe 350px,#fff8f8 371px,#fff 393px,#eaeaff 415px,#e1e1ff 437px,#e3e3ff 458px,#eaeaff 480px,#f6f6ff 502px,#fffefe 524px,#fff8f8 546px,#fffefe 567px,#ececff 589px,#e3e3ff 611px,#e5e5ff 633px,#e6e6ff 655px,#e6e6ff 676px,#e6e6ff 698px,#e6e6ff 720px,#e6e6ff 742px,#e6e6ff 763px,#e5e5ff 785px,#e4e4ff 807px,#eaeaff 829px,#f7f7ff 851px,#fcfcff 872px,#f9f9ff 894px,#fcfcff 916px,#fff9f9 938px,#fffefe 959px,#ececff 981px,#e3e3ff 1003px,#e3e3ff 1025px,#ededff 1047px,#fffdfd 1068px,#fffdfd 1090px,#ededff 1112px,#e1e1ff 1134px,#dcdcff 1155px,#ddf 1177px,#e3e3ff 1199px,#e6e6ff 1221px,#e6e6ff 1243px,#e6e6ff 1264px,#e6e6ff 1286px,#e6e6ff 1308px,#e6e6ff 1330px,#e6e6ff 1351px,#e6e6ff 1373px,#e5e5ff 1395px,#e3e3ff 1417px,#e4e4ff 1439px,#e6e6ff 1460px,#e3e3ff 1482px,#ddf 1504px,#dedeff 1526px,#e5e5ff 1547px,#e5e5ff 1569px,#dedeff 1591px,#ddf 1613px,#e3e3ff 1635px,#e7e7ff 1656px,#e8e8ff 1678px,#e0e0ff 1700px,#cfcfff 1722px,#cfcfff 1744px,#ddf 1765px,#eef 1787px,#fffcfc 1809px,#fffdfd 1831px,#ededff 1852px,#e3e3ff 1874px,#e3e3ff 1896px,#ededff 1918px,#fffdfd 1940px,#fffcfc 1961px,#eef 1983px,#dedeff 2005px,#d0d0ff 2027px,#cacaff 2048px,#cbcbff 2070px,#ccf 2092px,#ccf 2114px)"></div><div style="top:400px;background:linear-gradient(90deg,#ffeded 1px,#ffeded 23px,#fff6f6 45px,#eef 66px,#e2e2ff 88px,#e4e4ff 110px,#e6e6ff 132px,#e6e6ff 154px,#e4e4ff 175px,#e2e2ff 197px,#f1f1ff 219px,#ffecec 241px,#ffecec 262px,#f0f0ff 284px,#e3e3ff 306px,#e8e8ff 328px,#f7f7ff 350px,#fff1f1 371px,#fff4f4 393px,#eef 415px,#e2e2ff 437px,#e4e4ff 458px,#e6e6ff 480px,#eaeaff 502px,#f7f7ff 524px,#fff1f1 546px,#fff3f3 567px,#efefff 589px,#e2e2ff 611px,#e4e4ff 633px,#e6e6ff 655px,#e6e6ff 676px,#e6e6ff 698px,#e6e6ff 720px,#e6e6ff 742px,#e6e6ff 763px,#e5e5ff 785px,#e5e5ff 807px,#e7e7ff 829px,#ececff 851px,#ededff 872px,#ebebff 894px,#f5f5ff 916px,#fff1f1 938px,#fff3f3 959px,#efefff 981px,#e1e1ff 1003px,#e1e1ff 1025px,#efefff 1047px,#fff3f3 1068px,#fff3f3 1090px,#f0f0ff 1112px,#e2e2ff 1134px,#e1e1ff 1155px,#e2e2ff 1177px,#e5e5ff 1199px,#e6e6ff 1221px,#e6e6ff 1243px,#e6e6ff 1264px,#e6e6ff 1286px,#e6e6ff 1308px,#e6e6ff 1330px,#e6e6ff 1351px,#e6e6ff 1373px,#e5e5ff 1395px,#e5e5ff 1417px,#e5e5ff 1439px,#e6e6ff 1460px,#e5e5ff 1482px,#e2e2ff 1504px,#e2e2ff 1526px,#e5e5ff 1547px,#e5e5ff 1569px,#e2e2ff 1591px,#e2e2ff 1613px,#e5e5ff 1635px,#e6e6ff 1656px,#e7e7ff 1678px,#e0e0ff 1700px,#cfcfff 1722px,#ceceff 1744px,#ddf 1765px,#f1f1ff 1787px,#fff2f2 1809px,#fff3f3 1831px,#efefff 1852px,#e1e1ff 1874px,#e1e1ff 1896px,#efefff 1918px,#fff3f3 1940px,#fff2f2 1961px,#f1f1ff 1983px,#ddf 2005px,#d0d0ff 2027px,#cacaff 2048px,#cbcbff 2070px,#ccf 2092px,#ccf 2114px)"></div><div style="top:408px;background:linear-gradient(90deg,#ffe6e6 1px,#ffe6e6 23px,#fff0f0 45px,#f0f0ff 66px,#e2e2ff 88px,#e4e4ff 110px,#e6e6ff 132px,#e6e6ff 154px,#e4e4ff 175px,#e2e2ff 197px,#f1f1ff 219px,#ffecec 241px,#ffecec 262px,#f1f1ff 284px,#e1e1ff 306px,#e1e1ff 328px,#f1f1ff 350px,#ffecec 371px,#ffecec 393px,#f1f1ff 415px,#e2e2ff 437px,#e4e4ff 458px,#e4e4ff 480px,#e2e2ff 502px,#f1f1ff 524px,#ffecec 546px,#ffecec 567px,#f1f1ff 589px,#e2e2ff 611px,#e4e4ff 633px,#e6e6ff 655px,#e6e6ff 676px,#e6e6ff 698px,#e6e6ff 720px,#e6e6ff 742px,#e6e6ff 763px,#e6e6ff 785px,#e6e6ff 807px,#e6e6ff 829px,#e6e6ff 851px,#e4e4ff 872px,#e2e2ff 894px,#f1f1ff 916px,#ffecec 938px,#ffecec 959px,#f1f1ff 981px,#e1e1ff 1003px,#e1e1ff 1025px,#f1f1ff 1047px,#ffecec 1068px,#ffecec 1090px,#f1f1ff 1112px,#e2e2ff 1134px,#e4e4ff 1155px,#e6e6ff 1177px,#e6e6ff 1199px,#e6e6ff 1221px,#e6e6ff 1243px,#e6e6ff 1264px,#e6e6ff 1286px,#e6e6ff 1308px,#e6e6ff 1330px,#e6e6ff 1351px,#e6e6ff 1373px,#e6e6ff 1395px,#e6e6ff 1417px,#e6e6ff 1439px,#e6e6ff 1460px,#e6e6ff 1482px,#e6e6ff 1504px,#e6e6ff 1526px,#e6e6ff 1547px,#e6e6ff 1569px,#e6e6ff 1591px,#e6e6ff 1613px,#e6e6ff 1635px,#e6e6ff 1656px,#e7e7ff 1678px,#e0e0ff 1700px,#cfcfff 1722px,#ceceff 1744px,#dcdcff 1765px,#f3f3ff 1787px,#ffecec 1809px,#ffecec 1831px,#f1f1ff 1852px,#e1e1ff 1874px,#e1e1ff 1896px,#f1f1ff 1918px,#ffecec 1940px,#ffecec 1961px,#f3f3ff 1983px,#ddf 2005px,#d0d0ff 2027px,#cacaff 2048px,#cbcbff 2070px,#ccf 2092px,#ccf 2114px)"></div><div style="top:416px;background:linear-gradient(90deg,#ffe6e6 1px,#ffe6e6 23px,#fff0f0 45px,#f0f0ff 66px,#e2e2ff 88px,#e4e4ff 110px,#e6e6ff 132px,#e6e6ff 154px,#e4e4ff 175px,#e2e2ff 197px,#f1f1ff 219px,#ffecec 241px,#ffecec 262px,#f1f1ff 284px,#e1e1ff 306px,#e1e1ff 328px,#f1f1ff 350px,#ffecec 371px,#ffecec 393px,#f1f1ff 415px,#e2e2ff 437px,#e4e4ff 458px,#e4e4ff 480px,#e2e2ff 502px,#f1f1ff 524px,#ffecec 546px,#ffecec 567px,#f1f1ff 589px,#e2e2ff 611px,#e4e4ff 633px,#e6e6ff 655px,#e6e6ff 676px,#e6e6ff 698px,#e6e6ff 720px,#e6e6ff 742px,#e6e6ff 763px,#e6e6ff 785px,#e6e6ff 807px,#e6e6ff 829px,#e6e6ff 851px,#e4e4ff 872px,#e2e2ff 894px,#f1f1ff 916px,#ffecec 938px,#ffecec 959px,#f1f1ff 981px,#e1e1ff 1003px,#e1e1ff 1025px,#f1f1ff 1047px,#ffecec 1068px,#ffecec 1090px,#f1f1ff 1112px,#e2e2ff 1134px,#e4e4ff 1155px,#e6e6ff 1177px,#e6e6ff 1199px,#e6e6ff 1221px,#e6e6ff 1243px,#e6e6ff 1264px,#e6e6ff 1286px,#e6e6ff 1308px,#e6e6ff 1330px,#e6e6ff 1351px,#e6e6ff 1373px,#e6e6ff 1395px,#e6e6ff 1417px,#e6e6ff 1439px,#e6e6ff 1460px,#e6e6ff 1482px,#e6e6ff 1504px,#e6e6ff 1526px,#e6e6ff 1547px,#e6e6ff 1569px,#e6e6ff 1591px,#e6e6ff 1613px,#e6e6ff 1635px,#e6e6ff 1656px,#e7e7ff 1678px,#e0e0ff 1700px,#cfcfff 1722px,#ceceff 1744px,#dcdcff 1765px,#f3f3ff 1787px,#ffecec 1809px,#ffecec 1831px,#f1f1ff 1852px,#e1e1ff 1874px,#e1e1ff 1896px,#f1f1ff 1918px,#ffecec 1940px,#ffecec 1961px,#f3f3ff 1983px,#ddf 2005px,#d0d0ff 2027px,#cacaff 2048px,#cbcbff 2070px,#ccf 2092px,#ccf 2114px)"></div></div></div>
<svg width="2500" height="1526" viewBox="0 0 2500 1526">
<defs><linearGradient id="h1" gradientUnits="userSpaceOnUse" x1="354" y1="0" x2="616" y2="0"><stop offset="0" stop-color="#ff2e2e"/><stop offset="0.4" stop-color="#ff3838"/><stop offset="0.6" stop-color="#ff7373"/><stop offset="0.8" stop-color="#ff9494"/><stop offset="1" stop-color="#ffa3a3"/></linearGradient><linearGradient id="r2" gradientUnits="userSpaceOnUse" x1="0" y1="996" x2="0" y2="1140"><stop offset="0.000" stop-color="#ffc8c8"/><stop offset="0.062" stop-color="#ff9191"/><stop offset="0.222" stop-color="#ff7e7e"/><stop offset="0.306" stop-color="#ff5a5a"/><stop offset="0.688" stop-color="#ff5a5a"/><stop offset="0.792" stop-color="#ff7e7e"/><stop offset="1.000" stop-color="#ffacac"/></linearGradient><linearGradient id="r3" gradientUnits="userSpaceOnUse" x1="0" y1="990" x2="0" y2="1138"><stop offset="0.000" stop-color="#ffb6b6"/><stop offset="0.068" stop-color="#ff6c6c"/><stop offset="0.135" stop-color="#ff5a5a"/><stop offset="0.878" stop-color="#ff5a5a"/><stop offset="1.000" stop-color="#ffacac"/></linearGradient><linearGradient id="r4" gradientUnits="userSpaceOnUse" x1="0" y1="1008" x2="0" y2="1150"><stop offset="0.000" stop-color="#ffbfbf"/><stop offset="0.070" stop-color="#ff7575"/><stop offset="0.331" stop-color="#ff6c6c"/><stop offset="0.401" stop-color="#ff5151"/><stop offset="0.683" stop-color="#ff5a5a"/><stop offset="0.789" stop-color="#ff9191"/><stop offset="1.000" stop-color="#ffb6b6"/></linearGradient><filter id="fb" x="-20%" y="-20%" width="140%" height="140%"><feGaussianBlur stdDeviation="3"/></filter><filter id="fr" x="-20%" y="-30%" width="140%" height="160%"><feGaussianBlur stdDeviation="5"/></filter><filter id="fs" x="-50%" y="-10%" width="200%" height="120%"><feGaussianBlur stdDeviation="1.5 6"/></filter><filter id="fw" x="-50%" y="-50%" width="200%" height="200%"><feGaussianBlur stdDeviation="9"/></filter><filter id="fc" x="-50%" y="-20%" width="200%" height="140%"><feGaussianBlur stdDeviation="1.2"/></filter><clipPath id="cpC"><rect x="220" y="980" width="2088" height="398"/></clipPath></defs>
<g clip-path="url(#cpC)"><g filter="url(#fw)"><path d="M352.0 1090.0 L372.0 1120.0 L400.0 1150.0 L372.0 1200.0 L350.0 1200.0Z" fill="#a6a6ff"/><path d="M870.0 1030.0 L906.0 1118.0 L930.0 1135.0 L925.0 1200.0 L875.0 1210.0Z" fill="#9999ff"/><path d="M1394.0 1005.0 L1435.0 1135.0 L1445.0 1190.0 L1400.0 1215.0Z" fill="#9999ff"/><path d="M1918.0 1015.0 L1979.0 1150.0 L1960.0 1200.0 L1925.0 1220.0Z" fill="#9999ff"/></g><g filter="url(#fr)"><path d="M354.0 1003.0 L622.0 1003.0 L622.0 1170.0 L608.0 1187.0 L567.0 1130.0 L502.0 1119.0 L437.0 1103.0 L356.0 1091.0Z" fill="#ffb8b8"/><path d="M354.0 1049.0 L470.0 1048.0 L520.0 1040.0 L616.0 1028.0 L616.0 1120.0 L567.0 1124.0 L520.0 1115.0 L470.0 1104.0 L437.0 1099.0 L356.0 1091.0Z" fill="url(#h1)"/><path d="M868.0 996.0 L1160.0 996.0 L1160.0 1118.0 L1124.0 1120.0 L1042.0 1130.0 L987.0 1141.0 L933.0 1130.0 L906.0 1120.0 L890.0 1080.0Z" fill="url(#r2)"/><path d="M1392.0 993.0 L1690.0 993.0 L1690.0 1138.0 L1435.0 1138.0 L1415.0 1070.0Z" fill="url(#r3)"/><path d="M1918.0 1010.0 L2205.0 1010.0 L2205.0 1112.0 L2100.0 1118.0 L2033.0 1115.0 L2006.0 1150.0 L1979.0 1150.0 L1945.0 1080.0Z" fill="url(#r4)"/></g><g filter="url(#fb)"><path d="M331.0 983.0 L340.0 983.0 L353.0 1090.0 L356.0 1200.0 L336.0 1204.0 L330.0 1100.0Z" fill="#2626ff"/><path d="M855.0 1005.0 L868.0 1002.0 L880.0 1060.0 L890.0 1130.0 L876.0 1212.0 L856.0 1212.0 L853.0 1100.0Z" fill="#2626ff"/><path d="M1375.0 1005.0 L1388.0 1000.0 L1402.0 1060.0 L1412.0 1140.0 L1400.0 1215.0 L1380.0 1215.0 L1374.0 1100.0Z" fill="#2626ff"/><path d="M1898.0 1000.0 L1910.0 995.0 L1922.0 1050.0 L1935.0 1120.0 L1928.0 1221.0 L1905.0 1221.0 L1896.0 1100.0Z" fill="#2626ff"/><path d="M627.0 1010.0 L642.0 1006.0 L644.0 1100.0 L638.0 1192.0 L632.0 1194.0 L626.0 1100.0Z" fill="#ff0d0d"/><path d="M1146.0 1018.0 L1161.0 1013.0 L1162.0 1120.0 L1154.0 1238.0 L1149.0 1236.0 L1145.0 1120.0Z" fill="#ff0d0d"/><path d="M1670.0 1030.0 L1687.0 1026.0 L1688.0 1110.0 L1680.0 1200.0 L1674.0 1198.0 L1669.0 1110.0Z" fill="#ff0d0d"/><path d="M2192.0 1086.0 L2207.0 1082.0 L2208.0 1140.0 L2201.0 1205.0 L2196.0 1203.0 L2191.0 1140.0Z" fill="#ff0d0d"/></g><g filter="url(#fs)"><rect x="670.0" y="976" width="5.0" height="274" fill="#6666ff"/><rect x="688.0" y="976" width="5.0" height="224" fill="#6666ff"/><rect x="695.0" y="990" width="4.0" height="370" fill="#ff8080"/><rect x="703.0" y="1080" width="8.0" height="140" fill="#8080ff"/><rect x="731.0" y="976" width="3.5" height="304" fill="#1919ff"/><rect x="735.0" y="976" width="4.5" height="304" fill="#ff4040"/><rect x="744.0" y="1000" width="5.0" height="250" fill="#9999ff"/><rect x="1192.0" y="976" width="3.0" height="224" fill="#9999ff"/><rect x="1199.0" y="976" width="4.0" height="284" fill="#2626ff"/><rect x="1206.0" y="990" width="3.5" height="270" fill="#ff6666"/><rect x="1213.0" y="976" width="4.0" height="304" fill="#1919ff"/><rect x="1218.0" y="1000" width="4.0" height="280" fill="#ff3333"/><rect x="1226.0" y="1060" width="3.5" height="80" fill="#8080ff"/><rect x="1232.0" y="990" width="3.0" height="210" fill="#ff9999"/><rect x="1237.0" y="990" width="3.0" height="210" fill="#8080ff"/><rect x="1266.0" y="976" width="4.0" height="259" fill="#4040ff"/><rect x="1273.0" y="976" width="4.0" height="194" fill="#ff7373"/><rect x="1181.0" y="1160" width="5.0" height="90" fill="#ffb2b2"/><rect x="1739.0" y="976" width="6.0" height="274" fill="#1919ff"/><rect x="1747.0" y="990" width="3.0" height="260" fill="#ff9999"/><rect x="1772.0" y="990" width="4.0" height="205" fill="#4040ff"/><rect x="1779.0" y="990" width="2.5" height="260" fill="#ff9999"/><rect x="1810.0" y="1030" width="5.0" height="80" fill="#ff7373"/><rect x="1822.0" y="976" width="3.5" height="164" fill="#ff2626"/><rect x="1818.0" y="976" width="3.5" height="224" fill="#8080ff"/><rect x="1712.0" y="1000" width="5.0" height="360" fill="#ffb2b2"/></g>
<g filter="url(#fc)"><path d="M338.0 1071.0 L345.5 1071.0 L349.0 1116.0 L350.5 1178.0 L343.0 1193.0 L337.5 1178.0 L335.0 1116.0Z" fill="#000"/><path d="M860.0 1029.0 L870.0 1028.0 L871.0 1110.0 L870.0 1190.0 L865.5 1207.0 L861.0 1190.0 L859.5 1110.0Z" fill="#000"/><path d="M1377.0 1025.0 L1390.0 1024.0 L1395.0 1110.0 L1394.0 1185.0 L1388.0 1196.0 L1381.0 1180.0 L1378.0 1110.0Z" fill="#000"/><path d="M1902.0 1010.0 L1912.0 1008.0 L1920.0 1100.0 L1922.0 1170.0 L1915.0 1177.0 L1905.0 1165.0 L1902.0 1100.0Z" fill="#000"/></g></g>
<g fill="none" stroke="#000" stroke-width="2.7">
<rect x="218.75" y="70.45" width="2090.90" height="404.75"/>
<rect x="218.75" y="524.55" width="2090.90" height="400.95"/>
<rect x="218.75" y="978.6" width="2090.90" height="400.90"/>
</g>
<g stroke="#000" stroke-width="2.7" fill="none">
<path d="M218.75 81.40H238.05 M218.75 159.40H238.05 M218.75 237.40H238.05 M218.75 315.40H238.05 M218.75 393.40H238.05 M218.75 471.40H238.05 M480.11 475.20V455.70 M741.48 475.20V455.70 M1002.84 475.20V455.70 M1264.20 475.20V455.70 M1525.56 475.20V455.70 M1786.93 475.20V455.70 M2048.29 475.20V455.70 M218.75 535.30H238.05 M218.75 613.30H238.05 M218.75 691.30H238.05 M218.75 769.30H238.05 M218.75 847.30H238.05 M480.11 925.50V906.00 M741.48 925.50V906.00 M1002.84 925.50V906.00 M1264.20 925.50V906.00 M1525.56 925.50V906.00 M1786.93 925.50V906.00 M2048.29 925.50V906.00 M218.75 989.60H238.05 M218.75 1067.60H238.05 M218.75 1145.60H238.05 M218.75 1223.60H238.05 M218.75 1301.60H238.05 M480.11 1379.50V1360.00 M741.48 1379.50V1360.00 M1002.84 1379.50V1360.00 M1264.20 1379.50V1360.00 M1525.56 1379.50V1360.00 M1786.93 1379.50V1360.00 M2048.29 1379.50V1360.00"/>
</g>
<defs><linearGradient id="cbg" x1="0" y1="0" x2="0" y2="1"><stop offset="0" stop-color="#ff0000"/><stop offset="0.5" stop-color="#ffffff"/><stop offset="1" stop-color="#0000ff"/></linearGradient></defs>
<rect x="2331.15" y="71.65" width="42.30" height="401.80" fill="url(#cbg)" stroke="#000" stroke-width="2.7"/>
<rect x="2331.55" y="527.35" width="42.70" height="396.40" fill="url(#cbg)" stroke="#000" stroke-width="2.7"/>
<rect x="2329.55" y="980.45" width="42.40" height="402.30" fill="url(#cbg)" stroke="#000" stroke-width="2.7"/>
<g fill="none" stroke="#000" stroke-width="2.7">
<rect x="648.6" y="73.0" width="103.80" height="1308.00"/>
<rect x="1174.3" y="72.5" width="103.80" height="1307.80"/>
<rect x="1696.5" y="68.5" width="131.70" height="1308.10"/>
</g>
<g font-family="Liberation Serif, Times New Roman, serif" font-size="68.5" fill="#000">
<text transform="translate(533.58,46.60) scale(0.9374,1)">ISWs-1</text>
<text transform="translate(1039.23,53.20) scale(0.9595,1)">ISWs-2</text>
<text transform="translate(1629.66,53.80) scale(0.9445,1)">ISWs-3</text>
<text transform="translate(1291.14,64.30) scale(0.9575,1)">u (m/s)</text>
<text transform="translate(1289.90,514.50) scale(0.9474,1)">v (m/s)</text>
<text transform="translate(1289.84,965.60) scale(0.9490,1)">w (m/s)</text>
<text transform="translate(258.06,134.80) scale(0.9768,1)">(A)</text>
<text transform="translate(262.69,592.10) scale(0.9661,1)">(B)</text>
<text transform="translate(251.20,1052.50) scale(0.9649,1)">(C)</text>
<text transform="translate(2398.50,96.70) scale(0.9584,1)">0.5</text>
<text transform="translate(2399.40,295.90) scale(0.9576,1)">0.0</text>
<text transform="translate(2399.52,493.60) scale(0.9349,1)">-0.5</text>
<text transform="translate(2399.80,552.00) scale(0.9584,1)">0.5</text>
<text transform="translate(2399.80,750.50) scale(0.9576,1)">0.0</text>
<text transform="translate(2400.02,944.20) scale(0.9349,1)">-0.5</text>
<text transform="translate(2397.58,1004.20) scale(0.9265,1)">0.1</text>
<text transform="translate(2398.20,1203.70) scale(0.9576,1)">0.0</text>
<text transform="translate(2398.38,1403.30) scale(0.9128,1)">-0.1</text>
<text transform="translate(129.82,101.40) scale(0.9740,1)">68</text>
<text transform="translate(96.46,179.40) scale(0.9740,1)">180</text>
<text transform="translate(97.60,257.40) scale(0.9740,1)">292</text>
<text transform="translate(94.96,335.40) scale(0.9740,1)">404</text>
<text transform="translate(95.91,413.40) scale(0.9740,1)">516</text>
<text transform="translate(96.46,491.40) scale(0.9740,1)">628</text>
<text transform="translate(129.82,555.30) scale(0.9740,1)">68</text>
<text transform="translate(96.46,633.30) scale(0.9740,1)">180</text>
<text transform="translate(97.60,711.30) scale(0.9740,1)">292</text>
<text transform="translate(94.96,789.30) scale(0.9740,1)">404</text>
<text transform="translate(95.91,867.30) scale(0.9740,1)">516</text>
<text transform="translate(96.46,945.30) scale(0.9740,1)">628</text>
<text transform="translate(129.82,1009.60) scale(0.9740,1)">68</text>
<text transform="translate(96.46,1087.60) scale(0.9740,1)">180</text>
<text transform="translate(97.60,1165.60) scale(0.9740,1)">292</text>
<text transform="translate(94.96,1243.60) scale(0.9740,1)">404</text>
<text transform="translate(95.91,1321.60) scale(0.9740,1)">516</text>
<text transform="translate(96.46,1399.60) scale(0.9740,1)">628</text>
<text transform="translate(143.17,1451.20) scale(0.9687,1)">00:00</text>
<text transform="translate(403.96,1451.20) scale(0.9552,1)">12:00</text>
<text transform="translate(665.90,1451.20) scale(0.9687,1)">00:00</text>
<text transform="translate(926.69,1451.20) scale(0.9552,1)">12:00</text>
<text transform="translate(1188.62,1451.20) scale(0.9687,1)">00:00</text>
<text transform="translate(1449.41,1451.20) scale(0.9552,1)">12:00</text>
<text transform="translate(1711.35,1451.20) scale(0.9687,1)">00:00</text>
<text transform="translate(1972.14,1451.20) scale(0.9552,1)">12:00</text>
<text transform="translate(2234.07,1451.20) scale(0.9687,1)">00:00</text>
<text transform="translate(814.02,1509.90) scale(0.9572,1)">Time from 2020/8/21 12:00:00 (hour)</text>
<text transform="translate(47.30,410.21) rotate(-90) scale(0.9671,1)">Depth (m)</text>
<text transform="translate(51.90,878.50) rotate(-90) scale(0.9650,1)">Depth (m)</text>
<text transform="translate(59.50,1332.91) rotate(-90) scale(0.9661,1)">Depth (m)</text>
</g>
</svg></div></body></html>
